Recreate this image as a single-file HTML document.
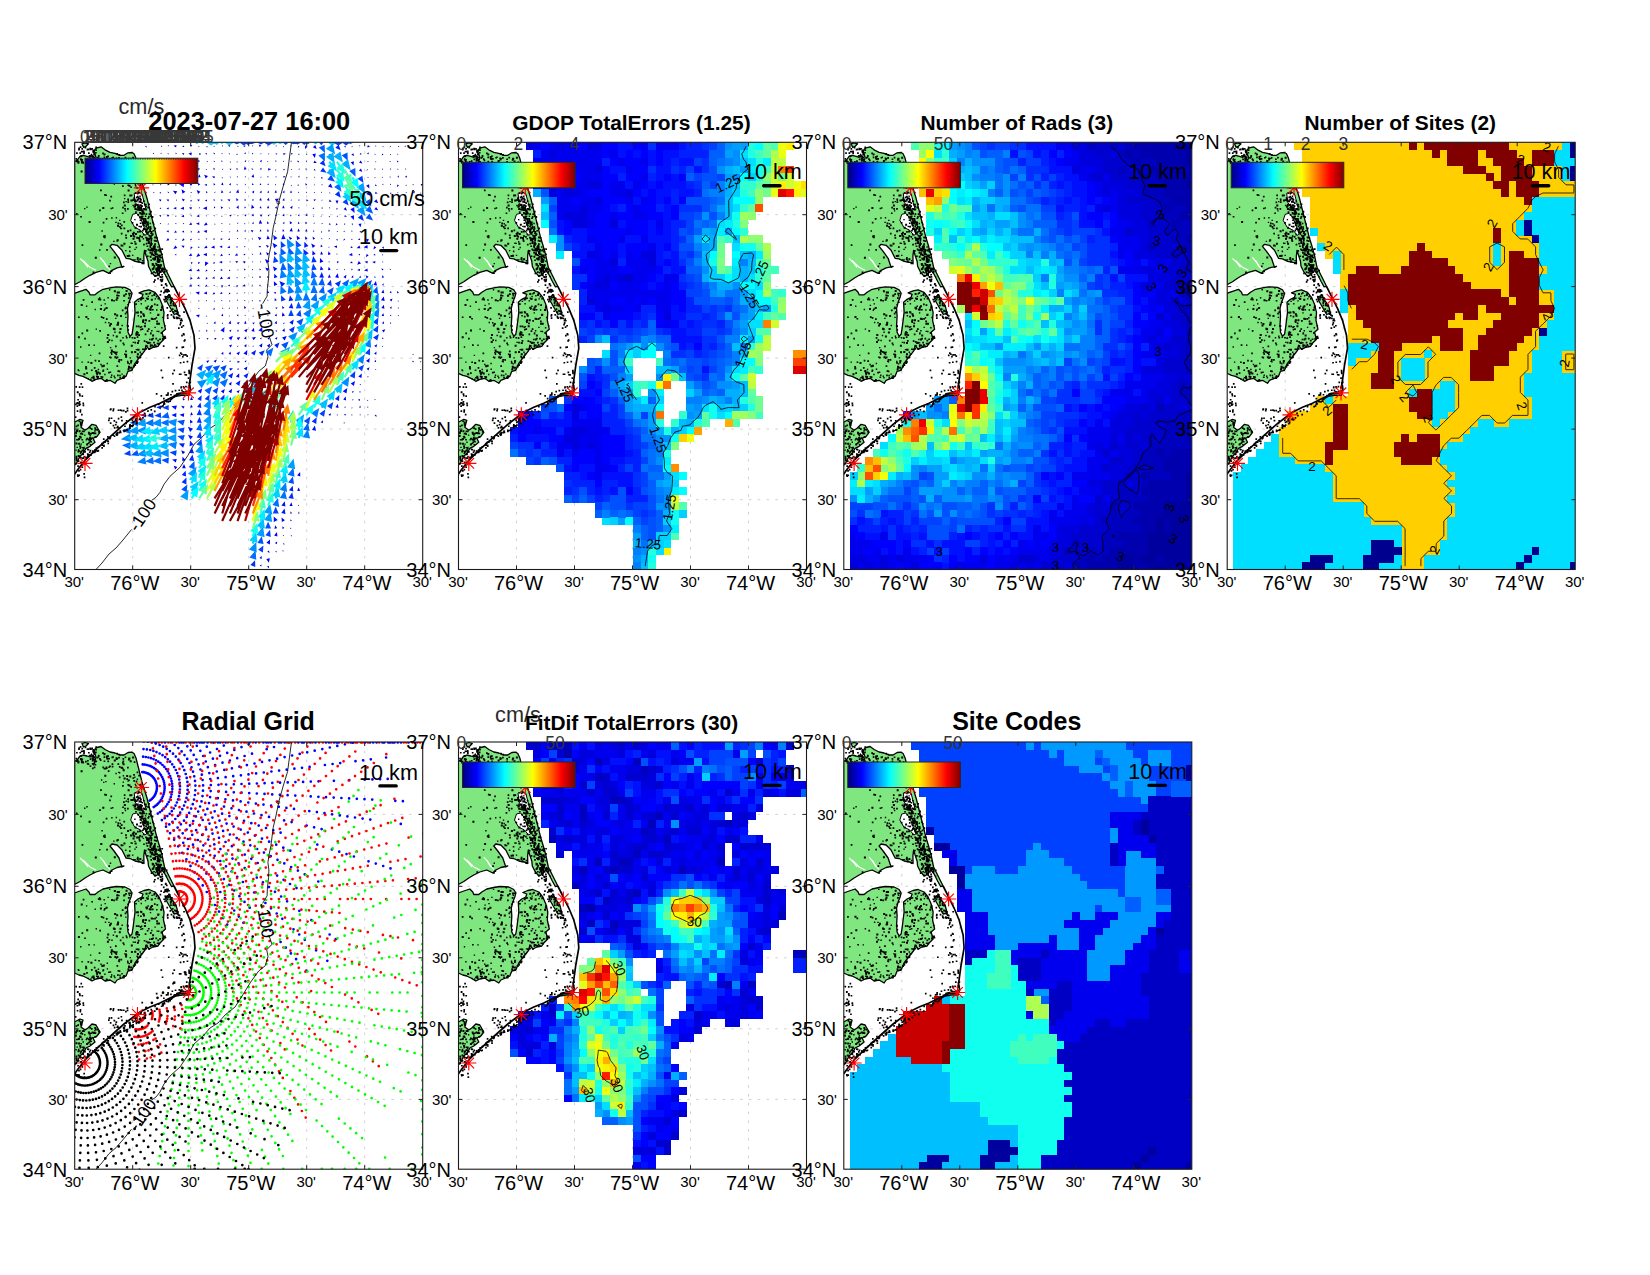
<!DOCTYPE html><html><head><meta charset="utf-8"><title>HFR Totals QC 2023-07-27 16:00</title>
<style>html,body{margin:0;padding:0;background:#fff}svg{display:block}</style></head><body>
<svg width="1650" height="1275" viewBox="0 0 1650 1275" font-family="'Liberation Sans',Arial,Helvetica,sans-serif">
<defs><linearGradient id="jet" x1="0" x2="1" y1="0" y2="0"><stop offset="0%" stop-color="#000080"/><stop offset="3.1%" stop-color="#00009f"/><stop offset="6.2%" stop-color="#0000bf"/><stop offset="9.4%" stop-color="#0000df"/><stop offset="12.5%" stop-color="#0000ff"/><stop offset="15.6%" stop-color="#0020ff"/><stop offset="18.8%" stop-color="#0040ff"/><stop offset="21.9%" stop-color="#0060ff"/><stop offset="25%" stop-color="#0080ff"/><stop offset="28.1%" stop-color="#009fff"/><stop offset="31.2%" stop-color="#00bfff"/><stop offset="34.4%" stop-color="#00dfff"/><stop offset="37.5%" stop-color="#00ffff"/><stop offset="40.6%" stop-color="#20ffdf"/><stop offset="43.8%" stop-color="#40ffbf"/><stop offset="46.9%" stop-color="#60ff9f"/><stop offset="50%" stop-color="#80ff80"/><stop offset="53.1%" stop-color="#9fff60"/><stop offset="56.2%" stop-color="#bfff40"/><stop offset="59.4%" stop-color="#dfff20"/><stop offset="62.5%" stop-color="#ffff00"/><stop offset="65.6%" stop-color="#ffdf00"/><stop offset="68.8%" stop-color="#ffbf00"/><stop offset="71.9%" stop-color="#ff9f00"/><stop offset="75%" stop-color="#ff8000"/><stop offset="78.1%" stop-color="#ff6000"/><stop offset="81.2%" stop-color="#ff4000"/><stop offset="84.4%" stop-color="#ff2000"/><stop offset="87.5%" stop-color="#ff0000"/><stop offset="90.6%" stop-color="#df0000"/><stop offset="93.8%" stop-color="#bf0000"/><stop offset="96.9%" stop-color="#9f0000"/><stop offset="100%" stop-color="#800000"/></linearGradient><clipPath id="ax"><rect x="0" y="0" width="348" height="427.2"/></clipPath><g id="land"><g fill="#80e680" stroke="#000" stroke-width="1.3" stroke-linejoin="round"><path d="M-0.2 19.5 2.8 17.5 5.3 14 8.3 13 12.3 14 15.3 15 16.8 12 18.8 15.5 20.3 19 21.3 15 19.3 10 20.3 7 22.3 5.5 26.3 4.5 30.3 7.5 35.3 10 40.3 11 45.3 13 49.3 13 53.3 10.5 57.3 10.2 59.3 11.5 61.3 16 63.3 24 65.3 32 67.3 40 69.8 48 72.3 56 74.3 64 76.3 72 78.3 80 80.3 88 82.3 96 84.8 104 87.3 113 89.8 125 91.3 128 95.3 136 99.3 144 96.8 144.5 93.8 139 90.3 132 87.3 128 85.3 124 83.3 124 82.8 133 80.3 134 76.3 129 73.8 124 73.3 119 71.3 113 69.8 108 69.1 114 69.3 121.5 68.3 120.5 60.3 119 55.3 116.5 51.3 116 47.3 108 42.3 103 37.3 102 35.3 104 39.3 109 44.3 116 47.3 125 49.3 124 42.3 125.5 37.3 128 34.3 131 28.3 128 21.3 130 15.3 133 10.3 136 5.3 139.5 -0.2 142.5Z"/><path d="M-0.2 151 5.3 149 11.3 147 14.3 150 15.3 152.5 20.3 152.5 23.3 150 28.3 147 35.3 145.5 41.3 144.5 50.3 145 55.3 147.5 57.3 151 56.3 155 54.3 160 52.8 166 53.3 174 52.8 183 53.3 190 55.3 194 57.3 192 58.3 186 59.3 178 60.3 170 59.8 160 63.3 157 67.3 155 68.3 152 64.3 150.5 69.3 148.5 74.3 147.5 80.3 150 84.3 155 87.3 162 89.3 170 88.8 178 90.8 187 87.3 190 89.3 197 85.3 201 83.3 204 78.3 205 74.3 207 71.3 203 70.3 208 67.3 212 63.3 217 60.3 221 57.3 228 53.3 229 51.3 234 47.3 236 42.3 238 40.3 241 35.3 238 30.3 239 26.3 236 21.3 237 17.3 239 12.3 236 8.3 234 4.3 233 -0.2 231Z"/><path d="M-0.2 280 5.3 277 8.3 278 6.3 285 10.3 288 13.3 286 17.3 282 21.3 283 25.3 290 22.3 294 18.3 296 20.3 300 15.3 304 11.3 306 9.3 310 5.3 314 2.3 320 -0.2 323Z"/><path d="M90.3 154 95.3 155 101.3 163 103.3 171 99.3 172 95.3 165 91.3 158Z"/><path d="M7.3 1.5 10.3 0.5 13.8 1.5 11.3 4 8.8 5Z"/><path d="M115.3 248 114.3 253 107.3 253 101.3 254 95.3 257.5 103.3 251 109.3 250Z"/></g><path d="M59.5 51 64 49.5 67.5 52 69.5 60 71 66 68 67 64 65 60.5 60ZM56 78 58 72 62 71 66 76 69 84 72 92 70 93 66 88 60 85Z" fill="#fff" stroke="#000" stroke-width="1"/><path d="M99.3 144 103.3 152 110.3 166 115.3 178 119.3 193 120.3 206 117.3 223 114.3 245 115.3 244 115.8 248 114.3 251 105.3 251.5 95.3 256 85.3 261 75.3 265 65.3 270 57.3 276 49.3 282 40.3 290 30.3 299 20.3 308 10.3 318 3.3 327 -0.2 332" fill="none" stroke="#000" stroke-width="1.7"/><path d="M8.3 118 15.3 125 21.3 128" fill="none" stroke="#fff" stroke-width="1.2"/><path d="M28.3 118 31.3 123 35.3 127.5" fill="none" stroke="#fff" stroke-width="1.2"/><path d="M5.3 116 10.3 121 13.3 125" fill="none" stroke="#fff" stroke-width="1.2"/><path d="M25.3 115 29.3 120 32.3 125" fill="none" stroke="#fff" stroke-width="1.2"/><path d="M5.5 73.6h1.7v1.7h-1.7zM59.9 84.5h2v2h-2zM55.3 92.6h2v2h-2zM67.7 81.8h1.7v1.7h-1.7zM64.6 62h2v2h-2zM25.6 101.1h2v2h-2zM66.6 93.8h1.7v1.7h-1.7zM83.9 118.8h1.7v1.7h-1.7zM64.9 55.2h1.4v1.4h-1.4zM46.1 85.4h1.4v1.4h-1.4zM70.3 66.2h2v2h-2zM13.9 78.8h2v2h-2zM28.3 93.2h1.7v1.7h-1.7zM74.9 110h1.4v1.4h-1.4zM77.7 107.3h2v2h-2zM75.1 68.5h2v2h-2zM62 115.9h2v2h-2zM62.3 88.7h1.7v1.7h-1.7zM62.4 50.8h1.4v1.4h-1.4zM62.9 118.2h2v2h-2zM82.9 112.6h1.4v1.4h-1.4zM52.9 47.3h2v2h-2zM9.3 65.6h1.4v1.4h-1.4zM48.7 100.4h2v2h-2zM76.7 73.6h2v2h-2zM11.6 64.1h1.4v1.4h-1.4zM40.7 30.8h1.4v1.4h-1.4zM68 95.7h1.4v1.4h-1.4zM41 74.8h1.4v1.4h-1.4zM36.5 75h1.4v1.4h-1.4zM80.7 98h1.7v1.7h-1.7zM47.5 25.8h1.4v1.4h-1.4zM48.9 35.6h2v2h-2zM79.1 102.5h1.7v1.7h-1.7zM63.2 55.2h1.7v1.7h-1.7zM56.9 100.4h1.4v1.4h-1.4zM29.4 51.7h1.7v1.7h-1.7zM55.7 57.1h2v2h-2zM71.3 95.3h2v2h-2zM59.6 106.4h1.4v1.4h-1.4zM35.8 65.5h1.4v1.4h-1.4zM59.5 98.7h1.4v1.4h-1.4zM61.7 66.7h1.4v1.4h-1.4zM58.6 93.2h1.4v1.4h-1.4zM59 19.3h1.7v1.7h-1.7zM64.2 42.2h1.7v1.7h-1.7zM64.8 58.8h1.7v1.7h-1.7zM56 52.3h1.7v1.7h-1.7zM52.3 24.8h1.7v1.7h-1.7zM52.9 57.2h1.4v1.4h-1.4zM52.3 65.7h1.7v1.7h-1.7zM40.6 79.4h1.4v1.4h-1.4zM32.5 13.2h1.7v1.7h-1.7zM54.6 52.2h2v2h-2zM80.6 126.6h1.4v1.4h-1.4zM50.1 67.9h1.4v1.4h-1.4zM80.4 129.8h1.4v1.4h-1.4zM59.5 76.6h1.4v1.4h-1.4zM34.4 57.5h1.7v1.7h-1.7zM70.2 73.2h1.4v1.4h-1.4zM83.9 106.2h1.4v1.4h-1.4zM63.1 54.9h1.7v1.7h-1.7zM42 15.8h1.4v1.4h-1.4zM34.6 130.1h1.7v1.7h-1.7zM5.9 28.3h2v2h-2zM58.6 38h1.7v1.7h-1.7zM68.5 86.4h1.4v1.4h-1.4zM78.2 112.1h1.7v1.7h-1.7zM74.5 86.4h1.7v1.7h-1.7zM47.4 102.9h1.4v1.4h-1.4zM72.2 113.1h1.7v1.7h-1.7zM79.9 132.6h1.7v1.7h-1.7zM57.3 112.4h1.4v1.4h-1.4zM61.9 29.5h1.7v1.7h-1.7zM47.1 70.1h1.7v1.7h-1.7zM50.7 94.7h1.7v1.7h-1.7zM38.9 41.1h1.4v1.4h-1.4zM47.9 21.2h2v2h-2zM57.7 92.3h2v2h-2zM49.2 55.6h1.4v1.4h-1.4zM63.9 96.8h1.7v1.7h-1.7zM57 79.8h1.7v1.7h-1.7zM61.7 44.7h1.7v1.7h-1.7zM62.6 64.8h1.4v1.4h-1.4zM77.8 121.3h1.7v1.7h-1.7zM50.4 92.3h1.7v1.7h-1.7zM59.8 57.2h1.7v1.7h-1.7zM35.7 53.5h1.7v1.7h-1.7zM72.6 64.1h2v2h-2zM85.1 106.3h1.4v1.4h-1.4zM61.3 81.5h2v2h-2zM55 87.3h1.7v1.7h-1.7zM80.2 108.1h2v2h-2zM85.9 122h1.4v1.4h-1.4zM59.9 100.5h2v2h-2zM68.8 82.7h1.4v1.4h-1.4zM71.8 103.1h1.4v1.4h-1.4zM60 41.7h1.4v1.4h-1.4zM75.2 93.7h1.7v1.7h-1.7zM74.9 101.1h2v2h-2zM84.7 108.1h2v2h-2zM36 128.2h1.7v1.7h-1.7zM42.8 80.3h1.7v1.7h-1.7zM55 18.3h2v2h-2zM31 75.7h1.7v1.7h-1.7zM28.3 39.7h1.4v1.4h-1.4zM24.4 107h1.4v1.4h-1.4zM54.5 108.6h1.4v1.4h-1.4zM63.5 94.6h2v2h-2zM64.6 93h1.7v1.7h-1.7zM43.4 29.7h1.4v1.4h-1.4zM66.3 51.1h1.4v1.4h-1.4zM61 104.5h1.4v1.4h-1.4zM28 79.5h1.7v1.7h-1.7zM33.7 123.3h1.7v1.7h-1.7zM64.5 69.8h1.7v1.7h-1.7zM46.1 90.4h1.7v1.7h-1.7zM60.5 43.1h1.4v1.4h-1.4zM50.4 107.6h1.4v1.4h-1.4zM52.7 38.4h1.4v1.4h-1.4zM45 80.8h1.4v1.4h-1.4zM47.3 43h1.7v1.7h-1.7zM47.9 39.4h1.4v1.4h-1.4zM62.2 114.8h1.7v1.7h-1.7zM52.7 58.9h1.7v1.7h-1.7zM57.8 95.4h2v2h-2zM58.1 89.4h2v2h-2zM60.2 90.7h2v2h-2zM62.3 53.5h1.7v1.7h-1.7zM53.4 37.4h1.7v1.7h-1.7zM73.5 61.1h1.7v1.7h-1.7zM20.2 22h1.4v1.4h-1.4zM71 100.8h1.4v1.4h-1.4zM58.7 56.4h2v2h-2zM41.7 98.1h1.4v1.4h-1.4zM53.8 42.4h2v2h-2zM66.8 120h2v2h-2zM30.5 38.9h1.4v1.4h-1.4zM52 112.7h2v2h-2zM44.2 30h1.4v1.4h-1.4zM45.3 85.5h1.4v1.4h-1.4zM26.7 88h1.4v1.4h-1.4zM46.2 82.2h1.7v1.7h-1.7zM56.8 57.6h1.4v1.4h-1.4zM37.3 65h1.4v1.4h-1.4zM74.7 102.9h1.7v1.7h-1.7zM88.7 125.7h1.4v1.4h-1.4zM31.5 106.7h1.7v1.7h-1.7zM67.2 117.7h1.4v1.4h-1.4zM79.9 132.9h1.7v1.7h-1.7zM77.6 125.5h2v2h-2zM44.1 34.6h1.7v1.7h-1.7zM82.6 104h1.4v1.4h-1.4zM51.5 33h2v2h-2zM54.4 108.3h1.4v1.4h-1.4zM86.7 118.2h1.4v1.4h-1.4zM63.6 32.7h1.7v1.7h-1.7zM60.9 38.5h1.7v1.7h-1.7zM59.7 116.9h1.4v1.4h-1.4zM29 93.9h2v2h-2zM91.1 133.6h1.4v1.4h-1.4zM44.3 77.4h1.4v1.4h-1.4zM52.4 87.9h2v2h-2zM70.2 107.8h1.7v1.7h-1.7zM66.8 59.9h1.7v1.7h-1.7zM72.7 84.9h2v2h-2zM65.8 41.8h1.7v1.7h-1.7zM47.5 64.4h1.7v1.7h-1.7zM57.8 35.2h1.7v1.7h-1.7zM58.9 63.4h2v2h-2zM65.1 56.5h2v2h-2zM64.2 65.7h1.4v1.4h-1.4zM49.9 14.4h1.7v1.7h-1.7zM55.8 100.3h1.4v1.4h-1.4zM48 27.3h2v2h-2zM53.7 15.5h2v2h-2zM39.1 114.2h2v2h-2zM37.8 14.3h1.4v1.4h-1.4zM39.1 17.6h2v2h-2zM58.2 117h1.4v1.4h-1.4zM65 83.9h1.4v1.4h-1.4zM33.6 24.6h1.4v1.4h-1.4zM64.3 97.9h1.7v1.7h-1.7zM53.3 16.7h1.7v1.7h-1.7zM52.6 56.2h1.7v1.7h-1.7zM63.1 49.5h2v2h-2zM74.8 80.5h1.4v1.4h-1.4zM48 33h1.4v1.4h-1.4zM50.8 58.6h1.4v1.4h-1.4zM48.7 78.7h1.7v1.7h-1.7zM17.9 129.2h1.7v1.7h-1.7zM76.5 110h2v2h-2zM29.6 32.8h2v2h-2zM57.8 62.5h1.4v1.4h-1.4zM29.5 92.6h1.4v1.4h-1.4zM54.2 103.9h1.7v1.7h-1.7zM63.7 83.4h1.4v1.4h-1.4zM79.3 112.6h1.4v1.4h-1.4zM58.5 32h1.7v1.7h-1.7zM59.7 65.7h2v2h-2zM73.9 71h2v2h-2zM78.4 81.1h1.4v1.4h-1.4zM51.7 36.2h1.7v1.7h-1.7zM45.9 102.3h2v2h-2zM77.5 79.5h1.4v1.4h-1.4zM1.2 70.6h1.7v1.7h-1.7zM42.3 82.5h2v2h-2zM53.5 15.8h1.7v1.7h-1.7zM30.6 52.1h1.7v1.7h-1.7zM62 36.5h1.4v1.4h-1.4zM58.6 55h1.7v1.7h-1.7zM35.1 120.6h1.4v1.4h-1.4zM57.2 90.8h1.4v1.4h-1.4zM33.1 28.3h1.7v1.7h-1.7zM49.1 62.1h2v2h-2zM64.3 88.3h2v2h-2zM79.5 94.2h2v2h-2zM48.8 85.3h1.7v1.7h-1.7zM64.6 116h2v2h-2zM53.5 112.4h2v2h-2zM87.2 126.3h2v2h-2zM79.9 116.6h1.4v1.4h-1.4zM57.4 14.4h2v2h-2zM52.7 42.1h1.7v1.7h-1.7zM79.4 85.3h2v2h-2zM58.9 93.5h1.7v1.7h-1.7zM49.1 52.3h1.7v1.7h-1.7zM44.4 83.7h1.7v1.7h-1.7zM57.8 91.5h1.4v1.4h-1.4zM82.9 112.3h2v2h-2zM83.9 113.5h1.4v1.4h-1.4zM63.8 58.7h1.7v1.7h-1.7zM55.6 44.1h1.7v1.7h-1.7zM26.2 37.3h1.4v1.4h-1.4zM59.5 34.4h1.4v1.4h-1.4zM38.5 98.4h1.4v1.4h-1.4zM82 115.5h2v2h-2zM24.4 67.2h1.7v1.7h-1.7zM31.3 13.6h1.4v1.4h-1.4zM54.6 33.4h2v2h-2zM61.5 94.5h2v2h-2zM2.7 19.5h2v2h-2zM82.7 124.1h2v2h-2zM60.4 49.9h1.7v1.7h-1.7zM20.1 114.5h2v2h-2zM61.3 58.3h1.4v1.4h-1.4zM80.9 106.6h1.7v1.7h-1.7zM40.9 15.2h1.7v1.7h-1.7zM6.9 102h1.7v1.7h-1.7zM48.3 59.2h1.7v1.7h-1.7zM25.4 47.2h1.7v1.7h-1.7zM68.2 57.9h1.7v1.7h-1.7zM83.8 116.5h2v2h-2zM80.1 113.7h1.4v1.4h-1.4zM42 96.9h2v2h-2zM68.5 75.7h1.4v1.4h-1.4zM81.3 94.6h1.7v1.7h-1.7zM49.5 65.7h1.7v1.7h-1.7zM27.6 64.7h2v2h-2zM64.6 53.2h1.4v1.4h-1.4zM59.2 195h1.7v1.7h-1.7zM26.1 174h1.7v1.7h-1.7zM67.7 171h2v2h-2zM22.7 229.2h2v2h-2zM67.6 179.1h1.7v1.7h-1.7zM42.3 181.3h2v2h-2zM43.9 228.2h1.7v1.7h-1.7zM27.9 174.7h1.7v1.7h-1.7zM11.2 163.2h1.4v1.4h-1.4zM64.7 214.7h1.4v1.4h-1.4zM52.3 218.5h1.4v1.4h-1.4zM82.8 155.3h2v2h-2zM51.2 194.6h1.7v1.7h-1.7zM24.2 230.2h2v2h-2zM29.2 166.1h1.7v1.7h-1.7zM81.4 167h1.4v1.4h-1.4zM62.4 214.5h1.7v1.7h-1.7zM19 236.5h1.4v1.4h-1.4zM20.9 186.1h1.4v1.4h-1.4zM76.2 202.2h2v2h-2zM42.3 232.2h1.7v1.7h-1.7zM81.5 153.1h1.4v1.4h-1.4zM77.4 192.2h2v2h-2zM53.3 224.1h2v2h-2zM76.2 196.1h2v2h-2zM39.4 209.2h1.7v1.7h-1.7zM65.2 156.3h2v2h-2zM68.3 172.5h2v2h-2zM79.9 155.9h1.4v1.4h-1.4zM36.1 207.3h2v2h-2zM65.9 160.8h1.4v1.4h-1.4zM40.8 211.3h1.7v1.7h-1.7zM50 170.5h1.7v1.7h-1.7zM55.5 219.4h1.7v1.7h-1.7zM25.8 233.8h1.4v1.4h-1.4zM55.1 150.6h1.4v1.4h-1.4zM23.5 217.9h1.7v1.7h-1.7zM43.2 218.4h1.4v1.4h-1.4zM3.2 193.9h2v2h-2zM66.2 183.6h1.4v1.4h-1.4zM35.6 209.6h1.4v1.4h-1.4zM28.8 167.4h1.4v1.4h-1.4zM50.9 193.2h1.4v1.4h-1.4zM50.8 165.2h1.4v1.4h-1.4zM75.1 199.9h1.4v1.4h-1.4zM54.1 152.7h1.4v1.4h-1.4zM77.4 175.9h1.7v1.7h-1.7zM30.2 237.8h1.4v1.4h-1.4zM32.7 154.7h1.4v1.4h-1.4zM65.2 214.4h1.4v1.4h-1.4zM75.2 190.4h1.7v1.7h-1.7zM60.5 160.9h1.7v1.7h-1.7zM74.7 149.7h1.7v1.7h-1.7zM55.4 224.4h2v2h-2zM47.1 167.2h1.7v1.7h-1.7zM82.7 171.4h2v2h-2zM62.2 206.4h1.7v1.7h-1.7zM83.4 200.4h2v2h-2zM59.5 221.3h1.7v1.7h-1.7zM79.4 175.7h1.7v1.7h-1.7zM10.5 225.3h2v2h-2zM17.8 233.4h2v2h-2zM76.7 152.7h1.4v1.4h-1.4zM35.7 234.1h1.7v1.7h-1.7zM21.3 233.4h1.7v1.7h-1.7zM75.1 203.7h1.4v1.4h-1.4zM12.8 219.1h1.7v1.7h-1.7zM62.8 206.4h2v2h-2zM62.2 191.8h1.4v1.4h-1.4zM53 187h1.4v1.4h-1.4zM3.3 174.1h1.7v1.7h-1.7zM60.9 169.5h1.7v1.7h-1.7zM52.1 182.8h2v2h-2zM60.7 191.8h1.7v1.7h-1.7zM65.6 169.1h2v2h-2zM47.1 145.1h1.4v1.4h-1.4zM19.1 224.8h1.7v1.7h-1.7zM70.1 157.9h1.4v1.4h-1.4zM73.8 177.8h1.7v1.7h-1.7zM42.8 227.9h1.7v1.7h-1.7zM39.1 148h2v2h-2zM87.2 195.6h2v2h-2zM11.5 187.2h2v2h-2zM78.5 199.5h1.7v1.7h-1.7zM25.2 165.6h2v2h-2zM38 192.5h1.4v1.4h-1.4zM67.7 155.1h1.7v1.7h-1.7zM12.7 175.6h1.7v1.7h-1.7zM81 153.9h1.4v1.4h-1.4zM47.6 234.3h2v2h-2zM83.2 180.4h2v2h-2zM25.9 162.4h1.4v1.4h-1.4zM56.1 202.5h2v2h-2zM78.6 151.6h2v2h-2zM50.4 164.2h1.4v1.4h-1.4zM54.9 214.9h1.4v1.4h-1.4zM48.6 201.8h1.4v1.4h-1.4zM6.8 190.2h1.7v1.7h-1.7zM15.7 219.8h2v2h-2zM28.1 222.5h2v2h-2zM6 161.6h2v2h-2zM68.6 206.2h1.7v1.7h-1.7zM59.6 199.4h1.7v1.7h-1.7zM76.4 187.8h1.4v1.4h-1.4zM81.5 178.2h1.7v1.7h-1.7zM75.5 190h1.4v1.4h-1.4zM80.7 195.5h1.7v1.7h-1.7zM19.9 166.5h1.4v1.4h-1.4zM69.6 180.3h1.7v1.7h-1.7zM84.5 196.1h1.7v1.7h-1.7zM32.2 198.8h2v2h-2zM72.4 199.9h1.7v1.7h-1.7zM44.6 232.5h1.4v1.4h-1.4zM25 156.1h1.4v1.4h-1.4zM36.3 232.3h1.4v1.4h-1.4zM52.8 226.2h2v2h-2zM58.2 223.1h2v2h-2zM43.5 152.8h1.4v1.4h-1.4zM49.4 211.2h1.4v1.4h-1.4zM72.4 155.5h1.7v1.7h-1.7zM56.9 194.6h1.7v1.7h-1.7zM12.8 235.7h1.4v1.4h-1.4zM42 214.2h1.7v1.7h-1.7zM36.3 157h2v2h-2zM62.3 189.7h1.7v1.7h-1.7zM87.5 174.5h1.4v1.4h-1.4zM50.5 151h1.7v1.7h-1.7zM40.4 175.4h1.4v1.4h-1.4zM50.4 208.2h1.7v1.7h-1.7zM88.5 194.5h2v2h-2zM71.5 166.1h1.4v1.4h-1.4zM8.7 231h2v2h-2zM56.2 208.9h2v2h-2zM50.9 147.7h2v2h-2zM65.3 168.7h1.4v1.4h-1.4zM85.5 166.8h2v2h-2zM65.5 186.7h1.4v1.4h-1.4zM81.8 188.4h1.4v1.4h-1.4zM2.9 227h1.4v1.4h-1.4zM18 235h2v2h-2zM62.9 172.8h1.4v1.4h-1.4zM36.4 208.5h1.4v1.4h-1.4zM33.8 196.9h1.7v1.7h-1.7zM74.9 166.4h2v2h-2zM22.9 233.8h1.4v1.4h-1.4zM41.6 152.2h2v2h-2zM46.8 182.5h1.4v1.4h-1.4zM86.4 184.7h1.4v1.4h-1.4zM49.9 165.2h1.7v1.7h-1.7zM43.8 216.8h1.7v1.7h-1.7zM26.7 222.9h2v2h-2zM62 194h1.7v1.7h-1.7zM61.8 213.5h1.7v1.7h-1.7zM41.7 154.8h2v2h-2zM29.8 160.9h1.4v1.4h-1.4zM79.2 161.2h1.7v1.7h-1.7zM54 220.9h1.4v1.4h-1.4zM45.1 197.5h1.7v1.7h-1.7zM38.8 233.3h1.4v1.4h-1.4zM89.5 182.8h1.4v1.4h-1.4zM6.7 219.1h1.4v1.4h-1.4zM48.7 152.2h2v2h-2zM50.4 211.4h2v2h-2zM54.2 159.1h1.7v1.7h-1.7zM61.1 183.3h1.7v1.7h-1.7zM70.4 205.5h2v2h-2zM31.2 236.6h1.7v1.7h-1.7zM64.4 214.5h1.4v1.4h-1.4zM35.2 214.4h1.7v1.7h-1.7zM72.9 153.4h1.4v1.4h-1.4zM48.4 232.9h2v2h-2zM66.9 185.9h1.7v1.7h-1.7zM65.8 211h1.7v1.7h-1.7zM61 206.6h1.4v1.4h-1.4zM35.1 229.3h1.4v1.4h-1.4zM78 203.1h2v2h-2zM16.6 234.6h1.4v1.4h-1.4zM31.9 194.8h1.7v1.7h-1.7zM31.6 237.4h1.7v1.7h-1.7zM32.5 191.6h2v2h-2zM79.7 184.4h1.4v1.4h-1.4zM75.2 164.3h2v2h-2zM44.8 185.7h2v2h-2zM20.5 228.2h1.7v1.7h-1.7zM47.6 194.8h1.4v1.4h-1.4zM24.8 156.5h1.7v1.7h-1.7zM5.3 204h1.4v1.4h-1.4zM30.9 164.8h2v2h-2zM83.3 188.5h1.4v1.4h-1.4zM45.3 172.6h2v2h-2zM24 210.2h1.7v1.7h-1.7zM39.7 214h2v2h-2zM73.2 185.9h1.7v1.7h-1.7zM50.4 213.5h2v2h-2zM67.3 178.1h1.7v1.7h-1.7zM85.9 189.6h2v2h-2zM46.6 231.1h1.4v1.4h-1.4zM64.8 209.3h1.4v1.4h-1.4zM82 200.4h1.7v1.7h-1.7zM33.5 179.7h1.4v1.4h-1.4zM73.1 199.5h2v2h-2zM77.2 166.6h1.7v1.7h-1.7zM41.5 172.2h2v2h-2zM32 226.2h1.4v1.4h-1.4zM82.7 197.5h1.7v1.7h-1.7zM34.3 146.7h1.4v1.4h-1.4zM35.2 204.6h1.4v1.4h-1.4zM44.7 234.5h1.7v1.7h-1.7zM70.2 177h2v2h-2zM55.8 227.1h1.7v1.7h-1.7zM62.2 199.7h2v2h-2zM41.1 215.3h1.4v1.4h-1.4zM70.8 150.7h2v2h-2zM76.2 163h2v2h-2zM53.3 223.5h2v2h-2zM52.4 219.8h1.7v1.7h-1.7zM48 234.6h2v2h-2zM53.2 155.1h1.4v1.4h-1.4zM40.3 203.2h1.7v1.7h-1.7zM74.4 196.5h1.4v1.4h-1.4zM20.5 227.8h2v2h-2zM42 149.1h2v2h-2zM31.9 220.5h1.4v1.4h-1.4zM21.6 231.3h1.7v1.7h-1.7zM28.8 157h1.4v1.4h-1.4zM13.5 201.9h1.7v1.7h-1.7zM18.8 202.2h1.4v1.4h-1.4zM61.3 188.9h2v2h-2zM38.2 185.4h2v2h-2zM62 218.4h2v2h-2zM75.1 202h1.7v1.7h-1.7zM76.1 156.4h2v2h-2zM60.7 190.1h1.7v1.7h-1.7zM57.9 199.4h1.4v1.4h-1.4zM35.2 180.7h2v2h-2zM51.2 169h1.7v1.7h-1.7zM15.2 212.4h1.4v1.4h-1.4zM19.9 217.4h1.7v1.7h-1.7zM81.6 180.5h2v2h-2zM71.6 202.7h1.4v1.4h-1.4zM8 156.8h1.7v1.7h-1.7zM67.3 206.2h1.4v1.4h-1.4zM11.5 230h1.7v1.7h-1.7zM16.6 158.9h1.7v1.7h-1.7zM59.5 208.8h2v2h-2zM41.8 223h1.7v1.7h-1.7zM60.2 209.3h1.4v1.4h-1.4zM53.3 155h1.7v1.7h-1.7zM34.4 214.1h1.7v1.7h-1.7zM69.2 182.9h2v2h-2zM30.1 179.5h1.4v1.4h-1.4zM65.4 173.4h1.7v1.7h-1.7zM76.1 175.4h2v2h-2zM71.9 155.7h2v2h-2zM39.4 170.9h2v2h-2zM73.8 150.8h1.4v1.4h-1.4zM3.4 227.6h1.4v1.4h-1.4zM62.2 169.2h2v2h-2zM72.1 187.9h1.7v1.7h-1.7zM64.9 213.2h1.4v1.4h-1.4zM71.2 155.2h1.4v1.4h-1.4zM33.4 229.4h1.7v1.7h-1.7zM44.1 189.2h2v2h-2zM27.6 228.2h1.4v1.4h-1.4zM61.3 219.6h2v2h-2zM21.2 230h1.7v1.7h-1.7zM86.7 163.2h2v2h-2zM39.6 189.3h1.4v1.4h-1.4zM70.7 164.4h2v2h-2zM38.5 157.6h1.7v1.7h-1.7zM53.5 150.4h2v2h-2zM31.2 176h1.7v1.7h-1.7zM36.6 197.5h1.4v1.4h-1.4zM63.2 158.4h1.4v1.4h-1.4zM52.6 161.6h1.4v1.4h-1.4zM71.6 164.9h1.7v1.7h-1.7zM64.4 214.9h1.4v1.4h-1.4zM26.6 234h2v2h-2zM39.5 234.8h1.4v1.4h-1.4zM79.1 150.7h1.7v1.7h-1.7zM55.6 217.7h2v2h-2zM69 197.9h1.7v1.7h-1.7zM24.2 154.9h1.4v1.4h-1.4zM10.5 223.7h1.7v1.7h-1.7zM47.8 200.3h1.7v1.7h-1.7zM44 218.8h1.4v1.4h-1.4zM23 226.5h1.4v1.4h-1.4zM79.3 201.8h1.7v1.7h-1.7zM72.7 163.3h1.4v1.4h-1.4zM23.2 156.2h1.7v1.7h-1.7zM75.1 169.9h1.4v1.4h-1.4zM48.5 157.6h1.7v1.7h-1.7zM24.6 187.7h1.7v1.7h-1.7zM40.9 156.4h2v2h-2zM36.3 211.4h1.4v1.4h-1.4zM63.6 192h1.7v1.7h-1.7zM41.5 209.3h1.4v1.4h-1.4zM10.7 173.8h2v2h-2zM16.2 227.1h1.7v1.7h-1.7zM22.3 235.3h1.7v1.7h-1.7zM36.2 210.5h1.4v1.4h-1.4zM71.1 198.7h1.7v1.7h-1.7zM39.8 209.7h2v2h-2zM42.4 179.4h2v2h-2zM87.9 193.6h1.7v1.7h-1.7zM27.8 227.2h1.7v1.7h-1.7zM45.8 216.8h1.7v1.7h-1.7zM43.2 149.1h2v2h-2zM62.2 211h2v2h-2zM38.9 185.9h2v2h-2zM82.5 172.1h1.7v1.7h-1.7zM70 191.2h1.7v1.7h-1.7zM67.7 177h2v2h-2zM81 174.8h1.4v1.4h-1.4zM41.8 181.7h1.7v1.7h-1.7zM10.8 173.7h1.4v1.4h-1.4zM86.4 164.5h2v2h-2zM54.3 194.2h1.4v1.4h-1.4zM48.5 152.8h1.7v1.7h-1.7zM37.9 208.7h1.7v1.7h-1.7zM25.6 221.5h1.4v1.4h-1.4zM59.4 221.7h2v2h-2zM29.5 231.5h1.4v1.4h-1.4zM41.1 193.3h2v2h-2zM9.5 195.4h1.7v1.7h-1.7zM81.8 162h1.7v1.7h-1.7zM80.6 203.2h1.7v1.7h-1.7zM50.5 174.4h1.4v1.4h-1.4zM34.3 182.2h2v2h-2zM15.6 236.3h1.4v1.4h-1.4zM0.9 283.2h1.7v1.7h-1.7zM14.9 298.3h1.4v1.4h-1.4zM5.2 281.2h2v2h-2zM8.2 288.1h1.4v1.4h-1.4zM6.7 296.6h1.7v1.7h-1.7zM10.9 296.9h1.4v1.4h-1.4zM3.2 306.7h1.4v1.4h-1.4zM0.7 307.1h1.4v1.4h-1.4zM0.8 290.2h1.4v1.4h-1.4zM2.6 282.3h1.7v1.7h-1.7zM1.8 287.2h1.7v1.7h-1.7zM20.9 293.8h1.4v1.4h-1.4zM2.8 296.4h1.7v1.7h-1.7zM13.8 290.9h1.7v1.7h-1.7zM0.8 315.2h2v2h-2zM19.6 284.9h2v2h-2zM8.3 308.1h1.7v1.7h-1.7zM8.5 305.6h1.4v1.4h-1.4zM5.1 310.3h1.4v1.4h-1.4zM12.4 300.6h1.4v1.4h-1.4zM9.5 308.7h1.7v1.7h-1.7zM5.5 304.6h1.4v1.4h-1.4zM4.8 305.2h1.4v1.4h-1.4zM13.2 300.2h1.4v1.4h-1.4zM23.4 288.4h2v2h-2zM5.2 290.8h1.4v1.4h-1.4zM4.6 303h2v2h-2zM5.9 282.3h1.7v1.7h-1.7zM14.7 285h1.7v1.7h-1.7zM6.8 291h1.7v1.7h-1.7zM13.2 296.2h2v2h-2zM5.3 294.4h1.7v1.7h-1.7zM7.8 299.3h1.4v1.4h-1.4zM3.9 288h2v2h-2zM4.3 293.6h1.4v1.4h-1.4zM13.2 289.5h2v2h-2zM1.3 287.7h2v2h-2zM2.8 308.5h1.7v1.7h-1.7zM0.8 313.4h1.7v1.7h-1.7zM13.9 299.2h1.7v1.7h-1.7zM11.5 296.1h1.4v1.4h-1.4zM11.4 301.1h2v2h-2zM1.3 296.9h1.4v1.4h-1.4zM4.6 293.4h2v2h-2zM15.6 295.5h1.7v1.7h-1.7zM16.8 295h1.4v1.4h-1.4zM3.1 318h1.7v1.7h-1.7zM0.6 292.5h1.4v1.4h-1.4zM0.8 300.2h2v2h-2zM5.8 301.1h1.4v1.4h-1.4zM3.4 295.7h2v2h-2zM21.6 286.7h1.7v1.7h-1.7zM8.7 304.5h1.4v1.4h-1.4zM8.4 305.1h1.7v1.7h-1.7zM15.5 290.4h1.7v1.7h-1.7zM3.4 300.5h2v2h-2zM8.7 288.5h1.4v1.4h-1.4zM7.8 307h1.4v1.4h-1.4zM19.5 288h1.4v1.4h-1.4zM5.5 308.5h2v2h-2zM11.7 295.5h1.7v1.7h-1.7zM19.8 294h1.7v1.7h-1.7zM9.4 292.1h1.4v1.4h-1.4zM5.1 279.3h2v2h-2zM15.9 298.7h1.4v1.4h-1.4zM14 296.4h2v2h-2zM3 312.6h2v2h-2zM1.8 304.4h1.4v1.4h-1.4zM16.2 286h1.7v1.7h-1.7zM19.9 290.2h1.7v1.7h-1.7zM17 289.6h2v2h-2zM7.4 311h2v2h-2zM3.8 278.1h1.7v1.7h-1.7zM1.7 296.8h1.4v1.4h-1.4zM14.4 294.7h1.4v1.4h-1.4zM7.1 288.3h1.7v1.7h-1.7zM1.1 317.3h1.7v1.7h-1.7zM6.1 290.1h1.4v1.4h-1.4zM0.8 320.5h1.7v1.7h-1.7zM14.8 292.4h1.4v1.4h-1.4zM0.4 293h1.7v1.7h-1.7zM15 301.6h1.4v1.4h-1.4zM14.8 294.3h1.4v1.4h-1.4zM14.9 295.9h2v2h-2zM20 286.6h1.4v1.4h-1.4zM7.4 304.6h1.7v1.7h-1.7zM3.1 307.7h2v2h-2zM18.5 289.9h2v2h-2zM4.4 314h1.7v1.7h-1.7zM0.4 289.2h2v2h-2zM1.3 18.2h1.7v1.7h-1.7zM0.7 15.7h1.7v1.7h-1.7zM17.6 8.3h1.7v1.7h-1.7zM8.4 8.1h1.7v1.7h-1.7zM15.5 13.5h1.7v1.7h-1.7zM13.3 9.9h1.7v1.7h-1.7zM12.9 21.2h1.7v1.7h-1.7zM17.1 21.1h1.7v1.7h-1.7zM5.4 13.3h1.7v1.7h-1.7zM8.5 10.2h1.7v1.7h-1.7zM17.7 7.1h1.7v1.7h-1.7zM12.3 17.9h1.7v1.7h-1.7zM20.6 4.3h1.7v1.7h-1.7zM6 12.9h1.7v1.7h-1.7zM20.6 6.9h1.7v1.7h-1.7zM18.5 11.1h1.7v1.7h-1.7zM12.1 20.7h1.7v1.7h-1.7zM1.4 9.9h1.7v1.7h-1.7zM3.4 6.4h1.7v1.7h-1.7zM6.7 16.6h1.7v1.7h-1.7zM12.8 6.2h1.7v1.7h-1.7zM17.6 13.1h1.7v1.7h-1.7zM3.1 18.8h1.7v1.7h-1.7zM18.1 7.9h1.7v1.7h-1.7zM20.7 18.6h1.7v1.7h-1.7zM5 4h1.7v1.7h-1.7zM19.1 18.9h1.7v1.7h-1.7zM2.1 17.8h1.7v1.7h-1.7zM17 15.4h1.7v1.7h-1.7zM18.3 21.7h1.7v1.7h-1.7zM7.2 19h1.7v1.7h-1.7zM20.3 9.6h1.7v1.7h-1.7zM15 16.3h1.7v1.7h-1.7zM18.7 14.2h1.7v1.7h-1.7zM6.1 8.5h1.7v1.7h-1.7zM11.9 6.4h1.7v1.7h-1.7zM18.9 20h1.7v1.7h-1.7zM5.3 16.6h1.7v1.7h-1.7zM14.8 6.2h1.7v1.7h-1.7zM17.1 17.8h1.7v1.7h-1.7zM6.7 5.8h1.7v1.7h-1.7zM6.2 17.9h1.7v1.7h-1.7zM10.3 18.7h1.7v1.7h-1.7zM3.5 5.9h1.7v1.7h-1.7zM7.7 19.8h1.7v1.7h-1.7zM3.6 5.3h1.7v1.7h-1.7zM16.6 5.6h1.7v1.7h-1.7zM14.7 5.5h1.7v1.7h-1.7zM5.4 15.9h1.7v1.7h-1.7zM19.2 11.4h1.7v1.7h-1.7zM9.9 4.6h1.7v1.7h-1.7zM7.5 8.4h1.7v1.7h-1.7zM17.4 16.9h1.7v1.7h-1.7zM17.3 13.6h1.7v1.7h-1.7zM15.4 6.3h1.7v1.7h-1.7zM8.5 9.3h1.7v1.7h-1.7zM6.2 17.3h1.7v1.7h-1.7zM4.7 9.9h1.7v1.7h-1.7zM6.2 19.6h1.7v1.7h-1.7zM14 12.7h1.7v1.7h-1.7zM27.7 24.6h1.7v1.7h-1.7zM47.8 16.1h1.7v1.7h-1.7zM34.4 23.5h1.7v1.7h-1.7zM23.2 12.7h1.7v1.7h-1.7zM17.7 17h1.7v1.7h-1.7zM41.7 10.8h1.7v1.7h-1.7zM29.6 25.8h1.7v1.7h-1.7zM31.3 14.9h1.7v1.7h-1.7zM44.2 24.1h1.7v1.7h-1.7zM27.5 10.2h1.7v1.7h-1.7zM36.9 21.3h1.7v1.7h-1.7zM47.2 19.9h1.7v1.7h-1.7zM25.1 17.3h1.7v1.7h-1.7zM24.4 16h1.7v1.7h-1.7zM30.9 24.4h1.7v1.7h-1.7zM46.6 24.7h1.7v1.7h-1.7zM31.2 25.4h1.7v1.7h-1.7zM19 24.6h1.7v1.7h-1.7zM37 23.7h1.7v1.7h-1.7zM28.9 25.8h1.7v1.7h-1.7zM14.9 23.3h1.7v1.7h-1.7zM43.5 14.7h1.7v1.7h-1.7zM43.8 11.8h1.7v1.7h-1.7zM41.1 16.4h1.7v1.7h-1.7zM28.8 11.5h1.7v1.7h-1.7zM42.8 21.2h1.7v1.7h-1.7zM17.2 25.6h1.7v1.7h-1.7zM22 14.8h1.7v1.7h-1.7zM28.9 18.4h1.7v1.7h-1.7zM46 25h1.7v1.7h-1.7zM36.8 14.6h1.7v1.7h-1.7zM17.9 9.2h1.7v1.7h-1.7zM32.7 18.5h1.7v1.7h-1.7zM30.1 25.7h1.7v1.7h-1.7zM28.9 14.3h1.7v1.7h-1.7zM29.1 11.1h1.7v1.7h-1.7zM47.8 18.6h1.7v1.7h-1.7zM33.5 15.7h1.7v1.7h-1.7zM23 13.7h1.7v1.7h-1.7zM31.8 16h1.7v1.7h-1.7zM82.8 127.6h1.7v1.7h-1.7zM64.9 66.6h1.7v1.7h-1.7zM82 114.2h1.7v1.7h-1.7zM70.8 88.2h1.7v1.7h-1.7zM75.5 95.3h1.7v1.7h-1.7zM78.3 106.4h1.7v1.7h-1.7zM84.5 123.1h1.7v1.7h-1.7zM72.4 96.8h1.7v1.7h-1.7zM70.8 70.9h1.7v1.7h-1.7zM80.1 110.5h1.7v1.7h-1.7zM66.3 75.3h1.7v1.7h-1.7zM67 69.2h1.7v1.7h-1.7zM71.9 89.6h1.7v1.7h-1.7zM73 100h1.7v1.7h-1.7zM69.2 85.4h1.7v1.7h-1.7zM76.8 105.5h1.7v1.7h-1.7zM79.2 102.4h1.7v1.7h-1.7zM83.3 117.3h1.7v1.7h-1.7zM76.1 88.8h1.7v1.7h-1.7zM64.9 77.1h1.7v1.7h-1.7zM76.8 107.5h1.7v1.7h-1.7zM84.6 112.2h1.7v1.7h-1.7zM84.1 117.1h1.7v1.7h-1.7zM62 56.5h1.7v1.7h-1.7zM59.6 57.8h1.7v1.7h-1.7zM68.4 78h1.7v1.7h-1.7zM75.1 113.8h1.7v1.7h-1.7zM61.2 58.3h1.7v1.7h-1.7zM67 70.9h1.7v1.7h-1.7zM77.5 105.5h1.7v1.7h-1.7zM71.9 103.1h1.7v1.7h-1.7zM68.6 70.5h1.7v1.7h-1.7zM75.6 99.5h1.7v1.7h-1.7zM67.9 79.9h1.7v1.7h-1.7zM69.6 80.5h1.7v1.7h-1.7zM74.8 109.1h1.7v1.7h-1.7zM80.3 110.8h1.7v1.7h-1.7zM75.1 93.2h1.7v1.7h-1.7zM85 121.8h1.7v1.7h-1.7zM77.2 107.3h1.7v1.7h-1.7zM75.5 73.1h1.7v1.7h-1.7zM67.2 79.4h1.7v1.7h-1.7zM60.4 68.9h1.7v1.7h-1.7zM84.3 117.3h1.7v1.7h-1.7zM64.4 55.4h1.7v1.7h-1.7zM63.2 63.5h1.7v1.7h-1.7zM65.8 64.1h1.7v1.7h-1.7zM74.6 88.1h1.7v1.7h-1.7zM75 94.1h1.7v1.7h-1.7zM78.3 124.4h1.7v1.7h-1.7zM72.2 96.4h1.7v1.7h-1.7zM83 121.6h1.7v1.7h-1.7zM70.3 61.5h1.7v1.7h-1.7zM75.3 107h1.7v1.7h-1.7zM76 95.2h1.7v1.7h-1.7zM74.9 104.3h1.7v1.7h-1.7zM68.4 101.4h1.7v1.7h-1.7zM82.7 107.4h1.7v1.7h-1.7zM69.7 75.6h1.7v1.7h-1.7zM67.3 68.7h1.7v1.7h-1.7zM59.7 61.5h1.7v1.7h-1.7zM62.6 71.8h1.7v1.7h-1.7zM75.6 90.1h1.7v1.7h-1.7zM83.1 126.5h1.7v1.7h-1.7zM86.1 127.6h1.7v1.7h-1.7zM82.5 124.8h1.7v1.7h-1.7zM82.5 118.9h1.7v1.7h-1.7zM59.1 63.4h1.7v1.7h-1.7zM65.5 62.3h1.7v1.7h-1.7zM72.9 106.2h1.7v1.7h-1.7zM86.6 111.1h1.7v1.7h-1.7zM82.7 115.2h1.7v1.7h-1.7zM79.6 115h1.7v1.7h-1.7zM77.2 90.9h1.7v1.7h-1.7zM80.5 120.4h1.7v1.7h-1.7zM81 126.9h1.7v1.7h-1.7zM62.4 61.4h1.7v1.7h-1.7zM57.4 57h1.7v1.7h-1.7zM67.3 87.4h1.7v1.7h-1.7zM59.4 58h1.7v1.7h-1.7zM70 76.3h1.7v1.7h-1.7zM79.6 109.9h1.7v1.7h-1.7zM69.2 66.2h1.7v1.7h-1.7zM62.2 64.7h1.7v1.7h-1.7zM87.3 125.1h1.7v1.7h-1.7zM85.3 129h1.7v1.7h-1.7zM87 125.6h1.7v1.7h-1.7zM73.8 107.1h1.7v1.7h-1.7zM75.8 92.4h1.7v1.7h-1.7zM68.1 65.6h1.7v1.7h-1.7zM71.5 86.4h1.7v1.7h-1.7zM79.4 103.7h1.7v1.7h-1.7zM78.9 122.7h1.7v1.7h-1.7zM66.7 70.2h1.7v1.7h-1.7zM69 79.5h1.7v1.7h-1.7zM64.3 58.4h1.7v1.7h-1.7zM76.8 91.8h1.7v1.7h-1.7zM76.2 111.5h1.7v1.7h-1.7zM80.1 109.9h1.7v1.7h-1.7zM83.9 112.5h1.7v1.7h-1.7zM72.6 81.8h1.7v1.7h-1.7zM59.6 63.3h1.7v1.7h-1.7zM63.6 63.3h1.7v1.7h-1.7zM74.9 113.5h1.7v1.7h-1.7zM79.1 97.5h1.7v1.7h-1.7zM73.5 99.1h1.7v1.7h-1.7zM78.1 111.6h1.7v1.7h-1.7zM71.1 86.5h1.7v1.7h-1.7zM73 96.9h1.7v1.7h-1.7zM73.1 83.8h1.7v1.7h-1.7zM69.2 61.6h1.7v1.7h-1.7zM73 88.9h1.7v1.7h-1.7zM70.6 83.3h1.7v1.7h-1.7zM84.4 125h1.7v1.7h-1.7zM72.3 90.7h1.7v1.7h-1.7zM82.4 117.2h1.7v1.7h-1.7zM66.1 74.1h1.7v1.7h-1.7zM65.6 83.5h1.7v1.7h-1.7zM84.7 114.1h1.7v1.7h-1.7zM71 100.5h1.7v1.7h-1.7zM76.9 107.8h1.7v1.7h-1.7zM79.5 109h1.7v1.7h-1.7zM79 116.5h1.7v1.7h-1.7zM80.6 125.2h1.7v1.7h-1.7zM61.5 62h1.7v1.7h-1.7zM81.8 125.1h1.7v1.7h-1.7zM65.2 64.3h1.7v1.7h-1.7zM72.5 79.2h1.7v1.7h-1.7zM83 115.7h1.7v1.7h-1.7zM88.6 126.7h1.7v1.7h-1.7zM68.4 79.4h1.7v1.7h-1.7zM75.5 102h1.7v1.7h-1.7zM71.6 80.8h1.7v1.7h-1.7zM66.3 67.4h1.7v1.7h-1.7zM79.5 100.9h1.7v1.7h-1.7zM73.4 98.5h1.7v1.7h-1.7zM81.6 113.5h1.7v1.7h-1.7zM85.2 122.4h1.7v1.7h-1.7zM68 69.1h1.7v1.7h-1.7zM72.8 85.2h1.7v1.7h-1.7zM68.2 85.8h1.7v1.7h-1.7zM83.5 122.6h1.7v1.7h-1.7zM83.4 124.1h1.7v1.7h-1.7zM86.7 105.9h1.7v1.7h-1.7zM72.7 75.1h1.7v1.7h-1.7zM83.2 107.3h1.7v1.7h-1.7zM74.8 94.2h1.7v1.7h-1.7zM79.8 106.2h1.7v1.7h-1.7zM61.2 54.3h1.7v1.7h-1.7zM64.7 73.9h1.7v1.7h-1.7zM78.4 116.2h1.7v1.7h-1.7zM67.9 76.4h1.7v1.7h-1.7zM71.5 81.4h1.7v1.7h-1.7zM77.1 121.7h1.7v1.7h-1.7zM66.5 63h1.7v1.7h-1.7zM74.8 95.3h1.7v1.7h-1.7zM73.5 99.9h1.7v1.7h-1.7zM80.5 111.2h1.7v1.7h-1.7zM65.5 59.1h1.7v1.7h-1.7zM64.4 64.1h1.7v1.7h-1.7zM72.3 80.9h1.7v1.7h-1.7zM64.9 70.5h1.7v1.7h-1.7zM81.7 128h1.7v1.7h-1.7zM64.5 74.6h1.7v1.7h-1.7zM89.1 128.6h1.7v1.7h-1.7zM67.5 68.9h1.7v1.7h-1.7zM83.7 125.1h1.7v1.7h-1.7zM79.2 104.3h1.7v1.7h-1.7zM67.3 67.8h1.7v1.7h-1.7zM66.5 73.2h1.7v1.7h-1.7zM68.2 91.5h1.7v1.7h-1.7zM71.2 89.2h1.7v1.7h-1.7zM84.1 116.6h1.7v1.7h-1.7zM76.3 100.7h1.7v1.7h-1.7zM63.3 65h1.7v1.7h-1.7zM70.5 63.5h1.7v1.7h-1.7zM78.9 114.9h1.7v1.7h-1.7zM70.4 78.2h1.7v1.7h-1.7zM64.5 67.1h1.7v1.7h-1.7zM75.8 96.5h1.7v1.7h-1.7zM71.8 84.9h1.7v1.7h-1.7zM82.4 125.7h1.7v1.7h-1.7zM83.8 124.6h1.7v1.7h-1.7zM71.4 97.2h1.7v1.7h-1.7zM73.3 73.8h1.7v1.7h-1.7zM75.2 85.6h1.7v1.7h-1.7zM62.8 63.2h1.7v1.7h-1.7zM77 120.7h1.7v1.7h-1.7zM65.7 65.7h1.7v1.7h-1.7zM65.1 80.1h1.7v1.7h-1.7zM75.7 117.1h1.7v1.7h-1.7zM70.9 79.1h1.7v1.7h-1.7zM81.5 111.3h1.7v1.7h-1.7zM69.4 86h1.7v1.7h-1.7zM76.8 111.6h1.7v1.7h-1.7zM81.5 122h1.7v1.7h-1.7zM70.9 78.8h1.7v1.7h-1.7zM64 58.6h1.7v1.7h-1.7zM70.5 94.5h1.7v1.7h-1.7zM73.6 96h1.7v1.7h-1.7zM84.8 124.3h1.7v1.7h-1.7zM78 103.7h1.7v1.7h-1.7zM79 106h1.7v1.7h-1.7zM67.1 73.3h1.7v1.7h-1.7zM60.2 65.8h1.7v1.7h-1.7zM73.2 95.4h1.7v1.7h-1.7zM76.5 110.6h1.7v1.7h-1.7zM86.5 127.6h1.7v1.7h-1.7zM76.1 106h1.7v1.7h-1.7zM85.5 114.6h1.7v1.7h-1.7zM81.1 121.2h1.7v1.7h-1.7zM77.5 115.4h1.7v1.7h-1.7zM91.1 127.4h1.7v1.7h-1.7zM73.7 92.4h1.7v1.7h-1.7zM62.8 66.8h1.7v1.7h-1.7zM75 84h1.7v1.7h-1.7zM78.7 102.8h1.7v1.7h-1.7zM75.7 97.4h1.7v1.7h-1.7zM66.8 75.4h1.7v1.7h-1.7zM81.9 118h1.7v1.7h-1.7zM70.8 88h1.7v1.7h-1.7zM88.7 129.1h1.7v1.7h-1.7zM79.5 108.8h1.7v1.7h-1.7zM68.9 80.2h1.7v1.7h-1.7zM77.9 87.6h1.7v1.7h-1.7zM66.6 71.1h1.7v1.7h-1.7zM62.4 56.8h1.7v1.7h-1.7zM70.1 77.9h1.7v1.7h-1.7zM72.8 97.5h1.7v1.7h-1.7zM76.5 107.1h1.7v1.7h-1.7zM90.7 148.6h1.7v1.7h-1.7zM84.1 127h1.7v1.7h-1.7zM91.9 148.3h1.7v1.7h-1.7zM100.3 168h1.7v1.7h-1.7zM98 169h1.7v1.7h-1.7zM88.4 149.4h1.7v1.7h-1.7zM86.8 133.8h1.7v1.7h-1.7zM98.2 174.2h1.7v1.7h-1.7zM82.6 130.6h1.7v1.7h-1.7zM91.2 142.5h1.7v1.7h-1.7zM90.7 154.9h1.7v1.7h-1.7zM86.1 141.9h1.7v1.7h-1.7zM101.4 170.4h1.7v1.7h-1.7zM84.7 133.8h1.7v1.7h-1.7zM98 173.3h1.7v1.7h-1.7zM81.3 128.2h1.7v1.7h-1.7zM94.2 152.1h1.7v1.7h-1.7zM92.2 171.8h1.7v1.7h-1.7zM76 130.2h1.7v1.7h-1.7zM84.8 151.7h1.7v1.7h-1.7zM104.1 172.8h1.7v1.7h-1.7zM103 172.3h1.7v1.7h-1.7zM86 138.2h1.7v1.7h-1.7zM94.7 153.9h1.7v1.7h-1.7zM95.9 171.7h1.7v1.7h-1.7zM86.7 137.8h1.7v1.7h-1.7zM97.1 166h1.7v1.7h-1.7zM103.3 172.2h1.7v1.7h-1.7zM85.8 137.7h1.7v1.7h-1.7zM85.1 136.8h1.7v1.7h-1.7zM97.8 160.4h1.7v1.7h-1.7zM101.9 171h1.7v1.7h-1.7zM84.3 128.6h1.7v1.7h-1.7zM83.5 132.2h1.7v1.7h-1.7zM78.5 128.9h1.7v1.7h-1.7zM93.5 147.9h1.7v1.7h-1.7zM91.7 164.7h1.7v1.7h-1.7zM93.5 151.6h1.7v1.7h-1.7zM78.6 138.7h1.7v1.7h-1.7zM98 161.5h1.7v1.7h-1.7zM95.8 158.5h1.7v1.7h-1.7zM92.3 152.9h1.7v1.7h-1.7zM99.3 167.4h1.7v1.7h-1.7zM77 126.2h1.7v1.7h-1.7zM93.3 151.9h1.7v1.7h-1.7zM102.3 171.1h1.7v1.7h-1.7zM91.6 147h1.7v1.7h-1.7zM92.6 154.6h1.7v1.7h-1.7zM91.2 146.5h1.7v1.7h-1.7zM98.9 160.7h1.7v1.7h-1.7zM86.5 131.6h1.7v1.7h-1.7zM94.8 168.1h1.7v1.7h-1.7zM102.3 169.1h1.7v1.7h-1.7zM99.5 162.7h1.7v1.7h-1.7zM96.1 154.9h1.7v1.7h-1.7zM92.5 146.6h1.7v1.7h-1.7zM79.4 136.9h1.7v1.7h-1.7zM82.5 135.5h1.7v1.7h-1.7zM84.9 128.8h1.7v1.7h-1.7zM86.9 136.1h1.7v1.7h-1.7zM89.7 147h1.7v1.7h-1.7zM90.3 140.8h1.7v1.7h-1.7zM91.9 148.8h1.7v1.7h-1.7zM95.2 160h1.7v1.7h-1.7zM90.1 141.2h1.7v1.7h-1.7zM83.7 130.1h1.7v1.7h-1.7zM88.6 156.4h1.7v1.7h-1.7zM83.6 130.3h1.7v1.7h-1.7zM97.8 162.3h1.7v1.7h-1.7zM83.3 131.4h1.7v1.7h-1.7zM96.6 155.6h1.7v1.7h-1.7zM89.4 148.6h1.7v1.7h-1.7zM95.2 159.3h1.7v1.7h-1.7zM85.2 134.3h1.7v1.7h-1.7zM85.6 148.2h1.7v1.7h-1.7zM102.3 174.7h1.7v1.7h-1.7zM94.3 152.8h1.7v1.7h-1.7zM94.7 156.5h1.7v1.7h-1.7zM99.4 161.9h1.7v1.7h-1.7zM98.9 175h1.7v1.7h-1.7zM88.2 144.6h1.7v1.7h-1.7zM96.1 157.6h1.7v1.7h-1.7zM101.1 168.3h1.7v1.7h-1.7zM101.1 174.2h1.7v1.7h-1.7zM83.8 128.3h1.7v1.7h-1.7zM95.4 162.2h1.7v1.7h-1.7zM91.9 156.5h1.7v1.7h-1.7zM81.5 125.1h1.7v1.7h-1.7zM81.4 128.6h1.7v1.7h-1.7zM83.6 126.4h1.7v1.7h-1.7zM110.3 211.8h1.7v1.7h-1.7zM113 234.9h1.7v1.7h-1.7zM107.8 204h1.7v1.7h-1.7zM111.9 218.4h1.7v1.7h-1.7zM111.6 212.9h1.7v1.7h-1.7zM101.5 175.3h1.7v1.7h-1.7zM106.5 192.5h1.7v1.7h-1.7zM105.2 210h1.7v1.7h-1.7zM106.4 177.6h1.7v1.7h-1.7zM109.7 231.6h1.7v1.7h-1.7zM107.8 182.6h1.7v1.7h-1.7zM108.5 211.7h1.7v1.7h-1.7zM101.1 204.5h1.7v1.7h-1.7zM111.2 239.3h1.7v1.7h-1.7zM114.7 239.3h1.7v1.7h-1.7zM103.3 184.9h1.7v1.7h-1.7zM105.2 177.5h1.7v1.7h-1.7zM108.2 219.1h1.7v1.7h-1.7zM109.3 196.9h1.7v1.7h-1.7zM104.1 212.2h1.7v1.7h-1.7zM105.9 176.4h1.7v1.7h-1.7zM105.3 179.7h1.7v1.7h-1.7zM110.4 243.5h1.7v1.7h-1.7zM103.9 175.3h1.7v1.7h-1.7zM106.7 204.2h1.7v1.7h-1.7zM110.7 231.7h1.7v1.7h-1.7zM113.7 230.3h1.7v1.7h-1.7zM105.9 175.9h1.7v1.7h-1.7zM104.7 181.5h1.7v1.7h-1.7zM106.3 211.1h1.7v1.7h-1.7zM108.4 191.4h1.7v1.7h-1.7zM108.8 197.7h1.7v1.7h-1.7zM103.9 175.1h1.7v1.7h-1.7zM113.6 229h1.7v1.7h-1.7zM105.2 231.1h1.7v1.7h-1.7zM109 229.2h1.7v1.7h-1.7zM113.9 239.9h1.7v1.7h-1.7zM113.5 227.5h1.7v1.7h-1.7zM108 190.8h1.7v1.7h-1.7zM112.9 244.2h1.7v1.7h-1.7zM63.1 197.8h1.7v1.7h-1.7zM66.7 259.7h1.7v1.7h-1.7zM85.8 227.2h1.7v1.7h-1.7zM87 234.4h1.7v1.7h-1.7zM77.5 195.5h1.7v1.7h-1.7zM98.7 227.3h1.7v1.7h-1.7zM106.2 184h1.7v1.7h-1.7zM104.1 231.1h1.7v1.7h-1.7zM89.8 194.9h1.7v1.7h-1.7zM89.5 158.5h1.7v1.7h-1.7zM65 184.2h1.7v1.7h-1.7zM66.4 155.4h1.7v1.7h-1.7zM97.3 230.5h1.7v1.7h-1.7zM92 172.7h1.7v1.7h-1.7zM97.5 240.8h1.7v1.7h-1.7zM92.2 175h1.7v1.7h-1.7zM89.4 193.4h1.7v1.7h-1.7zM74 166.3h1.7v1.7h-1.7zM105 219.6h1.7v1.7h-1.7zM108.5 168.9h1.7v1.7h-1.7zM73.7 206h1.7v1.7h-1.7zM63.1 183.2h1.7v1.7h-1.7zM88.1 203h1.7v1.7h-1.7zM107.3 213.5h1.7v1.7h-1.7zM93.2 214.4h1.7v1.7h-1.7zM87.5 262.8h1.7v1.7h-1.7zM108 248.6h1.7v1.7h-1.7zM88.2 260.9h1.7v1.7h-1.7zM28.3 302.1h1.7v1.7h-1.7zM74.1 271.5h1.7v1.7h-1.7zM56.9 283.3h1.7v1.7h-1.7zM5.6 319.1h1.7v1.7h-1.7zM26.5 300.5h1.7v1.7h-1.7zM5.3 319.4h1.7v1.7h-1.7zM39 293h1.7v1.7h-1.7zM48.5 287.2h1.7v1.7h-1.7zM7 315.3h1.7v1.7h-1.7zM92.9 258.8h1.7v1.7h-1.7zM5.3 314.4h1.7v1.7h-1.7zM29.5 298.9h1.7v1.7h-1.7zM26.6 302h1.7v1.7h-1.7zM91.1 258.6h1.7v1.7h-1.7zM57.6 282h1.7v1.7h-1.7zM63.9 276.2h1.7v1.7h-1.7zM69.9 272.4h1.7v1.7h-1.7zM75.7 266.7h1.7v1.7h-1.7zM44.7 287.9h1.7v1.7h-1.7zM12.2 306.3h1.7v1.7h-1.7zM95.8 256.3h1.7v1.7h-1.7zM100 247.4h1.7v1.7h-1.7zM23 303.8h1.7v1.7h-1.7zM41.4 292h1.7v1.7h-1.7zM91 252h1.7v1.7h-1.7zM92.4 251.7h1.7v1.7h-1.7zM32.3 293.8h1.7v1.7h-1.7zM65.3 276.7h1.7v1.7h-1.7zM45.1 289.2h1.7v1.7h-1.7zM15.5 311.7h1.7v1.7h-1.7zM19.3 307.2h1.7v1.7h-1.7zM34.2 295.6h1.7v1.7h-1.7zM60.1 276.8h1.7v1.7h-1.7zM94.6 257.9h1.7v1.7h-1.7zM61.1 278h1.7v1.7h-1.7zM22.8 307.4h1.7v1.7h-1.7zM13.1 311.7h1.7v1.7h-1.7zM41.8 289.5h1.7v1.7h-1.7zM14.2 309.1h1.7v1.7h-1.7zM28 299.3h1.7v1.7h-1.7zM7.8 314.9h1.7v1.7h-1.7zM14.9 307.4h1.7v1.7h-1.7zM13.4 311.5h1.7v1.7h-1.7zM86.1 263.4h1.7v1.7h-1.7zM60.6 275.4h1.7v1.7h-1.7zM40.7 290.9h1.7v1.7h-1.7zM49.4 287.6h1.7v1.7h-1.7zM61.7 273.5h1.7v1.7h-1.7zM85.8 252.8h1.7v1.7h-1.7zM61.6 279.4h1.7v1.7h-1.7zM105.7 244h1.7v1.7h-1.7zM106.9 249.3h1.7v1.7h-1.7zM64.7 275.5h1.7v1.7h-1.7zM51.1 287h1.7v1.7h-1.7zM28.2 296h1.7v1.7h-1.7zM79.5 263.6h1.7v1.7h-1.7zM79.2 268.3h1.7v1.7h-1.7zM81.1 250.7h1.7v1.7h-1.7zM89 260.8h1.7v1.7h-1.7zM32.7 298.1h1.7v1.7h-1.7zM103.7 247.1h1.7v1.7h-1.7zM51.9 286.8h1.7v1.7h-1.7zM54.4 284.9h1.7v1.7h-1.7zM60.9 280.5h1.7v1.7h-1.7zM55.8 282.8h1.7v1.7h-1.7zM12.4 312.4h1.7v1.7h-1.7zM41.6 290.3h1.7v1.7h-1.7zM57.5 279.2h1.7v1.7h-1.7zM19 309.3h1.7v1.7h-1.7zM6.9 307.4h1.7v1.7h-1.7zM34.5 295.1h1.7v1.7h-1.7zM41.9 291.2h1.7v1.7h-1.7zM56.8 277.3h1.7v1.7h-1.7zM88.6 259.7h1.7v1.7h-1.7zM26.6 304.8h1.7v1.7h-1.7zM43.7 289.5h1.7v1.7h-1.7zM106.4 247.2h1.7v1.7h-1.7zM51.1 277.7h1.7v1.7h-1.7zM72.4 268h1.7v1.7h-1.7zM67.4 274.8h1.7v1.7h-1.7zM8.8 313.6h1.7v1.7h-1.7zM105.6 244.6h1.7v1.7h-1.7zM12 313.7h1.7v1.7h-1.7zM83.2 261.3h1.7v1.7h-1.7zM34.8 294.6h1.7v1.7h-1.7zM101.4 250.8h1.7v1.7h-1.7zM98.9 252.4h1.7v1.7h-1.7zM28.4 303h1.7v1.7h-1.7zM108 243.6h1.7v1.7h-1.7zM17.1 309.5h1.7v1.7h-1.7zM12.9 306.6h1.7v1.7h-1.7zM48.5 288.3h1.7v1.7h-1.7zM88.3 255.4h1.7v1.7h-1.7zM17.3 308h1.7v1.7h-1.7zM90.5 258.1h1.7v1.7h-1.7zM54.5 281.6h1.7v1.7h-1.7zM32.1 297.9h1.7v1.7h-1.7zM20.8 307.4h1.7v1.7h-1.7zM22.2 307.9h1.7v1.7h-1.7zM96.8 248.4h1.7v1.7h-1.7zM20.8 304.9h1.7v1.7h-1.7zM55.4 282.9h1.7v1.7h-1.7zM32.7 300.3h1.7v1.7h-1.7zM101.8 252.1h1.7v1.7h-1.7zM69 270.3h1.7v1.7h-1.7zM95.4 251.6h1.7v1.7h-1.7zM10.3 314.4h1.7v1.7h-1.7zM96.5 254.9h1.7v1.7h-1.7zM19.4 307h1.7v1.7h-1.7zM58.8 278.4h1.7v1.7h-1.7zM54.4 283.3h1.7v1.7h-1.7zM19.8 308.5h1.7v1.7h-1.7zM37.4 291.9h1.7v1.7h-1.7zM92.5 250h1.7v1.7h-1.7zM108.4 244.6h1.7v1.7h-1.7zM12.2 311h1.7v1.7h-1.7zM31.9 298h1.7v1.7h-1.7zM49.4 283.1h1.7v1.7h-1.7zM36 275.1h1.7v1.7h-1.7zM54.3 282.8h1.7v1.7h-1.7zM42.9 267.1h1.7v1.7h-1.7zM43 275.4h1.7v1.7h-1.7zM50.3 268.7h1.7v1.7h-1.7zM39.1 284.7h1.7v1.7h-1.7zM33.3 277.2h1.7v1.7h-1.7zM35.1 280h1.7v1.7h-1.7zM42.3 283.5h1.7v1.7h-1.7zM37.9 282.5h1.7v1.7h-1.7zM38 266h1.7v1.7h-1.7zM34.9 266.5h1.7v1.7h-1.7zM41.6 284.4h1.7v1.7h-1.7zM40.8 279.3h1.7v1.7h-1.7zM33.8 275.3h1.7v1.7h-1.7zM44.9 267h1.7v1.7h-1.7zM45.8 273.9h1.7v1.7h-1.7zM40.2 281.6h1.7v1.7h-1.7zM48.2 267.4h1.7v1.7h-1.7zM35.3 266h1.7v1.7h-1.7zM38.8 277.7h1.7v1.7h-1.7zM54.3 284.4h1.7v1.7h-1.7zM52 267.5h1.7v1.7h-1.7zM50.4 280.2h1.7v1.7h-1.7zM43.4 284.9h1.7v1.7h-1.7zM46.2 267.4h1.7v1.7h-1.7zM37.7 267.6h1.7v1.7h-1.7zM46.4 277.5h1.7v1.7h-1.7zM51.9 265.2h1.7v1.7h-1.7zM0.1 274h1.7v1.7h-1.7zM2.1 249.2h1.7v1.7h-1.7zM6.9 243.9h1.7v1.7h-1.7zM6.3 271.4h1.7v1.7h-1.7zM4.5 261.3h1.7v1.7h-1.7zM0 261.2h1.7v1.7h-1.7zM4.9 267h1.7v1.7h-1.7zM4.1 244h1.7v1.7h-1.7zM1.8 262.9h1.7v1.7h-1.7zM0.6 243.7h1.7v1.7h-1.7zM2 267.9h1.7v1.7h-1.7zM4.4 252.5h1.7v1.7h-1.7zM7.7 260.3h1.7v1.7h-1.7zM1.9 259.8h1.7v1.7h-1.7zM6.8 252.9h1.7v1.7h-1.7zM3.5 260.2h1.7v1.7h-1.7zM7.9 262.3h1.7v1.7h-1.7zM1.4 260.4h1.7v1.7h-1.7zM2.6 256.6h1.7v1.7h-1.7zM5.7 240.7h1.7v1.7h-1.7zM4.1 251h1.7v1.7h-1.7zM4.8 268.7h1.7v1.7h-1.7zM3.7 262h1.7v1.7h-1.7zM2.3 249h1.7v1.7h-1.7zM4.1 258.6h1.7v1.7h-1.7zM2.2 331.9h1.7v1.7h-1.7zM5 326.6h1.7v1.7h-1.7zM2.5 332.9h1.7v1.7h-1.7zM9 334.2h1.7v1.7h-1.7zM2.5 322.9h1.7v1.7h-1.7zM6.3 322.3h1.7v1.7h-1.7zM8.6 330.8h1.7v1.7h-1.7zM3.4 327.7h1.7v1.7h-1.7zM6.8 324.1h1.7v1.7h-1.7zM3.6 332.2h1.7v1.7h-1.7z" fill="#000"/></g><g id="sites"><path d="M59.2 45.5h15.2M66.8 37.9v15.2M61.4 40.1l10.7 10.7M61.4 50.9l10.7 -10.7M97.2 157h15.2M104.8 149.4v15.2M99.4 151.6l10.7 10.7M99.4 162.4l10.7 -10.7M106.2 250.5h15.2M113.8 242.9v15.2M108.4 245.1l10.7 10.7M108.4 255.9l10.7 -10.7M55.2 272.5h15.2M62.8 264.9v15.2M57.4 267.1l10.7 10.7M57.4 277.9l10.7 -10.7M2.7 321h15.2M10.3 313.4v15.2M4.9 315.6l10.7 10.7M4.9 326.4l10.7 -10.7" stroke="#f00" stroke-width="1.15" fill="none"/></g><g id="grid"><path d="M58 0V427.2M116 0V427.2M174 0V427.2M232 0V427.2M290 0V427.2M0 357.4H348M0 286.8H348M0 215.8H348M0 144.3H348M0 72.4H348" stroke="#d0d0d0" stroke-width="1" stroke-dasharray="2.6 6.2" fill="none"/></g><g id="ticks"><path d="M58 427.2v-4M58 0v4M116 427.2v-4M116 0v4M174 427.2v-4M174 0v4M232 427.2v-4M232 0v4M290 427.2v-4M290 0v4M0 357.4h4M348 357.4h-4M0 286.8h4M348 286.8h-4M0 215.8h4M348 215.8h-4M0 144.3h4M348 144.3h-4M0 72.4h4M348 72.4h-4" stroke="#222" stroke-width="1" fill="none"/></g></defs>
<rect width="1650" height="1275" fill="#fff"/>
<g transform="translate(74.7 142.3)">
<text x="-7.5" y="434.7" font-size="20" text-anchor="end">34°N</text><text x="-7.5" y="293.9" font-size="20" text-anchor="end">35°N</text><text x="-7.5" y="151.4" font-size="20" text-anchor="end">36°N</text><text x="-7.5" y="7.1" font-size="20" text-anchor="end">37°N</text><text x="-7" y="363" font-size="15" text-anchor="end">30'</text><text x="-7" y="221.4" font-size="15" text-anchor="end">30'</text><text x="-7" y="78" font-size="15" text-anchor="end">30'</text><text x="-0.5" y="444.5" font-size="15" text-anchor="middle">30'</text><text x="60" y="448.2" font-size="20" text-anchor="middle">76°W</text><text x="115.5" y="444.5" font-size="15" text-anchor="middle">30'</text><text x="176" y="448.2" font-size="20" text-anchor="middle">75°W</text><text x="231.5" y="444.5" font-size="15" text-anchor="middle">30'</text><text x="292" y="448.2" font-size="20" text-anchor="middle">74°W</text><text x="347.5" y="444.5" font-size="15" text-anchor="middle">30'</text>
<g clip-path="url(#ax)">
<use href="#grid"/>
<path d="M216.7 0.7 212.9 29.5 208.5 44 204.5 58.3 203.3 64 201 75 198.5 85.6 196.2 103.8 194.5 112 193.2 120.5 194.2 128 193.9 135.6 192.7 146 192.4 153.8 187.9 161.4" fill="none" stroke="#000" stroke-width="0.85" stroke-linejoin="round"/><path d="M194.6 194.4 197.3 202.4 192 207.7 193.3 214.4 190.6 223.7 184 229 176 240 168 253 160.3 265 150.3 273 143.3 281 135.3 286 128.3 294 119.3 302 113.3 313 105.3 325 95.3 334 89.3 342 85.3 350 81.3 355 77 358" fill="none" stroke="#000" stroke-width="0.85" stroke-linejoin="round"/><path d="M56.8 387.2 48.3 397.7 41.3 405.7 34.3 411.7 27.3 420.7 21.3 427.2" fill="none" stroke="#000" stroke-width="0.85" stroke-linejoin="round"/><circle cx="203.6" cy="60.4" r="1.4" fill="none" stroke="#000" stroke-width="0.7"/><text transform="translate(190.8 178.5) rotate(80)" font-size="17.5" text-anchor="middle" dy="0.35em">-100</text><text transform="translate(67.6 372.5) rotate(-56)" font-size="17.5" text-anchor="middle" dy="0.35em">-100</text><path fill="#00cfff" d="M119 0l3.2 1.7l3.2 -1.7zM125 0l3 1.6l3 -1.6zM131 0l5.3 3.1l5.3 -3.1zM138.8 0l3.2 2.6l3.2 -2.6zM144.2 0l3 1.7l3 -1.7zM149.3 0l5.3 3.2l5.3 -3.2zM195 0l4.3 2.4l4.3 -2.4zM200.5 0l4.9 1.6l4.9 -1.6zM237.7 0l3.2 2.2l3.2 -2.2zM252.8 0l4.7 3.4l4.7 -3.4z"/><path fill="#0040ff" d="M157.3 0l4.9 1.9l4.9 -1.9zM164.4 0l4.7 3.2l4.7 -3.2zM168.9 0l4.3 2.8l4.3 -2.8zM173.8 0l3.9 1.7l3.9 -1.7zM182.1 0l4.1 2.1l4.1 -2.1zM188.9 0l5.1 3.2l5.1 -3.2zM207.7 0l3.3 2.6l3.3 -2.6zM213.4 0l5.5 1.9l5.5 -1.9zM218.4 0l4.4 2.1l4.4 -2.1zM226.1 0l3.5 2.6l3.5 -2.6zM230.6 0l2.7 2l2.7 -2zM244 0l2.6 2.9l2.6 -2.9zM258.2 0l5.4 3.1l5.4 -3.1zM267 0l4.4 3.1l4.4 -3.1zM271.9 0l3.8 1.8l3.8 -1.8z"/><path fill="#00008f" d="M162.2 166.1 162.7 164.7 163.4 166ZM307.6 120 308 118.6 308.8 119.9ZM278 265.7 276.6 266.3 277.2 264.9ZM163 20 161.5 20 162.6 18.9ZM216.4 26.6 217.8 27.2 216.4 27.8ZM147.3 165.5 148.8 165.6 147.7 166.6ZM155.8 81.4 155.2 82.8 154.6 81.4ZM284.7 4.2 284.6 2.7 285.7 3.6ZM78.2 35.3 77.9 33.8 79.2 34.6ZM155.7 158.7 154.4 159.5 154.7 158ZM79.1 27.6 77.7 28.2 78.2 26.8ZM86.4 3.3 87.7 4.1 86.2 4.5ZM147 3.7 148 2.6 148.1 4.1ZM239.3 42.1 240.7 42.5 239.4 43.3ZM246.4 50.7 246.5 49.1 247.5 50.3ZM316.3 4.3 315 5 315.4 3.5ZM246.5 57.9 247.8 57.1 247.5 58.5ZM262.6 73.2 263.4 74.5 261.9 74.1ZM139.5 19.9 138.8 18.5 140.3 19ZM148.1 35 147.5 36.4 146.9 35ZM78.1 11.7 78.6 10.3 79.3 11.6ZM140.4 81.1 140.6 82.6 139.4 81.7ZM246.4 96.7 247.3 95.5 247.6 97ZM277.9 97.4 276.3 97.5 277.3 96.3Z"/><path fill="#00009f" d="M254.8 49.9 255.9 51 254.4 51ZM323.7 12.2 322.2 12.2 323.3 11.1ZM101.1 58 102.1 56.9 102.2 58.4ZM132.2 27.8 130.8 27.2 132.2 26.6ZM201.7 27.2 201 28.6 200.5 27.2ZM140.4 158.7 139.1 159.6 139.4 158.1ZM200.8 3.4 202.3 3.3 201.3 4.4ZM315.6 20 314.6 18.8 316.1 18.9ZM170.4 159 169.1 158.2 170.6 157.8ZM177.6 4.1 177.6 2.6 178.7 3.7ZM324.1 158.4 323.5 159.8 322.9 158.4ZM307.8 204.8 307.1 203.4 308.6 203.9ZM255 105 253.6 105.5 254.2 104.1ZM200.5 81.6 200.6 80.1 201.6 81.2ZM132.4 159 130.9 158.7 132.1 157.8ZM216.9 42.4 217.1 43.9 215.9 43ZM322.9 173.5 323.9 172.4 324 173.9ZM292.5 19 294 18.6 293.3 19.9ZM124.8 4.4 123.3 4.5 124.3 3.4ZM208.5 409.4 207.4 408.3 208.9 408.2ZM270 281.1 268.5 280.6 269.9 279.9ZM192.9 4.2 192.8 2.7 193.9 3.6ZM308.3 35.5 306.8 35.3 308 34.4ZM162.2 158.3 163 157 163.4 158.5ZM301.1 11.9 300 12.9 300 11.4ZM277.2 89.6 276.4 88.3 277.9 88.6ZM78.4 49.9 79.9 49.8 79 51ZM185.6 11.1 187.1 11.2 186 12.2ZM162.7 127.1 164.2 127.5 162.9 128.2ZM178.5 165.6 179.1 167 177.7 166.5ZM79.3 19.5 78.5 20.8 78.1 19.4ZM292.5 272.4 293.9 271.9 293.3 273.3ZM231.1 19.4 231.7 18 232.3 19.4ZM185.7 34.4 187.2 34.8 185.9 35.5ZM200.6 34.6 201.8 33.8 201.6 35.3ZM254.1 120.2 254.1 118.7 255.2 119.7ZM315.3 128 315 126.5 316.3 127.3ZM177.6 120.1 177.8 118.6 178.7 119.8ZM293.1 34.4 294.2 35.5 292.7 35.5ZM239.2 34.4 240.7 34.7 239.4 35.5ZM208.2 19.1 209.4 18.2 209.2 19.7ZM147.5 159 146.1 158.3 147.5 157.8ZM239.5 74.2 238 74.1 239.1 73.1ZM155.7 89.3 154.7 90.4 154.6 88.9ZM231.8 34.4 233.1 35.2 231.6 35.5ZM330.9 49.9 332.4 49.9 331.4 51ZM185.2 120 185.7 118.6 186.4 119.9ZM301 35.3 299.8 36.2 300 34.7ZM246.5 42.4 247.8 41.6 247.5 43.1ZM131.8 180.9 133.3 180.4 132.6 181.8ZM307.6 42.6 308.3 41.3 308.8 42.8ZM132.1 74.3 130.8 73.5 132.3 73.1ZM284.7 272.6 285.8 271.6 285.8 273.1ZM162.2 96.8 162.8 95.4 163.4 96.8ZM338.3 43.1 337.8 41.7 339.2 42.3ZM124.8 158.9 123.3 159 124.3 157.8ZM215.8 19.4 216.4 18 217 19.4ZM170.6 82 169.1 81.6 170.4 80.8ZM346.9 50.8 345.7 51.7 345.9 50.2ZM147 11.9 147 10.4 148.1 11.4ZM148 74 146.7 74.8 147.1 73.3ZM346.3 220.2 345 219.3 346.5 219ZM162.5 73.2 163.9 72.8 163.2 74.1ZM124.8 166.6 123.3 166.6 124.3 165.5ZM331.5 42.3 332.1 43.7 330.7 43.1ZM86.1 82 85 80.9 86.5 80.8ZM269.9 89.7 268.5 89 270 88.5ZM308.7 3.7 308.5 5.2 307.6 4ZM155.5 18.9 156.4 20.1 154.9 20ZM124 66 124.5 64.5 125.2 65.9ZM162.3 81 163.7 80.3 163.3 81.8ZM185.7 165.5 187.2 165.8 185.9 166.6ZM178 151.3 176.8 150.4 178.3 150.1ZM170.2 105.1 169.2 103.9 170.8 104ZM85.9 43.1 85.4 41.6 86.8 42.3ZM255.2 73.6 254.7 75.1 254 73.7ZM147.5 89.7 146.1 89 147.6 88.5ZM193.3 11.1 194.8 11.5 193.5 12.3ZM170.3 151.3 169.1 150.3 170.6 150.1ZM300.7 18.9 301.9 19.8 300.4 20ZM109.1 82 108 80.9 109.5 80.8ZM155.1 174.3 153.8 173.6 155.2 173.1ZM93.5 4.3 93.1 2.8 94.4 3.5ZM109.5 35.5 108 35.4 109.1 34.4ZM239 50 240.4 49.6 239.7 50.9ZM140.2 143.5 138.6 143.7 139.6 142.5ZM163 3.3 164.1 4.4 162.6 4.4ZM208.1 393.8 208.7 392.4 209.3 393.8ZM316.4 11.8 315.6 13 315.2 11.6ZM307.7 27.6 307.2 26.2 308.6 26.8ZM269.4 127.9 269.4 126.4 270.5 127.4ZM293.4 257.4 293.4 259 292.3 257.9ZM169.9 173.8 170.3 172.3 171.1 173.6ZM94.3 81.9 92.8 82.2 93.6 80.9ZM209.3 3.8 209 5.3 208.1 4ZM85.7 11.6 86.5 10.3 86.9 11.8ZM322.9 165.9 323.8 164.7 324.1 166.2ZM300.5 226.6 301.9 227.2 300.5 227.8ZM101.6 82 100.2 81.3 101.6 80.8ZM108.7 19.6 108.9 18.1 109.8 19.3ZM177.7 128.1 177.2 126.6 178.6 127.2ZM186 151.3 184.5 151.2 185.6 150.2ZM254 96.9 254.4 95.5 255.2 96.8ZM169.9 96.8 170.6 95.4 171.1 96.9ZM339.1 212.5 337.6 212.7 338.4 211.5Z"/><path fill="#0000af" d="M177.6 135.7 177.3 134.2 178.6 135ZM124.9 97.3 123.4 97.6 124.3 96.3ZM193.2 20 192.1 19 193.6 18.9ZM85.7 35 86.3 33.6 86.9 35ZM323.2 27.7 322.3 26.5 323.8 26.7ZM178.3 173.2 179.4 174.2 177.9 174.3ZM330.6 27.4 330.7 25.9 331.7 27ZM262.6 88.6 263.5 89.8 262 89.6ZM300 257.9 299.9 256.4 301.1 257.4ZM117.5 89.4 116.3 90.4 116.4 88.8ZM223.5 363.8 223.6 362.3 224.6 363.5ZM346.5 227.8 345 227.4 346.4 226.6ZM323.8 3.4 324.7 4.6 323.2 4.4ZM132.4 174.3 130.9 174.2 132 173.2ZM93.4 34.9 94 33.6 94.6 35ZM155 166.6 153.8 165.7 155.3 165.5ZM246.8 80.8 248.3 81 247.2 82ZM231.1 50.4 231.9 49.1 232.3 50.6ZM277.2 273.4 276.5 272 277.9 272.4ZM278.1 4 277.2 5.2 277 3.7ZM223.4 65.8 224.4 64.6 224.6 66.1ZM140.1 4.4 138.6 4.5 139.6 3.4ZM193 158.7 192.6 157.3 193.9 158ZM200.6 43.1 200.2 41.6 201.5 42.3ZM78.6 43.3 77.3 42.4 78.8 42.1ZM178.3 158.9 176.8 158.8 177.9 157.8ZM261.7 127.6 262.4 126.3 262.9 127.7ZM169.9 34.7 171.1 33.7 171 35.2ZM323.6 51 322.1 50.7 323.4 49.9ZM192.9 173.9 192.9 172.4 194 173.5ZM261.7 112.2 262.3 110.9 262.9 112.3ZM186.3 173.5 186.3 175 185.2 173.9ZM215.8 35 216.3 33.6 217 34.9ZM169.9 50.2 171.1 49.2 171 50.7ZM163 135.9 161.5 135.7 162.7 134.8ZM177.9 97.4 176.9 96.2 178.4 96.3ZM154.6 119.7 155.7 118.7 155.7 120.2ZM147.2 26.7 148.7 26.5 147.8 27.7ZM162.3 204 163.6 203.1 163.3 204.6ZM300.5 3.3 301.9 3.8 300.6 4.5ZM124 189.1 124.3 187.7 125.2 188.9ZM200.6 89.5 200.1 88.1 201.5 88.7ZM315.2 42.8 315.7 41.3 316.4 42.7ZM177.7 203.9 179 203.2 178.6 204.7ZM178 143.6 176.7 142.8 178.2 142.4ZM139.5 74.2 138.7 72.9 140.2 73.2ZM147.4 82 146.2 81.1 147.7 80.8ZM215.8 4.1 215.9 2.6 216.9 3.7ZM215.9 393.4 217.2 392.7 216.9 394.1ZM315.6 35.5 314.5 34.4 316.1 34.4ZM261.9 272.4 263.4 272.1 262.6 273.4ZM124 196.8 124.4 195.3 125.2 196.6ZM308.6 112.7 307.2 113.2 307.8 111.8ZM215.8 57.9 217 56.9 216.9 58.5ZM163.1 151.2 161.6 151.4 162.5 150.2ZM247.1 74.3 245.6 74 246.8 73.1ZM131.9 18.9 133.4 18.7 132.5 20ZM170.6 135.9 169.1 135.6 170.4 134.7ZM155 34.4 156.5 34.5 155.4 35.5ZM177.8 112.8 176.9 111.5 178.4 111.7ZM162.3 35.2 162.2 33.7 163.4 34.7ZM284.9 242 286.4 241.6 285.6 243ZM232.1 11.2 232.7 12.7 231.2 12.1ZM292.4 234.4 293.9 233.8 293.3 235.3ZM169.9 42.5 171.1 41.4 171 43ZM223.7 26.7 225.2 26.3 224.4 27.7ZM177.8 18.9 179.4 18.8 178.4 20ZM154.9 66.5 153.8 65.4 155.4 65.4ZM238.7 81.3 239.6 79.9 239.9 81.5ZM147 181 148.4 180.2 148 181.7ZM293.3 27.7 291.7 28.2 292.5 26.7ZM331.3 4.5 329.7 4.3 330.9 3.3ZM116.7 74.3 115.5 73.1 117.2 73.1ZM86.5 27.8 84.8 27.5 86.2 26.6ZM254.1 65.7 255.3 64.6 255.2 66.2ZM162.4 43.2 161.7 41.7 163.2 42.2ZM216.1 386.8 215 385.5 216.7 385.7ZM139.3 50.1 140.8 49.2 140.4 50.8ZM299.9 27.5 299.9 25.8 301.1 26.9ZM155 12.3 153.7 11.4 155.3 11ZM223.4 50.8 223.3 49.1 224.6 50.2ZM101.9 97.4 100.2 97.5 101.4 96.2ZM277.3 257.1 279 257.1 277.8 258.3ZM86.5 66.6 84.8 66.2 86.2 65.3ZM139.3 188.8 140.3 187.6 140.5 189.2ZM292.3 265 293.4 263.9 293.5 265.5ZM301.1 97.1 299.9 98.3 299.9 96.6ZM315.2 27.1 316.1 25.7 316.5 27.3ZM116.6 51 115.6 49.6 117.3 49.9ZM192.9 143.4 192.5 141.8 194 142.6ZM93.7 12.3 92.5 11 94.2 11.1ZM131.9 97.4 130.9 96.1 132.6 96.3ZM101.8 74.3 100.1 74.1 101.4 73ZM85.9 20 85.1 18.4 86.7 18.9ZM140.1 112.9 138.4 112.9 139.6 111.6ZM315.2 173.5 316.4 172.2 316.5 173.9ZM192.8 181.2 193.9 179.9 194.1 181.6ZM246.8 65.3 248.5 65.5 247.2 66.6ZM177.6 12.1 177.2 10.4 178.7 11.3ZM101.1 12 100.8 10.3 102.2 11.3ZM192.8 35.2 192.8 33.5 194.1 34.7ZM224.7 11.5 224.4 13.2 223.4 11.8ZM224.1 43.4 222.4 43 223.9 42ZM209.2 400.8 209.9 402.4 208.2 401.8ZM315.1 181.2 316.1 179.8 316.5 181.5ZM200.4 19.3 201.3 17.8 201.8 19.5ZM132.9 3.8 132.4 5.5 131.5 4ZM284.5 250 285.4 248.4 285.9 250.1ZM238.8 89.6 238.3 87.9 239.9 88.7ZM269.5 264.7 271.2 264.3 270.4 265.8ZM247.6 89.4 246.4 90.7 246.3 88.9ZM270.6 81.3 270.2 83 269.2 81.5ZM278.3 81.3 277.7 83.1 276.9 81.5ZM185.9 143.7 184.1 143.3 185.6 142.3ZM155.8 128.1 154.2 129 154.6 127.2ZM146.9 19.8 146.6 18 148.1 19ZM201.7 408.4 202 410.2 200.5 409.2ZM163.2 12.3 161.4 12.6 162.4 11.1ZM215.8 74.1 215.4 72.2 217 73.3ZM155.1 113 153.5 112.1 155.2 111.5ZM239.5 66.7 237.6 66.3 239.2 65.2Z"/><path fill="#0000bf" d="M299.9 135.7 299.8 133.8 301.2 135ZM208.3 180.8 210.2 180.4 209.1 182ZM223.3 58 224.6 56.6 224.7 58.4ZM307.4 196.8 307.8 195 308.9 196.5ZM192.7 42.7 193.4 41 194.2 42.7ZM147.5 195.9 149.3 196.5 147.6 197.4ZM285.4 113 283.5 112.6 285.1 111.5ZM285.6 88.5 286.7 90.1 284.8 89.7ZM140.6 127.9 139.2 129.3 139.2 127.4ZM101.6 43.5 99.9 42.6 101.7 42ZM93.4 50.9 92.8 49.1 94.6 50ZM185.2 128.1 184.6 126.3 186.4 127.2ZM71.6 3.5 72.1 5.4 70.4 4.3ZM223.3 34.7 224.7 33.3 224.7 35.2ZM231 27.5 230.9 25.6 232.4 26.9ZM101.8 113 99.9 112.8 101.4 111.5ZM263 96.7 262.6 98.6 261.5 97ZM201 10.9 202.9 11.5 201.2 12.4ZM338.3 220.2 337.4 218.4 339.3 219ZM169.7 11.7 170.4 9.8 171.2 11.6ZM154.4 219.3 155.8 217.9 155.9 219.8ZM270.5 97.4 268.6 98.1 269.4 96.3ZM308.8 12.1 307.1 13.2 307.5 11.2ZM276.9 128.1 276.6 126.1 278.2 127.2ZM146.9 219.2 148.6 218.1 148.2 220ZM139.3 12.2 138.7 10.3 140.5 11.1ZM316.6 50.2 316.4 52.2 315.1 50.7ZM154.9 26.5 156.9 26.5 155.5 27.9ZM323.1 20.1 321.9 18.5 323.9 18.7ZM270.5 3.3 271.3 5.1 269.4 4.5ZM200.7 188.3 202.7 188.1 201.5 189.7ZM139.2 58.7 138.8 56.7 140.5 57.7ZM117.1 97.6 115.1 97.4 116.7 96.1ZM163 105.3 161 104.9 162.7 103.8ZM192.9 73.1 194.8 72.3 194 74.2ZM86.5 51.3 84.5 50.8 86.2 49.7ZM200.3 73.5 201.4 71.8 201.9 73.8ZM131.5 189.4 131.4 187.3 133 188.7ZM125 105.2 123 105.6 124.1 103.9ZM263.1 66 262.2 67.8 261.5 65.9ZM147.2 58.9 145.8 57.3 147.9 57.5ZM162.4 226.5 164.4 226.2 163.3 227.9ZM139.8 97.6 138 96.6 140 96ZM139.1 66 139.6 64 140.7 65.8ZM301 42 302.2 43.7 300.1 43.4ZM185 42.7 185.8 40.8 186.6 42.7ZM215.6 378.9 215.9 376.9 217.2 378.5ZM208.9 26.4 210.6 27.5 208.6 28ZM101.6 28 99.7 27.1 101.7 26.4ZM224.8 4.2 223.2 5.6 223.3 3.5ZM223.2 371.1 224.3 369.3 224.8 371.3ZM117.3 59 115.1 59 116.6 57.4ZM300.7 113.1 298.6 112.8 300.3 111.5ZM169.6 89.1 170.5 87.2 171.3 89.1ZM162 89.1 162.9 87.2 163.7 89.2ZM169.8 19 171.5 17.7 171.2 19.9ZM285.3 10.8 287.2 11.8 285.2 12.5ZM284.4 265.2 285.5 263.3 286.1 265.4ZM185.2 196.1 187.1 195.2 186.4 197.2ZM131.8 196 133.9 195.6 132.7 197.4ZM124.6 143.9 122.6 143.2 124.5 142.2ZM322.7 34.8 323.9 33 324.3 35.1ZM186 159.2 183.9 158.8 185.6 157.6ZM207.9 42.6 209 40.8 209.6 42.8ZM154.4 50.2 155.9 48.6 156 50.8ZM109.6 4.7 107.4 4.6 109 3.1ZM223.2 73.5 224.5 71.8 224.8 73.9ZM170.3 113.1 168.5 112 170.6 111.4ZM131.9 12.5 130.4 10.9 132.5 10.9ZM169.6 58.3 170.3 56.2 171.3 58.1ZM192.7 135.8 192.3 133.7 194.1 134.9ZM177.6 27.8 176.6 25.9 178.7 26.6ZM269.3 272.3 271.3 271.4 270.5 273.5ZM169.6 66 170.2 64 171.3 65.8ZM131.5 50.9 131.2 48.7 133 50ZM216.2 10.8 218.3 11.2 216.6 12.5ZM239.7 26.4 241.1 28.1 239 28ZM223.6 20.2 222.2 18.5 224.4 18.7ZM253.8 89.5 253.8 87.3 255.4 88.8ZM255.3 80.8 255.9 82.9 254 82ZM132.3 59.1 130.2 58.3 132.2 57.3ZM140.5 166.6 138.6 167.6 139.2 165.5ZM162.2 27.8 161.5 25.6 163.5 26.6ZM200.8 165.2 203 165.3 201.4 166.9ZM185 26.7 186.9 25.5 186.5 27.7ZM155.3 97.7 153.1 97.1 155.1 96ZM247.8 34.7 247.5 36.9 246.1 35.2ZM162.1 188.6 163.9 187.3 163.6 189.5ZM277.1 249.3 279.3 249 278 250.8ZM162 173.4 163.5 171.7 163.7 174ZM86.2 74.6 84.3 73.3 86.5 72.8ZM285.1 258.6 283.1 257.5 285.3 256.8ZM155.9 151.3 153.9 152.3 154.5 150.1ZM162 258.1 161.9 255.8 163.6 257.3ZM124.5 10.8 126.7 11.6 124.6 12.6ZM177.2 58.1 178.4 56.1 179 58.3ZM185 423.3 187 422.1 186.5 424.3ZM307.3 142.7 308.8 141 309 143.3ZM108.6 27.8 107.9 25.6 110 26.6ZM177.2 42.8 177.9 40.6 179 42.6ZM177.3 81.1 178.8 79.4 179 81.7ZM155.4 143.9 153.1 143.6 154.9 142.2ZM169.7 73.2 171.6 71.8 171.3 74.1ZM169.8 219 171.9 218 171.1 220.2ZM292.3 11 294.5 10.2 293.5 12.3ZM139.2 27.8 138.5 25.5 140.6 26.6ZM185.4 105.4 183.8 103.6 186.2 103.7ZM170.4 4.8 168.3 3.7 170.6 3ZM223.1 81.6 223.7 79.3 224.9 81.3ZM169.8 128.3 169 126.1 171.1 127ZM117.9 119.9 117 122.1 116 120ZM200.9 151.6 198.9 150.2 201.3 149.8ZM139 43.1 138.9 40.8 140.7 42.3ZM285.5 97.7 283.1 97.4 285 95.9ZM192.5 50.3 193.9 48.3 194.3 50.7ZM140.6 120.6 138.5 121.6 139.2 119.4ZM263.1 81.9 261 83.2 261.5 80.9ZM116.2 4.5 115.6 2.1 117.7 3.3ZM207.9 81 209.7 79.4 209.6 81.8ZM278 105.4 275.6 105.6 277.1 103.7ZM307.5 128.3 306.7 126 308.9 127ZM109.5 90.1 107.1 89.6 109.1 88.2ZM147.6 128.6 145.3 127.8 147.4 126.7ZM154.7 4.7 153.3 2.7 155.7 3.1ZM262.1 119 264.5 119.5 262.5 120.9ZM215.4 371.3 216.1 369 217.3 371.1ZM299.6 219.4 300.9 217.4 301.5 219.7ZM139.5 195.8 142 195.8 140.3 197.6ZM230.8 43.1 230.8 40.6 232.6 42.4ZM185 135.9 184.6 133.4 186.6 134.8ZM301.1 272.1 302.3 274.3 299.9 273.6ZM193.1 188.1 195.5 188.2 193.8 189.9ZM184.8 89 186.1 86.9 186.7 89.3ZM154.3 42.3 156.2 40.7 156 43.1ZM109.1 12.6 107 11.2 109.5 10.7ZM230.9 82 230.4 79.5 232.5 80.8ZM147.4 97.8 145.2 96.6 147.6 95.9ZM330.3 34.4 332.4 33.1 331.9 35.5Z"/><path fill="#0000cf" d="M314.9 150.5 316.3 148.4 316.8 150.9ZM100.9 20.1 100.1 17.7 102.4 18.8ZM123.8 20 123.2 17.6 125.4 18.8ZM133 128.2 130.8 129.5 131.4 127.1ZM94.2 66.9 91.7 66.6 93.7 65ZM322.6 151.2 322.3 148.7 324.3 150.2ZM200.2 65.4 202.3 64 201.9 66.5ZM117.1 20.4 114.6 19.9 116.7 18.5ZM231.5 57.2 233.9 57.7 231.9 59.2ZM284.3 135.1 285.8 133.1 286.2 135.6ZM185.1 18.8 187.4 17.7 186.5 20.1ZM309.1 104.2 309.1 106.7 307.3 104.9ZM194.3 408.2 194.8 410.8 192.6 409.4ZM154.4 188.4 156.7 187.2 156 189.7ZM184.8 65.8 186.2 63.6 186.8 66.1ZM338.1 49.8 340.4 48.8 339.5 51.2ZM324.3 43.3 322.2 44.7 322.6 42.2ZM194.4 423.6 193.9 426.1 192.4 424ZM93.4 28 92.1 25.7 94.6 26.4ZM163.7 143.5 161.8 145.2 161.9 142.6ZM208.2 34.1 210.7 33.6 209.3 35.8ZM314.9 165.6 316.8 163.9 316.8 166.5ZM238.7 57.4 241.1 56.6 240 59ZM270.2 72.7 272.3 74.3 269.7 74.7ZM124.1 59.1 122.4 57.1 125 57.3ZM125.4 120.5 123.3 122 123.7 119.4ZM192.7 196 195.1 194.9 194.2 197.4ZM346 41.8 348.6 41.6 346.9 43.6ZM154.6 72.8 157.2 72.4 155.7 74.5ZM133.1 135.9 131 137.5 131.3 134.8ZM177.7 180.4 180.3 180.3 178.6 182.3ZM192.4 89.4 192.9 86.7 194.4 88.9ZM146.5 173.5 147.9 171.3 148.6 173.9ZM140.5 151.6 137.8 152.1 139.3 149.8ZM215.3 50.5 216.3 48 217.4 50.4ZM132.8 143.9 130.2 144.4 131.6 142.2ZM93.8 90.2 91.5 88.6 94.2 88.1ZM277.9 121 275.2 120.6 277.3 118.9ZM93.8 20.5 91.5 19 94.1 18.4ZM207.8 50 209.8 48.2 209.7 50.9ZM184.8 50 187 48.3 186.7 51ZM207.8 386.7 207.7 384 209.7 385.8ZM124 28.1 122.5 25.8 125.2 26.3ZM230.7 73.3 232.5 71.3 232.7 74ZM184.7 112.2 186 109.8 186.8 112.3ZM140.1 136.4 137.4 136 139.6 134.3ZM185.2 72.8 187.8 72.2 186.4 74.6ZM125.3 90 122.6 90.7 123.9 88.3ZM208.6 10.6 211.3 11.4 208.8 12.7ZM207.7 89.3 208.2 86.6 209.8 88.9ZM146.6 66.6 146 63.9 148.4 65.3ZM93.6 59.2 91.6 57.3 94.4 57.2ZM162.2 120.9 160.6 118.6 163.4 119ZM307.1 135.4 308 132.8 309.3 135.3ZM162.7 218.5 165.4 219.4 162.9 220.7ZM184.7 181.6 185.2 178.9 186.8 181.1ZM185 4.7 184 2.1 186.6 3.1ZM245.9 104.9 246.2 102.1 248 104.2ZM307.2 180.9 309.2 179 309.2 181.8ZM138.8 181 140.7 178.9 140.9 181.7ZM118 104.9 116 107 115.9 104.2ZM192.4 81.8 192.4 79 194.4 81ZM177 73.5 178.6 71.1 179.2 73.9ZM276.5 134.9 278.5 132.9 278.6 135.7ZM86 59.2 83.9 57.3 86.7 57.2ZM132.1 43.8 129.6 42.4 132.3 41.6ZM177.2 49.8 179.6 48.3 179 51.1ZM108.3 258.3 107.9 255.4 110.2 257.1ZM253.8 272.1 256.5 271 255.4 273.7ZM207.6 73.4 209.4 71.1 209.8 74ZM147.7 151.8 144.9 151.2 147.3 149.6ZM293.2 2.8 295.4 4.7 292.5 5ZM117 28.3 114.3 27.3 116.9 26.1ZM300.9 49.4 303 51.3 300.2 51.5ZM200.2 400.6 202.6 399.1 202 401.9ZM200 173.4 201.7 171.1 202.2 174ZM207.7 57.9 209.5 55.7 209.8 58.6ZM255.2 57.3 256.9 59.6 254 59.2ZM207.8 166.6 207.3 163.8 209.7 165.5ZM148.3 113.1 145.5 114 146.8 111.4ZM102.2 90.1 99.3 90.5 101 88.2ZM200.2 196 202.7 194.6 202 197.4ZM148.7 143.2 147.2 145.7 146.4 142.9ZM199.9 50.4 201.2 47.8 202.2 50.5ZM139.6 36.1 137.3 34.2 140.2 33.9ZM170.3 121.1 167.8 119.4 170.7 118.8ZM116.7 67.1 114.2 65.5 117.1 64.8ZM177.5 90.1 175.9 87.6 178.8 88.2ZM93.3 74.6 91.8 72.1 94.7 72.7ZM230.5 89.2 231.5 86.4 232.8 89.1ZM125.1 136.4 122.1 136.5 124.1 134.3ZM169.4 166.4 169.7 163.4 171.6 165.7ZM146.4 42.5 148 40 148.7 42.9ZM192.3 65.9 193.4 63.2 194.6 65.9ZM146.4 211.5 148.6 209.4 148.6 212.4ZM92.9 43.2 92.8 40.2 95 42.2ZM110 97.8 107.1 98.6 108.5 95.9ZM116.3 43.7 114.6 41.2 117.6 41.7ZM161.8 58.8 161.5 55.8 163.9 57.6ZM162.1 180.4 165.1 179.7 163.5 182.3ZM285.2 128.8 282.4 127.6 285.3 126.5ZM184.6 58 186.2 55.4 187 58.4ZM192.3 151 192.8 148 194.6 150.4ZM278.5 10.9 279.5 13.8 276.7 12.5ZM155.5 105.7 152.5 105.4 154.8 103.4ZM147.5 105.8 144.7 104.5 147.5 103.3ZM118 135.9 115.6 137.8 115.9 134.8ZM109.5 74.9 106.5 74.1 109.1 72.5ZM101.4 5.1 98.8 3.5 101.8 2.7ZM170.8 144.2 167.7 143.8 170.2 141.9ZM199.9 158.8 200.1 155.7 202.2 158ZM117.3 144.2 114.2 144 116.5 141.9ZM154.7 59.3 152.6 57 155.7 57.1ZM215.3 65.3 217.9 63.5 217.4 66.6ZM169.3 196.2 171.5 194 171.6 197.1Z"/><path fill="#0000df" d="M146.3 50.6 147.1 47.6 148.7 50.3ZM124.7 74.9 121.7 74 124.4 72.5ZM299.4 211.4 301.8 209.3 301.6 212.5ZM184.7 415.8 187.1 413.7 186.9 416.8ZM123.6 43.5 122.8 40.4 125.6 42ZM238.3 97.5 237.9 94.3 240.4 96.2ZM117.4 82.5 114.3 82.6 116.4 80.3ZM192.2 57.8 194.3 55.4 194.6 58.6ZM245.9 279.9 248.3 277.9 248.1 281ZM94.7 97.9 91.5 98.4 93.3 95.8ZM153.9 211.7 155.7 209.1 156.4 212.2ZM291.9 226.4 294.8 225 293.8 228.1ZM131.5 218.6 134.7 217.9 132.9 220.6ZM306.9 173.6 308.5 170.8 309.4 173.8ZM314.9 157.5 317.8 156.2 316.8 159.2ZM207.5 66 208.6 63 210 65.9ZM163.2 113.5 160 113.2 162.4 111ZM148.2 136.4 145.1 137 146.8 134.3ZM108.7 105.7 106.6 103.2 109.8 103.4ZM193.2 26 196.4 26.6 193.7 28.4ZM239.8 18.3 242.1 20.6 238.8 20.6ZM169.3 203.7 171.8 201.6 171.6 204.9ZM222.8 89.4 223.5 86.2 225.3 88.9ZM169.2 181.1 171.1 178.4 171.7 181.6ZM300.4 121.2 297.5 119.6 300.7 118.7ZM192.6 105.5 191.2 102.5 194.3 103.6ZM262.2 105.8 259.2 104.3 262.4 103.3ZM291.9 136.1 291 132.9 293.9 134.5ZM108.4 59.1 107.1 56.1 110.2 57.3ZM199.8 181 201.9 178.4 202.3 181.7ZM161.6 65.5 163.8 63 164.1 66.4ZM123.3 34.9 124.7 31.9 125.9 35ZM154.3 203.3 157.5 202.3 156 205.3ZM294 112.9 291.3 114.9 291.8 111.6ZM230.5 97.4 230.4 94 232.9 96.3ZM153.9 257.3 156 254.7 156.4 258ZM301.6 105.3 298.7 107.1 299.5 103.8ZM155.5 136.6 152.2 136.1 154.8 134.1ZM125 128.9 121.6 128.6 124.2 126.4ZM292.7 121.3 289.8 119.5 293.1 118.6ZM101.6 67.3 98.5 65.9 101.6 64.6ZM215.2 82 215.1 78.6 217.6 80.8ZM94 259 90.8 257.6 94 256.3ZM192.4 113.1 191.5 109.8 194.5 111.4ZM115.6 265.5 116.3 262.2 118.2 265ZM161.8 249.2 165 247.8 163.8 251ZM299.5 203.5 302.5 201.9 301.6 205.2ZM253.3 127.9 254 124.5 256 127.4ZM286 18.3 287.8 21.3 284.4 20.5ZM153.8 181.1 155.8 178.2 156.5 181.7ZM232.9 4.5 230.3 6.8 230.4 3.3ZM138.9 218.6 142.1 217.3 140.9 220.5ZM117.5 113.5 114 113.7 116.3 111ZM147.4 121.3 144.3 119.7 147.6 118.6ZM115.6 273 116.6 269.7 118.3 272.7ZM307.3 188 310.6 186.9 309.1 190.1ZM132.8 105.8 129.2 105.9 131.7 103.3ZM117.3 129 113.7 128.5 116.6 126.3ZM115.5 257.8 116.8 254.4 118.3 257.6ZM124.6 82.8 121.3 81.5 124.5 80ZM207.4 188.5 209.9 185.9 210.1 189.5ZM162 195.5 165.6 194.8 163.6 197.9ZM108.5 266.5 106.5 263.5 110 264.1ZM199.7 386.5 200.6 382.9 202.5 386ZM169.1 27.4 170.1 23.9 171.9 27ZM132.4 152.1 128.9 151 132.1 149.3ZM154.6 225.9 158.3 226 155.7 228.5ZM116.7 13.1 113.6 11.2 117.1 10.2ZM245.6 112.5 246.5 108.9 248.4 112ZM176.7 34.7 178.7 31.6 179.5 35.2ZM306.7 150.5 308.6 147.3 309.6 150.9ZM286.3 26.2 287.6 29.7 284.2 28.2ZM253.2 135.4 254.6 131.9 256.1 135.3ZM271 65 272.2 68.5 268.8 66.9ZM132 90.6 128.8 88.7 132.4 87.7ZM153.9 241.7 156.9 239.4 156.5 243.2Z"/><path fill="#0000ef" d="M268.7 134.6 271.7 132.4 271.2 136.1ZM215.3 97.8 214.1 94.2 217.5 95.9ZM253.2 112.6 253.8 108.9 256.1 111.9ZM277.8 113.7 274.1 112.8 277.4 110.8ZM263.8 58.2 262.4 61.7 260.8 58.2ZM161.3 50.2 163.5 47 164.3 50.7ZM222.5 348.7 223.9 345.1 225.5 348.5ZM124.3 175.2 121.1 173 124.9 172.2ZM268.5 257.2 271 254.3 271.4 258.1ZM293.1 129.2 289.3 128.1 292.7 126.1ZM169.4 188 173 186.5 171.6 190.1ZM109.3 67.5 105.7 66.1 109.2 64.4ZM140.2 106.1 136.3 105.3 139.6 103.1ZM132.9 82.8 129 83.1 131.5 80ZM285.8 106 281.9 105.9 284.7 103.1ZM286.7 81.1 285.8 85 283.7 81.7ZM161.7 210.9 165.3 209.3 164 213ZM294.4 97.2 292 100.4 291.4 96.5ZM214.8 363.6 216.6 360 217.9 363.7ZM184.7 98 183.1 94.4 186.8 95.7ZM100.5 327.1 99 323.4 102.7 324.8ZM115.5 281.2 115.2 277.2 118.3 279.7ZM192.1 203.4 195.6 201.3 194.7 205.2ZM301.4 64.6 303.6 68 299.6 67.3ZM123.4 51.6 122 47.8 125.7 49.4ZM199.7 113 199.3 108.9 202.5 111.5ZM102.6 105.8 98.6 106.8 100.7 103.3ZM177.3 195.3 181.3 194.6 179 198ZM306.6 165.6 309.2 162.4 309.7 166.5ZM214.8 88.9 216.9 85.4 218 89.3ZM207.2 174.1 207.8 170 210.3 173.3ZM176.6 188.6 179.2 185.4 179.7 189.5ZM132.2 113.9 128.4 112.1 132.3 110.6ZM286.3 121.2 282.4 122.5 284.1 118.8ZM131.1 36.1 129.4 32.4 133.3 33.8ZM260.7 264.9 263.1 261.6 263.9 265.6ZM192.4 128.9 190.5 125.2 194.5 126.4ZM200.2 56.8 204.4 56.2 201.9 59.6ZM125.6 113.5 121.6 114.7 123.5 111ZM169.1 226.3 172.7 224.1 171.8 228.2ZM184.3 203.5 187.7 201 187.2 205.1ZM191.8 97 193 93 195.1 96.7ZM124.4 152.4 120.7 150.2 124.8 149.1ZM176.5 66.4 177.1 62.2 179.7 65.5ZM279.2 18.9 278.8 23.2 276 20ZM100.8 51.9 98.2 48.4 102.5 49ZM294.4 42 294.7 46.3 291.4 43.5ZM240.6 2.7 242 6.8 238.1 5ZM207.2 379.6 206.8 375.3 210.2 377.9ZM222.4 332.9 225.4 329.7 225.6 334.1ZM184.1 81.5 185.5 77.4 187.5 81.3ZM108 312 106.5 307.9 110.5 309.6ZM132.3 67.7 128.2 66 132.2 64.2Z"/><path fill="#0000ff" d="M245.3 128 246.1 123.7 248.7 127.3ZM293 106.3 288.8 104.9 292.7 102.8ZM199.4 393.3 202.3 389.8 202.7 394.3ZM283.6 234.1 287.1 231.1 286.8 235.6ZM301.7 56.9 303.6 61 299.3 59.5ZM241.1 11.3 240.2 15.7 237.6 12ZM153.7 249.1 157.4 246.5 156.7 251ZM199.4 136 199.6 131.4 202.8 134.7ZM107.8 51.5 106.8 47 110.7 49.4ZM298.7 142.7 301.2 138.8 302.3 143.3ZM161.2 234.1 164.5 230.9 164.5 235.5ZM237.6 112.9 237.8 108.3 241 111.6ZM195.2 416 194.1 420.5 191.6 416.6ZM107.6 319 107.7 314.4 111 317.7ZM238 105.7 236.5 101.3 240.7 103.4ZM146.1 249 150.1 246.7 149 251.2ZM107.4 325.9 109.3 321.6 111.1 325.9ZM100.8 36.6 97.7 33.1 102.4 33.3ZM222.4 97.7 221.9 93.1 225.6 95.9ZM101.1 320.1 97.4 317.1 102.1 316.6ZM291.3 218.7 295.1 215.8 294.5 220.5ZM306.3 158 309 154.1 310 158.7ZM279.3 73 279.2 77.8 275.8 74.3ZM153.8 195.4 158.2 193.5 156.5 198ZM260.4 135 263 131 264.1 135.7ZM133.9 120.8 130.2 123.9 130.5 119.1ZM109.1 274.8 104.8 272.4 109.5 271ZM207.4 195.3 212 193.7 210 198.1ZM199.3 143.8 199.2 138.9 202.8 142.2ZM256 41.3 257.9 45.8 253.3 44.1ZM192.1 121.3 190.2 116.8 194.8 118.6ZM116.2 36.8 112.7 33.3 117.6 33.2ZM245.2 120.7 245.3 115.7 248.8 119.2ZM294.3 49.1 296.1 53.7 291.5 51.8ZM191.7 400.5 195.3 397.1 195.2 402.1Z"/><path fill="#0010ff" d="M276 241.3 280.3 238.6 279.2 243.6ZM168.7 211.1 172.6 207.8 172.3 212.9ZM199.5 128.9 198.2 123.9 202.7 126.4ZM86.2 267.3 81.6 265 86.4 263.3ZM115.6 297.2 113.3 292.5 118.3 294.1ZM199.3 97.9 198.5 92.8 202.8 95.8ZM168.7 256.6 173.1 253.6 172.2 258.8ZM206.7 363.1 210.1 359 210.7 364.3ZM183.8 188.3 187.6 184.5 187.7 189.8ZM214.6 180.2 219 177.3 218.1 182.5ZM122.9 248.8 127.5 246.1 126.3 251.3ZM237.3 287.7 240.1 283.2 241.4 288.4ZM145.7 188 149.9 184.7 149.4 190.1ZM101.5 275 96.7 272.6 101.7 270.8ZM63.3 275 58.3 272.8 63.4 270.7ZM206.6 370.8 209.8 366.2 210.8 371.6ZM199.1 379.6 199 374.1 203 377.8ZM101.1 267.4 96.7 264 102.2 263.2ZM108.9 44.9 104.2 41.8 109.6 40.6ZM206.5 96.9 208.6 91.7 210.9 96.8ZM71 275.1 65.9 272.9 71 270.7ZM115.4 289.7 113.2 284.5 118.4 286.5ZM279.5 65 279.9 70.6 275.6 66.9ZM268 248.9 272.6 245.6 271.8 251.2ZM199.4 105.9 197.8 100.5 202.8 103.2Z"/><path fill="#0020ff" d="M122.4 264.7 125.8 260.2 126.7 265.8ZM168.7 233.5 173.7 230.7 172.2 236.2ZM122.6 256.7 127 253 126.6 258.7ZM160.9 241.3 165.7 237.9 164.7 243.7ZM176.3 210.6 181.4 207.7 179.9 213.3ZM114.8 303.9 115.3 298.1 119.1 302.5ZM107.1 332.8 110.9 328.4 111.4 334.2ZM264 2.4 265.9 7.9 260.6 5.4ZM229.5 105.4 229.7 99.5 233.8 103.7ZM214.2 347.9 218 343.4 218.6 349.3ZM199.4 202.7 204.8 200.3 202.8 205.9ZM260.2 256.7 264.6 252.7 264.4 258.7ZM244.6 135.3 247.1 129.8 249.3 135.4ZM114.6 310.7 117.2 305.3 119.3 310.9ZM214 165.8 217 160.6 218.7 166.3ZM153.3 233.4 158.5 230.4 157.1 236.3ZM108.4 305.4 104 301.3 110.1 301ZM214 158.9 215.2 152.9 218.7 157.9ZM168.5 241.1 173.7 237.8 172.5 243.8ZM206.9 144.7 204.7 138.8 210.5 141.3Z"/><path fill="#0030ff" d="M248.3 25.1 251.8 30.4 245.6 29.3ZM252.2 142.3 256.2 137.4 257 143.7ZM145.2 256.7 149.8 252.3 149.8 258.6ZM184.1 210.1 190.1 207.9 187.5 213.8ZM206.4 159.3 206.4 152.9 211.1 157.4ZM129.9 256.6 134.9 252.3 134.5 258.8ZM122 280.3 124.9 274.5 127.1 280.6ZM248.9 17.8 250.9 24 245 21.1ZM237 279.3 242 275 241.6 281.6ZM168.5 248.3 174.6 245.5 172.4 251.8ZM122 272.7 124.9 266.7 127.2 273ZM114.3 318 117.8 312.3 119.5 318.7ZM298.4 195.1 304.2 191.7 302.6 198.2ZM264.4 48.8 266.1 55.4 260.2 52.1ZM106.9 340 111.8 335.3 111.7 342.1ZM229.3 113.6 228.6 106.8 234 111ZM214.2 187.4 220.1 184 218.5 190.6ZM236.7 120.3 238.5 113.7 242 119.6ZM260.2 141.3 266.3 138.2 264.3 144.8ZM175.6 422.8 180.4 417.9 180.6 424.8ZM287.3 72 289.2 78.6 283.1 75.4ZM213.7 355.6 217.5 349.9 219 356.6Z"/><path fill="#0040ff" d="M137.7 248.5 143.7 245 142.1 251.7ZM283.2 225.5 289.4 222.4 287.3 229ZM94.1 268 87.6 265.5 93.9 262.6ZM145.6 225.3 152 222.6 149.5 229.1ZM183.4 407.5 188.7 403.1 188.2 410.1ZM236.6 128.1 238.4 121.3 242 127.3ZM272 56.5 274 63.1 267.8 59.9ZM121.9 295.2 125.6 289.3 127.3 296.1ZM137.5 256.3 143 252.1 142.3 259ZM122.3 225.6 128.3 222 126.8 228.8ZM290.3 210.9 295.3 206 295.4 213ZM213.6 173.7 216.4 167.3 219.1 173.7ZM221.4 173 225.7 167.4 226.7 174.4ZM79 275.6 72.2 273.7 78.3 270.1ZM206.2 105.7 206 98.6 211.2 103.4ZM198.4 120.6 199.5 113.6 203.8 119.3ZM86.5 275.7 79.7 273.4 86.1 270.1ZM190.7 393 195.3 387.4 196.1 394.6ZM244.6 271.4 250.6 267.3 249.4 274.4ZM108.7 290.9 102.7 286.7 109.9 285.3ZM56.1 313.6 49.1 311.6 55.4 308ZM275 233.6 280.6 228.8 280.1 236.1ZM287.7 33.4 288.8 40.7 282.8 36.5ZM298 187.7 303.7 183 303.1 190.4ZM252.2 263.6 258.6 259.7 257 267ZM101.3 313.7 94.8 309.9 102 307.9ZM198.1 371.3 201 364.3 204 371.2ZM297.9 180 303.7 175.2 303.1 182.7ZM290.6 141.2 297.2 137.6 295.2 144.9Z"/><path fill="#0050ff" d="M221.1 166.2 223.7 159.1 227 165.9ZM190.4 386.3 193.4 379.2 196.4 386.2ZM108.4 298.5 102.5 293.6 110.1 292.8ZM295.4 56.6 296.7 64.2 290.3 59.8ZM297.6 149.8 302.6 143.9 303.4 151.6ZM138 224.8 145.5 222.9 141.7 229.6ZM121.7 302.2 126.9 296.5 127.4 304.2ZM294.8 71.3 298.4 78.2 291 76ZM213.4 340.3 218.2 334.1 219.3 341.8ZM221.2 105.8 221 98 226.8 103.3ZM108.5 283.5 102.3 278.6 110.1 277.5ZM106.5 347.1 112.7 342.2 112 350ZM221.7 179.3 228.8 175.9 226.4 183.4ZM229.1 278.8 235.6 274.3 234.3 282.1ZM256.5 32.5 260.3 39.5 252.7 37.4ZM252.2 148.8 259.1 145 257.1 152.6ZM182.7 400.8 187 394 188.9 401.8ZM93.7 321.5 86.5 317.8 94.2 315.2ZM206.5 202.1 214 199.1 211 206.6ZM64.3 313.8 56.2 313 62.5 307.8ZM272.8 10.3 273.1 18.5 267 13Z"/><path fill="#0060ff" d="M249.9 2.5 250.3 10.7 244.1 5.3ZM130.3 224.6 138.3 222.7 134.2 229.8ZM236.2 136.2 237.3 128 242.4 134.5ZM243.9 149.9 248.9 143.4 250.1 151.5ZM267.3 141.1 274.5 136.9 272.5 145ZM205.7 113.5 205.8 105.2 211.7 111ZM121.4 287.5 125.8 280.5 127.8 288.6ZM113.9 324.7 119.8 318.8 120 327.1ZM205.5 127.9 208.2 120 212 127.4ZM295.2 63.5 298.5 71.4 290.6 68.3ZM243.6 142.8 247.6 135.2 250.3 143.3ZM228.4 287.4 233.3 280.3 235 288.7ZM129.7 247.9 137.4 244 134.8 252.3ZM280.6 25.8 280.9 34.4 274.5 28.6ZM94.9 276.1 86.4 275.1 93 269.6ZM213.1 113.4 213.8 104.6 219.6 111.1Z"/><path fill="#0070ff" d="M205.5 151.9 205.9 143.1 211.9 149.5ZM265.2 40.8 266.8 49.5 259.4 44.6ZM236 157.4 241.6 150.5 242.7 159.4ZM94 284 85.7 280.5 93.9 277ZM197.7 362.8 203.2 355.6 204.5 364.6ZM205.2 355.6 210 347.9 212.2 356.7ZM144.8 232.5 152.9 228.5 150.2 237.1ZM250.2 10.2 250.3 19.3 243.7 13.1ZM79 321.9 70.3 319.1 78.4 314.8ZM213.1 129.2 212.8 120 219.6 126.1ZM63.4 284.1 54.9 280.4 63.4 276.9ZM86.5 321.9 77.9 318.9 86.1 314.8ZM212.9 151.7 214 142.6 219.8 149.7ZM212.9 332.5 218.8 325.3 219.8 334.5ZM190.6 209.7 198.8 205.3 196.2 214.2ZM235.7 150.7 239.2 142.2 243 150.7ZM297.2 156.9 304.1 150.6 303.8 159.9ZM55.6 306.9 47.2 302.9 55.9 299.6ZM144.9 239.9 153.4 236.2 150.2 245ZM78.9 284.1 70.1 280.9 78.5 276.8ZM228 158.5 231.3 149.8 235.3 158.2ZM174.7 415.1 180.9 408.1 181.6 417.5ZM55.9 291.7 47.1 288.4 55.6 284.4Z"/><path fill="#0080ff" d="M289.3 203.1 295.7 196 296.4 205.5ZM101 306.9 93 301.6 102.3 299.5ZM235.6 143 239.4 134.2 243.1 143.1ZM205.1 136.2 206.6 126.8 212.4 134.5ZM297.2 164.3 304.7 158.3 303.8 167.8ZM71.7 322.1 62.3 320 70.3 314.6ZM227.9 295 233.1 286.8 235.4 296.3ZM282 217.6 290 212 288.4 221.6ZM297.1 172 304.6 165.7 303.9 175.4ZM236.2 270.6 244.6 265.6 242.4 275.1ZM128.5 271.8 134.8 264.2 135.9 274ZM205 347.5 211.3 339.9 212.4 349.7ZM175.2 255.2 184.1 250.7 181.1 260.2ZM228.4 171.5 236.8 166 234.9 175.9Z"/><path fill="#008fff" d="M101.9 292 92.4 288.8 101.3 284.1ZM182.8 262.7 191.9 258.2 188.8 267.9ZM205.1 121.6 204.7 111.5 212.3 118.3ZM71.7 314.7 61.8 312.4 70.3 306.9ZM243.7 156.2 252.2 150.6 250.3 160.6ZM128.6 263.7 136 256.7 135.9 266.9ZM266.4 240.5 274.6 234.3 273.4 244.4ZM136.7 240 145.8 235.1 143 245ZM212.8 106.4 212.1 96.1 220 102.7ZM220.1 113.4 221.4 103.1 227.9 111.1ZM213.4 193.9 222.9 189.7 219.3 199.5ZM220.4 144.8 219.9 134.4 227.7 141.3ZM220.3 121.6 220.1 111.2 227.8 118.3ZM220 159 222.6 148.8 228.1 157.8ZM101 284.5 92 279.1 102.2 276.4ZM122.2 239.1 132.6 237 126.9 245.9ZM71.2 292.2 61.3 288.4 70.9 283.9ZM86.6 284.6 76.6 281.1 86.1 276.3ZM219.9 151.3 222.6 141.1 228.1 150.1ZM220.1 128.9 221 118.4 228 126.4ZM56.3 299.8 46 296.9 55.2 291.5ZM94 315 84.2 310.8 94 306.6ZM174.2 407.3 181.6 399.6 182 410.3Z"/><path fill="#009fff" d="M288.7 63.6 290.8 74 281.8 68.3ZM282.1 140.2 291.8 135.6 288.4 145.8ZM235.8 163.8 244.5 157.6 242.9 168.3ZM128.5 278.6 136.6 271.6 136 282.4ZM189.3 377.8 195.7 369.1 197.5 379.7ZM105.5 354.2 113.9 347.3 113 358.1ZM189.3 370.3 195.5 361.5 197.6 372.1ZM274.5 140.1 284.4 135.7 280.7 145.9ZM120.5 309.5 127.5 301.2 128.6 312ZM227.7 164.6 235.2 156.6 235.7 167.5ZM258.1 1.4 260.5 12 251.2 6.4ZM101.7 299.9 91.5 295.7 101.6 291.4ZM205.5 209.1 215.5 204.4 211.9 214.8ZM212.3 324.9 218.9 316.1 220.5 327ZM288.8 40.5 290.5 51.4 281.6 44.9ZM212.2 136.3 214.2 125.4 220.5 134.4ZM63.9 292.3 53.3 289.3 62.9 283.8ZM181.7 392.7 188.4 384 189.9 394.9ZM136.7 232 146.6 227.2 143.1 237.6ZM71.5 284.7 60.9 281.7 70.5 276.3ZM87 315 76.1 312.4 85.6 306.6ZM113.2 331.5 121.8 324.3 120.7 335.5Z"/><path fill="#00afff" d="M129 232.1 139 227 135.4 237.6ZM265.8 9.3 268.2 20.3 258.8 14.1ZM220.4 278.2 229.6 271.7 227.6 282.8ZM273.4 17 276 28 266.5 21.9ZM121.5 232 131.7 227.1 127.7 237.7ZM63.4 304.3 62.9 304.4 63 307.5 52.8 303.8 62.6 299 62.7 302.2 63.3 302.1ZM230.6 120.3 230.4 119.7 227.5 120.7 228.4 109.9 235.5 118.1 232.5 119.1 232.7 119.6ZM94.1 296.7 93.4 296.8 93.7 299.9 83.4 296.6 93 291.5 93.2 294.6 93.9 294.5ZM131.2 287.7 131.4 287.1 128.3 286.2 135.3 277.9 136.5 288.7 133.5 287.8 133.3 288.4ZM255.6 11.1 256 11.8 258.7 10.2 260 21 251.3 14.5 254.1 12.9 253.7 12.2ZM255.5 26.6 256 27.2 258.6 25.4 261 36 251.7 30.4 254.2 28.5 253.7 27.8ZM177.3 241.7 177.9 241.1 175.5 239 185.3 234.2 181.9 244.6 179.5 242.5 179 243.2ZM278.4 57.5 279 58.2 281.5 56.3 284.4 66.7 274.8 61.5 277.3 59.6 276.7 58.9Z"/><path fill="#00bfff" d="M246.1 264.6 246.7 263.8 244.1 262 253.4 256.3 251 266.9 248.5 265.1 247.9 265.9ZM291.9 150.1 292.5 149.2 289.7 147.6 298.5 141.2 297.1 152 294.4 150.4 293.8 151.3ZM261.3 249.5 261.9 248.6 259.2 246.9 268 240.5 266.5 251.3 263.8 249.7 263.2 250.6ZM230.6 128 230.3 126.9 227.3 127.9 228.1 117.1 235.3 125.2 232.3 126.2 232.7 127.3ZM177.3 249.4 178 248.5 175.6 246.5 185.3 241.5 182.1 251.9 179.7 249.9 179 250.8ZM215.3 120.3 215 119.2 212 120.1 213 109.3 220.1 117.6 217.1 118.5 217.4 119.6ZM223.2 188.3 224 187.4 221.6 185.3 231.4 180.7 228 191 225.6 188.9 224.8 189.8ZM230.6 135.6 230.4 134.4 227.3 135 229.5 124.4 235.6 133.3 232.5 134 232.8 135.1ZM184.7 386 185.1 384.8 182 383.9 188.8 375.4 190.2 386.2 187.2 385.3 186.8 386.6ZM94 304.3 92.8 304.4 92.9 307.5 82.7 303.9 92.5 299.1 92.6 302.2 93.9 302.1ZM291.9 196.2 292.5 195 289.7 193.6 298 186.6 297.2 197.5 294.4 196 293.9 197.2ZM223 135.7 222.5 134.5 219.6 135.6 220.2 124.7 227.6 132.7 224.6 133.7 225.1 135ZM63.4 296.7 62 296.7 62 299.9 52.1 295.4 62.1 291.4 62.1 294.5 63.4 294.5ZM78.7 311.9 77.2 311.9 77.3 315.1 67.2 311.2 77 306.6 77.1 309.7 78.6 309.7ZM286.1 49.8 287 51.1 289.6 49.2 292 59.8 282.7 54.2 285.2 52.3 284.3 51.1ZM215.3 143.4 214.8 141.9 211.9 143 212.5 132.1 219.9 140.2 216.9 141.2 217.4 142.7Z"/><path fill="#00cfff" d="M253.8 157.6 254.9 156.5 252.6 154.4 262.4 149.8 258.8 160.1 256.5 158 255.4 159.1ZM207.6 340.8 208 339.2 204.9 338.6 210.9 329.6 213.2 340.3 210.1 339.7 209.8 341.2ZM94 289.2 92.3 289.2 92.3 292.3 82.3 288.3 92.2 283.8 92.2 287 94 287ZM253.7 257.1 254.6 255.6 251.8 254 260.5 247.5 259.2 258.3 256.5 256.7 255.6 258.2ZM270.8 49.8 271.9 51.3 274.4 49.5 276.7 60.1 267.5 54.4 270.1 52.6 269 51.1ZM200 355.9 200.4 354.1 197.3 353.4 203.8 344.6 205.6 355.3 202.6 354.6 202.1 356.4ZM71.3 304.3 69.5 304.7 70.2 307.8 59.5 306.1 68.2 299.5 69 302.6 70.8 302.2ZM230.6 143.3 230.1 141.4 227.1 142.2 228.6 131.5 235.3 140 232.2 140.8 232.7 142.7ZM86.6 289.1 84.6 289.6 85.3 292.7 74.6 291 83.3 284.4 84.1 287.5 86.1 287ZM116 347.9 117.3 346.2 114.8 344.4 124.1 338.9 121.6 349.4 119.1 347.6 117.8 349.2ZM177.1 401 177.7 399 174.7 398.1 181.6 389.7 182.8 400.5 179.8 399.6 179.2 401.6ZM177.1 265 177.6 262.9 174.6 262.1 181.4 253.6 182.8 264.4 179.8 263.5 179.2 265.6Z"/><path fill="#00dfff" d="M261.5 149.9 263 148.4 260.8 146.2 270.9 142.2 266.8 152.2 264.6 150 263 151.5ZM123.6 317.8 124.7 315.9 121.9 314.4 130.5 307.7 129.3 318.5 126.6 317 125.5 318.9ZM223 295.3 223.7 293.2 220.7 292.2 227.9 284.1 228.7 294.9 225.8 293.9 225.1 296ZM286.1 57.5 287.5 59.3 290 57.4 292.7 68 283.2 62.6 285.7 60.7 284.4 58.9ZM138.9 264.9 139.8 262.7 136.9 261.4 144.7 253.9 144.7 264.7 141.8 263.5 140.9 265.7ZM71.3 296.7 68.9 297.2 69.6 300.3 58.9 298.2 67.8 292 68.5 295.1 70.8 294.6ZM255.5 18.8 257 20.7 259.5 18.7 262.3 29.2 252.8 24 255.2 22 253.8 20.1ZM78.9 304.3 76.5 304.9 77.2 307.9 66.5 306.1 75.2 299.7 76 302.7 78.4 302.2ZM276.7 226.6 278.1 224.4 275.4 222.7 284.5 216.7 282.5 227.4 279.9 225.7 278.5 227.8ZM115.9 340.6 117 338.2 114.2 336.9 122.3 329.7 121.9 340.5 119 339.2 117.9 341.5ZM131.2 295.4 131.7 292.8 128.7 292.1 135 283.3 137 294 133.9 293.3 133.3 295.9Z"/><path fill="#00efff" d="M230.6 150.8 230.4 148.1 227.2 148.3 230.7 138 235.7 147.6 232.6 147.9 232.8 150.6ZM184.7 378.4 185.7 375.6 182.7 374.6 189.9 366.5 190.7 377.3 187.8 376.3 186.8 379.1ZM78.8 289.2 75.9 289.5 76.3 292.6 65.8 289.6 75.3 284.2 75.6 287.3 78.5 287ZM86.6 304.3 83.7 305 84.4 308 73.7 306.2 82.5 299.8 83.2 302.8 86.1 302.2ZM230.8 180.7 232.8 178.4 230.4 176.3 240.2 171.5 236.9 181.9 234.5 179.8 232.5 182.1ZM192.5 264.6 194.4 262.2 191.9 260.3 201.2 254.8 198.7 265.3 196.1 263.5 194.3 265.9ZM123.7 332.9 125.3 330.3 122.7 328.6 131.7 322.5 129.8 333.2 127.2 331.5 125.5 334.1ZM263.2 34.4 264.8 37 267.5 35.4 269.1 46.1 260.3 39.8 263 38.2 261.3 35.5ZM131.3 302.6 132.9 300 130.3 298.3 139.1 292 137.5 302.8 134.8 301.1 133.2 303.8ZM215.3 280.3 215.8 277.2 212.7 276.7 218.5 267.5 221.1 278 218 277.5 217.5 280.6ZM200 348.2 201.1 345.3 198.1 344.2 205.4 336.2 206.1 347 203.2 346 202.1 349ZM207.7 333.3 208.3 330.1 205.2 329.5 211.5 320.6 213.6 331.3 210.5 330.6 209.8 333.7ZM78.9 296.7 75.8 297.4 76.4 300.4 65.7 298.3 74.7 292.1 75.3 295.2 78.5 294.6ZM131.3 241.8 133.2 239.2 130.7 237.3 139.9 231.7 137.6 242.3 135 240.4 133.1 243.1Z"/><path fill="#00ffff" d="M278.5 34.4 280.3 37.3 283 35.6 284.5 46.4 275.7 40.1 278.4 38.4 276.6 35.5ZM284.2 211.5 285.8 208.4 283 207 291.4 200 290.6 210.8 287.8 209.4 286.2 212.5ZM200.3 264.5 202.6 261.9 200.3 259.8 210.1 255.2 206.6 265.5 204.3 263.4 201.9 266ZM222.9 287.9 223.3 284.4 220.2 284.1 225.5 274.6 228.6 285 225.5 284.7 225.1 288.2ZM269.1 150 271.4 147.3 269 145.2 278.8 140.4 275.5 150.8 273.1 148.7 270.8 151.4ZM291.9 157.9 293.5 154.7 290.7 153.2 299 146.2 298.3 157.1 295.5 155.7 293.9 158.9ZM116 355.6 117.9 352.4 115.2 350.8 124.1 344.5 122.5 355.2 119.8 353.6 117.9 356.7ZM276.8 149.9 279.5 147.2 277.2 145 287.3 140.8 283.3 151 281 148.7 278.4 151.5Z"/><path fill="#10ffef" d="M154.2 264.8 155.8 261.3 152.9 260 161 252.7 160.7 263.6 157.8 262.2 156.2 265.7ZM230.8 272.2 233 269.1 230.5 267.2 239.7 261.5 237.4 272.2 234.8 270.3 232.6 273.5ZM284.4 149.9 287.2 147.1 284.9 144.9 294.8 140.6 291 150.8 288.7 148.6 286 151.5ZM177.1 393.4 178.4 389.7 175.4 388.7 182.7 380.6 183.4 391.4 180.4 390.4 179.2 394.1ZM123.6 325.4 125.6 321.9 122.8 320.4 131.4 313.7 130.2 324.5 127.5 323 125.5 326.5ZM184.9 257.1 187.1 253.7 184.4 252 193.5 245.9 191.5 256.6 188.9 254.9 186.7 258.3ZM291.9 188.5 293.9 184.9 291.1 183.4 299.7 176.7 298.6 187.5 295.8 186 293.8 189.6ZM238.5 173 241.2 169.9 238.8 167.8 248.5 163 245.2 173.4 242.9 171.3 240.2 174.4ZM123.7 348 125.9 344.5 123.3 342.8 132.3 336.7 130.4 347.4 127.8 345.7 125.5 349.2ZM146.5 264.8 148.4 261 145.5 259.6 153.7 252.4 153.2 263.3 150.3 261.9 148.5 265.8ZM291.9 180.8 294.2 177 291.5 175.4 300.3 169 298.8 179.8 296.1 178.2 293.8 181.9Z"/><path fill="#20ffdf" d="M138.9 280.1 140.5 275.9 137.6 274.7 145.2 267 145.5 277.9 142.5 276.7 140.9 280.9ZM86.4 296.7 81.9 297.1 82.1 300.2 71.8 296.7 81.5 291.7 81.7 294.9 86.2 294.5ZM192.4 363.3 193.9 359 191 357.9 198.4 349.9 199 360.8 196 359.7 194.5 364ZM263.2 18.8 265.8 22.7 268.4 20.9 270.5 31.6 261.4 25.7 264 23.9 261.4 20.1ZM238.3 264.8 240.4 260.6 237.6 259.2 245.8 252.1 245.2 263 242.4 261.6 240.3 265.8ZM215.6 203.5 218.9 200.2 216.7 198 226.7 193.9 222.7 204 220.5 201.7 217.2 205.1ZM263.2 26.6 265.7 30.7 268.4 29 269.9 39.8 261.1 33.4 263.8 31.8 261.3 27.8ZM123.6 340.6 125.7 336.1 122.8 334.8 131 327.6 130.5 338.4 127.7 337.1 125.6 341.5ZM246.1 165.4 249.3 161.5 246.8 159.5 256.5 154.5 253.4 164.9 251 162.9 247.8 166.7Z"/><path fill="#30ffcf" d="M131.2 310.4 133.2 305.6 130.3 304.4 138.1 296.8 138.1 307.7 135.2 306.4 133.2 311.2ZM270.9 42.1 273.6 46.6 276.3 44.9 277.8 55.7 269 49.4 271.7 47.7 269 43.3ZM278.5 49.8 281.4 54.2 284 52.4 286 63.1 276.9 57.2 279.6 55.4 276.7 51.1ZM169.4 264.9 171.2 259.8 168.3 258.8 175.6 250.8 176.3 261.6 173.3 260.6 171.5 265.7ZM131.3 317.8 133.8 313 131 311.5 139.5 304.7 138.5 315.5 135.8 314 133.2 318.9ZM138.9 302.8 141.2 297.7 138.3 296.4 146.4 289.1 146.1 300 143.2 298.7 140.9 303.7ZM138.9 287.6 141.3 282.6 138.5 281.2 146.7 274.1 146.1 284.9 143.3 283.6 140.9 288.5Z"/><path fill="#40ffbf" d="M138.9 272.4 141.3 267.3 138.5 265.9 146.6 258.7 146.1 269.6 143.3 268.2 140.9 273.3ZM261.3 242 263.9 236.8 261.1 235.4 269.5 228.4 268.7 239.3 265.9 237.8 263.3 243ZM138.9 295.2 141.3 289.9 138.4 288.6 146.4 281.2 146.2 292.1 143.3 290.8 140.9 296.1ZM291.9 173.1 295.1 168.1 292.4 166.5 301.3 160.2 299.6 170.9 296.9 169.3 293.8 174.3ZM278.5 42.1 281.6 47.2 284.3 45.6 285.8 56.3 277 50 279.7 48.3 276.6 43.3ZM207.7 325.5 209.8 320 206.9 318.9 214.4 311 214.8 321.9 211.9 320.8 209.8 326.3ZM200 340.8 201.3 335 198.2 334.3 204.4 325.4 206.5 336.1 203.4 335.4 202.2 341.3ZM184.7 371 186 365.1 182.9 364.4 189.2 355.6 191.2 366.2 188.1 365.6 186.9 371.4ZM200 272.7 201.2 266.7 198.1 266.1 204.2 257.1 206.4 267.7 203.4 267.1 202.2 273.1Z"/><path fill="#50ffaf" d="M269 234.3 271.9 228.8 269.1 227.3 277.5 220.5 276.6 231.3 273.8 229.8 270.9 235.4ZM291.9 165.5 295.2 160.1 292.5 158.5 301.3 152.1 299.8 162.8 297.1 161.2 293.8 166.6ZM261.5 157.6 266.2 153.2 264 150.9 274.2 147.1 269.8 157.1 267.7 154.8 263 159.2ZM270.9 26.7 273.8 32.5 276.6 31.1 277.3 41.9 269 34.9 271.9 33.5 268.9 27.7Z"/><path fill="#60ff9f" d="M123.6 355.6 127.3 349.6 124.6 348 133.4 341.7 131.8 352.4 129.2 350.8 125.5 356.7ZM223.1 272.3 226.9 266.4 224.3 264.7 233.3 258.6 231.4 269.3 228.8 267.6 224.9 273.5ZM270.9 34.4 274.5 40.4 277.2 38.7 278.8 49.5 269.9 43.2 272.6 41.5 269 35.5ZM192.6 256.9 197.4 251.7 195.1 249.6 205 245.1 201.4 255.3 199 253.2 194.2 258.4ZM161.8 264.9 164.2 258.2 161.2 257.1 168.6 249.1 169.2 259.9 166.3 258.9 163.9 265.7ZM192.4 355.8 194.6 348.9 191.6 348 198.8 339.8 199.7 350.6 196.7 349.6 194.5 356.5ZM200.2 257 204.9 251.4 202.5 249.4 212.1 244.4 209 254.8 206.6 252.8 201.9 258.4Z"/><path fill="#70ff8f" d="M284.3 203.7 288.2 197.3 285.5 195.7 294.3 189.3 292.8 200.1 290.1 198.5 286.2 204.9ZM207.8 218.9 212.4 212.9 209.9 211 219.3 205.6 216.7 216.1 214.1 214.2 209.6 220.3ZM215.3 303 217.1 295.6 214 294.8 220.4 286.1 222.3 296.8 219.2 296.1 217.4 303.5ZM131.3 325.4 135.3 318.7 132.7 317.1 141.5 310.8 139.9 321.5 137.2 319.9 133.2 326.5Z"/><path fill="#80ff80" d="M131.2 333 134.4 325.8 131.6 324.5 139.5 317.1 139.3 327.9 136.5 326.7 133.2 333.9ZM200.3 218.8 205.9 213.2 203.7 210.9 213.7 206.8 209.7 216.9 207.5 214.7 201.9 220.4ZM184.7 363.3 187.1 355.6 184.1 354.7 191.2 346.4 192.2 357.2 189.2 356.3 186.8 364ZM223.2 195.9 229 190.1 226.8 187.9 236.9 183.8 232.8 193.9 230.6 191.6 224.8 197.5ZM215.5 211.2 220.9 205 218.5 203 228.2 198.1 224.9 208.5 222.6 206.4 217.2 212.7ZM177.1 385.9 179.5 377.9 176.5 377 183.4 368.6 184.6 379.4 181.6 378.5 179.2 386.6ZM246 257.2 249.4 249.5 246.5 248.2 254.5 240.8 254.3 251.7 251.4 250.4 248 258.1Z"/><path fill="#8fff70" d="M146.5 272.4 150 264.5 147.1 263.2 155 255.8 154.9 266.6 152 265.4 148.5 273.3ZM207.6 318.2 209.2 309.3 206.1 308.8 212 299.7 214.5 310.3 211.4 309.7 209.8 318.6ZM276.6 219.1 280.6 211 277.8 209.6 286.1 202.6 285.4 213.4 282.6 212 278.6 220.1Z"/><path fill="#9fff60" d="M215.3 295.4 216.9 286.4 213.8 285.9 219.8 276.8 222.2 287.4 219.1 286.8 217.5 295.8ZM184.9 241.8 190.8 234.7 188.4 232.7 198 227.7 194.9 238.1 192.5 236.1 186.6 243.2ZM284.3 157.8 289.3 150 286.7 148.3 295.7 142.2 293.8 152.9 291.2 151.2 286.1 159ZM200 333.1 203.1 324.1 200.1 323.1 207.3 315 208.1 325.8 205.1 324.8 202.1 333.8ZM146.5 280.1 150.2 271.2 147.2 270 155 262.4 155.1 273.3 152.2 272.1 148.5 280.9ZM276.7 157.7 283 150.4 280.6 148.4 290.4 143.6 287 153.9 284.7 151.9 278.4 159.1Z"/><path fill="#afff50" d="M139 310.2 144.3 302 141.7 300.3 150.7 294.2 148.8 304.9 146.1 303.2 140.8 311.4ZM192.4 348.3 195.3 338.8 192.3 337.9 199.3 329.6 200.4 340.4 197.4 339.5 194.5 348.9ZM253.6 249.6 258.2 240.7 255.4 239.3 263.8 232.4 263 243.2 260.2 241.8 255.6 250.6ZM215.3 287.9 216.7 278 213.6 277.6 219.3 268.3 222 278.8 218.9 278.3 217.5 288.2ZM131.3 355.6 136.1 346.6 133.4 345.1 141.9 338.4 140.8 349.2 138.1 347.7 133.2 356.7Z"/><path fill="#bfff40" d="M138.9 325.5 143.1 315.6 140.2 314.3 148 306.8 148 317.7 145.1 316.4 140.9 326.4Z"/><path fill="#cfff30" d="M131.3 340.5 137.1 331.3 134.4 329.6 143.3 323.4 141.6 334.1 138.9 332.4 133.2 341.6ZM146.5 287.7 150.6 277.2 147.6 276.1 155.2 268.3 155.6 279.1 152.6 278 148.5 288.5ZM207.6 310.6 209.9 299.5 206.8 298.8 213 289.9 215.2 300.6 212.1 299.9 209.8 311ZM253.8 165.3 261 156.6 258.6 154.6 268.2 149.6 265.1 160 262.7 158 255.5 166.8Z"/><path fill="#dfff20" d="M284.3 188.5 290 178.6 287.3 177 296 170.6 294.7 181.3 291.9 179.7 286.2 189.6ZM207.9 226.5 215.7 218 213.4 215.9 223.3 211.4 219.7 221.6 217.4 219.5 209.5 228ZM269.1 157.6 277.3 149.4 275 147.2 285.1 143 281.1 153.1 278.8 150.9 270.7 159.2ZM246.2 173 254.1 164.5 251.8 162.4 261.7 157.9 258 168.2 255.7 166 247.8 174.5ZM230.7 264.8 235.5 254.3 232.7 253 240.7 245.7 240.4 256.5 237.5 255.2 232.7 265.7ZM230.9 188.3 238.8 179.7 236.5 177.5 246.3 173 242.7 183.3 240.4 181.1 232.5 189.8Z"/><path fill="#efff10" d="M177.1 378.4 180.3 366.8 177.3 365.9 184.1 357.4 185.5 368.2 182.5 367.3 179.2 379ZM146.5 295.2 151.2 284 148.3 282.8 156.1 275.2 156.2 286.1 153.3 284.9 148.5 296.1ZM131.3 348 137.5 337.6 134.8 336 143.6 329.6 142.1 340.3 139.4 338.7 133.2 349.2ZM268.9 226.7 274.6 215.7 271.8 214.3 280.1 207.3 279.3 218.2 276.5 216.7 270.9 227.7ZM200 325.6 203.1 313.7 200.1 312.9 206.8 304.3 208.3 315 205.3 314.2 202.1 326.2ZM192.4 340.7 196 328.8 192.9 327.9 199.9 319.5 201.1 330.3 198.1 329.4 194.5 341.4ZM192.5 241.8 199.5 231.5 196.9 229.7 206 223.8 204 234.5 201.3 232.7 194.3 243.1ZM146.5 302.8 151.3 291.2 148.4 290 156.1 282.4 156.2 293.2 153.3 292 148.5 303.6Z"/><path fill="#ffff00" d="M284.3 165.5 290.7 154.6 287.9 153 296.7 146.6 295.3 157.4 292.6 155.8 286.2 166.6ZM192.6 249.4 200.9 239.7 198.5 237.7 208.2 232.9 204.9 243.2 202.5 241.2 194.3 250.8ZM284.3 196.1 290.7 185 288 183.4 296.7 176.9 295.4 187.7 292.6 186.1 286.2 197.2ZM238.5 180.7 246.9 170.8 244.5 168.7 254.2 163.9 251 174.3 248.6 172.2 240.2 182.1ZM200.3 226.4 209.4 217.2 207.2 215 217.2 210.8 213.2 220.9 211 218.7 201.9 228ZM146.5 310.3 152.3 298.6 149.5 297.2 157.8 290.1 157.1 301 154.3 299.6 148.5 311.3Z"/><path fill="#ffef00" d="M184.7 355.9 188 343 184.9 342.2 191.5 333.5 193.1 344.3 190.1 343.5 186.8 356.4ZM139 317.7 146.6 306.7 144 304.9 153.2 299.1 151 309.8 148.4 308 140.8 319Z"/><path fill="#ffdf00" d="M207.6 303 210.2 289.6 207.1 289 213.2 279.9 215.5 290.6 212.4 290 209.8 303.4ZM200.2 249.4 209.2 238.8 206.8 236.8 216.5 231.9 213.3 242.3 210.9 240.3 201.9 250.8ZM223.2 203.6 232.4 193.1 230 191 239.8 186.3 236.4 196.6 234.1 194.5 224.9 205ZM154.2 272.4 159.8 259.6 156.9 258.4 164.8 250.9 164.7 261.8 161.8 260.5 156.2 273.3Z"/><path fill="#ffcf00" d="M138.9 333 144.8 320 141.9 318.7 149.9 311.4 149.6 322.2 146.8 320.9 140.9 333.9ZM284.3 180.8 291.4 168.3 288.7 166.8 297.4 160.2 296.1 171 293.3 169.4 286.2 181.9ZM138.9 340.5 145.9 327.8 143.2 326.3 151.7 319.6 150.6 330.4 147.8 328.9 140.8 341.6ZM207.6 295.5 209.5 280.9 206.4 280.5 211.9 271.1 214.8 281.5 211.7 281.1 209.8 295.8ZM284.2 173.2 290.9 160 288 158.6 296.3 151.5 295.6 162.3 292.8 160.9 286.2 174.2Z"/><path fill="#ffbf00" d="M200 318.2 202.7 303.2 199.6 302.6 205.5 293.6 207.9 304.1 204.8 303.6 202.2 318.6ZM192.4 272.6 196.3 257.8 193.3 257 199.9 248.4 201.5 259.2 198.4 258.4 194.5 273.2Z"/><path fill="#ffaf00" d="M276.6 211.4 284.3 197.9 281.5 196.3 290.2 189.7 288.9 200.5 286.2 199 278.5 212.5ZM200.2 234.2 209.9 221.8 207.4 219.9 216.9 214.6 214.1 225.1 211.6 223.2 201.9 235.5Z"/><path fill="#ff9f00" d="M138.9 348.1 146 333.7 143.2 332.3 151.4 325.3 150.8 336.1 148 334.7 140.9 349.1ZM215.6 218.8 226.7 206.8 224.4 204.7 234.3 200.2 230.6 210.5 228.3 208.3 217.2 220.3Z"/><path fill="#ff8f00" d="M238.4 257.1 247.3 243.1 244.6 241.4 253.5 235.2 251.8 245.9 249.1 244.2 240.3 258.3ZM177.1 370.8 183.3 355.2 180.3 354 188 346.3 188.3 357.1 185.3 356 179.1 371.6ZM261.4 234.2 270.7 220 268.1 218.3 277.2 212.3 275.2 223 272.6 221.2 263.2 235.4ZM154.2 287.6 160.9 272 158 270.7 165.9 263.2 165.8 274.1 162.9 272.8 156.2 288.5ZM192.3 333.3 195.7 316.5 192.7 315.9 198.8 307 201 317.6 197.9 317 194.5 333.7ZM154.2 280 160.9 264.3 158 263 165.8 255.5 165.8 266.4 162.9 265.1 156.2 280.9Z"/><path fill="#ff8000" d="M253.7 241.9 262.3 227 259.5 225.4 268.2 218.9 266.9 229.6 264.2 228.1 255.6 243ZM207.6 287.9 210.5 270.9 207.4 270.4 213.2 261.2 215.7 271.8 212.6 271.2 209.8 288.2ZM261.5 165.3 273.7 152.8 271.5 150.6 281.5 146.4 277.5 156.5 275.3 154.3 263.1 166.8ZM230.9 195.9 243.1 183.4 240.9 181.2 250.9 177.1 247 187.2 244.7 185 232.5 197.4ZM200 310.6 202.9 293.2 199.8 292.7 205.6 283.5 208.1 294.1 205 293.6 202.2 311Z"/><path fill="#ff7000" d="M184.7 348.3 189.4 330.9 186.3 330.1 193 321.5 194.5 332.2 191.5 331.4 186.8 348.9ZM146.6 317.8 155.3 302 152.5 300.5 161.1 293.8 160 304.6 157.2 303.1 148.5 318.9ZM276.7 165.4 287.7 151 285.2 149.1 294.7 143.7 292 154.2 289.5 152.3 278.4 166.7ZM246 249.5 254.8 233.6 252 232.1 260.5 225.4 259.5 236.2 256.7 234.7 247.9 250.6ZM207.9 234.1 220.2 220.7 217.9 218.5 227.8 214.1 224.2 224.3 221.9 222.2 209.5 235.6ZM200.3 241.7 212.6 228.2 210.3 226.1 220.2 221.6 216.6 231.9 214.3 229.7 201.9 243.2Z"/><path fill="#ff4000" d="M269.1 165.3 282.1 150.5 279.8 148.4 289.5 143.7 286.1 154 283.8 151.9 270.8 166.8Z"/><path fill="#ff3000" d="M177.1 363.3 183 344 180 343 187 334.7 188.1 345.5 185.1 344.6 179.2 364ZM207.9 241.8 220.5 225.9 218 223.9 227.6 218.7 224.7 229.2 222.2 227.2 209.6 243.1ZM215.5 226.5 228 210.5 225.5 208.6 235 203.3 232.2 213.8 229.8 211.9 217.2 227.9ZM215.6 234.1 229.6 219 227.3 216.9 237.2 212.4 233.5 222.6 231.2 220.5 217.2 235.6Z"/><path fill="#ff2000" d="M146.5 325.4 155.6 306.8 152.7 305.5 160.9 298.3 160.4 309.2 157.6 307.8 148.5 326.4Z"/><path fill="#ff0000" d="M184.7 272.5 191.9 251.5 188.9 250.5 196.2 242.4 197 253.2 194 252.2 186.8 273.2ZM154.1 295.3 160.7 274 157.6 273 164.6 264.7 165.8 275.5 162.8 274.6 156.2 296Z"/><path fill="#ef0000" d="M230.7 257.2 241.5 237.3 238.8 235.7 247.3 229 246.2 239.8 243.5 238.3 232.6 258.2Z"/><path fill="#df0000" d="M268.9 219.1 278.7 198.2 275.9 196.9 284 189.7 283.6 200.5 280.7 199.2 270.9 220.1ZM276.6 203.8 287.4 183.2 284.7 181.7 293.1 174.9 292.2 185.7 289.4 184.2 278.5 204.8ZM238.5 188.2 255.1 171.8 252.9 169.5 263 165.5 258.9 175.6 256.7 173.3 240.1 189.8Z"/><path fill="#cf0000" d="M184.7 340.8 190.3 317.9 187.3 317.1 193.8 308.4 195.5 319.2 192.4 318.4 186.8 341.3ZM253.8 173 269.6 155.3 267.2 153.2 277.1 148.5 273.6 158.8 271.2 156.7 255.4 174.4Z"/><path fill="#bf0000" d="M276.6 173.1 289.6 152.7 286.9 151 295.9 144.9 294.1 155.6 291.4 153.9 278.5 174.3ZM146.5 333.1 155.3 310.6 152.4 309.4 160 301.7 160.3 312.5 157.4 311.4 148.5 333.9ZM223.2 211.2 240.4 194.1 238.2 191.9 248.3 187.9 244.2 197.9 242 195.7 224.8 212.7ZM169.4 378.4 176.2 354.8 173.2 353.9 180.1 345.5 181.4 356.3 178.4 355.4 171.5 379ZM276.6 188.6 286.5 166 283.6 164.7 291.6 157.3 291.4 168.2 288.5 166.9 278.6 189.5Z"/><path fill="#af0000" d="M269.1 173 286 154.9 283.7 152.7 293.6 148.3 289.9 158.5 287.6 156.4 270.7 174.5ZM192.4 325.6 199.1 301.4 196.1 300.6 202.9 292.1 204.3 302.9 201.2 302 194.5 326.2Z"/><path fill="#9f0000" d="M154.1 302.9 162.1 278.5 159.1 277.5 166.2 269.3 167.2 280.1 164.2 279.1 156.2 303.6ZM200 303 205.4 277.9 202.3 277.2 208.6 268.3 210.6 279 207.6 278.3 202.2 303.5Z"/><path fill="#8f0000" d="M138.9 355.5 152.7 333.4 150 331.8 158.9 325.5 157.3 336.3 154.6 334.6 140.8 356.7ZM261.3 226.7 274.5 204.2 271.8 202.6 280.5 196.1 279.1 206.9 276.4 205.3 263.2 227.8ZM246.2 180.6 264.1 161.4 261.8 159.2 271.8 154.8 268.1 165 265.8 162.9 247.8 182.1Z"/><path fill="#800000" d="M177.1 355.8 185.1 330.6 182.1 329.6 189.2 321.4 190.2 332.2 187.2 331.3 179.2 356.5ZM230.7 249.6 242.9 225.7 240.1 224.3 248.4 217.3 247.6 228.1 244.8 226.7 232.7 250.6ZM276.6 196.1 290.7 173.2 288 171.5 296.9 165.2 295.3 176 292.6 174.3 278.5 197.3ZM230.9 203.6 249.7 184.2 247.5 182 257.5 177.8 253.5 188 251.3 185.8 232.5 205.1ZM169.5 370.7 181.4 346.2 178.5 344.8 186.7 337.6 186.2 348.5 183.3 347.1 171.5 371.7ZM161.8 272.6 169 246.2 166 245.4 172.8 236.9 174.2 247.6 171.2 246.8 163.9 273.2ZM169.4 363.3 179.2 337.6 176.3 336.5 183.8 328.7 184.2 339.5 181.3 338.4 171.5 364.1ZM223.2 218.8 242.3 198.9 240 196.7 250 192.4 246.1 202.6 243.8 200.4 224.8 220.3ZM238.4 249.5 251.9 225.1 249.2 223.5 257.8 216.9 256.6 227.7 253.9 226.1 240.3 250.6ZM261.5 172.9 281.5 153.3 279.3 151 289.4 147 285.3 157.1 283 154.8 263 174.5ZM246 241.9 261.3 217.8 258.7 216.1 267.6 210 265.9 220.7 263.2 219 247.9 243ZM276.6 180.8 291.1 156.2 288.4 154.6 297.1 148.2 295.7 159 293 157.4 278.5 181.9ZM177.1 272.6 183.9 244.4 180.8 243.7 187.3 235 189.1 245.7 186 245 179.2 273.1ZM154.2 310.4 165.1 282.9 162.1 281.8 169.8 274.1 170 284.9 167.1 283.8 156.2 311.2ZM161.8 378.4 171.6 350.5 168.7 349.4 176 341.4 176.7 352.2 173.7 351.2 163.9 379.1ZM146.5 340.6 157.3 312.8 154.3 311.7 161.9 303.9 162.3 314.8 159.3 313.6 148.6 341.4ZM200 280.1 209.4 251.6 206.4 250.6 213.6 242.5 214.5 253.3 211.5 252.3 202.1 280.8ZM253.6 234.4 265.3 206.8 262.4 205.6 270.2 198 270.2 208.9 267.3 207.6 255.6 235.3ZM192.4 318.1 198.9 288.5 195.8 287.8 202.1 278.9 204.1 289.6 201.1 288.9 194.5 318.6ZM200 295.5 204.6 265.1 201.5 264.6 207.2 255.4 209.9 265.9 206.8 265.4 202.2 295.8ZM146.5 348.1 160.9 320.6 158.1 319.1 166.5 312.2 165.6 323.1 162.8 321.6 148.5 349.1ZM161.8 280.1 172.9 251 169.9 249.9 177.5 242.1 177.9 253 174.9 251.8 163.9 280.9ZM138.9 363.2 151.5 334.7 148.6 333.4 156.6 326 156.4 336.9 153.5 335.6 140.9 364.1ZM184.7 333.2 193.1 302.8 190.1 301.9 196.8 293.4 198.3 304.2 195.2 303.4 186.8 333.8ZM154.1 318 164.7 287.3 161.7 286.3 169 278.2 169.8 289.1 166.8 288.1 156.2 318.7ZM253.8 180.7 274.7 155.7 272.3 153.7 282 148.8 278.8 159.2 276.4 157.1 255.5 182.1ZM177 348.4 182.9 316.3 179.8 315.7 185.8 306.6 188.2 317.2 185.1 316.7 179.2 348.8ZM223.2 226.5 244.8 201.2 242.5 199.1 252.2 194.3 248.9 204.6 246.5 202.6 224.9 227.9ZM169.4 272.6 177 239.6 173.9 238.9 180.3 230.1 182.2 240.7 179.1 240 171.5 273.1ZM238.5 195.9 262.5 171.6 260.3 169.4 270.4 165.3 266.3 175.4 264.1 173.2 240.1 197.4ZM161.8 287.7 172.6 255 169.6 254 176.7 245.8 177.6 256.6 174.6 255.6 163.9 288.4ZM238.4 241.9 255.7 211.9 252.9 210.4 261.6 203.8 260.3 214.6 257.6 213 240.3 243ZM192.4 310.5 202.4 277.3 199.4 276.4 206.3 268.1 207.5 278.9 204.5 278 194.5 311.1ZM269 211.4 287 181.8 284.4 180.1 293.2 173.8 291.6 184.5 288.9 182.9 270.9 212.5ZM268.9 203.9 282.8 171.6 279.9 170.4 287.8 162.9 287.7 173.8 284.8 172.5 270.9 204.8ZM169.5 325.5 184.5 293.5 181.7 292.1 189.8 284.9 189.4 295.7 186.5 294.4 171.5 326.4ZM161.8 310.3 176.2 278 173.3 276.8 181.3 269.3 181.1 280.2 178.2 278.9 163.8 311.2ZM246.1 188.3 268.5 160.8 266 158.8 275.6 153.7 272.6 164.1 270.2 162.2 247.8 189.7ZM253.7 226.7 270.7 195.3 268 193.8 276.5 187.1 275.4 197.9 272.7 196.4 255.6 227.7ZM161.8 370.8 174.1 337.1 171.2 336 178.6 328.1 179.1 338.9 176.2 337.8 163.9 371.6ZM230.7 241.9 248.1 210.4 245.3 208.9 253.9 202.2 252.8 213 250 211.5 232.6 243ZM253.8 188.3 278.6 162.1 276.3 160 286.2 155.6 282.4 165.8 280.1 163.7 255.4 189.8ZM184.7 325.6 195.5 291.1 192.5 290.2 199.5 281.9 200.6 292.7 197.6 291.8 186.8 326.3ZM200 287.9 206.9 252.3 203.8 251.7 209.9 242.7 212.2 253.3 209.1 252.7 202.2 288.3ZM146.5 355.6 162.7 323.1 159.9 321.7 168.1 314.7 167.5 325.5 164.7 324.1 148.5 356.6ZM261.4 188.3 284.1 160 281.6 158 291.2 152.8 288.3 163.3 285.8 161.3 263.1 189.7ZM138.9 370.7 154.9 337.8 152.1 336.4 160.3 329.3 159.7 340.1 156.9 338.8 140.9 371.7ZM177.1 325.6 189.3 290.8 186.3 289.8 193.7 281.7 194.3 292.6 191.4 291.5 179.2 326.3ZM177.1 295.4 185.3 259.3 182.2 258.6 188.5 249.7 190.5 260.4 187.4 259.7 179.2 295.9ZM154.1 325.6 166 290.1 163.1 289.1 170.3 280.9 171.1 291.8 168.1 290.8 156.2 326.3ZM238.4 226.6 257.9 194.5 255.2 192.9 264 186.5 262.5 197.3 259.8 195.7 240.3 227.8ZM161.8 325.6 174.1 290 171.1 289 178.4 280.9 179.1 291.8 176.1 290.7 163.9 326.3ZM169.5 348.1 185.6 314 182.8 312.6 190.9 305.4 190.4 316.3 187.6 314.9 171.5 349.1ZM161.8 303 170.3 266 167.3 265.3 173.7 256.6 175.5 267.3 172.5 266.5 163.9 303.5ZM161.8 295.4 171.1 258.6 168 257.8 174.6 249.1 176.3 259.9 173.2 259.1 163.9 295.9ZM261.5 180.6 287.9 153.3 285.6 151.1 295.6 146.8 291.7 157 289.4 154.8 263.1 182.1ZM161.8 348.2 175.6 312.7 172.6 311.6 180.2 303.8 180.6 314.7 177.6 313.5 163.9 349ZM269 180.8 287.3 147.4 284.5 145.9 293 139.1 292 150 289.2 148.4 270.9 181.9ZM154.1 340.7 165.6 304.2 162.6 303.3 169.6 295 170.7 305.8 167.7 304.9 156.2 341.4ZM184.7 318.1 194.2 281 191.2 280.2 197.8 271.6 199.4 282.3 196.4 281.5 186.8 318.6ZM261.3 219 281.4 186.3 278.7 184.6 287.5 178.3 285.9 189 283.3 187.4 263.2 220.2ZM223.2 234.1 248.2 204.3 245.8 202.3 255.5 197.3 252.3 207.7 249.9 205.7 224.9 235.5ZM268.9 188.6 283.4 152.4 280.4 151.2 288.1 143.5 288.3 154.4 285.4 153.2 270.9 189.4ZM154.2 378.2 173.3 343.9 170.6 342.3 179.2 335.7 178 346.5 175.3 344.9 156.1 379.3ZM269 196.1 288.3 161.6 285.5 160.1 294.1 153.5 292.9 164.3 290.2 162.7 270.9 197.2ZM230.9 226.5 258.1 197.5 255.8 195.3 265.7 191 262 201.2 259.7 199 232.5 228ZM154.2 363.2 171.5 327.4 168.6 326 176.8 318.9 176.3 329.7 173.4 328.3 156.2 364.1ZM177 310.6 185.2 271.4 182.1 270.8 188.3 261.9 190.4 272.5 187.4 271.9 179.2 311ZM154.2 348.2 168.7 310.9 165.8 309.7 173.4 302 173.7 312.8 170.8 311.7 156.2 349ZM238.5 211.2 264.4 180.5 262 178.4 271.7 173.5 268.5 183.9 266.1 181.9 240.2 212.7ZM184.7 310.5 195.7 271.8 192.7 270.9 199.5 262.5 200.9 273.2 197.8 272.4 186.8 311.1ZM177.1 340.7 189.4 302.4 186.4 301.4 193.5 293.2 194.5 304 191.5 303 179.2 341.4ZM246.1 211.2 272.1 180.3 269.7 178.3 279.4 173.4 276.2 183.7 273.8 181.7 247.8 212.7ZM230.9 211.2 258.1 181.4 255.8 179.3 265.7 174.7 262.1 185 259.7 182.9 232.5 212.7ZM230.9 234.1 259.3 205.2 257 203 267.1 198.8 263.1 208.9 260.8 206.7 232.5 235.6ZM238.3 234.3 256.9 198.2 254.1 196.8 262.4 189.8 261.7 200.7 258.9 199.2 240.3 235.3ZM177.1 333.1 190.1 294.6 187.1 293.6 194.3 285.4 195.1 296.3 192.2 295.3 179.2 333.8ZM169.4 280.1 182.2 241.4 179.2 240.4 186.4 232.3 187.3 243.1 184.3 242.1 171.5 280.8ZM154.2 333.1 169.2 295.1 166.3 294 173.9 286.2 174.2 297.1 171.2 295.9 156.2 333.9ZM253.8 195.9 282.2 166.5 279.9 164.4 289.9 160.1 286.1 170.3 283.8 168.1 255.4 197.4ZM192.3 303 199 262.4 195.9 261.9 201.8 252.7 204.3 263.3 201.2 262.8 194.5 303.4ZM146.5 363.2 164.5 326 161.7 324.6 169.9 317.4 169.3 328.3 166.5 326.9 148.5 364.1ZM246.1 203.6 271.8 170.8 269.3 168.9 278.8 163.6 276 174.1 273.5 172.2 247.8 205ZM261.3 196.1 282.9 160.4 280.2 158.8 289 152.4 287.5 163.2 284.8 161.5 263.2 197.2ZM161.8 363.2 179.5 325.4 176.6 324 184.7 316.8 184.3 327.6 181.5 326.3 163.8 364.1ZM184.7 295.3 197.7 255.6 194.7 254.6 201.9 246.4 202.8 257.2 199.8 256.2 186.8 296ZM161.8 355.7 178.2 317 175.3 315.8 183.1 308.3 183.1 319.1 180.2 317.9 163.8 356.6ZM192.3 280.3 199.5 238.8 196.4 238.3 202.3 229.2 204.8 239.8 201.6 239.2 194.5 280.7ZM238.5 218.9 267 187.5 264.6 185.4 274.5 180.8 270.9 191.1 268.6 189 240.1 220.3ZM161.8 317.9 178.1 278.5 175.1 277.3 182.9 269.6 183 280.5 180.1 279.3 163.8 318.8ZM161.8 340.7 173.5 299.7 170.5 298.8 177.3 290.4 178.6 301.1 175.6 300.3 163.9 341.3ZM253.7 211.4 274.5 174 271.7 172.4 280.3 165.8 279.1 176.6 276.4 175 255.6 212.5ZM184.7 303 194.6 261.3 191.6 260.5 198 251.8 199.8 262.5 196.8 261.8 186.8 303.5ZM261.3 203.9 277.7 164.2 274.7 163 282.5 155.4 282.6 166.2 279.7 165 263.3 204.7ZM238.5 203.6 267.7 172 265.4 169.8 275.3 165.4 271.6 175.6 269.3 173.4 240.1 205.1ZM154.2 355.7 171.4 316.2 168.5 314.9 176.4 307.5 176.3 318.3 173.4 317.1 156.2 356.6ZM246 234.3 267 196.6 264.2 195 272.8 188.4 271.7 199.2 268.9 197.6 247.9 235.4ZM177.1 303 187.2 260.8 184.1 260.1 190.6 251.3 192.4 262 189.3 261.3 179.2 303.5ZM246.2 195.9 276.4 164.5 274.1 162.3 284.1 158.1 280.2 168.2 278 166.1 247.8 197.4ZM169.4 355.8 181 313.7 177.9 312.9 184.7 304.3 186.1 315.1 183.1 314.3 171.5 356.4ZM169.4 295.4 180.6 253.1 177.6 252.3 184.3 243.7 185.8 254.5 182.8 253.7 171.5 295.9ZM246 226.7 267.8 188.5 265.1 186.9 273.7 180.3 272.4 191.1 269.7 189.6 247.9 227.8ZM169.4 287.8 181.4 245.5 178.3 244.6 185.2 236.1 186.5 246.9 183.5 246.1 171.5 288.4ZM177.1 287.8 186.6 244.9 183.5 244.2 189.8 235.4 191.8 246 188.7 245.4 179.2 288.3ZM146.5 370.9 158.8 328.6 155.7 327.7 162.6 319.3 163.9 330.1 160.9 329.2 148.6 371.5ZM253.6 219.1 272.9 179.4 270 178 278.2 170.9 277.7 181.7 274.8 180.4 255.6 220.1ZM161.8 333.1 178.7 292.2 175.7 291 183.5 283.4 183.6 294.2 180.7 293 163.8 333.9ZM184.7 280.2 196.1 237.1 193.1 236.3 199.7 227.7 201.3 238.4 198.2 237.6 186.8 280.8ZM169.4 333.1 183.2 290.2 180.2 289.3 187.3 281 188.3 291.8 185.3 290.9 171.5 333.8ZM177.1 317.9 194.8 275.7 191.9 274.5 199.7 266.9 199.8 277.8 196.8 276.6 179.1 318.8ZM146.5 378.3 165.2 336.1 162.3 334.8 170.2 327.4 170.1 338.3 167.2 337 148.5 379.2ZM230.8 218.9 257.9 181.2 255.3 179.4 264.6 173.8 262.2 184.4 259.7 182.5 232.6 220.2ZM177.1 280.2 188.8 234.8 185.8 234 192.4 225.4 194 236.2 190.9 235.4 179.2 280.7ZM169.4 310.5 182.9 265.4 179.9 264.5 186.8 256.2 188 267 185 266.1 171.5 311.1ZM169.4 318 185.1 273.6 182.2 272.6 189.5 264.5 190.2 275.4 187.2 274.3 171.5 318.7ZM169.4 340.7 184.6 295.7 181.6 294.7 188.8 286.6 189.6 297.4 186.6 296.4 171.5 341.4ZM184.7 287.9 192.9 241.1 189.8 240.6 195.7 231.5 198.2 242.1 195.1 241.5 186.9 288.3ZM192.4 287.8 204 241.8 201 241 207.5 232.3 209.2 243.1 206.1 242.3 194.5 288.3ZM192.4 295.3 207.1 250.1 204.1 249.1 211.2 240.9 212.2 251.7 209.2 250.8 194.5 296ZM253.7 203.8 276.6 161.3 273.8 159.8 282.3 153 281.3 163.8 278.5 162.4 255.6 204.8ZM261.3 211.5 283.8 167.8 281 166.4 289.3 159.4 288.5 170.2 285.7 168.8 263.3 212.5ZM169.4 302.9 183 255.4 180 254.5 186.8 246 188.1 256.8 185.1 256 171.5 303.5ZM154.2 370.8 173.8 324.1 170.9 322.8 178.6 315.3 178.7 326.1 175.8 324.9 156.2 371.6ZM246 219.1 268.2 172.5 265.4 171.1 273.5 163.9 273.1 174.8 270.2 173.4 248 220.1Z"/>
<use href="#land"/>
<use href="#sites"/>
</g>
<rect x="0" y="0" width="348" height="427.2" fill="none" stroke="#1a1a1a" stroke-width="1.1"/>
<use href="#ticks"/>
<rect x="10.3" y="15.9" width="112.8" height="25.3" fill="url(#jet)" stroke="#262626" stroke-width="1"/><text x="10.3" y="0.4" font-size="17.5" text-anchor="middle" fill="#383838">0</text><text x="12.1" y="0.4" font-size="17.5" text-anchor="middle" fill="#383838">1</text><text x="14" y="0.4" font-size="17.5" text-anchor="middle" fill="#383838">2</text><text x="15.8" y="0.4" font-size="17.5" text-anchor="middle" fill="#383838">3</text><text x="17.6" y="0.4" font-size="17.5" text-anchor="middle" fill="#383838">4</text><text x="19.5" y="0.4" font-size="17.5" text-anchor="middle" fill="#383838">5</text><text x="21.3" y="0.4" font-size="17.5" text-anchor="middle" fill="#383838">6</text><text x="23.1" y="0.4" font-size="17.5" text-anchor="middle" fill="#383838">7</text><text x="24.9" y="0.4" font-size="17.5" text-anchor="middle" fill="#383838">8</text><text x="26.8" y="0.4" font-size="17.5" text-anchor="middle" fill="#383838">9</text><text x="28.6" y="0.4" font-size="17.5" text-anchor="middle" fill="#383838">10</text><text x="30.4" y="0.4" font-size="17.5" text-anchor="middle" fill="#383838">11</text><text x="32.3" y="0.4" font-size="17.5" text-anchor="middle" fill="#383838">12</text><text x="34.1" y="0.4" font-size="17.5" text-anchor="middle" fill="#383838">13</text><text x="35.9" y="0.4" font-size="17.5" text-anchor="middle" fill="#383838">14</text><text x="37.8" y="0.4" font-size="17.5" text-anchor="middle" fill="#383838">15</text><text x="39.6" y="0.4" font-size="17.5" text-anchor="middle" fill="#383838">16</text><text x="41.4" y="0.4" font-size="17.5" text-anchor="middle" fill="#383838">17</text><text x="43.2" y="0.4" font-size="17.5" text-anchor="middle" fill="#383838">18</text><text x="45.1" y="0.4" font-size="17.5" text-anchor="middle" fill="#383838">19</text><text x="46.9" y="0.4" font-size="17.5" text-anchor="middle" fill="#383838">20</text><text x="48.7" y="0.4" font-size="17.5" text-anchor="middle" fill="#383838">21</text><text x="50.6" y="0.4" font-size="17.5" text-anchor="middle" fill="#383838">22</text><text x="52.4" y="0.4" font-size="17.5" text-anchor="middle" fill="#383838">23</text><text x="54.2" y="0.4" font-size="17.5" text-anchor="middle" fill="#383838">24</text><text x="56" y="0.4" font-size="17.5" text-anchor="middle" fill="#383838">25</text><text x="57.9" y="0.4" font-size="17.5" text-anchor="middle" fill="#383838">26</text><text x="59.7" y="0.4" font-size="17.5" text-anchor="middle" fill="#383838">27</text><text x="61.5" y="0.4" font-size="17.5" text-anchor="middle" fill="#383838">28</text><text x="63.4" y="0.4" font-size="17.5" text-anchor="middle" fill="#383838">29</text><text x="65.2" y="0.4" font-size="17.5" text-anchor="middle" fill="#383838">30</text><text x="67" y="0.4" font-size="17.5" text-anchor="middle" fill="#383838">31</text><text x="68.9" y="0.4" font-size="17.5" text-anchor="middle" fill="#383838">32</text><text x="70.7" y="0.4" font-size="17.5" text-anchor="middle" fill="#383838">33</text><text x="72.5" y="0.4" font-size="17.5" text-anchor="middle" fill="#383838">34</text><text x="74.3" y="0.4" font-size="17.5" text-anchor="middle" fill="#383838">35</text><text x="76.2" y="0.4" font-size="17.5" text-anchor="middle" fill="#383838">36</text><text x="78" y="0.4" font-size="17.5" text-anchor="middle" fill="#383838">37</text><text x="79.8" y="0.4" font-size="17.5" text-anchor="middle" fill="#383838">38</text><text x="81.7" y="0.4" font-size="17.5" text-anchor="middle" fill="#383838">39</text><text x="83.5" y="0.4" font-size="17.5" text-anchor="middle" fill="#383838">40</text><text x="85.3" y="0.4" font-size="17.5" text-anchor="middle" fill="#383838">41</text><text x="87.2" y="0.4" font-size="17.5" text-anchor="middle" fill="#383838">42</text><text x="89" y="0.4" font-size="17.5" text-anchor="middle" fill="#383838">43</text><text x="90.8" y="0.4" font-size="17.5" text-anchor="middle" fill="#383838">44</text><text x="92.7" y="0.4" font-size="17.5" text-anchor="middle" fill="#383838">45</text><text x="94.5" y="0.4" font-size="17.5" text-anchor="middle" fill="#383838">46</text><text x="96.3" y="0.4" font-size="17.5" text-anchor="middle" fill="#383838">47</text><text x="98.1" y="0.4" font-size="17.5" text-anchor="middle" fill="#383838">48</text><text x="100" y="0.4" font-size="17.5" text-anchor="middle" fill="#383838">49</text><text x="101.8" y="0.4" font-size="17.5" text-anchor="middle" fill="#383838">50</text><text x="103.6" y="0.4" font-size="17.5" text-anchor="middle" fill="#383838">51</text><text x="105.5" y="0.4" font-size="17.5" text-anchor="middle" fill="#383838">52</text><text x="107.3" y="0.4" font-size="17.5" text-anchor="middle" fill="#383838">53</text><text x="109.1" y="0.4" font-size="17.5" text-anchor="middle" fill="#383838">54</text><text x="111" y="0.4" font-size="17.5" text-anchor="middle" fill="#383838">55</text><text x="112.8" y="0.4" font-size="17.5" text-anchor="middle" fill="#383838">56</text><text x="114.6" y="0.4" font-size="17.5" text-anchor="middle" fill="#383838">57</text><text x="116.4" y="0.4" font-size="17.5" text-anchor="middle" fill="#383838">58</text><text x="118.3" y="0.4" font-size="17.5" text-anchor="middle" fill="#383838">59</text><text x="120.1" y="0.4" font-size="17.5" text-anchor="middle" fill="#383838">60</text><text x="121.9" y="0.4" font-size="17.5" text-anchor="middle" fill="#383838">61</text><text x="123.8" y="0.4" font-size="17.5" text-anchor="middle" fill="#383838">62</text><text x="125.6" y="0.4" font-size="17.5" text-anchor="middle" fill="#383838">63</text><text x="127.4" y="0.4" font-size="17.5" text-anchor="middle" fill="#383838">64</text><text x="129.2" y="0.4" font-size="17.5" text-anchor="middle" fill="#383838">65</text><path d="M12 15.9v1.6M13.8 15.9v1.6M15.5 15.9v1.6M17.2 15.9v1.6M19 15.9v1.6M20.7 15.9v1.6M22.4 15.9v1.6M24.2 15.9v1.6M25.9 15.9v1.6M27.7 15.9v1.6M29.4 15.9v1.6M31.1 15.9v1.6M32.9 15.9v1.6M34.6 15.9v1.6M36.3 15.9v1.6M38.1 15.9v1.6M39.8 15.9v1.6M41.5 15.9v1.6M43.3 15.9v1.6M45 15.9v1.6M46.7 15.9v1.6M48.5 15.9v1.6M50.2 15.9v1.6M51.9 15.9v1.6M53.7 15.9v1.6M55.4 15.9v1.6M57.1 15.9v1.6M58.9 15.9v1.6M60.6 15.9v1.6M62.4 15.9v1.6M64.1 15.9v1.6M65.8 15.9v1.6M67.6 15.9v1.6M69.3 15.9v1.6M71 15.9v1.6M72.8 15.9v1.6M74.5 15.9v1.6M76.2 15.9v1.6M78 15.9v1.6M79.7 15.9v1.6M81.4 15.9v1.6M83.2 15.9v1.6M84.9 15.9v1.6M86.6 15.9v1.6M88.4 15.9v1.6M90.1 15.9v1.6M91.8 15.9v1.6M93.6 15.9v1.6M95.3 15.9v1.6M97 15.9v1.6M98.8 15.9v1.6M100.5 15.9v1.6M102.3 15.9v1.6M104 15.9v1.6M105.7 15.9v1.6M107.5 15.9v1.6M109.2 15.9v1.6M110.9 15.9v1.6M112.7 15.9v1.6M114.4 15.9v1.6M116.1 15.9v1.6M117.9 15.9v1.6M119.6 15.9v1.6M121.3 15.9v1.6" stroke="#262626" stroke-width="0.7"/><text x="66.7" y="-28" font-size="21.7" text-anchor="middle" fill="#2a2a2a">cm/s</text><text x="284.4" y="102" font-size="21.6">10 km</text><path d="M306.1 108.3H322" stroke="#000" stroke-width="3.4" stroke-linecap="round"/><text x="274.6" y="63.7" font-size="21.6">50 cm/s</text>
<text x="174.6" y="-12.5" font-size="25.4" font-weight="bold" text-anchor="middle">2023-07-27 16:00</text>
</g>
<g transform="translate(458.5 142.3)">
<text x="-7.5" y="434.7" font-size="20" text-anchor="end">34°N</text><text x="-7.5" y="293.9" font-size="20" text-anchor="end">35°N</text><text x="-7.5" y="151.4" font-size="20" text-anchor="end">36°N</text><text x="-7.5" y="7.1" font-size="20" text-anchor="end">37°N</text><text x="-7" y="363" font-size="15" text-anchor="end">30'</text><text x="-7" y="221.4" font-size="15" text-anchor="end">30'</text><text x="-7" y="78" font-size="15" text-anchor="end">30'</text><text x="-0.5" y="444.5" font-size="15" text-anchor="middle">30'</text><text x="60" y="448.2" font-size="20" text-anchor="middle">76°W</text><text x="115.5" y="444.5" font-size="15" text-anchor="middle">30'</text><text x="176" y="448.2" font-size="20" text-anchor="middle">75°W</text><text x="231.5" y="444.5" font-size="15" text-anchor="middle">30'</text><text x="292" y="448.2" font-size="20" text-anchor="middle">74°W</text><text x="347.5" y="444.5" font-size="15" text-anchor="middle">30'</text>
<g clip-path="url(#ax)">
<use href="#grid"/>
<g shape-rendering="crispEdges"><path fill="#0000df" d="M67.2 0H75.2V8.1H67.2ZM97.8 0H105.8V8.1H97.8ZM128.4 0H144V8.1H128.4ZM90.2 7.8H98.1V15.9H90.2ZM105.5 23.3H113.4V31.4H105.5ZM136.1 23.3H144V31.4H136.1ZM97.8 31.1H105.8V39.1H97.8ZM82.5 38.8H90.5V46.9H82.5ZM97.8 38.8H105.8V46.9H97.8ZM128.4 38.8H144V46.9H128.4ZM90.2 46.6H98.1V54.6H90.2ZM105.5 46.6H121V54.6H105.5ZM166.7 46.6H174.6V54.6H166.7ZM136.1 54.3H144V62.4H136.1ZM120.8 62.1H128.7V70.1H120.8ZM105.5 69.8H128.7V77.8H105.5ZM113.1 77.5H128.7V85.6H113.1ZM151.3 77.5H159.3V85.6H151.3ZM128.4 108.4H136.4V116.4H128.4ZM182 108.4H197.6V116.4H182ZM151.3 116.1H159.3V124.1H151.3ZM189.6 116.1H197.6V124.1H189.6ZM143.7 131.5H151.7V139.5H143.7ZM159 131.5H167V139.5H159ZM136.1 139.2H151.7V147.2H136.1ZM128.4 154.5H136.4V162.5H128.4ZM143.7 162.2H151.7V170.2H143.7ZM204.9 169.9H212.9V177.8H204.9ZM113.1 261.5H121V269.4H113.1ZM113.1 269.1H121V277H113.1ZM113.1 284.3H128.7V292.2H113.1ZM105.5 291.9H121V299.7H105.5ZM113.1 299.4H121V307.3H113.1ZM128.4 299.4H136.4V307.3H128.4Z"/><path fill="#0000ef" d="M74.9 0H82.8V8.1H74.9ZM90.2 0H98.1V8.1H90.2ZM105.5 0H121V8.1H105.5ZM182 0H189.9V8.1H182ZM197.2 0H220.5V8.1H197.2ZM82.5 7.8H90.5V15.9H82.5ZM97.8 7.8H144V15.9H97.8ZM151.3 7.8H159.3V15.9H151.3ZM74.9 15.6H144V23.6H74.9ZM159 15.6H167V23.6H159ZM182 15.6H189.9V23.6H182ZM74.9 23.3H98.1V31.4H74.9ZM113.1 23.3H136.4V31.4H113.1ZM166.7 23.3H174.6V31.4H166.7ZM74.9 31.1H98.1V39.1H74.9ZM120.8 31.1H144V39.1H120.8ZM182 31.1H189.9V39.1H182ZM90.2 38.8H98.1V46.9H90.2ZM105.5 38.8H128.7V46.9H105.5ZM151.3 38.8H167V46.9H151.3ZM174.3 38.8H182.3V46.9H174.3ZM97.8 46.6H105.8V54.6H97.8ZM120.8 46.6H128.7V54.6H120.8ZM151.3 46.6H167V54.6H151.3ZM97.8 54.3H113.4V62.4H97.8ZM120.8 54.3H136.4V62.4H120.8ZM166.7 54.3H174.6V62.4H166.7ZM182 54.3H189.9V62.4H182ZM97.8 62.1H121V70.1H97.8ZM128.4 62.1H144V70.1H128.4ZM174.3 62.1H182.3V70.1H174.3ZM97.8 69.8H105.8V77.8H97.8ZM128.4 69.8H136.4V77.8H128.4ZM151.3 69.8H159.3V77.8H151.3ZM174.3 69.8H189.9V77.8H174.3ZM128.4 77.5H136.4V85.6H128.4ZM197.2 77.5H205.2V85.6H197.2ZM166.7 85.3H174.6V93.3H166.7ZM128.4 93H136.4V101H128.4ZM159 93H167V101H159ZM182 93H189.9V101H182ZM136.1 100.7H144V108.7H136.1ZM189.6 100.7H197.6V108.7H189.6ZM136.1 108.4H144V116.4H136.1ZM151.3 108.4H159.3V116.4H151.3ZM166.7 108.4H174.6V116.4H166.7ZM136.1 116.1H151.7V124.1H136.1ZM166.7 116.1H189.9V124.1H166.7ZM120.8 123.8H128.7V131.8H120.8ZM136.1 123.8H159.3V131.8H136.1ZM174.3 123.8H197.6V131.8H174.3ZM136.1 131.5H144V139.5H136.1ZM151.3 131.5H159.3V139.5H151.3ZM174.3 131.5H189.9V139.5H174.3ZM204.9 131.5H220.5V139.5H204.9ZM128.4 139.2H136.4V147.2H128.4ZM159 139.2H182.3V147.2H159ZM204.9 139.2H212.9V147.2H204.9ZM128.4 146.9H212.9V154.8H128.4ZM136.1 154.5H151.7V162.5H136.1ZM166.7 154.5H174.6V162.5H166.7ZM182 154.5H189.9V162.5H182ZM197.2 154.5H212.9V162.5H197.2ZM136.1 162.2H144V170.2H136.1ZM151.3 162.2H167V170.2H151.3ZM174.3 162.2H182.3V170.2H174.3ZM197.2 162.2H212.9V170.2H197.2ZM143.7 169.9H151.7V177.8H143.7ZM204.9 177.5H212.9V185.5H204.9ZM120.8 261.5H128.7V269.4H120.8ZM59.6 276.7H67.5V284.6H59.6ZM113.1 276.7H144V284.6H113.1ZM74.9 284.3H82.8V292.2H74.9ZM105.5 284.3H113.4V292.2H105.5ZM128.4 284.3H151.7V292.2H128.4ZM120.8 291.9H144V299.7H120.8ZM97.8 299.4H113.4V307.3H97.8ZM120.8 299.4H128.7V307.3H120.8ZM136.1 299.4H144V307.3H136.1ZM97.8 307H105.8V314.9H97.8ZM113.1 307H121V314.9H113.1ZM136.1 307H144V314.9H136.1ZM136.1 314.6H144V322.4H136.1ZM136.1 322.1H151.7V330H136.1ZM136.1 329.7H144V337.6H136.1Z"/><path fill="#0000ff" d="M82.5 0H90.5V8.1H82.5ZM120.8 0H128.7V8.1H120.8ZM143.7 0H159.3V8.1H143.7ZM174.3 0H182.3V8.1H174.3ZM143.7 7.8H151.7V15.9H143.7ZM166.7 7.8H174.6V15.9H166.7ZM182 7.8H189.9V15.9H182ZM197.2 7.8H205.2V15.9H197.2ZM151.3 15.6H159.3V23.6H151.3ZM166.7 15.6H182.3V23.6H166.7ZM197.2 15.6H205.2V23.6H197.2ZM97.8 23.3H105.8V31.4H97.8ZM143.7 23.3H151.7V31.4H143.7ZM174.3 23.3H189.9V31.4H174.3ZM105.5 31.1H121V39.1H105.5ZM143.7 31.1H159.3V39.1H143.7ZM166.7 31.1H182.3V39.1H166.7ZM204.9 31.1H212.9V39.1H204.9ZM220.2 31.1H228.2V39.1H220.2ZM74.9 38.8H82.8V46.9H74.9ZM143.7 38.8H151.7V46.9H143.7ZM182 38.8H189.9V46.9H182ZM197.2 38.8H205.2V46.9H197.2ZM128.4 46.6H151.7V54.6H128.4ZM174.3 46.6H182.3V54.6H174.3ZM189.6 46.6H197.6V54.6H189.6ZM113.1 54.3H121V62.4H113.1ZM143.7 54.3H167V62.4H143.7ZM189.6 54.3H197.6V62.4H189.6ZM204.9 54.3H212.9V62.4H204.9ZM220.2 54.3H228.2V62.4H220.2ZM143.7 62.1H151.7V70.1H143.7ZM166.7 62.1H174.6V70.1H166.7ZM182 62.1H197.6V70.1H182ZM212.6 62.1H220.5V70.1H212.6ZM136.1 69.8H151.7V77.8H136.1ZM159 69.8H174.6V77.8H159ZM189.6 69.8H205.2V77.8H189.6ZM212.6 69.8H220.5V77.8H212.6ZM105.5 77.5H113.4V85.6H105.5ZM136.1 77.5H151.7V85.6H136.1ZM166.7 77.5H189.9V85.6H166.7ZM105.5 85.3H113.4V93.3H105.5ZM128.4 85.3H167V93.3H128.4ZM174.3 85.3H189.9V93.3H174.3ZM197.2 85.3H205.2V93.3H197.2ZM136.1 93H159.3V101H136.1ZM143.7 100.7H159.3V108.7H143.7ZM166.7 100.7H189.9V108.7H166.7ZM204.9 100.7H212.9V108.7H204.9ZM143.7 108.4H151.7V116.4H143.7ZM174.3 108.4H182.3V116.4H174.3ZM120.8 116.1H136.4V124.1H120.8ZM204.9 116.1H212.9V124.1H204.9ZM128.4 123.8H136.4V131.8H128.4ZM159 123.8H174.6V131.8H159ZM197.2 123.8H205.2V131.8H197.2ZM128.4 131.5H136.4V139.5H128.4ZM189.6 131.5H197.6V139.5H189.6ZM120.8 139.2H128.7V147.2H120.8ZM151.3 139.2H159.3V147.2H151.3ZM182 139.2H189.9V147.2H182ZM197.2 139.2H205.2V147.2H197.2ZM212.6 139.2H220.5V147.2H212.6ZM212.6 146.9H228.2V154.8H212.6ZM151.3 154.5H167V162.5H151.3ZM174.3 154.5H182.3V162.5H174.3ZM189.6 154.5H197.6V162.5H189.6ZM212.6 154.5H228.2V162.5H212.6ZM166.7 162.2H174.6V170.2H166.7ZM220.2 162.2H228.2V170.2H220.2ZM120.8 169.9H136.4V177.8H120.8ZM151.3 169.9H174.6V177.8H151.3ZM197.2 169.9H205.2V177.8H197.2ZM151.3 177.5H159.3V185.5H151.3ZM197.2 177.5H205.2V185.5H197.2ZM212.6 177.5H220.5V185.5H212.6ZM235.5 200.5H243.5V208.4H235.5ZM128.4 238.7H136.4V246.6H128.4ZM136.1 246.3H144V254.2H136.1ZM113.1 253.9H136.4V261.8H113.1ZM105.5 261.5H113.4V269.4H105.5ZM128.4 261.5H144V269.4H128.4ZM59.6 269.1H75.2V277H59.6ZM128.4 269.1H144V277H128.4ZM67.2 276.7H82.8V284.6H67.2ZM59.6 284.3H75.2V292.2H59.6ZM82.5 284.3H98.1V292.2H82.5ZM59.6 291.9H67.5V299.7H59.6ZM90.2 291.9H105.8V299.7H90.2ZM143.7 291.9H167V299.7H143.7ZM74.9 299.4H82.8V307.3H74.9ZM143.7 299.4H167V307.3H143.7ZM120.8 307H136.4V314.9H120.8ZM143.7 307H167V314.9H143.7ZM113.1 314.6H136.4V322.4H113.1ZM143.7 314.6H151.7V322.4H143.7ZM113.1 322.1H121V330H113.1ZM151.3 322.1H159.3V330H151.3ZM128.4 329.7H136.4V337.6H128.4ZM136.1 337.3H144V345.1H136.1ZM166.7 344.8H174.6V352.7H166.7Z"/><path fill="#0010ff" d="M159 0H174.6V8.1H159ZM220.2 0H228.2V8.1H220.2ZM159 7.8H167V15.9H159ZM174.3 7.8H182.3V15.9H174.3ZM189.6 7.8H197.6V15.9H189.6ZM204.9 7.8H220.5V15.9H204.9ZM189.6 15.6H197.6V23.6H189.6ZM204.9 15.6H212.9V23.6H204.9ZM220.2 15.6H235.8V23.6H220.2ZM151.3 23.3H167V31.4H151.3ZM197.2 23.3H212.9V31.4H197.2ZM235.5 23.3H243.5V31.4H235.5ZM197.2 31.1H205.2V39.1H197.2ZM212.6 31.1H220.5V39.1H212.6ZM166.7 38.8H174.6V46.9H166.7ZM189.6 38.8H197.6V46.9H189.6ZM204.9 38.8H228.2V46.9H204.9ZM182 46.6H189.9V54.6H182ZM197.2 46.6H212.9V54.6H197.2ZM220.2 46.6H235.8V54.6H220.2ZM174.3 54.3H182.3V62.4H174.3ZM197.2 54.3H205.2V62.4H197.2ZM151.3 62.1H159.3V70.1H151.3ZM204.9 62.1H212.9V70.1H204.9ZM204.9 69.8H212.9V77.8H204.9ZM97.8 77.5H105.8V85.6H97.8ZM159 77.5H167V85.6H159ZM189.6 77.5H197.6V85.6H189.6ZM204.9 77.5H212.9V85.6H204.9ZM97.8 85.3H105.8V93.3H97.8ZM113.1 85.3H128.7V93.3H113.1ZM189.6 85.3H197.6V93.3H189.6ZM204.9 85.3H212.9V93.3H204.9ZM113.1 93H128.7V101H113.1ZM166.7 93H182.3V101H166.7ZM189.6 93H212.9V101H189.6ZM120.8 100.7H136.4V108.7H120.8ZM159 100.7H167V108.7H159ZM197.2 100.7H205.2V108.7H197.2ZM113.1 108.4H128.7V116.4H113.1ZM159 108.4H167V116.4H159ZM197.2 108.4H205.2V116.4H197.2ZM212.6 108.4H220.5V116.4H212.6ZM197.2 116.1H205.2V124.1H197.2ZM212.6 116.1H220.5V124.1H212.6ZM113.1 123.8H121V131.8H113.1ZM212.6 123.8H228.2V131.8H212.6ZM197.2 131.5H205.2V139.5H197.2ZM189.6 139.2H197.6V147.2H189.6ZM120.8 162.2H136.4V170.2H120.8ZM212.6 162.2H220.5V170.2H212.6ZM174.3 169.9H182.3V177.8H174.3ZM212.6 169.9H228.2V177.8H212.6ZM136.1 177.5H144V185.5H136.1ZM166.7 177.5H174.6V185.5H166.7ZM227.9 177.5H235.8V185.5H227.9ZM212.6 185.2H228.2V193.2H212.6ZM212.6 192.9H243.5V200.8H212.6ZM220.2 200.5H228.2V208.4H220.2ZM243.2 223.4H251.1V231.3H243.2ZM128.4 231H136.4V239H128.4ZM136.1 238.7H144V246.6H136.1ZM120.8 246.3H136.4V254.2H120.8ZM136.1 253.9H144V261.8H136.1ZM105.5 269.1H113.4V277H105.5ZM120.8 269.1H128.7V277H120.8ZM82.5 276.7H113.4V284.6H82.5ZM51.9 284.3H59.9V292.2H51.9ZM67.2 291.9H90.5V299.7H67.2ZM90.2 299.4H98.1V307.3H90.2ZM105.5 307H113.4V314.9H105.5ZM166.7 307H174.6V314.9H166.7ZM151.3 314.6H167V322.4H151.3ZM105.5 322.1H113.4V330H105.5ZM120.8 322.1H136.4V330H120.8ZM120.8 329.7H128.7V337.6H120.8ZM143.7 329.7H174.6V337.6H143.7ZM159 337.3H174.6V345.1H159ZM136.1 344.8H144V352.7H136.1ZM151.3 344.8H159.3V352.7H151.3Z"/><path fill="#0030ff" d="M189.6 0H197.6V8.1H189.6ZM243.2 0H251.1V8.1H243.2ZM243.2 15.6H251.1V23.6H243.2ZM189.6 23.3H197.6V31.4H189.6ZM212.6 23.3H220.5V31.4H212.6ZM243.2 23.3H251.1V31.4H243.2ZM235.5 38.8H243.5V46.9H235.5ZM220.2 62.1H243.5V70.1H220.2ZM220.2 93H228.2V101H220.2ZM227.9 108.4H235.8V116.4H227.9ZM220.2 116.1H228.2V124.1H220.2ZM113.1 131.5H128.7V139.5H113.1ZM220.2 131.5H228.2V139.5H220.2ZM113.1 139.2H121V147.2H113.1ZM227.9 139.2H235.8V147.2H227.9ZM250.8 162.2H258.8V170.2H250.8ZM266.1 162.2H274.1V170.2H266.1ZM189.6 169.9H197.6V177.8H189.6ZM227.9 169.9H243.5V177.8H227.9ZM250.8 169.9H258.8V177.8H250.8ZM128.4 177.5H136.4V185.5H128.4ZM159 177.5H167V185.5H159ZM174.3 177.5H182.3V185.5H174.3ZM243.2 177.5H258.8V185.5H243.2ZM128.4 185.2H136.4V193.2H128.4ZM143.7 185.2H151.7V193.2H143.7ZM159 185.2H174.6V193.2H159ZM197.2 185.2H205.2V193.2H197.2ZM258.5 185.2H266.4V193.2H258.5ZM151.3 192.9H159.3V200.8H151.3ZM243.2 192.9H258.8V200.8H243.2ZM243.2 200.5H251.1V208.4H243.2ZM212.6 208.1H228.2V216.1H212.6ZM243.2 208.1H251.1V216.1H243.2ZM143.7 231H151.7V239H143.7ZM243.2 231H251.1V239H243.2ZM143.7 238.7H151.7V246.6H143.7ZM105.5 253.9H113.4V261.8H105.5ZM151.3 253.9H159.3V261.8H151.3ZM97.8 269.1H105.8V277H97.8ZM166.7 284.3H174.6V292.2H166.7ZM174.3 291.9H182.3V299.7H174.3ZM59.6 299.4H75.2V307.3H59.6ZM82.5 299.4H90.5V307.3H82.5ZM174.3 299.4H182.3V307.3H174.3ZM67.2 307H75.2V314.9H67.2ZM74.9 314.6H82.8V322.4H74.9ZM174.3 329.7H182.3V337.6H174.3ZM105.5 337.3H113.4V345.1H105.5ZM174.3 337.3H182.3V345.1H174.3ZM113.1 344.8H121V352.7H113.1ZM143.7 352.4H151.7V360.2H143.7ZM166.7 359.9H174.6V367.7H166.7ZM182 367.4H189.9V375.3H182Z"/><path fill="#0020ff" d="M227.9 0H243.5V8.1H227.9ZM74.9 7.8H82.8V15.9H74.9ZM220.2 7.8H251.1V15.9H220.2ZM143.7 15.6H151.7V23.6H143.7ZM212.6 15.6H220.5V23.6H212.6ZM220.2 23.3H228.2V31.4H220.2ZM159 31.1H167V39.1H159ZM189.6 31.1H197.6V39.1H189.6ZM227.9 38.8H235.8V46.9H227.9ZM212.6 46.6H220.5V54.6H212.6ZM235.5 46.6H243.5V54.6H235.5ZM212.6 54.3H220.5V62.4H212.6ZM159 62.1H167V70.1H159ZM197.2 62.1H205.2V70.1H197.2ZM212.6 77.5H228.2V85.6H212.6ZM212.6 85.3H220.5V93.3H212.6ZM105.5 93H113.4V101H105.5ZM212.6 93H220.5V101H212.6ZM113.1 100.7H121V108.7H113.1ZM212.6 100.7H220.5V108.7H212.6ZM204.9 108.4H212.9V116.4H204.9ZM159 116.1H167V124.1H159ZM204.9 123.8H212.9V131.8H204.9ZM220.2 139.2H228.2V147.2H220.2ZM120.8 146.9H128.7V154.8H120.8ZM120.8 154.5H128.7V162.5H120.8ZM227.9 154.5H235.8V162.5H227.9ZM182 162.2H197.6V170.2H182ZM227.9 162.2H243.5V170.2H227.9ZM136.1 169.9H144V177.8H136.1ZM182 169.9H189.9V177.8H182ZM243.2 169.9H251.1V177.8H243.2ZM120.8 177.5H128.7V185.5H120.8ZM143.7 177.5H151.7V185.5H143.7ZM182 177.5H189.9V185.5H182ZM220.2 177.5H228.2V185.5H220.2ZM235.5 177.5H243.5V185.5H235.5ZM258.5 177.5H266.4V185.5H258.5ZM204.9 185.2H212.9V193.2H204.9ZM227.9 185.2H243.5V193.2H227.9ZM120.8 192.9H128.7V200.8H120.8ZM227.9 200.5H235.8V208.4H227.9ZM250.8 200.5H258.8V208.4H250.8ZM235.5 208.1H243.5V216.1H235.5ZM136.1 223.4H144V231.3H136.1ZM136.1 231H144V239H136.1ZM143.7 253.9H151.7V261.8H143.7ZM151.3 261.5H159.3V269.4H151.3ZM74.9 269.1H82.8V277H74.9ZM90.2 269.1H98.1V277H90.2ZM143.7 269.1H159.3V277H143.7ZM143.7 276.7H167V284.6H143.7ZM97.8 284.3H105.8V292.2H97.8ZM151.3 284.3H167V292.2H151.3ZM51.9 291.9H59.9V299.7H51.9ZM166.7 291.9H174.6V299.7H166.7ZM166.7 299.4H174.6V307.3H166.7ZM82.5 307H98.1V314.9H82.5ZM174.3 307H182.3V314.9H174.3ZM97.8 314.6H113.4V322.4H97.8ZM166.7 314.6H182.3V322.4H166.7ZM159 322.1H167V330H159ZM174.3 322.1H182.3V330H174.3ZM105.5 329.7H121V337.6H105.5ZM113.1 337.3H136.4V345.1H113.1ZM143.7 337.3H159.3V345.1H143.7ZM105.5 344.8H113.4V352.7H105.5ZM128.4 344.8H136.4V352.7H128.4ZM143.7 344.8H151.7V352.7H143.7ZM174.3 344.8H182.3V352.7H174.3ZM136.1 352.4H144V360.2H136.1ZM166.7 352.4H189.9V360.2H166.7Z"/><path fill="#0040ff" d="M250.8 0H258.8V8.1H250.8ZM235.5 15.6H243.5V23.6H235.5ZM227.9 23.3H235.8V31.4H227.9ZM235.5 31.1H243.5V39.1H235.5ZM258.5 31.1H266.4V39.1H258.5ZM250.8 38.8H258.8V46.9H250.8ZM90.2 62.1H98.1V70.1H90.2ZM220.2 69.8H235.8V77.8H220.2ZM227.9 77.5H235.8V85.6H227.9ZM227.9 85.3H235.8V93.3H227.9ZM105.5 100.7H113.4V108.7H105.5ZM220.2 108.4H228.2V116.4H220.2ZM227.9 131.5H235.8V139.5H227.9ZM235.5 139.2H243.5V147.2H235.5ZM227.9 146.9H243.5V154.8H227.9ZM243.2 162.2H251.1V170.2H243.2ZM258.5 162.2H266.4V170.2H258.5ZM120.8 185.2H128.7V193.2H120.8ZM136.1 185.2H144V193.2H136.1ZM151.3 185.2H159.3V193.2H151.3ZM174.3 185.2H182.3V193.2H174.3ZM243.2 185.2H258.8V193.2H243.2ZM266.1 185.2H274.1V193.2H266.1ZM128.4 192.9H136.4V200.8H128.4ZM166.7 192.9H174.6V200.8H166.7ZM258.5 200.5H266.4V208.4H258.5ZM227.9 208.1H235.8V216.1H227.9ZM250.8 208.1H258.8V216.1H250.8ZM243.2 215.8H251.1V223.7H243.2ZM227.9 223.4H235.8V231.3H227.9ZM250.8 223.4H258.8V231.3H250.8ZM235.5 231H243.5V239H235.5ZM120.8 238.7H128.7V246.6H120.8ZM143.7 246.3H151.7V254.2H143.7ZM82.5 261.5H90.5V269.4H82.5ZM143.7 261.5H151.7V269.4H143.7ZM159 261.5H167V269.4H159ZM159 269.1H167V277H159ZM182 269.1H189.9V277H182ZM166.7 276.7H174.6V284.6H166.7ZM174.3 284.3H182.3V292.2H174.3ZM51.9 299.4H59.9V307.3H51.9ZM182 299.4H189.9V307.3H182ZM59.6 307H67.5V314.9H59.6ZM74.9 307H82.8V314.9H74.9ZM67.2 314.6H75.2V322.4H67.2ZM182 314.6H189.9V322.4H182ZM166.7 322.1H174.6V330H166.7ZM182 329.7H189.9V337.6H182ZM182 337.3H189.9V345.1H182ZM113.1 352.4H121V360.2H113.1ZM128.4 352.4H136.4V360.2H128.4ZM136.1 359.9H144V367.7H136.1ZM174.3 359.9H189.9V367.7H174.3ZM174.3 367.4H182.3V375.3H174.3ZM189.6 367.4H197.6V375.3H189.6ZM182 375H189.9V382.8H182Z"/><path fill="#0060ff" d="M258.5 0H266.4V8.1H258.5ZM250.8 7.8H266.4V15.9H250.8ZM250.8 15.6H258.8V23.6H250.8ZM227.9 31.1H235.8V39.1H227.9ZM243.2 38.8H251.1V46.9H243.2ZM90.2 54.3H98.1V62.4H90.2ZM250.8 54.3H258.8V62.4H250.8ZM90.2 69.8H98.1V77.8H90.2ZM243.2 77.5H251.1V85.6H243.2ZM235.5 85.3H243.5V93.3H235.5ZM227.9 93H235.8V101H227.9ZM235.5 108.4H243.5V116.4H235.5ZM227.9 123.8H243.5V131.8H227.9ZM243.2 139.2H251.1V147.2H243.2ZM250.8 154.5H266.4V162.5H250.8ZM273.8 162.2H281.7V170.2H273.8ZM189.6 177.5H197.6V185.5H189.6ZM189.6 185.2H197.6V193.2H189.6ZM197.2 192.9H212.9V200.8H197.2ZM204.9 200.5H212.9V208.4H204.9ZM266.1 200.5H274.1V208.4H266.1ZM266.1 208.1H274.1V216.1H266.1ZM136.1 215.8H144V223.7H136.1ZM212.6 215.8H220.5V223.7H212.6ZM258.5 215.8H266.4V223.7H258.5ZM143.7 223.4H167V231.3H143.7ZM220.2 223.4H228.2V231.3H220.2ZM258.5 223.4H266.4V231.3H258.5ZM258.5 231H266.4V239H258.5ZM250.8 238.7H258.8V246.6H250.8ZM151.3 246.3H159.3V254.2H151.3ZM243.2 246.3H251.1V254.2H243.2ZM258.5 246.3H266.4V254.2H258.5ZM159 253.9H167V261.8H159ZM189.6 253.9H197.6V261.8H189.6ZM166.7 269.1H174.6V277H166.7ZM182 284.3H189.9V292.2H182ZM189.6 299.4H197.6V307.3H189.6ZM182 307H189.9V314.9H182ZM82.5 314.6H90.5V322.4H82.5ZM189.6 322.1H205.2V330H189.6ZM189.6 337.3H197.6V345.1H189.6ZM189.6 344.8H197.6V352.7H189.6ZM105.5 352.4H113.4V360.2H105.5ZM120.8 352.4H128.7V360.2H120.8ZM143.7 359.9H151.7V367.7H143.7ZM136.1 367.4H144V375.3H136.1ZM151.3 367.4H159.3V375.3H151.3ZM166.7 367.4H174.6V375.3H166.7ZM197.2 367.4H205.2V375.3H197.2ZM174.3 375H182.3V382.8H174.3ZM197.2 375H205.2V382.8H197.2ZM182 382.5H189.9V390.3H182ZM197.2 382.5H205.2V390.3H197.2ZM182 390H189.9V397.8H182Z"/><path fill="#008fff" d="M266.1 0H274.1V8.1H266.1ZM273.8 7.8H281.7V15.9H273.8ZM273.8 15.6H281.7V23.6H273.8ZM258.5 23.3H266.4V31.4H258.5ZM273.8 31.1H281.7V39.1H273.8ZM243.2 69.8H251.1V77.8H243.2ZM97.8 93H105.8V101H97.8ZM97.8 100.7H105.8V108.7H97.8ZM243.2 123.8H251.1V131.8H243.2ZM273.8 139.2H281.7V147.2H273.8ZM250.8 146.9H258.8V154.8H250.8ZM289.1 154.5H297V162.5H289.1ZM266.1 169.9H274.1V177.8H266.1ZM281.4 169.9H289.4V177.8H281.4ZM281.4 185.2H289.4V193.2H281.4ZM136.1 192.9H144V200.8H136.1ZM182 192.9H189.9V200.8H182ZM182 200.5H189.9V208.4H182ZM197.2 200.5H205.2V208.4H197.2ZM143.7 215.8H151.7V223.7H143.7ZM120.8 223.4H128.7V231.3H120.8ZM266.1 223.4H274.1V231.3H266.1ZM197.2 231H205.2V239H197.2ZM258.5 238.7H274.1V246.6H258.5ZM159 246.3H167V254.2H159ZM189.6 246.3H197.6V254.2H189.6ZM243.2 253.9H251.1V261.8H243.2ZM235.5 261.5H243.5V269.4H235.5ZM227.9 269.1H235.8V277H227.9ZM189.6 284.3H197.6V292.2H189.6ZM197.2 291.9H212.9V299.7H197.2ZM197.2 314.6H205.2V322.4H197.2ZM204.9 344.8H212.9V352.7H204.9ZM204.9 352.4H212.9V360.2H204.9ZM197.2 359.9H212.9V367.7H197.2ZM204.9 382.5H212.9V390.3H204.9ZM182 405H189.9V412.9H182ZM174.3 412.6H182.3V420.4H174.3Z"/><path fill="#009fff" d="M273.8 0H289.4V8.1H273.8ZM266.1 7.8H274.1V15.9H266.1ZM281.4 23.3H289.4V31.4H281.4ZM266.1 31.1H274.1V39.1H266.1ZM82.5 54.3H90.5V62.4H82.5ZM258.5 62.1H266.4V70.1H258.5ZM250.8 85.3H258.8V93.3H250.8ZM266.1 85.3H274.1V93.3H266.1ZM235.5 93H243.5V101H235.5ZM243.2 100.7H251.1V108.7H243.2ZM258.5 146.9H266.4V154.8H258.5ZM281.4 146.9H289.4V154.8H281.4ZM289.1 162.2H297V170.2H289.1ZM304.4 162.2H312.3V170.2H304.4ZM289.1 169.9H297V177.8H289.1ZM281.4 177.5H289.4V185.5H281.4ZM289.1 192.9H297V200.8H289.1ZM166.7 200.5H174.6V208.4H166.7ZM159 215.8H167V223.7H159ZM212.6 223.4H220.5V231.3H212.6ZM166.7 231H174.6V239H166.7ZM227.9 238.7H235.8V246.6H227.9ZM273.8 238.7H281.7V246.6H273.8ZM166.7 246.3H174.6V254.2H166.7ZM235.5 246.3H243.5V254.2H235.5ZM166.7 253.9H174.6V261.8H166.7ZM258.5 253.9H266.4V261.8H258.5ZM166.7 261.5H174.6V269.4H166.7ZM227.9 261.5H235.8V269.4H227.9ZM174.3 269.1H182.3V277H174.3ZM189.6 269.1H197.6V277H189.6ZM235.5 269.1H243.5V277H235.5ZM189.6 276.7H197.6V284.6H189.6ZM204.9 329.7H212.9V337.6H204.9ZM197.2 337.3H205.2V345.1H197.2ZM159 375H167V382.8H159ZM174.3 390H182.3V397.8H174.3Z"/><path fill="#20ffdf" d="M289.1 0H297V8.1H289.1ZM289.1 7.8H297V15.9H289.1ZM296.7 15.6H304.7V23.6H296.7ZM281.4 46.6H289.4V54.6H281.4ZM273.8 77.5H281.7V85.6H273.8ZM312 162.2H320V170.2H312ZM281.4 253.9H289.4V261.8H281.4ZM289.1 261.5H297V269.4H289.1ZM197.2 276.7H205.2V284.6H197.2ZM235.5 276.7H243.5V284.6H235.5ZM204.9 284.3H212.9V292.2H204.9ZM204.9 307H212.9V314.9H204.9ZM189.6 405H197.6V412.9H189.6ZM189.6 420.1H197.6V427.9H189.6Z"/><path fill="#00ffff" d="M296.7 0H304.7V8.1H296.7ZM281.4 31.1H289.4V39.1H281.4ZM273.8 54.3H297V62.4H273.8ZM82.5 77.5H90.5V85.6H82.5ZM273.8 85.3H281.7V93.3H273.8ZM250.8 108.4H258.8V116.4H250.8ZM273.8 108.4H281.7V116.4H273.8ZM266.1 131.5H274.1V139.5H266.1ZM281.4 139.2H297V147.2H281.4ZM296.7 146.9H304.7V154.8H296.7ZM296.7 154.5H312.3V162.5H296.7ZM189.6 200.5H197.6V208.4H189.6ZM182 208.1H197.6V216.1H182ZM281.4 215.8H297V223.7H281.4ZM197.2 261.5H205.2V269.4H197.2ZM266.1 269.1H274.1V277H266.1ZM227.9 284.3H235.8V292.2H227.9ZM204.9 322.1H212.9V330H204.9ZM220.2 329.7H228.2V337.6H220.2ZM220.2 344.8H228.2V352.7H220.2ZM166.7 375H174.6V382.8H166.7Z"/><path fill="#60ff9f" d="M304.4 0H312.3V8.1H304.4ZM304.4 7.8H312.3V15.9H304.4ZM296.7 38.8H312.3V46.9H296.7ZM289.1 62.1H297V70.1H289.1ZM296.7 100.7H304.7V108.7H296.7ZM304.4 131.5H312.3V139.5H304.4ZM312 169.9H320V177.8H312ZM281.4 231H289.4V239H281.4ZM289.1 246.3H297V254.2H289.1ZM243.2 269.1H251.1V277H243.2Z"/><path fill="#50ffaf" d="M312 0H320V8.1H312ZM258.5 93H266.4V101H258.5ZM266.1 123.8H274.1V131.8H266.1ZM304.4 123.8H312.3V131.8H304.4ZM319.7 169.9H327.6V177.8H319.7ZM296.7 185.2H312.3V193.2H296.7ZM289.1 253.9H297V261.8H289.1ZM243.2 276.7H251.1V284.6H243.2ZM273.8 276.7H281.7V284.6H273.8ZM220.2 359.9H228.2V367.7H220.2ZM212.6 390H220.5V397.8H212.6Z"/><path fill="#efff10" d="M319.7 0H327.6V8.1H319.7ZM319.7 7.8H327.6V15.9H319.7ZM334.9 38.8H342.9V46.9H334.9ZM312 46.6H320V54.6H312ZM227.9 291.9H235.8V299.7H227.9ZM212.6 352.4H220.5V360.2H212.6Z"/><path fill="#ffef00" d="M327.3 0H335.2V8.1H327.3ZM319.7 38.8H327.6V46.9H319.7ZM334.9 46.6H342.9V54.6H334.9ZM204.9 231H212.9V239H204.9ZM204.9 405H212.9V412.9H204.9Z"/><path fill="#00dfff" d="M281.4 7.8H289.4V15.9H281.4ZM289.1 15.6H297V23.6H289.1ZM82.5 62.1H90.5V70.1H82.5ZM273.8 62.1H281.7V70.1H273.8ZM258.5 77.5H266.4V85.6H258.5ZM273.8 100.7H281.7V108.7H273.8ZM273.8 123.8H281.7V131.8H273.8ZM273.8 131.5H281.7V139.5H273.8ZM289.1 131.5H297V139.5H289.1ZM296.7 139.2H304.7V147.2H296.7ZM289.1 146.9H297V154.8H289.1ZM289.1 177.5H304.7V185.5H289.1ZM143.7 208.1H151.7V216.1H143.7ZM166.7 223.4H174.6V231.3H166.7ZM273.8 223.4H281.7V231.3H273.8ZM243.2 261.5H251.1V269.4H243.2ZM258.5 269.1H266.4V277H258.5ZM212.6 329.7H220.5V337.6H212.6ZM143.7 375H151.7V382.8H143.7ZM204.9 397.5H212.9V405.3H204.9ZM197.2 405H205.2V412.9H197.2Z"/><path fill="#40ffbf" d="M296.7 7.8H304.7V15.9H296.7ZM304.4 23.3H312.3V31.4H304.4ZM289.1 46.6H297V54.6H289.1ZM296.7 116.1H304.7V124.1H296.7ZM312 123.8H320V131.8H312ZM312 146.9H320V154.8H312ZM312 154.5H320V162.5H312ZM304.4 169.9H312.3V177.8H304.4ZM166.7 215.8H174.6V223.7H166.7ZM197.2 215.8H205.2V223.7H197.2ZM289.1 223.4H297V231.3H289.1ZM182 238.7H189.9V246.6H182ZM296.7 269.1H304.7V277H296.7Z"/><path fill="#afff50" d="M312 7.8H320V15.9H312ZM281.4 93H289.4V101H281.4ZM304.4 100.7H312.3V108.7H304.4ZM304.4 146.9H312.3V154.8H304.4Z"/><path fill="#0070ff" d="M258.5 15.6H266.4V23.6H258.5ZM243.2 46.6H251.1V54.6H243.2ZM258.5 54.3H266.4V62.4H258.5ZM250.8 62.1H258.8V70.1H250.8ZM235.5 77.5H243.5V85.6H235.5ZM250.8 77.5H258.8V85.6H250.8ZM90.2 85.3H98.1V93.3H90.2ZM266.1 146.9H281.7V154.8H266.1ZM273.8 154.5H281.7V162.5H273.8ZM281.4 162.2H289.4V170.2H281.4ZM273.8 185.2H281.7V193.2H273.8ZM151.3 200.5H159.3V208.4H151.3ZM204.9 215.8H212.9V223.7H204.9ZM220.2 215.8H228.2V223.7H220.2ZM266.1 215.8H274.1V223.7H266.1ZM250.8 231H258.8V239H250.8ZM235.5 238.7H243.5V246.6H235.5ZM250.8 246.3H258.8V254.2H250.8ZM97.8 261.5H105.8V269.4H97.8ZM174.3 276.7H182.3V284.6H174.3ZM182 291.9H197.6V299.7H182ZM51.9 307H59.9V314.9H51.9ZM189.6 307H197.6V314.9H189.6ZM189.6 314.6H197.6V322.4H189.6ZM182 322.1H189.9V330H182ZM189.6 329.7H205.2V337.6H189.6ZM197.2 352.4H205.2V360.2H197.2ZM159 367.4H167V375.3H159ZM182 397.5H189.9V405.3H182Z"/><path fill="#0080ff" d="M266.1 15.6H274.1V23.6H266.1ZM258.5 38.8H266.4V46.9H258.5ZM250.8 46.6H266.4V54.6H250.8ZM258.5 69.8H266.4V77.8H258.5ZM235.5 100.7H243.5V108.7H235.5ZM235.5 116.1H243.5V124.1H235.5ZM281.4 116.1H289.4V124.1H281.4ZM250.8 139.2H258.8V147.2H250.8ZM273.8 177.5H281.7V185.5H273.8ZM189.6 192.9H197.6V200.8H189.6ZM266.1 192.9H281.7V200.8H266.1ZM159 200.5H167V208.4H159ZM281.4 200.5H289.4V208.4H281.4ZM159 208.1H167V216.1H159ZM204.9 208.1H212.9V216.1H204.9ZM273.8 208.1H281.7V216.1H273.8ZM273.8 215.8H281.7V223.7H273.8ZM159 231H167V239H159ZM151.3 238.7H159.3V246.6H151.3ZM227.9 253.9H243.5V261.8H227.9ZM266.1 253.9H274.1V261.8H266.1ZM182 276.7H189.9V284.6H182ZM197.2 299.4H205.2V307.3H197.2ZM197.2 307H205.2V314.9H197.2ZM197.2 344.8H205.2V352.7H197.2ZM143.7 367.4H151.7V375.3H143.7ZM174.3 382.5H182.3V390.3H174.3ZM174.3 405H182.3V412.9H174.3ZM174.3 420.1H182.3V427.9H174.3Z"/><path fill="#00bfff" d="M281.4 15.6H289.4V23.6H281.4ZM273.8 23.3H281.7V31.4H273.8ZM273.8 38.8H281.7V46.9H273.8ZM266.1 54.3H274.1V62.4H266.1ZM266.1 62.1H274.1V70.1H266.1ZM82.5 69.8H90.5V77.8H82.5ZM266.1 69.8H274.1V77.8H266.1ZM273.8 93H281.7V101H273.8ZM243.2 108.4H251.1V116.4H243.2ZM281.4 108.4H289.4V116.4H281.4ZM289.1 116.1H297V124.1H289.1ZM289.1 123.8H297V131.8H289.1ZM296.7 162.2H304.7V170.2H296.7ZM143.7 192.9H151.7V200.8H143.7ZM273.8 200.5H281.7V208.4H273.8ZM281.4 208.1H289.4V216.1H281.4ZM197.2 223.4H212.9V231.3H197.2ZM220.2 231H228.2V239H220.2ZM281.4 238.7H289.4V246.6H281.4ZM281.4 246.3H289.4V254.2H281.4ZM174.3 253.9H182.3V261.8H174.3ZM258.5 261.5H266.4V269.4H258.5ZM273.8 261.5H281.7V269.4H273.8ZM220.2 276.7H228.2V284.6H220.2ZM204.9 299.4H212.9V307.3H204.9ZM182 420.1H189.9V427.9H182Z"/><path fill="#00efff" d="M304.4 15.6H312.3V23.6H304.4ZM289.1 23.3H297V31.4H289.1ZM266.1 77.5H274.1V85.6H266.1ZM258.5 85.3H266.4V93.3H258.5ZM90.2 93H98.1V101H90.2ZM243.2 93H251.1V101H243.2ZM97.8 108.4H105.8V116.4H97.8ZM296.7 108.4H304.7V116.4H296.7ZM273.8 116.1H281.7V124.1H273.8ZM296.7 169.9H304.7V177.8H296.7ZM281.4 192.9H289.4V200.8H281.4ZM166.7 208.1H174.6V216.1H166.7ZM281.4 223.4H289.4V231.3H281.4ZM197.2 246.3H205.2V254.2H197.2ZM182 253.9H189.9V261.8H182ZM204.9 314.6H212.9V322.4H204.9ZM212.6 344.8H220.5V352.7H212.6ZM212.6 382.5H220.5V390.3H212.6Z"/><path fill="#bfff40" d="M312 15.6H327.6V23.6H312ZM312 23.3H320V31.4H312ZM304.4 192.9H312.3V200.8H304.4ZM304.4 200.5H312.3V208.4H304.4ZM289.1 238.7H297V246.6H289.1ZM212.6 359.9H220.5V367.7H212.6Z"/><path fill="#0050ff" d="M250.8 23.3H258.8V31.4H250.8ZM243.2 31.1H258.8V39.1H243.2ZM82.5 46.6H90.5V54.6H82.5ZM227.9 54.3H251.1V62.4H227.9ZM243.2 62.1H251.1V70.1H243.2ZM235.5 69.8H243.5V77.8H235.5ZM250.8 69.8H258.8V77.8H250.8ZM90.2 77.5H98.1V85.6H90.2ZM220.2 85.3H228.2V93.3H220.2ZM220.2 100.7H235.8V108.7H220.2ZM113.1 116.1H121V124.1H113.1ZM227.9 116.1H235.8V124.1H227.9ZM235.5 131.5H243.5V139.5H235.5ZM243.2 146.9H251.1V154.8H243.2ZM235.5 154.5H251.1V162.5H235.5ZM266.1 154.5H274.1V162.5H266.1ZM258.5 169.9H266.4V177.8H258.5ZM273.8 169.9H281.7V177.8H273.8ZM266.1 177.5H274.1V185.5H266.1ZM182 185.2H189.9V193.2H182ZM159 192.9H167V200.8H159ZM174.3 192.9H182.3V200.8H174.3ZM258.5 192.9H266.4V200.8H258.5ZM212.6 200.5H220.5V208.4H212.6ZM151.3 208.1H159.3V216.1H151.3ZM258.5 208.1H266.4V216.1H258.5ZM128.4 215.8H136.4V223.7H128.4ZM151.3 215.8H159.3V223.7H151.3ZM227.9 215.8H243.5V223.7H227.9ZM250.8 215.8H258.8V223.7H250.8ZM128.4 223.4H136.4V231.3H128.4ZM235.5 223.4H243.5V231.3H235.5ZM120.8 231H128.7V239H120.8ZM151.3 231H159.3V239H151.3ZM227.9 231H235.8V239H227.9ZM243.2 238.7H251.1V246.6H243.2ZM90.2 253.9H98.1V261.8H90.2ZM90.2 261.5H98.1V269.4H90.2ZM82.5 269.1H90.5V277H82.5ZM90.2 314.6H98.1V322.4H90.2ZM97.8 322.1H105.8V330H97.8ZM120.8 344.8H128.7V352.7H120.8ZM159 344.8H167V352.7H159ZM182 344.8H189.9V352.7H182ZM151.3 352.4H167V360.2H151.3ZM189.6 352.4H197.6V360.2H189.6ZM151.3 359.9H167V367.7H151.3ZM189.6 359.9H197.6V367.7H189.6ZM189.6 375H197.6V382.8H189.6ZM189.6 382.5H197.6V390.3H189.6ZM189.6 390H197.6V397.8H189.6Z"/><path fill="#00afff" d="M266.1 23.3H274.1V31.4H266.1ZM266.1 38.8H274.1V46.9H266.1ZM74.9 46.6H82.8V54.6H74.9ZM266.1 46.6H274.1V54.6H266.1ZM243.2 85.3H251.1V93.3H243.2ZM250.8 93H258.8V101H250.8ZM250.8 100.7H258.8V108.7H250.8ZM289.1 108.4H297V116.4H289.1ZM243.2 116.1H251.1V124.1H243.2ZM281.4 123.8H289.4V131.8H281.4ZM243.2 131.5H251.1V139.5H243.2ZM281.4 131.5H289.4V139.5H281.4ZM258.5 139.2H274.1V147.2H258.5ZM281.4 154.5H289.4V162.5H281.4ZM266.1 231H274.1V239H266.1ZM159 238.7H167V246.6H159ZM266.1 246.3H281.7V254.2H266.1ZM250.8 253.9H258.8V261.8H250.8ZM273.8 253.9H281.7V261.8H273.8ZM174.3 261.5H197.6V269.4H174.3ZM227.9 276.7H235.8V284.6H227.9ZM197.2 284.3H205.2V292.2H197.2ZM212.6 284.3H220.5V292.2H212.6ZM204.9 337.3H212.9V345.1H204.9ZM204.9 367.4H212.9V375.3H204.9ZM174.3 397.5H182.3V405.3H174.3ZM189.6 397.5H197.6V405.3H189.6ZM182 412.6H189.9V420.4H182Z"/><path fill="#10ffef" d="M296.7 23.3H304.7V31.4H296.7ZM296.7 31.1H304.7V39.1H296.7ZM273.8 69.8H281.7V77.8H273.8ZM281.4 100.7H297V108.7H281.4ZM250.8 116.1H258.8V124.1H250.8ZM296.7 123.8H304.7V131.8H296.7ZM296.7 192.9H304.7V200.8H296.7ZM273.8 231H281.7V239H273.8ZM189.6 238.7H197.6V246.6H189.6ZM250.8 261.5H258.8V269.4H250.8ZM250.8 269.1H258.8V277H250.8ZM212.6 291.9H220.5V299.7H212.6ZM212.6 367.4H220.5V375.3H212.6ZM212.6 375H220.5V382.8H212.6ZM189.6 412.6H197.6V420.4H189.6Z"/><path fill="#ff8000" d="M319.7 23.3H327.6V31.4H319.7ZM304.4 177.5H312.3V185.5H304.4Z"/><path fill="#ff3000" d="M327.3 23.3H335.2V31.4H327.3Z"/><path fill="#00cfff" d="M289.1 31.1H297V39.1H289.1ZM273.8 46.6H281.7V54.6H273.8ZM250.8 123.8H258.8V131.8H250.8ZM250.8 131.5H266.4V139.5H250.8ZM289.1 185.2H297V193.2H289.1ZM174.3 200.5H182.3V208.4H174.3ZM174.3 208.1H182.3V216.1H174.3ZM166.7 238.7H174.6V246.6H166.7ZM227.9 246.3H235.8V254.2H227.9ZM197.2 253.9H205.2V261.8H197.2ZM266.1 261.5H274.1V269.4H266.1ZM281.4 261.5H289.4V269.4H281.4ZM220.2 284.3H228.2V292.2H220.2ZM212.6 337.3H220.5V345.1H212.6ZM220.2 367.4H228.2V375.3H220.2ZM151.3 375H159.3V382.8H151.3ZM204.9 375H212.9V382.8H204.9ZM197.2 390H212.9V397.8H197.2ZM197.2 397.5H205.2V405.3H197.2Z"/><path fill="#8fff70" d="M304.4 31.1H312.3V39.1H304.4ZM296.7 46.6H304.7V54.6H296.7ZM296.7 54.3H304.7V62.4H296.7ZM289.1 69.8H297V77.8H289.1ZM289.1 93H304.7V101H289.1ZM304.4 139.2H312.3V147.2H304.4ZM319.7 154.5H327.6V162.5H319.7ZM296.7 208.1H304.7V216.1H296.7Z"/><path fill="#cfff30" d="M312 31.1H320V39.1H312ZM327.3 31.1H335.2V39.1H327.3ZM312 38.8H320V46.9H312ZM327.3 38.8H335.2V46.9H327.3ZM312 177.5H320V185.5H312ZM289.1 231H297V239H289.1Z"/><path fill="#70ff8f" d="M319.7 31.1H327.6V39.1H319.7ZM304.4 46.6H312.3V54.6H304.4ZM258.5 100.7H266.4V108.7H258.5ZM258.5 108.4H266.4V116.4H258.5ZM304.4 116.1H312.3V124.1H304.4ZM258.5 123.8H266.4V131.8H258.5ZM212.6 231H220.5V239H212.6ZM296.7 253.9H304.7V261.8H296.7ZM296.7 261.5H304.7V269.4H296.7Z"/><path fill="#30ffcf" d="M281.4 38.8H297V46.9H281.4ZM281.4 62.1H289.4V70.1H281.4ZM281.4 85.3H289.4V93.3H281.4ZM266.1 93H274.1V101H266.1ZM296.7 131.5H304.7V139.5H296.7ZM319.7 146.9H327.6V154.8H319.7ZM289.1 200.5H297V208.4H289.1ZM296.7 223.4H304.7V231.3H296.7ZM174.3 238.7H182.3V246.6H174.3ZM174.3 246.3H182.3V254.2H174.3ZM220.2 269.1H228.2V277H220.2ZM212.6 276.7H220.5V284.6H212.6Z"/><path fill="#ffdf00" d="M342.6 38.8H349.3V46.9H342.6Z"/><path fill="#df0000" d="M319.7 46.6H327.6V54.6H319.7ZM334.9 223.4H349.3V231.3H334.9Z"/><path fill="#ff1000" d="M327.3 46.6H335.2V54.6H327.3Z"/><path fill="#dfff20" d="M342.6 46.6H349.3V54.6H342.6Z"/><path fill="#ff5000" d="M296.7 62.1H304.7V70.1H296.7Z"/><path fill="#9fff60" d="M281.4 69.8H289.4V77.8H281.4ZM304.4 108.4H312.3V116.4H304.4ZM319.7 162.2H327.6V170.2H319.7ZM296.7 200.5H304.7V208.4H296.7ZM289.1 208.1H297V216.1H289.1ZM273.8 269.1H289.4V277H273.8Z"/><path fill="#80ff80" d="M281.4 77.5H289.4V85.6H281.4ZM258.5 116.1H266.4V124.1H258.5ZM296.7 215.8H304.7V223.7H296.7ZM289.1 269.1H297V277H289.1ZM212.6 299.4H220.5V307.3H212.6Z"/><path fill="#0000cf" d="M166.7 131.5H174.6V139.5H166.7Z"/><path fill="#ff8f00" d="M334.9 208.1H349.3V216.1H334.9ZM212.6 322.1H220.5V330H212.6Z"/><path fill="#ff4000" d="M334.9 215.8H349.3V223.7H334.9Z"/><path fill="#ffff00" d="M197.2 238.7H205.2V246.6H197.2Z"/><path fill="#ff7000" d="M204.9 238.7H212.9V246.6H204.9ZM197.2 269.1H205.2V277H197.2Z"/><path fill="#ffaf00" d="M266.1 276.7H274.1V284.6H266.1Z"/><path fill="#ff9f00" d="M235.5 284.3H243.5V292.2H235.5Z"/><path fill="#ffcf00" d="M220.2 291.9H228.2V299.7H220.2Z"/></g><path d="M287.6 3.9 285.2 9.1 283.2 11.7 285.2 17.3 287.4 19.4 289.1 27.2 285.2 30 281 35 278.1 42.7 277.6 46.3 275.2 50.5 270.2 58.2 270.3 65.9 270.5 73.7 269.9 74.6 262.3 79.7 260.6 81.4 258.4 89.1 255.7 96.8 255.3 104.6 254.6 106.2 247.5 112.3 248.9 120 253.5 127.7 251.6 135.3 254.6 136.8 262.3 137.1 269.9 140.5 277.6 137 280.3 135.3 281.9 127.7 280.3 120 284.1 112.3 285.2 111.3 292.9 110.7 295.1 112.3 293.5 120 293.1 127.7 292.9 128.3 289.3 135.3 285.2 138.3 281.9 143 285.2 147.3 289.6 150.7 292.9 153.6 296.2 158.4 300.5 165.2 308.2 162.7 310.6 166.1 308.2 167.9 300.5 167.4 296.8 173.7 292.9 178.2 289.5 181.4 292.4 189 292.9 189.9 295.2 196.7 292.9 198.5 288.2 204.3 285.4 212 285.2 212.7 282 219.6 277.6 225.6 275.6 227.2 271.5 234.8 277.6 239.6 285.2 242.2 285.4 242.5 285.5 250.1 285.2 250.6 278.9 257.7 280.6 265.3 277.6 265.4 270.9 265.3 269.9 265.2 269.5 265.3 262.3 267.1 261.4 265.3 254.6 259.3 247 263.1 244.7 265.3 240.9 272.9 239.3 275.2 233.2 280.5 231.7 282.6 224 283.9 222.5 288.1 216.4 289.8 212.1 295.6 209.2 303.2M277.6 98 277.8 96.8 277.6 96.2 272.9 89.1 269.9 85.6 266.6 89.1 269.9 91.2 277.2 96.8M247 92.7 243.5 96.8 247 100.1 251.5 96.8 247 92.7M285.2 193.8 282.5 196.7 285.2 199.4 289.3 196.7 285.2 193.8M197.6 204.3 193.4 200.7 189.3 204.3 185.8 207.9 178.6 204.3 178.1 204.1 177.4 204.3 170.5 207.7 167.9 212 165 219.6 168.7 227.2 170.5 230.6M223.8 234.8 216.4 228.6 208.7 227.5 202.2 234.8 201.1 236M170.5 240.9 168.1 242.5 170.5 243.8 172.7 250.1 178.1 257.6M193.4 246.6 197.7 250.1 200.9 257.7 195.9 265.3 194 272.9 195.7 280.5 201.1 286.3M208.7 304.1 204.6 310.8 205.8 318.4 205.9 325.9 208.7 330.1 213.9 333.5 213.8 341 213.1 348.6 209.8 356.1 210.3 363.7 211.1 371.2 208.7 376.9 208.1 378.7 208.7 379.8 213.3 386.3 208.7 393.2 201.1 393.2 200.6 393.8 200 401.3 193.4 403.1 189 408.8 187.9 416.3 186.7 423.8" fill="none" stroke="#000" stroke-width="0.8" stroke-linejoin="round"/><text transform="translate(269.5 41) rotate(-25)" font-size="13.5" text-anchor="middle" dy="0.35em">1.25</text><text transform="translate(300.8 131) rotate(-65)" font-size="13.5" text-anchor="middle" dy="0.35em">1.25</text><text transform="translate(290.8 153.5) rotate(60)" font-size="13.5" text-anchor="middle" dy="0.35em">1.25</text><text transform="translate(284.5 212.2) rotate(-70)" font-size="13.5" text-anchor="middle" dy="0.35em">1.25</text><text transform="translate(165.8 247.2) rotate(65)" font-size="13.5" text-anchor="middle" dy="0.35em">1.25</text><text transform="translate(199.5 297.2) rotate(70)" font-size="13.5" text-anchor="middle" dy="0.35em">1.25</text><text transform="translate(210.8 365.2) rotate(-80)" font-size="13.5" text-anchor="middle" dy="0.35em">1.25</text><text transform="translate(189.5 401.5) rotate(5)" font-size="13.5" text-anchor="middle" dy="0.35em">1.25</text>
<use href="#land"/>
<use href="#sites"/>
</g>
<rect x="0" y="0" width="348" height="427.2" fill="none" stroke="#1a1a1a" stroke-width="1.1"/>
<use href="#ticks"/>
<rect x="4" y="20" width="112.6" height="25.5" fill="url(#jet)" stroke="#262626" stroke-width="1"/><text x="2.9" y="7.3" font-size="17.5" text-anchor="middle" fill="#333">0</text><text x="59.8" y="7.3" font-size="17.5" text-anchor="middle" fill="#333">2</text><text x="115.8" y="7.3" font-size="17.5" text-anchor="middle" fill="#333">4</text><text x="284.4" y="37.2" font-size="21.6">10 km</text><path d="M305.2 43.4H321.5" stroke="#000" stroke-width="3.4" stroke-linecap="round"/>
<text x="173" y="-12" font-size="20.9" font-weight="bold" text-anchor="middle">GDOP TotalErrors (1.25)</text>
</g>
<g transform="translate(843.8 142.3)">
<text x="-7.5" y="434.7" font-size="20" text-anchor="end">34°N</text><text x="-7.5" y="293.9" font-size="20" text-anchor="end">35°N</text><text x="-7.5" y="151.4" font-size="20" text-anchor="end">36°N</text><text x="-7.5" y="7.1" font-size="20" text-anchor="end">37°N</text><text x="-7" y="363" font-size="15" text-anchor="end">30'</text><text x="-7" y="221.4" font-size="15" text-anchor="end">30'</text><text x="-7" y="78" font-size="15" text-anchor="end">30'</text><text x="-0.5" y="444.5" font-size="15" text-anchor="middle">30'</text><text x="60" y="448.2" font-size="20" text-anchor="middle">76°W</text><text x="115.5" y="444.5" font-size="15" text-anchor="middle">30'</text><text x="176" y="448.2" font-size="20" text-anchor="middle">75°W</text><text x="231.5" y="444.5" font-size="15" text-anchor="middle">30'</text><text x="292" y="448.2" font-size="20" text-anchor="middle">74°W</text><text x="347.5" y="444.5" font-size="15" text-anchor="middle">30'</text>
<g clip-path="url(#ax)">
<use href="#grid"/>
<g shape-rendering="crispEdges"><path fill="#50ffaf" d="M67.2 0H75.2V8.1H67.2ZM113.1 62.1H128.7V70.1H113.1ZM105.5 69.8H113.4V77.8H105.5ZM97.8 85.3H105.8V93.3H97.8ZM97.8 93H105.8V101H97.8ZM105.5 108.4H113.4V116.4H105.5ZM136.1 108.4H144V116.4H136.1ZM174.3 131.5H189.9V139.5H174.3ZM189.6 177.5H197.6V185.5H189.6ZM174.3 185.2H182.3V193.2H174.3ZM189.6 185.2H197.6V193.2H189.6ZM166.7 192.9H174.6V200.8H166.7ZM128.4 208.1H136.4V216.1H128.4ZM143.7 238.7H151.7V246.6H143.7ZM143.7 253.9H151.7V261.8H143.7ZM90.2 284.3H98.1V292.2H90.2ZM128.4 284.3H136.4V292.2H128.4ZM90.2 291.9H98.1V299.7H90.2ZM59.6 299.4H67.5V307.3H59.6ZM44.2 307H52.2V314.9H44.2ZM67.2 307H75.2V314.9H67.2ZM51.9 314.6H59.9V322.4H51.9Z"/><path fill="#8fff70" d="M74.9 0H90.5V8.1H74.9ZM97.8 38.8H105.8V46.9H97.8ZM97.8 54.3H105.8V62.4H97.8ZM136.1 131.5H144V139.5H136.1ZM151.3 131.5H159.3V139.5H151.3ZM159 162.2H167V170.2H159ZM166.7 169.9H174.6V177.8H166.7ZM182 169.9H189.9V177.8H182ZM143.7 177.5H151.7V185.5H143.7ZM143.7 269.1H151.7V277H143.7ZM120.8 284.3H128.7V292.2H120.8ZM44.2 314.6H52.2V322.4H44.2ZM13.7 329.7H21.6V337.6H13.7Z"/><path fill="#20ffdf" d="M90.2 0H98.1V8.1H90.2ZM97.8 23.3H105.8V31.4H97.8ZM105.5 38.8H113.4V46.9H105.5ZM97.8 62.1H105.8V70.1H97.8ZM82.5 69.8H90.5V77.8H82.5ZM113.1 69.8H121V77.8H113.1ZM82.5 85.3H90.5V93.3H82.5ZM105.5 100.7H113.4V108.7H105.5ZM136.1 100.7H144V108.7H136.1ZM197.2 116.1H205.2V124.1H197.2ZM159 123.8H167V131.8H159ZM204.9 131.5H212.9V139.5H204.9ZM204.9 139.2H212.9V147.2H204.9ZM174.3 146.9H189.9V154.8H174.3ZM159 177.5H167V185.5H159ZM204.9 177.5H212.9V185.5H204.9ZM166.7 185.2H174.6V193.2H166.7ZM197.2 185.2H205.2V193.2H197.2ZM120.8 208.1H128.7V216.1H120.8ZM143.7 223.4H151.7V231.3H143.7ZM166.7 231H174.6V239H166.7ZM151.3 246.3H159.3V254.2H151.3ZM90.2 276.7H98.1V284.6H90.2ZM74.9 307H82.8V314.9H74.9ZM59.6 314.6H67.5V322.4H59.6ZM143.7 314.6H151.7V322.4H143.7Z"/><path fill="#00ffff" d="M97.8 0H105.8V8.1H97.8ZM113.1 38.8H121V46.9H113.1ZM105.5 46.6H113.4V54.6H105.5ZM120.8 46.6H128.7V54.6H120.8ZM105.5 54.3H113.4V62.4H105.5ZM90.2 77.5H98.1V85.6H90.2ZM105.5 85.3H113.4V93.3H105.5ZM128.4 93H136.4V101H128.4ZM113.1 100.7H121V108.7H113.1ZM143.7 100.7H159.3V108.7H143.7ZM159 108.4H167V116.4H159ZM197.2 146.9H205.2V154.8H197.2ZM128.4 177.5H136.4V185.5H128.4ZM182 192.9H189.9V200.8H182ZM120.8 200.5H128.7V208.4H120.8ZM136.1 215.8H144V223.7H136.1ZM151.3 231H159.3V239H151.3ZM44.2 291.9H52.2V299.7H44.2ZM90.2 307H105.8V314.9H90.2ZM59.6 322.1H67.5V330H59.6Z"/><path fill="#009fff" d="M105.5 0H113.4V8.1H105.5ZM113.1 7.8H121V15.9H113.1ZM136.1 38.8H144V46.9H136.1ZM128.4 62.1H136.4V70.1H128.4ZM159 62.1H167V70.1H159ZM151.3 77.5H167V85.6H151.3ZM136.1 85.3H144V93.3H136.1ZM174.3 100.7H182.3V108.7H174.3ZM189.6 100.7H197.6V108.7H189.6ZM212.6 123.8H220.5V131.8H212.6ZM212.6 139.2H220.5V147.2H212.6ZM227.9 139.2H235.8V147.2H227.9ZM250.8 146.9H258.8V154.8H250.8ZM220.2 154.5H228.2V162.5H220.2ZM227.9 169.9H235.8V177.8H227.9ZM235.5 177.5H243.5V185.5H235.5ZM136.1 185.2H144V193.2H136.1ZM227.9 185.2H243.5V193.2H227.9ZM182 208.1H189.9V216.1H182ZM204.9 208.1H212.9V216.1H204.9ZM227.9 208.1H235.8V216.1H227.9ZM182 215.8H189.9V223.7H182ZM204.9 215.8H212.9V223.7H204.9ZM159 223.4H182.3V231.3H159ZM90.2 253.9H105.8V261.8H90.2ZM82.5 261.5H90.5V269.4H82.5ZM97.8 261.5H105.8V269.4H97.8ZM159 261.5H167V269.4H159ZM67.2 269.1H75.2V277H67.2ZM174.3 269.1H182.3V277H174.3ZM166.7 291.9H174.6V299.7H166.7ZM136.1 307H144V314.9H136.1ZM159 307H167V314.9H159ZM113.1 314.6H121V322.4H113.1ZM151.3 314.6H159.3V322.4H151.3ZM82.5 322.1H98.1V330H82.5ZM90.2 329.7H105.8V337.6H90.2ZM44.2 337.3H52.2V345.1H44.2ZM90.2 337.3H98.1V345.1H90.2ZM113.1 337.3H121V345.1H113.1ZM21.3 344.8H29.3V352.7H21.3ZM74.9 344.8H98.1V352.7H74.9ZM143.7 344.8H151.7V352.7H143.7ZM120.8 352.4H128.7V360.2H120.8ZM90.2 367.4H98.1V375.3H90.2Z"/><path fill="#008fff" d="M113.1 0H121V8.1H113.1ZM128.4 7.8H136.4V15.9H128.4ZM128.4 15.6H151.7V23.6H128.4ZM128.4 31.1H136.4V39.1H128.4ZM159 31.1H167V39.1H159ZM159 38.8H167V46.9H159ZM159 46.6H167V54.6H159ZM174.3 69.8H182.3V77.8H174.3ZM174.3 77.5H182.3V85.6H174.3ZM166.7 85.3H174.6V93.3H166.7ZM182 100.7H189.9V108.7H182ZM197.2 100.7H205.2V108.7H197.2ZM220.2 131.5H235.8V139.5H220.2ZM243.2 146.9H251.1V154.8H243.2ZM235.5 154.5H243.5V162.5H235.5ZM227.9 162.2H235.8V170.2H227.9ZM227.9 177.5H235.8V185.5H227.9ZM220.2 185.2H228.2V193.2H220.2ZM151.3 200.5H159.3V208.4H151.3ZM189.6 200.5H197.6V208.4H189.6ZM197.2 208.1H205.2V216.1H197.2ZM220.2 208.1H228.2V216.1H220.2ZM159 215.8H182.3V223.7H159ZM235.5 215.8H243.5V223.7H235.5ZM189.6 223.4H197.6V231.3H189.6ZM182 231H189.9V239H182ZM189.6 253.9H197.6V261.8H189.6ZM182 261.5H189.9V269.4H182ZM82.5 269.1H98.1V277H82.5ZM174.3 299.4H189.9V307.3H174.3ZM182 314.6H189.9V322.4H182ZM67.2 322.1H75.2V330H67.2ZM67.2 329.7H75.2V337.6H67.2ZM128.4 329.7H144V337.6H128.4ZM159 329.7H167V337.6H159ZM159 337.3H167V345.1H159ZM36.6 344.8H44.5V352.7H36.6ZM97.8 344.8H113.4V352.7H97.8ZM6 352.4H14V360.2H6ZM29 352.4H36.9V360.2H29ZM97.8 352.4H121V360.2H97.8ZM143.7 352.4H151.7V360.2H143.7ZM74.9 359.9H82.8V367.7H74.9ZM151.3 359.9H159.3V367.7H151.3ZM105.5 367.4H113.4V375.3H105.5Z"/><path fill="#0080ff" d="M120.8 0H128.7V8.1H120.8ZM120.8 7.8H128.7V15.9H120.8ZM159 7.8H167V15.9H159ZM113.1 15.6H121V23.6H113.1ZM143.7 23.3H151.7V31.4H143.7ZM136.1 31.1H151.7V39.1H136.1ZM174.3 31.1H182.3V39.1H174.3ZM143.7 46.6H151.7V54.6H143.7ZM189.6 69.8H197.6V77.8H189.6ZM182 77.5H189.9V85.6H182ZM189.6 93H197.6V101H189.6ZM204.9 100.7H212.9V108.7H204.9ZM182 108.4H189.9V116.4H182ZM197.2 108.4H205.2V116.4H197.2ZM227.9 116.1H235.8V124.1H227.9ZM220.2 123.8H235.8V131.8H220.2ZM197.2 131.5H205.2V139.5H197.2ZM243.2 131.5H251.1V139.5H243.2ZM235.5 139.2H243.5V147.2H235.5ZM212.6 146.9H220.5V154.8H212.6ZM227.9 154.5H235.8V162.5H227.9ZM243.2 154.5H251.1V162.5H243.2ZM220.2 169.9H228.2V177.8H220.2ZM243.2 169.9H251.1V177.8H243.2ZM243.2 185.2H251.1V193.2H243.2ZM235.5 192.9H251.1V200.8H235.5ZM235.5 200.5H251.1V208.4H235.5ZM235.5 208.1H243.5V216.1H235.5ZM182 223.4H189.9V231.3H182ZM204.9 223.4H212.9V231.3H204.9ZM159 231H167V239H159ZM204.9 231H212.9V239H204.9ZM174.3 238.7H182.3V246.6H174.3ZM174.3 253.9H182.3V261.8H174.3ZM97.8 269.1H105.8V277H97.8ZM182 269.1H189.9V277H182ZM174.3 284.3H182.3V292.2H174.3ZM174.3 291.9H189.9V299.7H174.3ZM166.7 299.4H174.6V307.3H166.7ZM166.7 307H174.6V314.9H166.7ZM189.6 307H197.6V314.9H189.6ZM105.5 314.6H113.4V322.4H105.5ZM166.7 314.6H182.3V322.4H166.7ZM74.9 322.1H82.8V330H74.9ZM151.3 329.7H159.3V337.6H151.3ZM166.7 329.7H182.3V337.6H166.7ZM51.9 337.3H59.9V345.1H51.9ZM105.5 337.3H113.4V345.1H105.5ZM120.8 337.3H136.4V345.1H120.8ZM143.7 337.3H151.7V345.1H143.7ZM120.8 344.8H128.7V352.7H120.8ZM151.3 352.4H159.3V360.2H151.3ZM90.2 359.9H98.1V367.7H90.2Z"/><path fill="#0050ff" d="M128.4 0H136.4V8.1H128.4ZM136.1 7.8H144V15.9H136.1ZM174.3 7.8H182.3V15.9H174.3ZM159 15.6H174.6V23.6H159ZM159 23.3H167V31.4H159ZM189.6 31.1H197.6V39.1H189.6ZM174.3 38.8H182.3V46.9H174.3ZM197.2 38.8H205.2V46.9H197.2ZM166.7 46.6H174.6V54.6H166.7ZM197.2 46.6H205.2V54.6H197.2ZM182 54.3H189.9V62.4H182ZM174.3 62.1H182.3V70.1H174.3ZM197.2 69.8H212.9V77.8H197.2ZM227.9 69.8H235.8V77.8H227.9ZM204.9 85.3H212.9V93.3H204.9ZM204.9 93H212.9V101H204.9ZM220.2 93H228.2V101H220.2ZM235.5 100.7H243.5V108.7H235.5ZM235.5 108.4H243.5V116.4H235.5ZM220.2 116.1H228.2V124.1H220.2ZM266.1 123.8H274.1V131.8H266.1ZM266.1 154.5H281.7V162.5H266.1ZM250.8 169.9H258.8V177.8H250.8ZM266.1 169.9H274.1V177.8H266.1ZM273.8 200.5H281.7V208.4H273.8ZM250.8 215.8H258.8V223.7H250.8ZM212.6 223.4H220.5V231.3H212.6ZM227.9 223.4H235.8V231.3H227.9ZM250.8 223.4H258.8V231.3H250.8ZM212.6 231H220.5V239H212.6ZM227.9 231H235.8V239H227.9ZM204.9 238.7H212.9V246.6H204.9ZM235.5 238.7H243.5V246.6H235.5ZM182 246.3H189.9V254.2H182ZM197.2 246.3H205.2V254.2H197.2ZM189.6 261.5H212.9V269.4H189.6ZM189.6 276.7H197.6V284.6H189.6ZM204.9 276.7H212.9V284.6H204.9ZM212.6 284.3H220.5V292.2H212.6ZM189.6 314.6H205.2V322.4H189.6ZM159 322.1H167V330H159ZM189.6 322.1H197.6V330H189.6ZM82.5 329.7H90.5V337.6H82.5ZM67.2 337.3H75.2V345.1H67.2ZM151.3 344.8H159.3V352.7H151.3ZM44.2 352.4H67.5V360.2H44.2ZM74.9 352.4H82.8V360.2H74.9ZM159 352.4H167V360.2H159ZM29 359.9H44.5V367.7H29ZM51.9 359.9H59.9V367.7H51.9ZM67.2 359.9H75.2V367.7H67.2ZM97.8 359.9H113.4V367.7H97.8ZM136.1 359.9H144V367.7H136.1ZM159 359.9H167V367.7H159ZM6 367.4H14V375.3H6ZM82.5 367.4H90.5V375.3H82.5ZM97.8 367.4H105.8V375.3H97.8ZM136.1 367.4H144V375.3H136.1ZM113.1 375H151.7V382.8H113.1ZM82.5 382.5H105.8V390.3H82.5ZM82.5 390H105.8V397.8H82.5Z"/><path fill="#0040ff" d="M136.1 0H144V8.1H136.1ZM151.3 0H167V8.1H151.3ZM182 7.8H189.9V15.9H182ZM182 15.6H197.6V23.6H182ZM166.7 31.1H174.6V39.1H166.7ZM204.9 31.1H212.9V39.1H204.9ZM182 46.6H189.9V54.6H182ZM204.9 46.6H212.9V54.6H204.9ZM189.6 54.3H197.6V62.4H189.6ZM197.2 62.1H212.9V70.1H197.2ZM227.9 77.5H235.8V85.6H227.9ZM212.6 85.3H220.5V93.3H212.6ZM227.9 85.3H251.1V93.3H227.9ZM235.5 93H243.5V101H235.5ZM227.9 100.7H235.8V108.7H227.9ZM235.5 116.1H243.5V124.1H235.5ZM258.5 131.5H266.4V139.5H258.5ZM273.8 131.5H281.7V139.5H273.8ZM243.2 139.2H251.1V147.2H243.2ZM258.5 139.2H266.4V147.2H258.5ZM258.5 154.5H266.4V162.5H258.5ZM266.1 162.2H274.1V170.2H266.1ZM266.1 177.5H281.7V185.5H266.1ZM258.5 208.1H266.4V216.1H258.5ZM220.2 215.8H228.2V223.7H220.2ZM243.2 215.8H251.1V223.7H243.2ZM258.5 215.8H266.4V223.7H258.5ZM243.2 231H251.1V239H243.2ZM266.1 231H274.1V239H266.1ZM235.5 246.3H251.1V254.2H235.5ZM197.2 253.9H212.9V261.8H197.2ZM235.5 253.9H251.1V261.8H235.5ZM197.2 269.1H212.9V277H197.2ZM197.2 276.7H205.2V284.6H197.2ZM197.2 284.3H205.2V292.2H197.2ZM212.6 291.9H220.5V299.7H212.6ZM182 322.1H189.9V330H182ZM197.2 322.1H212.9V330H197.2ZM74.9 329.7H82.8V337.6H74.9ZM174.3 337.3H182.3V345.1H174.3ZM59.6 344.8H67.5V352.7H59.6ZM182 344.8H197.6V352.7H182ZM182 352.4H189.9V360.2H182ZM197.2 352.4H205.2V360.2H197.2ZM6 359.9H29.3V367.7H6ZM182 359.9H189.9V367.7H182ZM59.6 367.4H67.5V375.3H59.6ZM151.3 367.4H159.3V375.3H151.3ZM29 375H36.9V382.8H29ZM59.6 375H67.5V382.8H59.6ZM74.9 375H98.1V382.8H74.9ZM105.5 375H113.4V382.8H105.5ZM166.7 375H182.3V382.8H166.7ZM105.5 382.5H113.4V390.3H105.5ZM120.8 397.5H136.4V405.3H120.8ZM82.5 405H90.5V412.9H82.5ZM97.8 405H105.8V412.9H97.8Z"/><path fill="#0030ff" d="M143.7 0H151.7V8.1H143.7ZM166.7 0H182.3V8.1H166.7ZM182 23.3H205.2V31.4H182ZM182 31.1H189.9V39.1H182ZM189.6 38.8H197.6V46.9H189.6ZM212.6 46.6H220.5V54.6H212.6ZM204.9 54.3H212.9V62.4H204.9ZM220.2 69.8H228.2V77.8H220.2ZM212.6 77.5H228.2V85.6H212.6ZM220.2 85.3H228.2V93.3H220.2ZM250.8 85.3H258.8V93.3H250.8ZM250.8 93H266.4V101H250.8ZM243.2 100.7H266.4V108.7H243.2ZM243.2 108.4H266.4V116.4H243.2ZM243.2 116.1H266.4V124.1H243.2ZM250.8 131.5H258.8V139.5H250.8ZM250.8 139.2H258.8V147.2H250.8ZM258.5 146.9H274.1V154.8H258.5ZM273.8 162.2H289.4V170.2H273.8ZM273.8 169.9H289.4V177.8H273.8ZM250.8 177.5H258.8V185.5H250.8ZM250.8 185.2H258.8V193.2H250.8ZM266.1 185.2H274.1V193.2H266.1ZM281.4 185.2H289.4V193.2H281.4ZM266.1 192.9H274.1V200.8H266.1ZM258.5 200.5H274.1V208.4H258.5ZM281.4 200.5H289.4V208.4H281.4ZM273.8 208.1H281.7V216.1H273.8ZM266.1 223.4H281.7V231.3H266.1ZM220.2 238.7H228.2V246.6H220.2ZM243.2 238.7H266.4V246.6H243.2ZM212.6 246.3H228.2V254.2H212.6ZM212.6 253.9H235.8V261.8H212.6ZM250.8 253.9H258.8V261.8H250.8ZM212.6 269.1H235.8V277H212.6ZM212.6 276.7H220.5V284.6H212.6ZM204.9 284.3H212.9V292.2H204.9ZM227.9 291.9H235.8V299.7H227.9ZM197.2 307H205.2V314.9H197.2ZM212.6 307H220.5V314.9H212.6ZM204.9 314.6H212.9V322.4H204.9ZM220.2 314.6H228.2V322.4H220.2ZM189.6 329.7H197.6V337.6H189.6ZM189.6 337.3H197.6V345.1H189.6ZM197.2 344.8H205.2V352.7H197.2ZM174.3 352.4H182.3V360.2H174.3ZM59.6 359.9H67.5V367.7H59.6ZM143.7 359.9H151.7V367.7H143.7ZM13.7 367.4H21.6V375.3H13.7ZM67.2 367.4H75.2V375.3H67.2ZM143.7 367.4H151.7V375.3H143.7ZM159 367.4H174.6V375.3H159ZM182 367.4H189.9V375.3H182ZM6 375H14V382.8H6ZM44.2 382.5H52.2V390.3H44.2ZM67.2 382.5H75.2V390.3H67.2ZM128.4 382.5H136.4V390.3H128.4ZM143.7 382.5H159.3V390.3H143.7ZM166.7 382.5H182.3V390.3H166.7ZM44.2 390H52.2V397.8H44.2ZM67.2 397.5H82.8V405.3H67.2ZM90.2 397.5H98.1V405.3H90.2ZM90.2 412.6H98.1V420.4H90.2Z"/><path fill="#0010ff" d="M182 0H212.9V8.1H182ZM166.7 7.8H174.6V15.9H166.7ZM189.6 7.8H197.6V15.9H189.6ZM204.9 15.6H212.9V23.6H204.9ZM204.9 23.3H228.2V31.4H204.9ZM220.2 31.1H235.8V39.1H220.2ZM212.6 38.8H220.5V46.9H212.6ZM227.9 38.8H243.5V46.9H227.9ZM227.9 46.6H243.5V54.6H227.9ZM220.2 54.3H228.2V62.4H220.2ZM235.5 54.3H243.5V62.4H235.5ZM250.8 54.3H258.8V62.4H250.8ZM212.6 62.1H220.5V70.1H212.6ZM235.5 62.1H243.5V70.1H235.5ZM235.5 69.8H243.5V77.8H235.5ZM258.5 69.8H266.4V77.8H258.5ZM235.5 77.5H251.1V85.6H235.5ZM258.5 85.3H266.4V93.3H258.5ZM266.1 108.4H274.1V116.4H266.1ZM273.8 116.1H281.7V124.1H273.8ZM296.7 116.1H304.7V124.1H296.7ZM266.1 131.5H274.1V139.5H266.1ZM281.4 131.5H304.7V139.5H281.4ZM281.4 139.2H289.4V147.2H281.4ZM296.7 154.5H304.7V162.5H296.7ZM289.1 162.2H297V170.2H289.1ZM289.1 185.2H297V193.2H289.1ZM281.4 192.9H289.4V200.8H281.4ZM266.1 215.8H281.7V223.7H266.1ZM296.7 215.8H312.3V223.7H296.7ZM258.5 231H266.4V239H258.5ZM289.1 231H297V239H289.1ZM273.8 238.7H281.7V246.6H273.8ZM258.5 246.3H266.4V254.2H258.5ZM289.1 246.3H297V254.2H289.1ZM220.2 261.5H228.2V269.4H220.2ZM243.2 261.5H251.1V269.4H243.2ZM258.5 261.5H266.4V269.4H258.5ZM59.6 269.1H67.5V277H59.6ZM243.2 269.1H258.8V277H243.2ZM243.2 276.7H251.1V284.6H243.2ZM258.5 276.7H266.4V284.6H258.5ZM220.2 284.3H243.5V292.2H220.2ZM220.2 299.4H228.2V307.3H220.2ZM204.9 307H212.9V314.9H204.9ZM220.2 307H228.2V314.9H220.2ZM235.5 307H251.1V314.9H235.5ZM227.9 314.6H243.5V322.4H227.9ZM220.2 322.1H243.5V330H220.2ZM204.9 329.7H212.9V337.6H204.9ZM204.9 337.3H212.9V345.1H204.9ZM212.6 344.8H220.5V352.7H212.6ZM227.9 344.8H235.8V352.7H227.9ZM204.9 352.4H212.9V360.2H204.9ZM220.2 352.4H228.2V360.2H220.2ZM220.2 359.9H228.2V367.7H220.2ZM36.6 367.4H44.5V375.3H36.6ZM197.2 367.4H205.2V375.3H197.2ZM212.6 367.4H220.5V375.3H212.6ZM13.7 375H21.6V382.8H13.7ZM44.2 375H52.2V382.8H44.2ZM182 375H205.2V382.8H182ZM36.6 382.5H44.5V390.3H36.6ZM51.9 382.5H59.9V390.3H51.9ZM159 382.5H167V390.3H159ZM182 382.5H189.9V390.3H182ZM197.2 382.5H205.2V390.3H197.2ZM21.3 390H36.9V397.8H21.3ZM51.9 390H67.5V397.8H51.9ZM74.9 390H82.8V397.8H74.9ZM113.1 390H121V397.8H113.1ZM128.4 390H136.4V397.8H128.4ZM143.7 390H151.7V397.8H143.7ZM174.3 390H189.9V397.8H174.3ZM51.9 397.5H59.9V405.3H51.9ZM82.5 397.5H90.5V405.3H82.5ZM97.8 397.5H121V405.3H97.8ZM143.7 397.5H151.7V405.3H143.7ZM36.6 405H44.5V412.9H36.6ZM51.9 405H59.9V412.9H51.9ZM67.2 405H75.2V412.9H67.2ZM90.2 405H98.1V412.9H90.2ZM105.5 405H121V412.9H105.5ZM143.7 405H151.7V412.9H143.7ZM159 405H167V412.9H159ZM113.1 412.6H121V420.4H113.1ZM97.8 420.1H105.8V427.9H97.8Z"/><path fill="#0000ef" d="M212.6 0H228.2V8.1H212.6ZM227.9 7.8H235.8V15.9H227.9ZM220.2 15.6H235.8V23.6H220.2ZM235.5 23.3H251.1V31.4H235.5ZM235.5 31.1H243.5V39.1H235.5ZM258.5 31.1H266.4V39.1H258.5ZM250.8 38.8H258.8V46.9H250.8ZM250.8 46.6H258.8V54.6H250.8ZM266.1 46.6H274.1V54.6H266.1ZM266.1 54.3H274.1V62.4H266.1ZM250.8 62.1H258.8V70.1H250.8ZM266.1 62.1H274.1V70.1H266.1ZM273.8 77.5H289.4V85.6H273.8ZM266.1 85.3H281.7V93.3H266.1ZM273.8 93H297V101H273.8ZM273.8 100.7H297V108.7H273.8ZM273.8 108.4H281.7V116.4H273.8ZM289.1 116.1H297V124.1H289.1ZM304.4 116.1H312.3V124.1H304.4ZM319.7 116.1H327.6V124.1H319.7ZM273.8 123.8H297V131.8H273.8ZM312 123.8H320V131.8H312ZM312 139.2H320V147.2H312ZM296.7 146.9H304.7V154.8H296.7ZM327.3 146.9H335.2V154.8H327.3ZM304.4 154.5H312.3V162.5H304.4ZM304.4 162.2H312.3V170.2H304.4ZM319.7 169.9H327.6V177.8H319.7ZM304.4 177.5H320V185.5H304.4ZM296.7 185.2H312.3V193.2H296.7ZM296.7 192.9H304.7V200.8H296.7ZM312 192.9H327.6V200.8H312ZM304.4 200.5H312.3V208.4H304.4ZM296.7 208.1H320V216.1H296.7ZM296.7 231H320V239H296.7ZM281.4 238.7H312.3V246.6H281.4ZM266.1 246.3H289.4V254.2H266.1ZM296.7 246.3H304.7V254.2H296.7ZM281.4 253.9H304.7V261.8H281.4ZM319.7 253.9H327.6V261.8H319.7ZM273.8 261.5H281.7V269.4H273.8ZM266.1 269.1H274.1V277H266.1ZM250.8 276.7H258.8V284.6H250.8ZM243.2 284.3H266.4V292.2H243.2ZM243.2 291.9H266.4V299.7H243.2ZM273.8 291.9H281.7V299.7H273.8ZM243.2 299.4H251.1V307.3H243.2ZM258.5 299.4H266.4V307.3H258.5ZM250.8 307H258.8V314.9H250.8ZM266.1 307H274.1V314.9H266.1ZM243.2 314.6H266.4V322.4H243.2ZM243.2 322.1H258.8V330H243.2ZM227.9 329.7H266.4V337.6H227.9ZM235.5 344.8H258.8V352.7H235.5ZM227.9 352.4H235.8V360.2H227.9ZM258.5 352.4H266.4V360.2H258.5ZM212.6 359.9H220.5V367.7H212.6ZM227.9 359.9H243.5V367.7H227.9ZM204.9 367.4H212.9V375.3H204.9ZM220.2 367.4H243.5V375.3H220.2ZM204.9 375H235.8V382.8H204.9ZM243.2 375H251.1V382.8H243.2ZM189.6 382.5H197.6V390.3H189.6ZM6 390H14V397.8H6ZM36.6 390H44.5V397.8H36.6ZM189.6 390H205.2V397.8H189.6ZM6 397.5H29.3V405.3H6ZM174.3 397.5H182.3V405.3H174.3ZM189.6 397.5H197.6V405.3H189.6ZM204.9 397.5H212.9V405.3H204.9ZM6 405H21.6V412.9H6ZM29 405H36.9V412.9H29ZM59.6 405H67.5V412.9H59.6ZM174.3 405H205.2V412.9H174.3ZM21.3 412.6H36.9V420.4H21.3ZM44.2 412.6H52.2V420.4H44.2ZM59.6 412.6H82.8V420.4H59.6ZM151.3 412.6H174.6V420.4H151.3ZM197.2 412.6H205.2V420.4H197.2ZM13.7 420.1H21.6V427.9H13.7ZM29 420.1H36.9V427.9H29ZM44.2 420.1H52.2V427.9H44.2ZM59.6 420.1H67.5V427.9H59.6ZM105.5 420.1H144V427.9H105.5ZM151.3 420.1H167V427.9H151.3ZM174.3 420.1H182.3V427.9H174.3ZM189.6 420.1H197.6V427.9H189.6Z"/><path fill="#0000cf" d="M227.9 0H235.8V8.1H227.9ZM250.8 0H266.4V8.1H250.8ZM273.8 0H281.7V8.1H273.8ZM250.8 7.8H266.4V15.9H250.8ZM258.5 15.6H281.7V23.6H258.5ZM258.5 23.3H274.1V31.4H258.5ZM281.4 23.3H289.4V31.4H281.4ZM250.8 31.1H258.8V39.1H250.8ZM266.1 31.1H297V39.1H266.1ZM281.4 38.8H297V46.9H281.4ZM281.4 54.3H312.3V62.4H281.4ZM296.7 62.1H320V70.1H296.7ZM296.7 69.8H312.3V77.8H296.7ZM312 77.5H327.6V85.6H312ZM281.4 85.3H289.4V93.3H281.4ZM304.4 85.3H320V93.3H304.4ZM327.3 85.3H335.2V93.3H327.3ZM304.4 93H327.6V101H304.4ZM312 100.7H335.2V108.7H312ZM312 108.4H327.6V116.4H312ZM334.9 108.4H342.9V116.4H334.9ZM327.3 116.1H342.9V124.1H327.3ZM350.2 116.1H349.3V124.1H350.2ZM319.7 123.8H327.6V131.8H319.7ZM327.3 131.5H349.3V139.5H327.3ZM319.7 139.2H335.2V147.2H319.7ZM342.6 139.2H349.3V147.2H342.6ZM312 169.9H320V177.8H312ZM327.3 169.9H342.9V177.8H327.3ZM334.9 177.5H342.9V185.5H334.9ZM350.2 177.5H349.3V185.5H350.2ZM327.3 192.9H342.9V200.8H327.3ZM319.7 200.5H327.6V208.4H319.7ZM334.9 200.5H342.9V208.4H334.9ZM334.9 208.1H342.9V216.1H334.9ZM319.7 215.8H342.9V223.7H319.7ZM319.7 223.4H342.9V231.3H319.7ZM334.9 231H342.9V239H334.9ZM327.3 238.7H335.2V246.6H327.3ZM342.6 238.7H349.3V246.6H342.6ZM327.3 246.3H335.2V254.2H327.3ZM312 253.9H320V261.8H312ZM327.3 253.9H342.9V261.8H327.3ZM296.7 261.5H304.7V269.4H296.7ZM319.7 261.5H335.2V269.4H319.7ZM342.6 261.5H349.3V269.4H342.6ZM289.1 269.1H297V277H289.1ZM304.4 269.1H335.2V277H304.4ZM289.1 276.7H312.3V284.6H289.1ZM281.4 284.3H320V292.2H281.4ZM281.4 291.9H289.4V299.7H281.4ZM296.7 291.9H304.7V299.7H296.7ZM312 291.9H320V299.7H312ZM266.1 299.4H274.1V307.3H266.1ZM281.4 299.4H297V307.3H281.4ZM258.5 307H266.4V314.9H258.5ZM289.1 307H297V314.9H289.1ZM266.1 314.6H281.7V322.4H266.1ZM289.1 314.6H297V322.4H289.1ZM258.5 322.1H266.4V330H258.5ZM281.4 322.1H289.4V330H281.4ZM296.7 322.1H304.7V330H296.7ZM289.1 329.7H297V337.6H289.1ZM258.5 337.3H274.1V345.1H258.5ZM289.1 337.3H297V345.1H289.1ZM258.5 344.8H274.1V352.7H258.5ZM289.1 344.8H297V352.7H289.1ZM250.8 352.4H258.8V360.2H250.8ZM266.1 352.4H274.1V360.2H266.1ZM250.8 359.9H258.8V367.7H250.8ZM273.8 359.9H289.4V367.7H273.8ZM250.8 367.4H266.4V375.3H250.8ZM273.8 367.4H281.7V375.3H273.8ZM250.8 375H258.8V382.8H250.8ZM235.5 382.5H266.4V390.3H235.5ZM227.9 390H258.8V397.8H227.9ZM235.5 397.5H258.8V405.3H235.5ZM235.5 405H243.5V412.9H235.5ZM250.8 405H258.8V412.9H250.8ZM174.3 412.6H189.9V420.4H174.3ZM212.6 412.6H235.8V420.4H212.6ZM197.2 420.1H220.5V427.9H197.2Z"/><path fill="#0000df" d="M235.5 0H243.5V8.1H235.5ZM235.5 7.8H251.1V15.9H235.5ZM266.1 7.8H274.1V15.9H266.1ZM235.5 15.6H258.8V23.6H235.5ZM227.9 23.3H235.8V31.4H227.9ZM250.8 23.3H258.8V31.4H250.8ZM243.2 31.1H251.1V39.1H243.2ZM258.5 38.8H281.7V46.9H258.5ZM258.5 46.6H266.4V54.6H258.5ZM273.8 46.6H297V54.6H273.8ZM273.8 54.3H281.7V62.4H273.8ZM258.5 62.1H266.4V70.1H258.5ZM273.8 62.1H297V70.1H273.8ZM273.8 69.8H297V77.8H273.8ZM289.1 77.5H304.7V85.6H289.1ZM289.1 85.3H304.7V93.3H289.1ZM296.7 93H304.7V101H296.7ZM296.7 100.7H304.7V108.7H296.7ZM289.1 108.4H312.3V116.4H289.1ZM312 116.1H320V124.1H312ZM296.7 123.8H312.3V131.8H296.7ZM327.3 123.8H335.2V131.8H327.3ZM304.4 131.5H327.6V139.5H304.4ZM296.7 139.2H312.3V147.2H296.7ZM312 146.9H327.6V154.8H312ZM312 154.5H327.6V162.5H312ZM334.9 154.5H342.9V162.5H334.9ZM319.7 162.2H335.2V170.2H319.7ZM319.7 177.5H335.2V185.5H319.7ZM312 185.2H320V193.2H312ZM327.3 185.2H342.9V193.2H327.3ZM304.4 192.9H312.3V200.8H304.4ZM312 200.5H320V208.4H312ZM327.3 200.5H335.2V208.4H327.3ZM319.7 208.1H335.2V216.1H319.7ZM312 215.8H320V223.7H312ZM296.7 223.4H320V231.3H296.7ZM319.7 231H335.2V239H319.7ZM342.6 231H349.3V239H342.6ZM312 238.7H327.6V246.6H312ZM304.4 246.3H327.6V254.2H304.4ZM304.4 253.9H312.3V261.8H304.4ZM281.4 261.5H297V269.4H281.4ZM304.4 261.5H312.3V269.4H304.4ZM334.9 261.5H342.9V269.4H334.9ZM273.8 269.1H289.4V277H273.8ZM296.7 269.1H304.7V277H296.7ZM266.1 276.7H289.4V284.6H266.1ZM266.1 284.3H281.7V292.2H266.1ZM266.1 291.9H274.1V299.7H266.1ZM289.1 291.9H297V299.7H289.1ZM250.8 299.4H258.8V307.3H250.8ZM273.8 299.4H281.7V307.3H273.8ZM296.7 299.4H304.7V307.3H296.7ZM273.8 307H289.4V314.9H273.8ZM281.4 314.6H289.4V322.4H281.4ZM266.1 322.1H281.7V330H266.1ZM266.1 329.7H281.7V337.6H266.1ZM243.2 337.3H258.8V345.1H243.2ZM281.4 337.3H289.4V345.1H281.4ZM243.2 359.9H251.1V367.7H243.2ZM258.5 359.9H266.4V367.7H258.5ZM243.2 367.4H251.1V375.3H243.2ZM235.5 375H243.5V382.8H235.5ZM212.6 382.5H235.8V390.3H212.6ZM212.6 390H228.2V397.8H212.6ZM212.6 397.5H228.2V405.3H212.6ZM204.9 405H220.5V412.9H204.9ZM6 412.6H21.6V420.4H6ZM36.6 412.6H44.5V420.4H36.6ZM51.9 412.6H59.9V420.4H51.9ZM136.1 412.6H144V420.4H136.1ZM189.6 412.6H197.6V420.4H189.6ZM204.9 412.6H212.9V420.4H204.9ZM6 420.1H14V427.9H6ZM21.3 420.1H29.3V427.9H21.3ZM36.6 420.1H44.5V427.9H36.6ZM67.2 420.1H75.2V427.9H67.2ZM166.7 420.1H174.6V427.9H166.7ZM182 420.1H189.9V427.9H182ZM220.2 420.1H228.2V427.9H220.2Z"/><path fill="#0000bf" d="M243.2 0H251.1V8.1H243.2ZM266.1 0H274.1V8.1H266.1ZM281.4 0H289.4V8.1H281.4ZM273.8 7.8H281.7V15.9H273.8ZM289.1 7.8H297V15.9H289.1ZM281.4 15.6H289.4V23.6H281.4ZM296.7 15.6H312.3V23.6H296.7ZM273.8 23.3H281.7V31.4H273.8ZM289.1 23.3H304.7V31.4H289.1ZM304.4 31.1H312.3V39.1H304.4ZM296.7 38.8H320V46.9H296.7ZM296.7 46.6H320V54.6H296.7ZM312 54.3H327.6V62.4H312ZM327.3 62.1H342.9V70.1H327.3ZM312 69.8H335.2V77.8H312ZM304.4 77.5H312.3V85.6H304.4ZM334.9 77.5H349.3V85.6H334.9ZM319.7 85.3H327.6V93.3H319.7ZM334.9 85.3H349.3V93.3H334.9ZM327.3 93H342.9V101H327.3ZM304.4 100.7H312.3V108.7H304.4ZM334.9 100.7H349.3V108.7H334.9ZM327.3 108.4H335.2V116.4H327.3ZM342.6 108.4H349.3V116.4H342.6ZM342.6 116.1H349.3V124.1H342.6ZM334.9 123.8H349.3V131.8H334.9ZM350.2 131.5H349.3V139.5H350.2ZM334.9 139.2H342.9V147.2H334.9ZM350.2 139.2H349.3V147.2H350.2ZM334.9 146.9H349.3V154.8H334.9ZM327.3 154.5H335.2V162.5H327.3ZM342.6 154.5H349.3V162.5H342.6ZM334.9 162.2H349.3V170.2H334.9ZM342.6 169.9H349.3V177.8H342.6ZM342.6 177.5H349.3V185.5H342.6ZM342.6 185.2H349.3V193.2H342.6ZM342.6 192.9H349.3V200.8H342.6ZM342.6 200.5H349.3V208.4H342.6ZM342.6 208.1H349.3V216.1H342.6ZM342.6 215.8H349.3V223.7H342.6ZM342.6 223.4H349.3V231.3H342.6ZM350.2 231H349.3V239H350.2ZM334.9 238.7H342.9V246.6H334.9ZM350.2 238.7H349.3V246.6H350.2ZM334.9 246.3H349.3V254.2H334.9ZM342.6 253.9H349.3V261.8H342.6ZM312 261.5H320V269.4H312ZM350.2 261.5H349.3V269.4H350.2ZM334.9 269.1H349.3V277H334.9ZM312 276.7H349.3V284.6H312ZM319.7 284.3H335.2V292.2H319.7ZM342.6 284.3H349.3V292.2H342.6ZM304.4 291.9H312.3V299.7H304.4ZM319.7 291.9H342.9V299.7H319.7ZM304.4 299.4H349.3V307.3H304.4ZM296.7 307H312.3V314.9H296.7ZM319.7 307H327.6V314.9H319.7ZM296.7 314.6H320V322.4H296.7ZM289.1 322.1H297V330H289.1ZM304.4 322.1H320V330H304.4ZM281.4 329.7H289.4V337.6H281.4ZM304.4 329.7H327.6V337.6H304.4ZM273.8 337.3H281.7V345.1H273.8ZM296.7 337.3H304.7V345.1H296.7ZM273.8 344.8H289.4V352.7H273.8ZM273.8 352.4H304.7V360.2H273.8ZM266.1 367.4H274.1V375.3H266.1ZM281.4 367.4H297V375.3H281.4ZM258.5 375H289.4V382.8H258.5ZM266.1 382.5H297V390.3H266.1ZM258.5 390H274.1V397.8H258.5ZM227.9 397.5H235.8V405.3H227.9ZM258.5 397.5H281.7V405.3H258.5ZM220.2 405H235.8V412.9H220.2ZM243.2 405H251.1V412.9H243.2ZM258.5 405H266.4V412.9H258.5ZM235.5 412.6H243.5V420.4H235.5ZM250.8 412.6H258.8V420.4H250.8ZM235.5 420.1H243.5V427.9H235.5Z"/><path fill="#0000af" d="M289.1 0H335.2V8.1H289.1ZM281.4 7.8H289.4V15.9H281.4ZM296.7 7.8H342.9V15.9H296.7ZM289.1 15.6H297V23.6H289.1ZM312 15.6H342.9V23.6H312ZM350.2 15.6H349.3V23.6H350.2ZM304.4 23.3H349.3V31.4H304.4ZM296.7 31.1H304.7V39.1H296.7ZM312 31.1H349.3V39.1H312ZM319.7 38.8H342.9V46.9H319.7ZM350.2 38.8H349.3V46.9H350.2ZM319.7 46.6H349.3V54.6H319.7ZM327.3 54.3H349.3V62.4H327.3ZM319.7 62.1H327.6V70.1H319.7ZM342.6 62.1H349.3V70.1H342.6ZM334.9 69.8H349.3V77.8H334.9ZM327.3 77.5H335.2V85.6H327.3ZM350.2 77.5H349.3V85.6H350.2ZM350.2 85.3H349.3V93.3H350.2ZM342.6 93H349.3V101H342.6ZM350.2 123.8H349.3V131.8H350.2ZM350.2 208.1H349.3V216.1H350.2ZM350.2 276.7H349.3V284.6H350.2ZM334.9 284.3H342.9V292.2H334.9ZM342.6 291.9H349.3V299.7H342.6ZM350.2 299.4H349.3V307.3H350.2ZM312 307H320V314.9H312ZM327.3 307H349.3V314.9H327.3ZM319.7 314.6H349.3V322.4H319.7ZM319.7 322.1H349.3V330H319.7ZM296.7 329.7H304.7V337.6H296.7ZM327.3 329.7H342.9V337.6H327.3ZM304.4 337.3H342.9V345.1H304.4ZM296.7 344.8H342.9V352.7H296.7ZM304.4 352.4H342.9V360.2H304.4ZM266.1 359.9H274.1V367.7H266.1ZM289.1 359.9H320V367.7H289.1ZM296.7 367.4H320V375.3H296.7ZM289.1 375H312.3V382.8H289.1ZM319.7 375H327.6V382.8H319.7ZM296.7 382.5H312.3V390.3H296.7ZM319.7 382.5H327.6V390.3H319.7ZM273.8 390H304.7V397.8H273.8ZM281.4 397.5H304.7V405.3H281.4ZM266.1 405H304.7V412.9H266.1ZM243.2 412.6H251.1V420.4H243.2ZM258.5 412.6H274.1V420.4H258.5ZM289.1 412.6H297V420.4H289.1ZM312 412.6H320V420.4H312ZM227.9 420.1H235.8V427.9H227.9ZM243.2 420.1H274.1V427.9H243.2ZM289.1 420.1H304.7V427.9H289.1Z"/><path fill="#00009f" d="M334.9 0H349.3V8.1H334.9ZM342.6 7.8H349.3V15.9H342.6ZM342.6 15.6H349.3V23.6H342.6ZM350.2 23.3H349.3V31.4H350.2ZM342.6 38.8H349.3V46.9H342.6ZM350.2 46.6H349.3V54.6H350.2ZM350.2 54.3H349.3V62.4H350.2ZM342.6 329.7H349.3V337.6H342.6ZM342.6 337.3H349.3V345.1H342.6ZM342.6 344.8H349.3V352.7H342.6ZM342.6 352.4H349.3V360.2H342.6ZM319.7 359.9H349.3V367.7H319.7ZM319.7 367.4H349.3V375.3H319.7ZM312 375H320V382.8H312ZM327.3 375H349.3V382.8H327.3ZM312 382.5H320V390.3H312ZM327.3 382.5H349.3V390.3H327.3ZM304.4 390H349.3V397.8H304.4ZM304.4 397.5H349.3V405.3H304.4ZM304.4 405H349.3V412.9H304.4ZM273.8 412.6H289.4V420.4H273.8ZM296.7 412.6H312.3V420.4H296.7ZM319.7 412.6H349.3V420.4H319.7ZM273.8 420.1H289.4V427.9H273.8ZM304.4 420.1H349.3V427.9H304.4Z"/><path fill="#9fff60" d="M74.9 7.8H82.8V15.9H74.9ZM120.8 123.8H128.7V131.8H120.8ZM143.7 123.8H151.7V131.8H143.7ZM166.7 154.5H174.6V162.5H166.7ZM113.1 162.2H121V170.2H113.1ZM197.2 169.9H205.2V177.8H197.2ZM128.4 223.4H136.4V231.3H128.4ZM51.9 284.3H59.9V292.2H51.9ZM136.1 284.3H144V292.2H136.1ZM67.2 299.4H75.2V307.3H67.2Z"/><path fill="#ffff00" d="M82.5 7.8H90.5V15.9H82.5ZM74.9 15.6H82.8V23.6H74.9ZM136.1 238.7H144V246.6H136.1ZM105.5 276.7H113.4V284.6H105.5Z"/><path fill="#00dfff" d="M90.2 7.8H98.1V15.9H90.2ZM105.5 23.3H113.4V31.4H105.5ZM136.1 46.6H144V54.6H136.1ZM113.1 54.3H121V62.4H113.1ZM120.8 69.8H128.7V77.8H120.8ZM151.3 69.8H167V77.8H151.3ZM128.4 77.5H136.4V85.6H128.4ZM151.3 93H167V101H151.3ZM174.3 116.1H182.3V124.1H174.3ZM166.7 123.8H182.3V131.8H166.7ZM189.6 123.8H197.6V131.8H189.6ZM204.9 123.8H212.9V131.8H204.9ZM189.6 139.2H197.6V147.2H189.6ZM220.2 146.9H228.2V154.8H220.2ZM120.8 169.9H128.7V177.8H120.8ZM120.8 185.2H128.7V193.2H120.8ZM212.6 185.2H220.5V193.2H212.6ZM128.4 192.9H144V200.8H128.4ZM189.6 192.9H197.6V200.8H189.6ZM212.6 192.9H220.5V200.8H212.6ZM151.3 269.1H159.3V277H151.3ZM97.8 276.7H105.8V284.6H97.8ZM159 291.9H167V299.7H159ZM36.6 299.4H44.5V307.3H36.6ZM113.1 307H121V314.9H113.1ZM97.8 314.6H105.8V322.4H97.8ZM136.1 314.6H144V322.4H136.1ZM105.5 322.1H113.4V330H105.5ZM113.1 329.7H121V337.6H113.1ZM29 337.3H36.9V345.1H29ZM6 344.8H21.6V352.7H6Z"/><path fill="#30ffcf" d="M97.8 7.8H105.8V15.9H97.8ZM105.5 31.1H113.4V39.1H105.5ZM105.5 77.5H113.4V85.6H105.5ZM113.1 93H121V101H113.1ZM90.2 100.7H105.8V108.7H90.2ZM113.1 108.4H121V116.4H113.1ZM143.7 116.1H174.6V124.1H143.7ZM182 139.2H189.9V147.2H182ZM204.9 154.5H212.9V162.5H204.9ZM182 177.5H189.9V185.5H182ZM120.8 215.8H128.7V223.7H120.8ZM151.3 238.7H159.3V246.6H151.3ZM151.3 261.5H159.3V269.4H151.3ZM159 269.1H167V277H159ZM128.4 299.4H136.4V307.3H128.4ZM143.7 299.4H151.7V307.3H143.7ZM51.9 307H59.9V314.9H51.9ZM13.7 322.1H21.6V330H13.7Z"/><path fill="#00afff" d="M105.5 7.8H113.4V15.9H105.5ZM120.8 15.6H128.7V23.6H120.8ZM113.1 23.3H121V31.4H113.1ZM128.4 23.3H136.4V31.4H128.4ZM128.4 54.3H136.4V62.4H128.4ZM151.3 54.3H167V62.4H151.3ZM151.3 62.1H159.3V70.1H151.3ZM143.7 69.8H151.7V77.8H143.7ZM136.1 77.5H144V85.6H136.1ZM128.4 85.3H136.4V93.3H128.4ZM151.3 85.3H159.3V93.3H151.3ZM189.6 85.3H197.6V93.3H189.6ZM204.9 108.4H212.9V116.4H204.9ZM204.9 116.1H212.9V124.1H204.9ZM212.6 131.5H220.5V139.5H212.6ZM220.2 139.2H228.2V147.2H220.2ZM204.9 162.2H220.5V170.2H204.9ZM220.2 177.5H228.2V185.5H220.2ZM220.2 192.9H228.2V200.8H220.2ZM204.9 200.5H212.9V208.4H204.9ZM159 208.1H167V216.1H159ZM212.6 208.1H220.5V216.1H212.6ZM189.6 215.8H197.6V223.7H189.6ZM174.3 231H182.3V239H174.3ZM166.7 238.7H174.6V246.6H166.7ZM182 238.7H189.9V246.6H182ZM159 253.9H167V261.8H159ZM182 253.9H189.9V261.8H182ZM166.7 261.5H174.6V269.4H166.7ZM166.7 284.3H174.6V292.2H166.7ZM151.3 291.9H159.3V299.7H151.3ZM159 299.4H167V307.3H159ZM143.7 307H159.3V314.9H143.7ZM120.8 314.6H136.4V322.4H120.8ZM159 314.6H167V322.4H159ZM120.8 322.1H128.7V330H120.8ZM51.9 329.7H59.9V337.6H51.9ZM143.7 329.7H151.7V337.6H143.7ZM36.6 337.3H44.5V345.1H36.6ZM166.7 337.3H174.6V345.1H166.7ZM21.3 352.4H29.3V360.2H21.3ZM82.5 352.4H90.5V360.2H82.5Z"/><path fill="#0060ff" d="M143.7 7.8H159.3V15.9H143.7ZM151.3 15.6H159.3V23.6H151.3ZM151.3 23.3H159.3V31.4H151.3ZM174.3 23.3H182.3V31.4H174.3ZM182 38.8H189.9V46.9H182ZM151.3 46.6H159.3V54.6H151.3ZM174.3 46.6H182.3V54.6H174.3ZM189.6 46.6H197.6V54.6H189.6ZM166.7 62.1H174.6V70.1H166.7ZM189.6 77.5H212.9V85.6H189.6ZM197.2 93H205.2V101H197.2ZM227.9 93H235.8V101H227.9ZM212.6 100.7H220.5V108.7H212.6ZM220.2 108.4H228.2V116.4H220.2ZM243.2 123.8H251.1V131.8H243.2ZM235.5 131.5H243.5V139.5H235.5ZM250.8 154.5H258.8V162.5H250.8ZM258.5 162.2H266.4V170.2H258.5ZM258.5 169.9H266.4V177.8H258.5ZM258.5 177.5H266.4V185.5H258.5ZM258.5 185.2H266.4V193.2H258.5ZM250.8 192.9H266.4V200.8H250.8ZM250.8 200.5H258.8V208.4H250.8ZM243.2 208.1H251.1V216.1H243.2ZM197.2 223.4H205.2V231.3H197.2ZM220.2 223.4H228.2V231.3H220.2ZM235.5 223.4H243.5V231.3H235.5ZM189.6 231H197.6V239H189.6ZM250.8 231H258.8V239H250.8ZM189.6 238.7H197.6V246.6H189.6ZM212.6 238.7H220.5V246.6H212.6ZM105.5 253.9H113.4V261.8H105.5ZM174.3 261.5H182.3V269.4H174.3ZM212.6 261.5H220.5V269.4H212.6ZM182 276.7H189.9V284.6H182ZM189.6 284.3H197.6V292.2H189.6ZM204.9 291.9H212.9V299.7H204.9ZM189.6 299.4H197.6V307.3H189.6ZM174.3 307H189.9V314.9H174.3ZM166.7 322.1H182.3V330H166.7ZM182 329.7H189.9V337.6H182ZM59.6 337.3H67.5V345.1H59.6ZM82.5 337.3H90.5V345.1H82.5ZM136.1 337.3H144V345.1H136.1ZM182 337.3H189.9V345.1H182ZM67.2 344.8H75.2V352.7H67.2ZM113.1 344.8H121V352.7H113.1ZM128.4 344.8H144V352.7H128.4ZM159 344.8H182.3V352.7H159ZM36.6 352.4H44.5V360.2H36.6ZM67.2 352.4H75.2V360.2H67.2ZM90.2 352.4H98.1V360.2H90.2ZM166.7 352.4H174.6V360.2H166.7ZM113.1 359.9H128.7V367.7H113.1ZM174.3 359.9H182.3V367.7H174.3ZM29 367.4H36.9V375.3H29ZM113.1 367.4H121V375.3H113.1ZM128.4 367.4H136.4V375.3H128.4ZM97.8 375H105.8V382.8H97.8Z"/><path fill="#0020ff" d="M197.2 7.8H205.2V15.9H197.2ZM212.6 7.8H220.5V15.9H212.6ZM174.3 15.6H182.3V23.6H174.3ZM197.2 15.6H205.2V23.6H197.2ZM197.2 31.1H205.2V39.1H197.2ZM212.6 31.1H220.5V39.1H212.6ZM204.9 38.8H212.9V46.9H204.9ZM220.2 38.8H228.2V46.9H220.2ZM220.2 46.6H228.2V54.6H220.2ZM197.2 54.3H205.2V62.4H197.2ZM212.6 54.3H220.5V62.4H212.6ZM227.9 54.3H235.8V62.4H227.9ZM220.2 62.1H235.8V70.1H220.2ZM243.2 62.1H251.1V70.1H243.2ZM212.6 69.8H220.5V77.8H212.6ZM258.5 77.5H266.4V85.6H258.5ZM243.2 93H251.1V101H243.2ZM266.1 100.7H274.1V108.7H266.1ZM266.1 116.1H274.1V124.1H266.1ZM258.5 123.8H266.4V131.8H258.5ZM266.1 139.2H281.7V147.2H266.1ZM273.8 146.9H289.4V154.8H273.8ZM281.4 154.5H289.4V162.5H281.4ZM296.7 169.9H304.7V177.8H296.7ZM281.4 177.5H289.4V185.5H281.4ZM273.8 185.2H281.7V193.2H273.8ZM273.8 192.9H281.7V200.8H273.8ZM296.7 200.5H304.7V208.4H296.7ZM266.1 208.1H274.1V216.1H266.1ZM281.4 208.1H289.4V216.1H281.4ZM281.4 215.8H289.4V223.7H281.4ZM258.5 223.4H266.4V231.3H258.5ZM281.4 223.4H289.4V231.3H281.4ZM273.8 231H281.7V239H273.8ZM227.9 238.7H235.8V246.6H227.9ZM266.1 238.7H274.1V246.6H266.1ZM250.8 246.3H258.8V254.2H250.8ZM227.9 261.5H235.8V269.4H227.9ZM235.5 269.1H243.5V277H235.5ZM220.2 276.7H235.8V284.6H220.2ZM204.9 299.4H220.5V307.3H204.9ZM227.9 299.4H243.5V307.3H227.9ZM227.9 307H235.8V314.9H227.9ZM212.6 314.6H220.5V322.4H212.6ZM212.6 322.1H220.5V330H212.6ZM220.2 329.7H228.2V337.6H220.2ZM197.2 337.3H205.2V345.1H197.2ZM212.6 337.3H228.2V345.1H212.6ZM204.9 344.8H212.9V352.7H204.9ZM212.6 352.4H220.5V360.2H212.6ZM166.7 359.9H174.6V367.7H166.7ZM189.6 359.9H212.9V367.7H189.6ZM44.2 367.4H59.9V375.3H44.2ZM174.3 367.4H182.3V375.3H174.3ZM189.6 367.4H197.6V375.3H189.6ZM21.3 375H29.3V382.8H21.3ZM36.6 375H44.5V382.8H36.6ZM51.9 375H59.9V382.8H51.9ZM67.2 375H75.2V382.8H67.2ZM151.3 375H159.3V382.8H151.3ZM13.7 382.5H36.9V390.3H13.7ZM59.6 382.5H67.5V390.3H59.6ZM74.9 382.5H82.8V390.3H74.9ZM120.8 382.5H128.7V390.3H120.8ZM136.1 382.5H144V390.3H136.1ZM67.2 390H75.2V397.8H67.2ZM105.5 390H113.4V397.8H105.5ZM136.1 390H144V397.8H136.1ZM159 390H167V397.8H159ZM136.1 397.5H144V405.3H136.1ZM151.3 397.5H159.3V405.3H151.3ZM166.7 397.5H174.6V405.3H166.7ZM74.9 405H82.8V412.9H74.9ZM128.4 405H136.4V412.9H128.4ZM97.8 412.6H105.8V420.4H97.8Z"/><path fill="#0000ff" d="M204.9 7.8H212.9V15.9H204.9ZM220.2 7.8H228.2V15.9H220.2ZM212.6 15.6H220.5V23.6H212.6ZM243.2 38.8H251.1V46.9H243.2ZM243.2 46.6H251.1V54.6H243.2ZM243.2 54.3H251.1V62.4H243.2ZM258.5 54.3H266.4V62.4H258.5ZM243.2 69.8H258.8V77.8H243.2ZM266.1 69.8H274.1V77.8H266.1ZM250.8 77.5H258.8V85.6H250.8ZM266.1 77.5H274.1V85.6H266.1ZM266.1 93H274.1V101H266.1ZM281.4 108.4H289.4V116.4H281.4ZM281.4 116.1H289.4V124.1H281.4ZM289.1 139.2H297V147.2H289.1ZM289.1 146.9H297V154.8H289.1ZM304.4 146.9H312.3V154.8H304.4ZM289.1 154.5H297V162.5H289.1ZM296.7 162.2H304.7V170.2H296.7ZM312 162.2H320V170.2H312ZM289.1 169.9H297V177.8H289.1ZM304.4 169.9H312.3V177.8H304.4ZM289.1 177.5H304.7V185.5H289.1ZM319.7 185.2H327.6V193.2H319.7ZM289.1 192.9H297V200.8H289.1ZM289.1 200.5H297V208.4H289.1ZM289.1 208.1H297V216.1H289.1ZM289.1 215.8H297V223.7H289.1ZM289.1 223.4H297V231.3H289.1ZM281.4 231H289.4V239H281.4ZM227.9 246.3H235.8V254.2H227.9ZM258.5 253.9H281.7V261.8H258.5ZM235.5 261.5H243.5V269.4H235.5ZM250.8 261.5H258.8V269.4H250.8ZM266.1 261.5H274.1V269.4H266.1ZM258.5 269.1H266.4V277H258.5ZM235.5 276.7H243.5V284.6H235.5ZM220.2 291.9H228.2V299.7H220.2ZM235.5 291.9H243.5V299.7H235.5ZM197.2 329.7H205.2V337.6H197.2ZM212.6 329.7H220.5V337.6H212.6ZM227.9 337.3H243.5V345.1H227.9ZM220.2 344.8H228.2V352.7H220.2ZM189.6 352.4H197.6V360.2H189.6ZM235.5 352.4H251.1V360.2H235.5ZM159 375H167V382.8H159ZM6 382.5H14V390.3H6ZM204.9 382.5H212.9V390.3H204.9ZM13.7 390H21.6V397.8H13.7ZM120.8 390H128.7V397.8H120.8ZM151.3 390H159.3V397.8H151.3ZM166.7 390H174.6V397.8H166.7ZM204.9 390H212.9V397.8H204.9ZM29 397.5H52.2V405.3H29ZM59.6 397.5H67.5V405.3H59.6ZM159 397.5H167V405.3H159ZM182 397.5H189.9V405.3H182ZM197.2 397.5H205.2V405.3H197.2ZM21.3 405H29.3V412.9H21.3ZM44.2 405H52.2V412.9H44.2ZM120.8 405H128.7V412.9H120.8ZM136.1 405H144V412.9H136.1ZM151.3 405H159.3V412.9H151.3ZM166.7 405H174.6V412.9H166.7ZM82.5 412.6H90.5V420.4H82.5ZM105.5 412.6H113.4V420.4H105.5ZM120.8 412.6H136.4V420.4H120.8ZM143.7 412.6H151.7V420.4H143.7ZM51.9 420.1H59.9V427.9H51.9ZM74.9 420.1H98.1V427.9H74.9ZM143.7 420.1H151.7V427.9H143.7Z"/><path fill="#80ff80" d="M82.5 15.6H90.5V23.6H82.5ZM105.5 116.1H113.4V124.1H105.5ZM166.7 139.2H182.3V147.2H166.7ZM166.7 146.9H174.6V154.8H166.7ZM174.3 154.5H182.3V162.5H174.3ZM113.1 276.7H121V284.6H113.1ZM36.6 322.1H44.5V330H36.6Z"/><path fill="#40ffbf" d="M90.2 15.6H105.8V23.6H90.2ZM97.8 31.1H105.8V39.1H97.8ZM97.8 69.8H105.8V77.8H97.8ZM113.1 77.5H121V85.6H113.1ZM120.8 100.7H128.7V108.7H120.8ZM151.3 108.4H159.3V116.4H151.3ZM159 131.5H174.6V139.5H159ZM174.3 162.2H182.3V170.2H174.3ZM189.6 162.2H197.6V170.2H189.6ZM174.3 169.9H182.3V177.8H174.3ZM128.4 215.8H136.4V223.7H128.4ZM143.7 276.7H151.7V284.6H143.7ZM113.1 284.3H121V292.2H113.1ZM143.7 284.3H151.7V292.2H143.7ZM97.8 291.9H105.8V299.7H97.8ZM44.2 299.4H52.2V307.3H44.2ZM113.1 299.4H121V307.3H113.1ZM136.1 299.4H144V307.3H136.1ZM29 307H36.9V314.9H29Z"/><path fill="#00cfff" d="M105.5 15.6H113.4V23.6H105.5ZM113.1 31.1H121V39.1H113.1ZM120.8 38.8H128.7V46.9H120.8ZM143.7 38.8H151.7V46.9H143.7ZM136.1 54.3H151.7V62.4H136.1ZM90.2 85.3H98.1V93.3H90.2ZM113.1 85.3H121V93.3H113.1ZM143.7 85.3H151.7V93.3H143.7ZM159 85.3H167V93.3H159ZM136.1 93H144V101H136.1ZM166.7 100.7H174.6V108.7H166.7ZM166.7 108.4H182.3V116.4H166.7ZM182 116.1H197.6V124.1H182ZM189.6 131.5H197.6V139.5H189.6ZM204.9 146.9H212.9V154.8H204.9ZM220.2 162.2H228.2V170.2H220.2ZM235.5 162.2H243.5V170.2H235.5ZM204.9 169.9H212.9V177.8H204.9ZM120.8 192.9H128.7V200.8H120.8ZM227.9 192.9H235.8V200.8H227.9ZM197.2 200.5H205.2V208.4H197.2ZM212.6 200.5H220.5V208.4H212.6ZM189.6 208.1H197.6V216.1H189.6ZM159 238.7H167V246.6H159ZM166.7 246.3H174.6V254.2H166.7ZM166.7 253.9H174.6V261.8H166.7ZM166.7 269.1H174.6V277H166.7ZM159 276.7H167V284.6H159ZM82.5 307H90.5V314.9H82.5ZM120.8 307H128.7V314.9H120.8ZM67.2 314.6H75.2V322.4H67.2ZM82.5 314.6H98.1V322.4H82.5ZM97.8 322.1H105.8V330H97.8ZM143.7 322.1H151.7V330H143.7ZM6 329.7H14V337.6H6ZM120.8 329.7H128.7V337.6H120.8ZM97.8 337.3H105.8V345.1H97.8ZM29 344.8H36.9V352.7H29Z"/><path fill="#ff5000" d="M74.9 23.3H82.8V31.4H74.9ZM143.7 146.9H151.7V154.8H143.7ZM67.2 291.9H75.2V299.7H67.2ZM29 322.1H36.9V330H29ZM21.3 329.7H29.3V337.6H21.3Z"/><path fill="#ffcf00" d="M82.5 23.3H90.5V31.4H82.5ZM90.2 46.6H98.1V54.6H90.2ZM151.3 154.5H159.3V162.5H151.3ZM143.7 169.9H151.7V177.8H143.7ZM128.4 231H136.4V239H128.4ZM29 329.7H36.9V337.6H29Z"/><path fill="#bfff40" d="M90.2 23.3H98.1V31.4H90.2ZM90.2 62.1H98.1V70.1H90.2ZM143.7 131.5H151.7V139.5H143.7ZM159 154.5H167V162.5H159ZM151.3 162.2H159.3V170.2H151.3ZM166.7 162.2H174.6V170.2H166.7ZM151.3 177.5H159.3V185.5H151.3ZM136.1 223.4H144V231.3H136.1ZM136.1 269.1H144V277H136.1ZM51.9 291.9H59.9V299.7H51.9ZM105.5 291.9H113.4V299.7H105.5ZM36.6 314.6H44.5V322.4H36.6Z"/><path fill="#00bfff" d="M120.8 23.3H128.7V31.4H120.8ZM120.8 31.1H128.7V39.1H120.8ZM128.4 38.8H136.4V46.9H128.4ZM136.1 62.1H144V70.1H136.1ZM128.4 69.8H144V77.8H128.4ZM166.7 69.8H174.6V77.8H166.7ZM143.7 77.5H151.7V85.6H143.7ZM166.7 77.5H174.6V85.6H166.7ZM105.5 93H113.4V101H105.5ZM166.7 93H189.9V101H166.7ZM159 100.7H167V108.7H159ZM189.6 108.4H197.6V116.4H189.6ZM212.6 116.1H220.5V124.1H212.6ZM182 123.8H189.9V131.8H182ZM197.2 139.2H205.2V147.2H197.2ZM227.9 146.9H235.8V154.8H227.9ZM235.5 169.9H243.5V177.8H235.5ZM120.8 177.5H128.7V185.5H120.8ZM197.2 177.5H205.2V185.5H197.2ZM212.6 177.5H220.5V185.5H212.6ZM159 192.9H167V200.8H159ZM136.1 200.5H151.7V208.4H136.1ZM182 200.5H189.9V208.4H182ZM166.7 208.1H174.6V216.1H166.7ZM151.3 215.8H159.3V223.7H151.3ZM197.2 215.8H205.2V223.7H197.2ZM212.6 215.8H220.5V223.7H212.6ZM74.9 269.1H82.8V277H74.9ZM151.3 276.7H159.3V284.6H151.3ZM166.7 276.7H182.3V284.6H166.7ZM151.3 284.3H159.3V292.2H151.3ZM136.1 291.9H144V299.7H136.1ZM82.5 299.4H90.5V307.3H82.5ZM120.8 299.4H128.7V307.3H120.8ZM105.5 307H113.4V314.9H105.5ZM113.1 322.1H121V330H113.1ZM128.4 322.1H136.4V330H128.4ZM59.6 329.7H67.5V337.6H59.6Z"/><path fill="#0070ff" d="M136.1 23.3H144V31.4H136.1ZM166.7 23.3H174.6V31.4H166.7ZM151.3 31.1H159.3V39.1H151.3ZM151.3 38.8H159.3V46.9H151.3ZM166.7 38.8H174.6V46.9H166.7ZM166.7 54.3H182.3V62.4H166.7ZM143.7 62.1H151.7V70.1H143.7ZM182 62.1H197.6V70.1H182ZM182 69.8H189.9V77.8H182ZM174.3 85.3H189.9V93.3H174.3ZM197.2 85.3H205.2V93.3H197.2ZM212.6 93H220.5V101H212.6ZM220.2 100.7H228.2V108.7H220.2ZM212.6 108.4H220.5V116.4H212.6ZM227.9 108.4H235.8V116.4H227.9ZM235.5 123.8H243.5V131.8H235.5ZM250.8 123.8H258.8V131.8H250.8ZM235.5 146.9H243.5V154.8H235.5ZM243.2 162.2H258.8V170.2H243.2ZM243.2 177.5H251.1V185.5H243.2ZM220.2 200.5H235.8V208.4H220.2ZM174.3 208.1H182.3V216.1H174.3ZM250.8 208.1H258.8V216.1H250.8ZM227.9 215.8H235.8V223.7H227.9ZM243.2 223.4H251.1V231.3H243.2ZM197.2 231H205.2V239H197.2ZM220.2 231H228.2V239H220.2ZM235.5 231H243.5V239H235.5ZM197.2 238.7H205.2V246.6H197.2ZM174.3 246.3H182.3V254.2H174.3ZM189.6 246.3H197.6V254.2H189.6ZM204.9 246.3H212.9V254.2H204.9ZM90.2 261.5H98.1V269.4H90.2ZM189.6 269.1H197.6V277H189.6ZM182 284.3H189.9V292.2H182ZM189.6 291.9H205.2V299.7H189.6ZM151.3 299.4H159.3V307.3H151.3ZM197.2 299.4H205.2V307.3H197.2ZM136.1 322.1H144V330H136.1ZM151.3 322.1H159.3V330H151.3ZM74.9 337.3H82.8V345.1H74.9ZM151.3 337.3H159.3V345.1H151.3ZM44.2 344.8H59.9V352.7H44.2ZM128.4 352.4H144V360.2H128.4ZM44.2 359.9H52.2V367.7H44.2ZM82.5 359.9H90.5V367.7H82.5ZM128.4 359.9H136.4V367.7H128.4ZM21.3 367.4H29.3V375.3H21.3ZM74.9 367.4H82.8V375.3H74.9ZM120.8 367.4H128.7V375.3H120.8ZM113.1 382.5H121V390.3H113.1Z"/><path fill="#dfff20" d="M74.9 31.1H82.8V39.1H74.9ZM82.5 62.1H90.5V70.1H82.5ZM113.1 123.8H121V131.8H113.1Z"/><path fill="#ffef00" d="M82.5 31.1H90.5V39.1H82.5ZM128.4 131.5H136.4V139.5H128.4ZM136.1 261.5H144V269.4H136.1ZM120.8 269.1H128.7V277H120.8ZM82.5 284.3H90.5V292.2H82.5Z"/><path fill="#70ff8f" d="M90.2 31.1H98.1V39.1H90.2ZM105.5 62.1H113.4V70.1H105.5ZM113.1 116.1H121V124.1H113.1ZM136.1 116.1H144V124.1H136.1ZM128.4 123.8H136.4V131.8H128.4ZM151.3 146.9H159.3V154.8H151.3ZM189.6 154.5H197.6V162.5H189.6ZM182 162.2H189.9V170.2H182ZM136.1 177.5H144V185.5H136.1ZM143.7 231H151.7V239H143.7ZM128.4 291.9H136.4V299.7H128.4ZM90.2 299.4H98.1V307.3H90.2Z"/><path fill="#ffbf00" d="M74.9 38.8H98.1V46.9H74.9ZM74.9 46.6H82.8V54.6H74.9ZM82.5 54.3H90.5V62.4H82.5ZM151.3 139.2H159.3V147.2H151.3ZM143.7 154.5H151.7V162.5H143.7ZM59.6 291.9H67.5V299.7H59.6ZM29 314.6H36.9V322.4H29ZM21.3 322.1H29.3V330H21.3Z"/><path fill="#ef0000" d="M82.5 46.6H90.5V54.6H82.5ZM120.8 131.5H128.7V139.5H120.8ZM128.4 139.2H136.4V147.2H128.4ZM128.4 162.2H136.4V170.2H128.4ZM136.1 246.3H144V254.2H136.1ZM136.1 253.9H144V261.8H136.1ZM74.9 276.7H82.8V284.6H74.9Z"/><path fill="#ffdf00" d="M97.8 46.6H105.8V54.6H97.8ZM151.3 169.9H159.3V177.8H151.3Z"/><path fill="#00efff" d="M113.1 46.6H121V54.6H113.1ZM128.4 46.6H136.4V54.6H128.4ZM120.8 54.3H128.7V62.4H120.8ZM120.8 85.3H128.7V93.3H120.8ZM90.2 93H98.1V101H90.2ZM120.8 93H128.7V101H120.8ZM143.7 93H151.7V101H143.7ZM143.7 108.4H151.7V116.4H143.7ZM197.2 123.8H205.2V131.8H197.2ZM189.6 146.9H197.6V154.8H189.6ZM197.2 162.2H205.2V170.2H197.2ZM212.6 169.9H220.5V177.8H212.6ZM143.7 185.2H151.7V193.2H143.7ZM159 185.2H167V193.2H159ZM143.7 192.9H159.3V200.8H143.7ZM204.9 192.9H212.9V200.8H204.9ZM128.4 200.5H136.4V208.4H128.4ZM159 200.5H182.3V208.4H159ZM143.7 208.1H159.3V216.1H143.7ZM151.3 223.4H159.3V231.3H151.3ZM159 246.3H167V254.2H159ZM159 284.3H167V292.2H159ZM143.7 291.9H151.7V299.7H143.7ZM128.4 307H136.4V314.9H128.4ZM74.9 314.6H82.8V322.4H74.9ZM44.2 329.7H52.2V337.6H44.2ZM105.5 329.7H113.4V337.6H105.5ZM6 337.3H14V345.1H6ZM21.3 337.3H29.3V345.1H21.3ZM13.7 352.4H21.6V360.2H13.7Z"/><path fill="#ff9f00" d="M90.2 54.3H98.1V62.4H90.2ZM136.1 139.2H144V147.2H136.1Z"/><path fill="#60ff9f" d="M90.2 69.8H98.1V77.8H90.2ZM97.8 108.4H105.8V116.4H97.8ZM128.4 108.4H136.4V116.4H128.4ZM120.8 116.1H128.7V124.1H120.8ZM151.3 123.8H159.3V131.8H151.3ZM159 139.2H167V147.2H159ZM197.2 154.5H205.2V162.5H197.2ZM212.6 154.5H220.5V162.5H212.6ZM159 169.9H167V177.8H159ZM166.7 177.5H174.6V185.5H166.7ZM151.3 185.2H159.3V193.2H151.3ZM182 185.2H189.9V193.2H182ZM204.9 185.2H212.9V193.2H204.9ZM143.7 246.3H151.7V254.2H143.7ZM143.7 261.5H151.7V269.4H143.7ZM82.5 291.9H90.5V299.7H82.5ZM120.8 291.9H128.7V299.7H120.8ZM51.9 299.4H59.9V307.3H51.9ZM51.9 322.1H59.9V330H51.9Z"/><path fill="#10ffef" d="M82.5 77.5H90.5V85.6H82.5ZM97.8 77.5H105.8V85.6H97.8ZM120.8 77.5H128.7V85.6H120.8ZM189.6 169.9H197.6V177.8H189.6ZM174.3 177.5H182.3V185.5H174.3ZM128.4 185.2H136.4V193.2H128.4ZM174.3 192.9H182.3V200.8H174.3ZM197.2 192.9H205.2V200.8H197.2ZM136.1 208.1H144V216.1H136.1ZM143.7 215.8H151.7V223.7H143.7ZM151.3 253.9H159.3V261.8H151.3ZM59.6 276.7H67.5V284.6H59.6ZM105.5 299.4H113.4V307.3H105.5ZM36.6 307H44.5V314.9H36.6ZM59.6 307H67.5V314.9H59.6Z"/><path fill="#afff50" d="M128.4 100.7H136.4V108.7H128.4ZM120.8 108.4H128.7V116.4H120.8ZM128.4 116.1H136.4V124.1H128.4ZM136.1 123.8H144V131.8H136.1ZM159 146.9H167V154.8H159ZM128.4 276.7H144V284.6H128.4ZM97.8 284.3H105.8V292.2H97.8ZM74.9 291.9H82.8V299.7H74.9ZM74.9 299.4H82.8V307.3H74.9ZM97.8 299.4H105.8V307.3H97.8ZM44.2 322.1H52.2V330H44.2ZM13.7 337.3H21.6V345.1H13.7Z"/><path fill="#cfff30" d="M105.5 123.8H113.4V131.8H105.5ZM128.4 169.9H136.4V177.8H128.4ZM136.1 231H144V239H136.1ZM82.5 276.7H90.5V284.6H82.5ZM120.8 276.7H128.7V284.6H120.8ZM113.1 291.9H121V299.7H113.1Z"/><path fill="#ff8000" d="M113.1 131.5H121V139.5H113.1ZM113.1 253.9H121V261.8H113.1ZM67.2 276.7H75.2V284.6H67.2Z"/><path fill="#800000" d="M113.1 139.2H128.7V147.2H113.1ZM113.1 146.9H128.7V154.8H113.1ZM113.1 154.5H136.4V162.5H113.1ZM120.8 162.2H128.7V170.2H120.8ZM136.1 162.2H144V170.2H136.1ZM128.4 238.7H136.4V246.6H128.4ZM120.8 246.3H136.4V254.2H120.8ZM120.8 253.9H136.4V261.8H120.8ZM120.8 261.5H128.7V269.4H120.8Z"/><path fill="#efff10" d="M143.7 139.2H151.7V147.2H143.7ZM182 154.5H189.9V162.5H182ZM120.8 223.4H128.7V231.3H120.8ZM105.5 261.5H113.4V269.4H105.5ZM105.5 269.1H113.4V277H105.5ZM36.6 329.7H44.5V337.6H36.6Z"/><path fill="#ff2000" d="M128.4 146.9H136.4V154.8H128.4ZM120.8 238.7H128.7V246.6H120.8Z"/><path fill="#cf0000" d="M136.1 146.9H144V154.8H136.1ZM136.1 154.5H144V162.5H136.1Z"/><path fill="#ff7000" d="M143.7 162.2H151.7V170.2H143.7ZM113.1 269.1H121V277H113.1ZM105.5 284.3H113.4V292.2H105.5Z"/><path fill="#8f0000" d="M136.1 169.9H144V177.8H136.1Z"/><path fill="#ff8f00" d="M120.8 231H128.7V239H120.8ZM59.6 284.3H67.5V292.2H59.6ZM21.3 314.6H29.3V322.4H21.3Z"/><path fill="#df0000" d="M113.1 261.5H121V269.4H113.1Z"/><path fill="#ff3000" d="M128.4 261.5H136.4V269.4H128.4ZM128.4 269.1H136.4V277H128.4ZM74.9 284.3H82.8V292.2H74.9Z"/><path fill="#ff6000" d="M67.2 284.3H75.2V292.2H67.2Z"/></g><path d="M266.8 3.9 269.9 6.4 275.2 11.7 277.6 17 280.5 19.4 285.2 23.5 292.9 26.5 294.5 27.2 297.1 35 300.5 42.2 301.2 42.7 300.5 44.7 299.5 50.5 300.5 52.4 308.2 55.6 314.1 58.2 315.8 59.5 318.6 65.9 315.8 73.4 315.5 73.7 308.2 80.2 307.6 81.4 308.2 82.3 309.5 81.4 315.8 74 323.5 79.2 325.5 81.4 323.5 84.7 320.7 89.1 323.5 93.1 327.8 89.1 331.1 87 334.9 89.1 332.5 96.8 337.4 104.6 331.1 108.5 328.1 112.3 331.1 114.4 336.6 112.3 338.8 107.4 340.9 112.3 345.1 120 342.5 127.7 346.4 128.8 354.1 135.3 348.4 143 346.4 148.6 343.6 143 338.8 138.1 333.9 143 338.8 148.9 343.2 150.7 346.4 155.1 352.6 158.4 346.4 162.9 338.8 163.8 331.5 158.4 331.1 158.1 330.8 158.4 331.1 158.8 336.5 166.1 338.8 169.3 343.3 173.7 346.4 180 354.1 179M354.1 183.8 346.4 185.6 345.8 189 344.6 196.7 346.4 202.7 347.5 204.3 346.4 210.6 346.1 212 340.4 219.6 343.9 227.2 346.4 228.2 353.8 234.8 348.7 242.5 346.4 245.9 338.8 244.8 336.3 250.1 338.8 251.8 344.1 257.7 346.4 262.2 353.4 265.3 346.4 267.9 338.8 271.4 334.7 272.9 331.1 278.7 323.5 279.8 315.8 278.7 311.9 280.5 315.8 284.8 322.9 288.1 319.5 295.6 315.8 300.8 311.2 295.6 308.2 292 306.4 295.6 307.4 303.2 300.5 310.3 299.1 310.8 296.5 318.4 292.9 324.7 292.1 325.9 285.2 333 285 333.5 277.6 339.3 274.8 341 274.5 348.6 275.8 356.1 269.9 359.4 267.1 363.7 266.1 371.2 262.4 378.7 265.4 386.3 262.3 390 258.4 393.8 259.1 401.3 259.2 408.8 254.6 412.6 247 408.9 239.3 413.8 231.8 408.8 233.6 401.3 231.7 399.5 230.7 401.3 224 408.5 223.8 408.8 224 409.8 231.7 409 236.3 416.3 231.7 418.7 228.2 423.8M300.5 322.8 294.4 325.9 300.5 327.8 308.2 326.4 310.2 325.9 308.2 325.2 300.5 322.8M292.9 327.2 286.1 333.5 285.2 333.8 279.6 341 285.2 347.3 289.2 348.6 292.9 352.1 294.5 348.6 295.1 341 295.2 333.5 292.9 327.2M277.6 358.1 274.6 363.7 275.7 371.2 277.6 375.2 279.8 371.2 285.2 366.3 286.7 363.7 285.2 359.9 277.6 358.1M269.9 392.5 268.1 393.8 269.9 395.6 270.5 393.8 269.9 392.5" fill="none" stroke="#000" stroke-width="0.8" stroke-linejoin="round"/><text transform="translate(316.7 72.2) rotate(-30)" font-size="13.5" text-anchor="middle" dy="0.35em">3</text><text transform="translate(313 98.5) rotate(10)" font-size="13.5" text-anchor="middle" dy="0.35em">3</text><text transform="translate(338 107) rotate(-60)" font-size="13.5" text-anchor="middle" dy="0.35em">3</text><text transform="translate(319 126) rotate(-60)" font-size="13.5" text-anchor="middle" dy="0.35em">3</text><text transform="translate(308 144.7) rotate(60)" font-size="13.5" text-anchor="middle" dy="0.35em">3</text><text transform="translate(338 131) rotate(-60)" font-size="13.5" text-anchor="middle" dy="0.35em">3</text><text transform="translate(314.2 208.5) rotate(0)" font-size="13.5" text-anchor="middle" dy="0.35em">3</text><text transform="translate(95.5 409) rotate(0)" font-size="13.5" text-anchor="middle" dy="0.35em">3</text><text transform="translate(211.7 405.2) rotate(0)" font-size="13.5" text-anchor="middle" dy="0.35em">3</text><text transform="translate(241.7 405.2) rotate(0)" font-size="13.5" text-anchor="middle" dy="0.35em">3</text><text transform="translate(276.7 414) rotate(20)" font-size="13.5" text-anchor="middle" dy="0.35em">3</text><text transform="translate(329.2 396.5) rotate(30)" font-size="13.5" text-anchor="middle" dy="0.35em">3</text><text transform="translate(325.5 365.2) rotate(-70)" font-size="13.5" text-anchor="middle" dy="0.35em">3</text><text transform="translate(340.5 376.5) rotate(70)" font-size="13.5" text-anchor="middle" dy="0.35em">3</text><text transform="translate(211.7 422.7) rotate(0)" font-size="13.5" text-anchor="middle" dy="0.35em">3</text>
<use href="#land"/>
<use href="#sites"/>
</g>
<rect x="0" y="0" width="348" height="427.2" fill="none" stroke="#1a1a1a" stroke-width="1.1"/>
<use href="#ticks"/>
<rect x="4" y="20" width="112.6" height="25.5" fill="url(#jet)" stroke="#262626" stroke-width="1"/><text x="2.9" y="7.3" font-size="17.5" text-anchor="middle" fill="#333">0</text><text x="99.8" y="7.3" font-size="17.5" text-anchor="middle" fill="#333">50</text><text x="284.4" y="37.2" font-size="21.6">10 km</text><path d="M305.2 43.4H321.5" stroke="#000" stroke-width="3.4" stroke-linecap="round"/>
<text x="173" y="-12" font-size="20.9" font-weight="bold" text-anchor="middle">Number of Rads (3)</text>
</g>
<g transform="translate(1227.2 142.3)">
<text x="-7.5" y="434.7" font-size="20" text-anchor="end">34°N</text><text x="-7.5" y="293.9" font-size="20" text-anchor="end">35°N</text><text x="-7.5" y="151.4" font-size="20" text-anchor="end">36°N</text><text x="-7.5" y="7.1" font-size="20" text-anchor="end">37°N</text><text x="-7" y="363" font-size="15" text-anchor="end">30'</text><text x="-7" y="221.4" font-size="15" text-anchor="end">30'</text><text x="-7" y="78" font-size="15" text-anchor="end">30'</text><text x="-0.5" y="444.5" font-size="15" text-anchor="middle">30'</text><text x="60" y="448.2" font-size="20" text-anchor="middle">76°W</text><text x="115.5" y="444.5" font-size="15" text-anchor="middle">30'</text><text x="176" y="448.2" font-size="20" text-anchor="middle">75°W</text><text x="231.5" y="444.5" font-size="15" text-anchor="middle">30'</text><text x="292" y="448.2" font-size="20" text-anchor="middle">74°W</text><text x="347.5" y="444.5" font-size="15" text-anchor="middle">30'</text>
<g clip-path="url(#ax)">
<use href="#grid"/>
<g shape-rendering="crispEdges"><path fill="#ffcf00" d="M67.2 0H182.3V8.1H67.2ZM189.6 0H197.6V8.1H189.6ZM281.4 0H335.2V8.1H281.4ZM74.9 7.8H205.2V15.9H74.9ZM212.6 7.8H220.5V15.9H212.6ZM250.8 7.8H258.8V15.9H250.8ZM289.1 7.8H304.7V15.9H289.1ZM74.9 15.6H220.5V23.6H74.9ZM250.8 15.6H266.4V23.6H250.8ZM296.7 15.6H304.7V23.6H296.7ZM74.9 23.3H235.8V31.4H74.9ZM258.5 23.3H274.1V31.4H258.5ZM304.4 23.3H335.2V31.4H304.4ZM74.9 31.1H258.8V39.1H74.9ZM266.1 31.1H274.1V39.1H266.1ZM304.4 31.1H335.2V39.1H304.4ZM74.9 38.8H266.4V46.9H74.9ZM281.4 38.8H289.4V46.9H281.4ZM312 38.8H349.3V46.9H312ZM74.9 46.6H274.1V54.6H74.9ZM281.4 46.6H289.4V54.6H281.4ZM312 46.6H349.3V54.6H312ZM82.5 54.3H297V62.4H82.5ZM82.5 62.1H304.7V70.1H82.5ZM82.5 69.8H297V77.8H82.5ZM82.5 77.5H289.4V85.6H82.5ZM90.2 85.3H266.4V93.3H90.2ZM273.8 85.3H289.4V93.3H273.8ZM90.2 93H266.4V101H90.2ZM273.8 93H304.7V101H273.8ZM97.8 100.7H189.9V108.7H97.8ZM197.2 100.7H266.4V108.7H197.2ZM273.8 100.7H312.3V108.7H273.8ZM97.8 108.4H105.8V116.4H97.8ZM113.1 108.4H182.3V116.4H113.1ZM204.9 108.4H266.4V116.4H204.9ZM273.8 108.4H281.7V116.4H273.8ZM296.7 108.4H312.3V116.4H296.7ZM113.1 116.1H182.3V124.1H113.1ZM220.2 116.1H266.4V124.1H220.2ZM273.8 116.1H281.7V124.1H273.8ZM113.1 123.8H128.7V131.8H113.1ZM151.3 123.8H174.6V131.8H151.3ZM227.9 123.8H281.7V131.8H227.9ZM312 123.8H320V131.8H312ZM113.1 131.5H121V139.5H113.1ZM235.5 131.5H281.7V139.5H235.5ZM113.1 139.2H121V147.2H113.1ZM243.2 139.2H281.7V147.2H243.2ZM273.8 146.9H281.7V154.8H273.8ZM312 146.9H327.6V154.8H312ZM281.4 154.5H289.4V162.5H281.4ZM312 154.5H327.6V162.5H312ZM120.8 162.2H128.7V170.2H120.8ZM250.8 162.2H258.8V170.2H250.8ZM120.8 169.9H128.7V177.8H120.8ZM227.9 169.9H235.8V177.8H227.9ZM250.8 169.9H274.1V177.8H250.8ZM312 169.9H327.6V177.8H312ZM120.8 177.5H136.4V185.5H120.8ZM220.2 177.5H266.4V185.5H220.2ZM312 177.5H320V185.5H312ZM120.8 185.2H144V193.2H120.8ZM235.5 185.2H258.8V193.2H235.5ZM304.4 185.2H312.3V193.2H304.4ZM120.8 192.9H144V200.8H120.8ZM204.9 192.9H212.9V200.8H204.9ZM235.5 192.9H251.1V200.8H235.5ZM296.7 192.9H312.3V200.8H296.7ZM174.3 200.5H212.9V208.4H174.3ZM235.5 200.5H251.1V208.4H235.5ZM289.1 200.5H312.3V208.4H289.1ZM143.7 208.1H151.7V216.1H143.7ZM166.7 208.1H197.6V216.1H166.7ZM204.9 208.1H243.5V216.1H204.9ZM281.4 208.1H304.7V216.1H281.4ZM334.9 208.1H349.3V216.1H334.9ZM128.4 215.8H151.7V223.7H128.4ZM166.7 215.8H174.6V223.7H166.7ZM197.2 215.8H243.5V223.7H197.2ZM281.4 215.8H304.7V223.7H281.4ZM334.9 215.8H349.3V223.7H334.9ZM120.8 223.4H151.7V231.3H120.8ZM166.7 223.4H174.6V231.3H166.7ZM197.2 223.4H243.5V231.3H197.2ZM266.1 223.4H304.7V231.3H266.1ZM334.9 223.4H349.3V231.3H334.9ZM120.8 231H144V239H120.8ZM166.7 231H174.6V239H166.7ZM197.2 231H243.5V239H197.2ZM266.1 231H297V239H266.1ZM120.8 238.7H144V246.6H120.8ZM166.7 238.7H212.9V246.6H166.7ZM227.9 238.7H297V246.6H227.9ZM120.8 246.3H182.3V254.2H120.8ZM227.9 246.3H297V254.2H227.9ZM90.2 253.9H98.1V261.8H90.2ZM105.5 253.9H182.3V261.8H105.5ZM227.9 253.9H304.7V261.8H227.9ZM82.5 261.5H105.8V269.4H82.5ZM120.8 261.5H182.3V269.4H120.8ZM227.9 261.5H304.7V269.4H227.9ZM59.6 269.1H105.8V277H59.6ZM120.8 269.1H189.9V277H120.8ZM220.2 269.1H304.7V277H220.2ZM59.6 276.7H105.8V284.6H59.6ZM120.8 276.7H205.2V284.6H120.8ZM212.6 276.7H251.1V284.6H212.6ZM266.1 276.7H281.7V284.6H266.1ZM51.9 284.3H105.8V292.2H51.9ZM120.8 284.3H243.5V292.2H120.8ZM51.9 291.9H105.8V299.7H51.9ZM120.8 291.9H174.6V299.7H120.8ZM182 291.9H189.9V299.7H182ZM212.6 291.9H235.8V299.7H212.6ZM51.9 299.4H98.1V307.3H51.9ZM120.8 299.4H167V307.3H120.8ZM212.6 299.4H220.5V307.3H212.6ZM51.9 307H98.1V314.9H51.9ZM105.5 307H167V314.9H105.5ZM67.2 314.6H98.1V322.4H67.2ZM105.5 314.6H174.6V322.4H105.5ZM204.9 314.6H212.9V322.4H204.9ZM97.8 322.1H220.5V330H97.8ZM105.5 329.7H228.2V337.6H105.5ZM105.5 337.3H220.5V345.1H105.5ZM105.5 344.8H228.2V352.7H105.5ZM105.5 352.4H220.5V360.2H105.5ZM136.1 359.9H228.2V367.7H136.1ZM136.1 367.4H228.2V375.3H136.1ZM143.7 375H220.5V382.8H143.7ZM174.3 382.5H220.5V390.3H174.3ZM174.3 390H220.5V397.8H174.3ZM174.3 397.5H212.9V405.3H174.3ZM174.3 405H212.9V412.9H174.3ZM174.3 412.6H197.6V420.4H174.3ZM174.3 420.1H197.6V427.9H174.3Z"/><path fill="#800000" d="M182 0H189.9V8.1H182ZM197.2 0H281.7V8.1H197.2ZM204.9 7.8H212.9V15.9H204.9ZM220.2 7.8H251.1V15.9H220.2ZM258.5 7.8H289.4V15.9H258.5ZM304.4 7.8H327.6V15.9H304.4ZM220.2 15.6H251.1V23.6H220.2ZM266.1 15.6H297V23.6H266.1ZM304.4 15.6H327.6V23.6H304.4ZM235.5 23.3H258.8V31.4H235.5ZM273.8 23.3H304.7V31.4H273.8ZM258.5 31.1H266.4V39.1H258.5ZM273.8 31.1H304.7V39.1H273.8ZM266.1 38.8H281.7V46.9H266.1ZM289.1 38.8H312.3V46.9H289.1ZM273.8 46.6H281.7V54.6H273.8ZM289.1 46.6H312.3V54.6H289.1ZM296.7 54.3H304.7V62.4H296.7ZM266.1 85.3H274.1V93.3H266.1ZM266.1 93H274.1V101H266.1ZM189.6 100.7H197.6V108.7H189.6ZM182 108.4H205.2V116.4H182ZM281.4 108.4H297V116.4H281.4ZM182 116.1H220.5V124.1H182ZM281.4 116.1H312.3V124.1H281.4ZM128.4 123.8H151.7V131.8H128.4ZM174.3 123.8H228.2V131.8H174.3ZM281.4 123.8H312.3V131.8H281.4ZM120.8 131.5H235.8V139.5H120.8ZM281.4 131.5H312.3V139.5H281.4ZM120.8 139.2H243.5V147.2H120.8ZM281.4 139.2H312.3V147.2H281.4ZM120.8 146.9H274.1V154.8H120.8ZM281.4 146.9H312.3V154.8H281.4ZM120.8 154.5H281.7V162.5H120.8ZM289.1 154.5H312.3V162.5H289.1ZM128.4 162.2H251.1V170.2H128.4ZM258.5 162.2H327.6V170.2H258.5ZM128.4 169.9H228.2V177.8H128.4ZM235.5 169.9H251.1V177.8H235.5ZM273.8 169.9H312.3V177.8H273.8ZM136.1 177.5H220.5V185.5H136.1ZM266.1 177.5H312.3V185.5H266.1ZM143.7 185.2H235.8V193.2H143.7ZM258.5 185.2H304.7V193.2H258.5ZM143.7 192.9H205.2V200.8H143.7ZM212.6 192.9H235.8V200.8H212.6ZM250.8 192.9H297V200.8H250.8ZM151.3 200.5H174.6V208.4H151.3ZM212.6 200.5H235.8V208.4H212.6ZM250.8 200.5H289.4V208.4H250.8ZM151.3 208.1H167V216.1H151.3ZM243.2 208.1H281.7V216.1H243.2ZM151.3 215.8H167V223.7H151.3ZM243.2 215.8H281.7V223.7H243.2ZM151.3 223.4H167V231.3H151.3ZM243.2 223.4H266.4V231.3H243.2ZM143.7 231H167V239H143.7ZM243.2 231H266.4V239H243.2ZM143.7 238.7H167V246.6H143.7ZM189.6 246.3H205.2V254.2H189.6ZM182 253.9H205.2V261.8H182ZM105.5 261.5H121V269.4H105.5ZM182 261.5H205.2V269.4H182ZM105.5 269.1H121V277H105.5ZM189.6 269.1H205.2V277H189.6ZM105.5 276.7H121V284.6H105.5ZM105.5 284.3H121V292.2H105.5ZM105.5 291.9H121V299.7H105.5ZM174.3 291.9H182.3V299.7H174.3ZM189.6 291.9H212.9V299.7H189.6ZM97.8 299.4H121V307.3H97.8ZM166.7 299.4H212.9V307.3H166.7ZM97.8 307H105.8V314.9H97.8ZM166.7 307H212.9V314.9H166.7ZM97.8 314.6H105.8V322.4H97.8ZM174.3 314.6H205.2V322.4H174.3Z"/><path fill="#00dfff" d="M334.9 0H342.9V8.1H334.9ZM350.2 0H349.3V8.1H350.2ZM327.3 7.8H342.9V15.9H327.3ZM350.2 7.8H349.3V15.9H350.2ZM327.3 15.6H349.3V23.6H327.3ZM334.9 23.3H342.9V31.4H334.9ZM350.2 23.3H349.3V31.4H350.2ZM334.9 31.1H342.9V39.1H334.9ZM350.2 31.1H349.3V39.1H350.2ZM350.2 38.8H349.3V46.9H350.2ZM350.2 46.6H349.3V54.6H350.2ZM304.4 54.3H349.3V62.4H304.4ZM304.4 62.1H349.3V70.1H304.4ZM296.7 69.8H349.3V77.8H296.7ZM289.1 77.5H297V85.6H289.1ZM304.4 77.5H349.3V85.6H304.4ZM82.5 85.3H90.5V93.3H82.5ZM289.1 85.3H297V93.3H289.1ZM304.4 85.3H349.3V93.3H304.4ZM312 93H349.3V101H312ZM90.2 100.7H98.1V108.7H90.2ZM266.1 100.7H274.1V108.7H266.1ZM312 100.7H349.3V108.7H312ZM105.5 108.4H113.4V116.4H105.5ZM266.1 108.4H274.1V116.4H266.1ZM312 108.4H349.3V116.4H312ZM105.5 116.1H113.4V124.1H105.5ZM266.1 116.1H274.1V124.1H266.1ZM312 116.1H349.3V124.1H312ZM105.5 123.8H113.4V131.8H105.5ZM319.7 123.8H349.3V131.8H319.7ZM312 131.5H349.3V139.5H312ZM312 139.2H349.3V147.2H312ZM113.1 146.9H121V154.8H113.1ZM327.3 146.9H349.3V154.8H327.3ZM113.1 154.5H121V162.5H113.1ZM327.3 154.5H349.3V162.5H327.3ZM113.1 162.2H121V170.2H113.1ZM327.3 162.2H349.3V170.2H327.3ZM327.3 169.9H349.3V177.8H327.3ZM319.7 177.5H349.3V185.5H319.7ZM319.7 185.2H349.3V193.2H319.7ZM312 192.9H349.3V200.8H312ZM120.8 200.5H151.7V208.4H120.8ZM312 200.5H349.3V208.4H312ZM120.8 208.1H144V216.1H120.8ZM197.2 208.1H205.2V216.1H197.2ZM304.4 208.1H335.2V216.1H304.4ZM350.2 208.1H349.3V216.1H350.2ZM120.8 215.8H128.7V223.7H120.8ZM174.3 215.8H197.6V223.7H174.3ZM304.4 215.8H335.2V223.7H304.4ZM350.2 215.8H349.3V223.7H350.2ZM174.3 223.4H197.6V231.3H174.3ZM304.4 223.4H335.2V231.3H304.4ZM350.2 223.4H349.3V231.3H350.2ZM174.3 231H197.6V239H174.3ZM296.7 231H349.3V239H296.7ZM212.6 238.7H228.2V246.6H212.6ZM296.7 238.7H349.3V246.6H296.7ZM182 246.3H189.9V254.2H182ZM204.9 246.3H228.2V254.2H204.9ZM296.7 246.3H349.3V254.2H296.7ZM97.8 253.9H105.8V261.8H97.8ZM204.9 253.9H228.2V261.8H204.9ZM304.4 253.9H349.3V261.8H304.4ZM204.9 261.5H228.2V269.4H204.9ZM304.4 261.5H349.3V269.4H304.4ZM204.9 269.1H220.5V277H204.9ZM304.4 269.1H349.3V277H304.4ZM204.9 276.7H212.9V284.6H204.9ZM250.8 276.7H266.4V284.6H250.8ZM281.4 276.7H349.3V284.6H281.4ZM243.2 284.3H349.3V292.2H243.2ZM44.2 291.9H52.2V299.7H44.2ZM235.5 291.9H349.3V299.7H235.5ZM36.6 299.4H52.2V307.3H36.6ZM220.2 299.4H349.3V307.3H220.2ZM29 307H52.2V314.9H29ZM212.6 307H349.3V314.9H212.6ZM21.3 314.6H67.5V322.4H21.3ZM212.6 314.6H349.3V322.4H212.6ZM13.7 322.1H98.1V330H13.7ZM220.2 322.1H349.3V330H220.2ZM6 329.7H105.8V337.6H6ZM227.9 329.7H349.3V337.6H227.9ZM6 337.3H105.8V345.1H6ZM220.2 337.3H349.3V345.1H220.2ZM6 344.8H105.8V352.7H6ZM227.9 344.8H349.3V352.7H227.9ZM6 352.4H105.8V360.2H6ZM220.2 352.4H349.3V360.2H220.2ZM6 359.9H136.4V367.7H6ZM227.9 359.9H349.3V367.7H227.9ZM6 367.4H136.4V375.3H6ZM227.9 367.4H349.3V375.3H227.9ZM6 375H144V382.8H6ZM220.2 375H349.3V382.8H220.2ZM6 382.5H174.6V390.3H6ZM220.2 382.5H349.3V390.3H220.2ZM6 390H174.6V397.8H6ZM220.2 390H349.3V397.8H220.2ZM6 397.5H144V405.3H6ZM166.7 397.5H174.6V405.3H166.7ZM212.6 397.5H349.3V405.3H212.6ZM6 405H144V412.9H6ZM212.6 405H304.7V412.9H212.6ZM312 405H349.3V412.9H312ZM6 412.6H82.8V420.4H6ZM105.5 412.6H136.4V420.4H105.5ZM166.7 412.6H174.6V420.4H166.7ZM197.2 412.6H297V420.4H197.2ZM304.4 412.6H349.3V420.4H304.4ZM6 420.1H75.2V427.9H6ZM97.8 420.1H136.4V427.9H97.8ZM151.3 420.1H174.6V427.9H151.3ZM197.2 420.1H289.4V427.9H197.2ZM296.7 420.1H342.9V427.9H296.7ZM350.2 420.1H349.3V427.9H350.2Z"/><path fill="#00008f" d="M342.6 0H349.3V8.1H342.6ZM342.6 7.8H349.3V15.9H342.6ZM342.6 23.3H349.3V31.4H342.6ZM342.6 31.1H349.3V39.1H342.6ZM296.7 77.5H304.7V85.6H296.7ZM296.7 85.3H304.7V93.3H296.7ZM304.4 93H312.3V101H304.4ZM312 185.2H320V193.2H312ZM143.7 397.5H167V405.3H143.7ZM143.7 405H174.6V412.9H143.7ZM304.4 405H312.3V412.9H304.4ZM82.5 412.6H105.8V420.4H82.5ZM136.1 412.6H167V420.4H136.1ZM296.7 412.6H304.7V420.4H296.7ZM74.9 420.1H98.1V427.9H74.9ZM136.1 420.1H151.7V427.9H136.1ZM289.1 420.1H297V427.9H289.1ZM342.6 420.1H349.3V427.9H342.6Z"/></g><path d="M331.4 3.9 331.1 4.1 327.4 11.7 327.4 19.4 331.1 27 331.4 27.2 331.4 35 338.8 42.5 346.4 42.6 346.7 42.7 346.7 50.5 346.4 50.7 338.8 50.7 331.1 50.7 323.5 50.7 315.8 50.7 308.2 54.4 304.5 58.2 300.8 65.9 300.5 66.2 293.1 73.7 292.9 73.9 285.5 81.4 285.5 89.1 292.9 96.6 300.5 96.7 300.6 96.8 308.2 104.4 308.4 104.6 308.4 112.3 312.1 120 315.8 127.4 316.1 127.7 315.8 127.9 312.1 135.3 312.1 143 315.8 150.5 323.5 150.5 323.7 150.7 323.7 158.4 327.4 166.1 323.7 173.7 323.5 173.9 316.1 181.4 315.8 181.5 308.3 189 308.4 196.7 308.4 204.3 308.2 204.5 300.8 212 300.8 219.6 300.8 227.2 300.5 227.4 293.1 234.8 293.1 242.5 293.1 250.1 300.5 257.5 300.8 257.7 300.8 265.3 300.8 272.9 300.5 273.1 292.9 273.1 285.2 273.1 277.8 280.5 277.6 280.7 269.9 280.7 269.7 280.5 262.3 273.1 254.6 273.1 247.2 280.5 247 280.7 239.6 288.1 239.3 288.3 231.9 295.6 231.7 295.9 224 295.9 216.6 303.2 216.4 303.4 212.7 310.8 209 318.4 216.4 325.7 216.6 325.9 224 333.3 224.3 333.5 224 333.7 216.6 341 224 348.4 224.3 348.6 224 348.8 216.6 356.1 224 363.4 224.3 363.7 224.3 371.2 224 371.4 216.6 378.7 216.6 386.3 216.6 393.8 216.4 394 209 401.3 209 408.8 208.7 409 201.1 409 193.7 416.3 193.7 423.8M269.9 100.8 262.5 104.6 262.5 112.3 262.5 120 269.9 127.4 277.3 120 277.3 112.3 277.3 104.6 269.9 100.8M116.7 127.7 116.7 120 116.7 112.3 109.3 104.8 101.9 112.3M116.9 143.3 120.6 150.7 120.6 158.4 124.3 166.1M124.6 196.9 132.2 196.9 139.9 196.9 147.5 200.6 151.2 204.3 147.5 211.7 147.3 212 139.9 219.4 132.2 219.4 132 219.6 124.6 227M201.1 204.5 193.7 212 193.4 212.2 185.8 212.2 178.1 212.2 170.7 219.6 170.7 227.2 170.7 234.8 178.1 242.2 185.8 242.2 193.4 242.2 200.8 234.8 200.8 227.2 200.8 219.6 201.1 219.4 208.5 212 201.1 204.5M338.8 211.7 338.5 212 338.5 219.6 338.5 227.2 338.8 227.4 346.4 227.4 346.7 227.2 346.7 219.6 346.7 212 346.4 211.7 338.8 211.7M216.4 235.1 209 242.5 208.7 242.7 205 250.1 205 257.7 205 265.3 205 272.9 201.3 280.5 208.7 287.8 216.1 280.5 216.4 280.2 223.8 272.9 224 272.7 231.4 265.3 231.4 257.7 231.4 250.1 231.4 242.5 224 235.1 216.4 235.1M185.8 242.7 178.4 250.1 185.8 253.8 189.5 250.1 185.8 242.7M94.2 257.7 101.6 265.1 109 257.7M55.5 295.6 55.5 303.2 55.5 310.8 55.7 311 63.4 311 70.8 318.4 71 318.6 78.7 318.6 86.3 318.6 94 318.6 101.4 325.9 101.6 326.2 109 333.5 109 341 109 348.6 109 356.1 109.3 356.4 116.9 356.4 124.6 356.4 132.2 356.4 139.6 363.7 139.6 371.2 139.9 371.4 147.3 378.7 147.5 379 155.2 379 162.8 379 170.5 379 177.9 386.3 177.9 393.8 177.9 401.3 178 408.8 177.9 416.3 177.9 423.8" fill="none" stroke="#000" stroke-width="0.8" stroke-linejoin="round"/><text transform="translate(101 103.5) rotate(30)" font-size="13.5" text-anchor="middle" dy="0.35em">2</text><text transform="translate(137.3 202.2) rotate(10)" font-size="13.5" text-anchor="middle" dy="0.35em">2</text><text transform="translate(264.8 81) rotate(-60)" font-size="13.5" text-anchor="middle" dy="0.35em">2</text><text transform="translate(261 124.7) rotate(-60)" font-size="13.5" text-anchor="middle" dy="0.35em">2</text><text transform="translate(321 173.5) rotate(70)" font-size="13.5" text-anchor="middle" dy="0.35em">2</text><text transform="translate(337.3 221) rotate(-80)" font-size="13.5" text-anchor="middle" dy="0.35em">2</text><text transform="translate(168.5 237.2) rotate(60)" font-size="13.5" text-anchor="middle" dy="0.35em">2</text><text transform="translate(177.3 254.7) rotate(50)" font-size="13.5" text-anchor="middle" dy="0.35em">2</text><text transform="translate(201 276) rotate(70)" font-size="13.5" text-anchor="middle" dy="0.35em">2</text><text transform="translate(99.8 268.5) rotate(-40)" font-size="13.5" text-anchor="middle" dy="0.35em">2</text><text transform="translate(294.8 263.5) rotate(70)" font-size="13.5" text-anchor="middle" dy="0.35em">2</text><text transform="translate(319.8 4.7) rotate(20)" font-size="13.5" text-anchor="middle" dy="0.35em">2</text><text transform="translate(293.5 17.2) rotate(20)" font-size="13.5" text-anchor="middle" dy="0.35em">2</text><text transform="translate(84.8 324) rotate(0)" font-size="13.5" text-anchor="middle" dy="0.35em">2</text><text transform="translate(207.3 407.7) rotate(-60)" font-size="13.5" text-anchor="middle" dy="0.35em">2</text>
<use href="#land"/>
<use href="#sites"/>
</g>
<rect x="0" y="0" width="348" height="427.2" fill="none" stroke="#1a1a1a" stroke-width="1.1"/>
<use href="#ticks"/>
<rect x="4" y="20" width="112.6" height="25.5" fill="url(#jet)" stroke="#262626" stroke-width="1"/><text x="2.9" y="7.3" font-size="17.5" text-anchor="middle" fill="#333">0</text><text x="41" y="7.3" font-size="17.5" text-anchor="middle" fill="#333">1</text><text x="78.5" y="7.3" font-size="17.5" text-anchor="middle" fill="#333">2</text><text x="116.3" y="7.3" font-size="17.5" text-anchor="middle" fill="#333">3</text><text x="284.4" y="37.2" font-size="21.6">10 km</text><path d="M305.2 43.4H321.5" stroke="#000" stroke-width="3.4" stroke-linecap="round"/>
<text x="173" y="-12" font-size="20.9" font-weight="bold" text-anchor="middle">Number of Sites (2)</text>
</g>
<g transform="translate(74.7 742)">
<text x="-7.5" y="434.7" font-size="20" text-anchor="end">34°N</text><text x="-7.5" y="293.9" font-size="20" text-anchor="end">35°N</text><text x="-7.5" y="151.4" font-size="20" text-anchor="end">36°N</text><text x="-7.5" y="7.1" font-size="20" text-anchor="end">37°N</text><text x="-7" y="363" font-size="15" text-anchor="end">30'</text><text x="-7" y="221.4" font-size="15" text-anchor="end">30'</text><text x="-7" y="78" font-size="15" text-anchor="end">30'</text><text x="-0.5" y="444.5" font-size="15" text-anchor="middle">30'</text><text x="60" y="448.2" font-size="20" text-anchor="middle">76°W</text><text x="115.5" y="444.5" font-size="15" text-anchor="middle">30'</text><text x="176" y="448.2" font-size="20" text-anchor="middle">75°W</text><text x="231.5" y="444.5" font-size="15" text-anchor="middle">30'</text><text x="292" y="448.2" font-size="20" text-anchor="middle">74°W</text><text x="347.5" y="444.5" font-size="15" text-anchor="middle">30'</text>
<g clip-path="url(#ax)">
<use href="#grid"/>
<g fill="none" stroke-width="2.7" stroke-linecap="round"><path d="M67.6 30.1h.01M68.9 30.2h.01M70.3 30.5h.01M71.6 30.9h.01M72.8 31.3h.01M74 31.9h.01M75.2 32.6h.01M76.3 33.4h.01M77.3 34.2h.01M78.2 35.2h.01M79.1 36.2h.01M79.9 37.3h.01M80.5 38.5h.01M81.1 39.7h.01M81.5 41h.01M81.9 42.3h.01M82.1 43.6h.01M82.2 45h.01M82.2 46.3h.01M82.1 47.6h.01M81.8 49h.01M81.4 50.3h.01M81 51.5h.01M80.4 52.7h.01M79.7 53.9h.01M78.9 55h.01M78.1 56h.01M77.1 56.9h.01M76.1 57.8h.01M75 58.6h.01M68 22.4h.01M70 22.6h.01M72 23h.01M73.9 23.5h.01M75.8 24.2h.01M77.6 25.1h.01M79.4 26.1h.01M81 27.3h.01M82.6 28.6h.01M84 30h.01M85.2 31.6h.01M86.4 33.3h.01M87.4 35h.01M88.2 36.8h.01M88.9 38.7h.01M89.4 40.7h.01M89.7 42.7h.01M89.9 44.7h.01M89.9 46.7h.01M89.7 48.7h.01M89.3 50.7h.01M88.8 52.6h.01M88.1 54.5h.01M87.2 56.3h.01M86.2 58.1h.01M85 59.7h.01M83.7 61.3h.01M82.3 62.7h.01M80.7 63.9h.01M79 65.1h.01M68.4 14.7h.01M71.1 15h.01M73.7 15.5h.01M76.3 16.2h.01M78.8 17.1h.01M81.3 18.3h.01M83.6 19.7h.01M85.8 21.2h.01M87.8 23h.01M89.7 24.9h.01M91.4 27h.01M92.9 29.2h.01M94.2 31.5h.01M95.4 34h.01M96.3 36.5h.01M96.9 39.1h.01M97.4 41.7h.01M97.6 44.4h.01M97.6 47.1h.01M97.3 49.8h.01M96.8 52.4h.01M96.1 55h.01M95.2 57.5h.01M94 60h.01M92.6 62.3h.01M91.1 64.5h.01M89.3 66.5h.01M87.4 68.4h.01M85.3 70.1h.01M83.1 71.6h.01M68.8 7.1h.01M72.2 7.4h.01M75.5 8h.01M78.7 8.9h.01M81.8 10.1h.01M84.9 11.5h.01M87.8 13.2h.01M90.5 15.2h.01M93.1 17.3h.01M95.4 19.7h.01M97.5 22.3h.01M99.4 25.1h.01M101.1 28h.01M102.5 31.1h.01M103.6 34.2h.01M104.5 37.5h.01M105 40.8h.01M105.3 44.2h.01M105.2 47.5h.01M104.9 50.9h.01M104.3 54.2h.01M103.4 57.4h.01M102.2 60.5h.01M100.8 63.6h.01M99.1 66.5h.01M97.1 69.2h.01M95 71.8h.01M92.6 74.1h.01M90 76.2h.01M87.2 78.1h.01M69.2 -0.6h.01M73.2 -0.3h.01M77.2 0.5h.01M81.1 1.6h.01M84.9 3h.01M88.5 4.7h.01M92 6.8h.01M95.2 9.1h.01M98.3 11.7h.01M101.1 14.6h.01M103.7 17.7h.01M106 21h.01M108 24.5h.01M109.6 28.2h.01M111 32h.01M112 35.9h.01M112.7 39.9h.01M113 43.9h.01M112.9 47.9h.01M112.6 51.9h.01M111.8 55.9h.01M110.7 59.8h.01M109.3 63.6h.01M107.6 67.2h.01M105.5 70.7h.01M103.2 73.9h.01M100.6 77h.01M97.7 79.8h.01M94.6 82.4h.01M91.3 84.7h.01M96.2 0.3h.01M100 3h.01M103.6 6.1h.01M106.9 9.4h.01M109.8 13.1h.01M112.5 16.9h.01M114.8 21h.01M116.8 25.3h.01M118.3 29.7h.01M119.5 34.3h.01M120.3 38.9h.01M120.7 43.6h.01M120.6 48.3h.01M120.2 53h.01M119.3 57.6h.01M118.1 62.2h.01M116.4 66.6h.01M114.4 70.8h.01M112 74.9h.01M109.3 78.7h.01M106.2 82.3h.01M102.9 85.6h.01M99.2 88.5h.01M95.4 91.2h.01M108.8 0.4h.01M112.6 4.3h.01M116 8.4h.01M119 12.9h.01M121.7 17.5h.01M123.9 22.4h.01M125.7 27.5h.01M127.1 32.7h.01M127.9 38h.01M128.4 43.4h.01M128.3 48.7h.01M127.8 54.1h.01M126.8 59.4h.01M125.4 64.5h.01M123.5 69.6h.01M121.2 74.4h.01M118.5 79h.01M115.3 83.4h.01M111.9 87.5h.01M108 91.3h.01M103.9 94.7h.01M99.4 97.7h.01M118.3 -0.9h.01M122.1 3.8h.01M125.6 8.8h.01M128.5 14h.01M131.1 19.5h.01M133.1 25.2h.01M134.6 31.1h.01M135.6 37.1h.01M136.1 43.1h.01M136 49.1h.01M135.4 55.1h.01M134.3 61.1h.01M132.7 66.9h.01M130.6 72.6h.01M128 78h.01M124.9 83.2h.01M121.4 88.2h.01M117.5 92.8h.01M113.2 97h.01M108.5 100.8h.01M103.5 104.3h.01M128.3 -0.8h.01M132.1 4.7h.01M135.4 10.5h.01M138.2 16.7h.01M140.4 23h.01M142.1 29.5h.01M143.2 36.1h.01M143.8 42.8h.01M143.7 49.5h.01M143.1 56.2h.01M141.8 62.8h.01M140 69.3h.01M137.7 75.6h.01M134.8 81.6h.01M131.4 87.4h.01M127.5 92.9h.01M123.1 98h.01M118.3 102.7h.01M113.1 107h.01M107.6 110.8h.01M138.6 0.6h.01M142.3 7h.01M145.3 13.8h.01M147.8 20.7h.01M149.6 27.9h.01M150.9 35.2h.01M151.4 42.5h.01M151.4 49.9h.01M150.7 57.3h.01M149.3 64.6h.01M147.4 71.7h.01M144.8 78.6h.01M141.6 85.3h.01M137.8 91.6h.01M133.5 97.6h.01M128.7 103.3h.01M123.5 108.4h.01M117.8 113.1h.01M111.7 117.3h.01M149.1 3.6h.01M152.5 10.9h.01M155.2 18.5h.01M157.2 26.3h.01M158.5 34.2h.01M159.1 42.3h.01M159.1 50.3h.01M158.3 58.4h.01M156.8 66.3h.01M154.7 74.1h.01M151.9 81.6h.01M148.4 88.9h.01M144.3 95.8h.01M139.6 102.4h.01M134.4 108.5h.01M128.6 114.2h.01M122.4 119.3h.01M115.8 123.9h.01M156 0.1h.01M159.6 8h.01M162.5 16.2h.01M164.7 24.7h.01M166.2 33.3h.01M166.8 42h.01M166.8 50.7h.01M165.9 59.4h.01M164.3 68h.01M162 76.4h.01M158.9 84.6h.01M155.2 92.5h.01M150.8 100h.01M145.7 107.1h.01M140 113.8h.01M133.8 119.9h.01M127 125.4h.01M119.8 130.4h.01M166.8 5.1h.01M169.9 14h.01M172.2 23.1h.01M173.8 32.4h.01M174.5 41.7h.01M174.5 51.1h.01M173.6 60.5h.01M171.8 69.7h.01M169.3 78.8h.01M166 87.6h.01M162 96.1h.01M157.2 104.2h.01M151.7 111.9h.01M145.6 119h.01M138.9 125.6h.01M131.7 131.6h.01M123.9 136.9h.01M173.9 2.2h.01M177.3 11.7h.01M179.8 21.5h.01M181.4 31.4h.01M182.2 41.5h.01M182.1 51.5h.01M181.2 61.6h.01M179.3 71.5h.01M176.6 81.2h.01M173.1 90.6h.01M168.8 99.7h.01M163.7 108.4h.01M157.8 116.6h.01M151.3 124.3h.01M144.1 131.3h.01M136.3 137.7h.01M128 143.4h.01M181 -0.7h.01M187.3 19.9h.01M189.1 30.5h.01M189.9 41.2h.01M189.8 51.9h.01M188.8 62.6h.01M186.8 73.2h.01M184 83.6h.01M180.2 93.6h.01M175.6 103.3h.01M170.1 112.6h.01M163.9 121.3h.01M156.9 129.5h.01M149.2 137.1h.01M140.9 143.9h.01M132.1 150h.01M192 7.2h.01M194.8 18.3h.01M196.7 29.5h.01M197.6 40.9h.01M197.5 52.4h.01M196.4 63.7h.01M194.3 74.9h.01M191.3 86h.01M187.3 96.6h.01M182.4 107h.01M176.6 116.8h.01M170 126.1h.01M162.5 134.8h.01M154.4 142.8h.01M145.6 150h.01M136.2 156.5h.01M199.3 5h.01M202.4 16.7h.01M204.4 28.6h.01M205.3 40.7h.01M205.2 52.8h.01M204.1 64.8h.01M198.6 88.3h.01M194.4 99.7h.01M189.2 110.6h.01M183 121h.01M168.2 140h.01M159.5 148.5h.01M150.2 156.2h.01M140.2 163h.01M209.9 15.1h.01M212 27.7h.01M213 40.4h.01M212.9 53.2h.01M211.7 65.9h.01M209.4 78.4h.01M205.9 90.7h.01M201.5 102.7h.01M196 114.2h.01M182.1 135.6h.01M173.8 145.3h.01M164.7 154.2h.01M154.8 162.3h.01M144.3 169.6h.01M214.1 0.5h.01M217.4 13.5h.01M219.7 26.7h.01M220.7 40.1h.01M220.6 53.6h.01M219.3 66.9h.01M216.9 80.1h.01M208.6 105.7h.01M202.8 117.8h.01M188.2 140.3h.01M179.4 150.5h.01M169.8 159.9h.01M159.5 168.5h.01M148.4 176.1h.01M225 11.9h.01M227.3 25.8h.01M228.4 39.9h.01M215.6 108.7h.01M209.6 121.4h.01M202.4 133.6h.01M194.2 145.1h.01M175 165.7h.01M164.1 174.6h.01M152.5 182.6h.01M232.5 10.3h.01M234.9 24.9h.01M236.1 39.6h.01M236 54.4h.01M234.6 69.1h.01M231.9 83.6h.01M216.4 125h.01M208.9 137.8h.01M200.3 149.8h.01M190.7 161h.01M168.7 180.8h.01M240 8.7h.01M243.8 39.3h.01M243.7 54.8h.01M242.2 70.1h.01M239.4 85.3h.01M223.2 128.6h.01M215.3 142h.01M206.4 154.5h.01M196.3 166.3h.01M185.3 177.1h.01M247.6 7.1h.01M250.2 23h.01M251.3 55.2h.01M249.8 71.2h.01M246.9 87.1h.01M242.6 102.6h.01M230 132.3h.01M221.8 146.1h.01M212.4 159.3h.01M202 171.5h.01M255.1 5.5h.01M257.9 22h.01M259.2 38.8h.01M259 55.6h.01M257.4 72.3h.01M207.6 176.8h.01M195.6 188.6h.01M262.6 3.9h.01M265.5 21.1h.01M266.7 56h.01M265.1 73.4h.01M257.2 107.4h.01M243.6 139.5h.01M224.6 168.8h.01M270.2 2.3h.01M274.6 38.2h.01M274.4 56.4h.01M272.7 74.4h.01M264.5 109.7h.01M218.8 187.3h.01M205.9 200h.01M277.7 0.7h.01M280.8 19.2h.01M282.1 56.8h.01M280.3 75.5h.01M271.8 112.1h.01M236.7 178.2h.01M224.5 192.5h.01M211.1 205.7h.01M288.4 18.3h.01M290 37.7h.01M289.8 57.2h.01M287.9 76.6h.01M279.2 114.5h.01M230.1 197.8h.01M216.2 211.4h.01M296.1 17.3h.01M297.7 37.4h.01M297.5 57.6h.01M295.6 77.6h.01M221.4 217.2h.01M305.4 37.2h.01M293.8 119.3h.01M254.9 192.5h.01M241.4 208.3h.01M311.4 15.5h.01M313 36.9h.01M301.1 121.6h.01M261 197.2h.01M231.7 228.6h.01M320.6 58.8h.01M308.5 124h.01M252.6 218.8h.01M328.4 36.4h.01M328.2 59.2h.01M326.1 81.9h.01M315.8 126.4h.01" stroke="#00f"/><path d="M103.5 149.5h.01M104.1 149.4h.01M104.8 149.3h.01M105.5 149.4h.01M106.1 149.5h.01M106.8 149.6h.01M107.4 149.8h.01M108 150.1h.01M108.6 150.4h.01M109.2 150.7h.01M109.7 151.1h.01M110.2 151.6h.01M110.7 152.1h.01M111.1 152.6h.01M111.4 153.2h.01M111.7 153.8h.01M112 154.4h.01M112.2 155h.01M112.3 155.7h.01M112.4 156.3h.01M112.5 157h.01M112.4 157.7h.01M112.3 158.3h.01M112.2 159h.01M112 159.6h.01M111.7 160.2h.01M111.4 160.8h.01M111.1 161.4h.01M110.7 161.9h.01M110.2 162.4h.01M109.7 162.9h.01M109.2 163.3h.01M108.6 163.6h.01M102.1 141.9h.01M103.5 141.8h.01M104.8 141.7h.01M106.1 141.8h.01M107.5 141.9h.01M108.8 142.2h.01M110 142.6h.01M111.3 143.1h.01M112.5 143.7h.01M113.6 144.5h.01M114.6 145.3h.01M115.6 146.2h.01M116.5 147.2h.01M117.3 148.2h.01M118.1 149.3h.01M118.7 150.5h.01M119.2 151.8h.01M119.6 153h.01M119.9 154.3h.01M120 155.7h.01M120.1 157h.01M120 158.3h.01M119.9 159.7h.01M119.6 161h.01M119.2 162.2h.01M118.7 163.5h.01M118.1 164.7h.01M117.3 165.8h.01M116.5 166.8h.01M115.6 167.8h.01M114.6 168.7h.01M113.6 169.5h.01M112.5 170.3h.01M100.8 134.4h.01M102.8 134.1h.01M104.8 134.1h.01M106.8 134.1h.01M108.8 134.4h.01M110.7 134.8h.01M112.6 135.4h.01M114.5 136.2h.01M116.3 137.1h.01M118 138.2h.01M119.6 139.4h.01M121 140.8h.01M122.4 142.2h.01M123.6 143.8h.01M124.7 145.5h.01M125.6 147.3h.01M126.4 149.2h.01M127 151.1h.01M127.4 153h.01M127.7 155h.01M127.8 157h.01M127.7 159h.01M127.4 161h.01M127 162.9h.01M126.4 164.8h.01M125.6 166.7h.01M124.7 168.5h.01M123.6 170.2h.01M122.4 171.8h.01M121 173.2h.01M119.6 174.6h.01M118 175.8h.01M116.3 176.9h.01M99.5 126.9h.01M102.1 126.5h.01M104.8 126.4h.01M107.5 126.5h.01M110.1 126.9h.01M112.7 127.4h.01M115.3 128.2h.01M117.7 129.3h.01M120.1 130.5h.01M122.4 131.9h.01M124.5 133.6h.01M126.4 135.4h.01M128.2 137.3h.01M129.9 139.4h.01M131.3 141.7h.01M132.5 144.1h.01M133.6 146.5h.01M134.4 149.1h.01M134.9 151.7h.01M135.3 154.3h.01M135.4 157h.01M135.3 159.7h.01M134.9 162.3h.01M134.4 164.9h.01M133.6 167.5h.01M132.5 169.9h.01M131.3 172.3h.01M129.9 174.6h.01M128.2 176.7h.01M126.4 178.6h.01M124.5 180.4h.01M122.4 182.1h.01M120.1 183.5h.01M98.2 119.3h.01M101.5 118.9h.01M104.8 118.8h.01M108.1 118.9h.01M111.4 119.3h.01M114.7 120.1h.01M117.9 121.1h.01M121 122.3h.01M123.9 123.9h.01M126.7 125.7h.01M129.4 127.7h.01M131.8 130h.01M134.1 132.4h.01M136.1 135.1h.01M137.9 137.9h.01M139.5 140.8h.01M140.7 143.9h.01M141.7 147.1h.01M142.5 150.4h.01M142.9 153.7h.01M143.1 157h.01M142.9 160.3h.01M142.5 163.6h.01M141.7 166.9h.01M140.7 170.1h.01M139.5 173.2h.01M137.9 176.1h.01M136.1 178.9h.01M134.1 181.6h.01M131.8 184h.01M129.4 186.3h.01M126.7 188.3h.01M123.9 190.1h.01M96.8 111.8h.01M100.8 111.3h.01M104.8 111.1h.01M108.8 111.3h.01M112.8 111.8h.01M116.7 112.7h.01M120.5 113.9h.01M124.2 115.4h.01M127.8 117.2h.01M131.1 119.4h.01M134.3 121.8h.01M137.3 124.5h.01M140 127.5h.01M142.4 130.7h.01M144.6 134.1h.01M146.4 137.6h.01M147.9 141.3h.01M149.1 145.1h.01M150 149h.01M150.5 153h.01M150.7 157h.01M150.5 161h.01M150 165h.01M149.1 168.9h.01M147.9 172.7h.01M146.4 176.4h.01M144.6 179.9h.01M142.4 183.3h.01M140 186.5h.01M137.3 189.5h.01M134.3 192.2h.01M131.1 194.6h.01M127.8 196.8h.01M95.5 104.3h.01M100.1 103.7h.01M104.8 103.4h.01M109.5 103.7h.01M114.1 104.3h.01M118.7 105.3h.01M123.1 106.7h.01M127.4 108.5h.01M131.6 110.6h.01M135.5 113.1h.01M139.2 116h.01M142.7 119.1h.01M145.8 122.6h.01M148.7 126.3h.01M151.2 130.2h.01M153.3 134.4h.01M155.1 138.7h.01M156.5 143.1h.01M157.5 147.7h.01M158.1 152.3h.01M158.3 157h.01M158.1 161.7h.01M157.5 166.3h.01M156.5 170.9h.01M155.1 175.3h.01M153.3 179.6h.01M151.2 183.8h.01M148.7 187.7h.01M145.8 191.4h.01M142.7 194.9h.01M139.2 198h.01M135.5 200.9h.01M131.6 203.4h.01M94.2 96.7h.01M99.5 96h.01M104.8 95.8h.01M110.1 96h.01M115.4 96.7h.01M120.6 97.9h.01M125.7 99.5h.01M130.7 101.5h.01M135.4 104h.01M139.9 106.9h.01M144.1 110.1h.01M148.1 113.7h.01M151.7 117.7h.01M154.9 121.9h.01M157.8 126.4h.01M160.3 131.1h.01M162.3 136.1h.01M163.9 141.2h.01M165.1 146.4h.01M165.8 151.7h.01M166 157h.01M165.8 162.3h.01M165.1 167.6h.01M163.9 172.8h.01M162.3 177.9h.01M160.3 182.9h.01M157.8 187.6h.01M154.9 192.1h.01M151.7 196.3h.01M148.1 200.3h.01M144.1 203.9h.01M139.9 207.1h.01M135.4 210h.01M92.8 89.2h.01M98.8 88.4h.01M104.8 88.1h.01M110.8 88.4h.01M116.8 89.2h.01M122.6 90.5h.01M128.3 92.3h.01M133.9 94.6h.01M139.2 97.4h.01M144.3 100.6h.01M149.1 104.3h.01M153.5 108.3h.01M157.5 112.7h.01M161.2 117.5h.01M164.4 122.6h.01M167.2 127.9h.01M169.5 133.5h.01M171.3 139.2h.01M172.6 145h.01M173.4 151h.01M173.7 157h.01M173.4 163h.01M172.6 169h.01M171.3 174.8h.01M169.5 180.5h.01M167.2 186.1h.01M164.4 191.4h.01M161.2 196.5h.01M157.5 201.3h.01M153.5 205.7h.01M149.1 209.7h.01M144.3 213.4h.01M139.2 216.6h.01M91.5 81.7h.01M98.1 80.8h.01M104.8 80.5h.01M111.5 80.8h.01M118.1 81.7h.01M124.6 83.1h.01M131 85.1h.01M137.1 87.7h.01M143.1 90.7h.01M148.7 94.3h.01M154 98.4h.01M158.9 102.9h.01M163.4 107.8h.01M167.5 113.1h.01M171.1 118.8h.01M174.1 124.7h.01M176.7 130.8h.01M178.7 137.2h.01M180.1 143.7h.01M181 150.3h.01M181.3 157h.01M181 163.7h.01M180.1 170.3h.01M178.7 176.8h.01M176.7 183.2h.01M174.1 189.3h.01M171.1 195.2h.01M167.5 200.9h.01M163.4 206.2h.01M158.9 211.1h.01M154 215.6h.01M148.7 219.7h.01M143.1 223.3h.01M90.2 74.1h.01M97.5 73.2h.01M104.8 72.8h.01M112.1 73.2h.01M119.4 74.1h.01M126.6 75.7h.01M133.6 77.9h.01M140.4 80.7h.01M146.9 84.1h.01M153.1 88.1h.01M158.9 92.5h.01M164.3 97.5h.01M169.3 102.9h.01M173.7 108.7h.01M177.7 114.9h.01M181.1 121.4h.01M183.9 128.2h.01M186.1 135.2h.01M187.7 142.4h.01M188.6 149.7h.01M188.9 157h.01M188.6 164.3h.01M187.7 171.6h.01M186.1 178.8h.01M183.9 185.8h.01M181.1 192.6h.01M177.7 199.1h.01M173.7 205.3h.01M169.3 211.1h.01M164.3 216.5h.01M158.9 221.5h.01M153.1 225.9h.01M146.9 229.9h.01M88.9 66.6h.01M96.8 65.5h.01M104.8 65.2h.01M112.8 65.5h.01M120.7 66.6h.01M128.6 68.3h.01M136.2 70.7h.01M143.6 73.8h.01M150.7 77.5h.01M157.5 81.8h.01M163.8 86.7h.01M169.7 92.1h.01M175.1 98h.01M180 104.3h.01M184.3 111.1h.01M188 118.2h.01M191.1 125.6h.01M193.5 133.2h.01M195.2 141.1h.01M196.3 149h.01M196.6 157h.01M196.3 165h.01M195.2 172.9h.01M193.5 180.8h.01M191.1 188.4h.01M188 195.8h.01M184.3 202.9h.01M180 209.7h.01M175.1 216h.01M169.7 221.9h.01M163.8 227.3h.01M157.5 232.2h.01M150.7 236.5h.01M87.5 59.1h.01M96.1 57.9h.01M104.8 57.5h.01M113.5 57.9h.01M122.1 59.1h.01M130.5 60.9h.01M138.8 63.5h.01M146.8 66.9h.01M154.5 70.9h.01M161.8 75.5h.01M168.7 80.8h.01M175.1 86.7h.01M181 93.1h.01M186.3 100h.01M190.9 107.3h.01M194.9 115h.01M198.3 123h.01M200.9 131.3h.01M202.7 139.7h.01M203.9 148.3h.01M204.2 157h.01M203.9 165.7h.01M202.7 174.3h.01M200.9 182.7h.01M198.3 191h.01M194.9 199h.01M190.9 206.7h.01M186.3 214h.01M181 220.9h.01M175.1 227.3h.01M168.7 233.2h.01M161.8 238.5h.01M154.5 243.1h.01M86.2 51.5h.01M95.5 50.3h.01M104.8 49.9h.01M114.1 50.3h.01M123.4 51.5h.01M132.5 53.5h.01M141.4 56.4h.01M150.1 59.9h.01M158.4 64.2h.01M166.2 69.3h.01M173.6 75h.01M180.5 81.3h.01M186.8 88.2h.01M192.5 95.6h.01M197.6 103.5h.01M201.9 111.7h.01M205.4 120.4h.01M208.3 129.3h.01M210.3 138.4h.01M211.5 147.7h.01M211.9 157h.01M211.5 166.3h.01M210.3 175.6h.01M208.3 184.7h.01M205.4 193.6h.01M201.9 202.3h.01M197.6 210.6h.01M192.5 218.4h.01M186.8 225.8h.01M180.5 232.7h.01M173.6 239h.01M166.2 244.7h.01M158.4 249.8h.01M84.9 44h.01M94.8 42.7h.01M104.8 42.2h.01M114.8 42.7h.01M124.7 44h.01M134.5 46.2h.01M144 49.2h.01M153.3 53h.01M162.2 57.6h.01M170.6 63h.01M178.6 69.1h.01M185.9 75.9h.01M192.7 83.2h.01M198.8 91.2h.01M204.2 99.6h.01M208.8 108.5h.01M212.6 117.8h.01M215.6 127.3h.01M217.8 137.1h.01M219.1 147h.01M219.6 157h.01M219.1 167h.01M217.8 176.9h.01M215.6 186.7h.01M212.6 196.2h.01M208.8 205.5h.01M204.2 214.4h.01M198.8 222.8h.01M192.7 230.8h.01M185.9 238.1h.01M178.6 244.9h.01M170.6 251h.01M162.2 256.4h.01M83.5 36.5h.01M94.1 35.1h.01M104.8 34.6h.01M115.5 35.1h.01M126.1 36.5h.01M136.5 38.8h.01M146.7 42h.01M156.5 46.1h.01M166 51h.01M175 56.7h.01M183.5 63.2h.01M191.3 70.5h.01M198.6 78.3h.01M205.1 86.8h.01M210.8 95.8h.01M219.8 115.1h.01M223 125.3h.01M225.3 135.7h.01M226.7 146.3h.01M227.2 157h.01M226.7 167.7h.01M225.3 178.3h.01M223 188.7h.01M219.8 198.9h.01M215.7 208.7h.01M210.8 218.2h.01M205.1 227.2h.01M198.6 235.7h.01M191.3 243.5h.01M183.5 250.8h.01M175 257.3h.01M166 263h.01M82.2 28.9h.01M93.5 27.4h.01M104.8 26.9h.01M116.1 27.4h.01M127.4 28.9h.01M138.5 31.4h.01M159.8 39.1h.01M169.8 44.4h.01M188.4 57.4h.01M196.8 65h.01M204.4 73.4h.01M211.3 82.4h.01M217.4 92h.01M222.7 102h.01M227 112.5h.01M230.4 123.3h.01M232.9 134.4h.01M234.4 145.7h.01M234.9 157h.01M234.4 168.3h.01M232.9 179.6h.01M230.4 190.7h.01M227 201.5h.01M222.7 212h.01M217.4 222h.01M211.3 231.6h.01M204.4 240.6h.01M196.8 249h.01M188.4 256.6h.01M169.8 269.6h.01M80.9 21.4h.01M92.8 19.8h.01M104.8 19.3h.01M116.8 19.8h.01M128.7 21.4h.01M140.4 24h.01M151.9 27.6h.01M173.7 37.7h.01M183.8 44.2h.01M193.3 51.5h.01M202.2 59.6h.01M210.3 68.5h.01M217.6 78h.01M224.1 88.2h.01M229.6 98.8h.01M234.2 109.9h.01M240.4 133.1h.01M242 145h.01M242.5 157h.01M242 169h.01M240.4 180.9h.01M237.8 192.6h.01M234.2 204.1h.01M229.6 215.2h.01M224.1 225.8h.01M217.6 236h.01M210.3 245.5h.01M202.2 254.4h.01M193.3 262.5h.01M183.8 269.8h.01M173.7 276.3h.01M79.6 13.9h.01M92.1 12.2h.01M104.8 11.7h.01M130 13.9h.01M142.4 16.6h.01M154.5 20.4h.01M166.2 25.3h.01M177.5 31.1h.01M188.2 37.9h.01M198.2 45.7h.01M207.6 54.2h.01M216.1 63.6h.01M223.9 73.6h.01M230.7 84.3h.01M236.5 95.6h.01M241.4 107.3h.01M245.2 119.4h.01M247.9 131.8h.01M249.6 144.3h.01M250.1 157h.01M249.6 169.7h.01M245.2 194.6h.01M241.4 206.7h.01M236.5 218.4h.01M230.7 229.7h.01M223.9 240.4h.01M207.6 259.8h.01M198.2 268.3h.01M188.2 276.1h.01M177.5 282.9h.01M78.2 6.3h.01M91.5 4.6h.01M118.1 4.6h.01M144.4 9.2h.01M157.1 13.2h.01M169.5 18.3h.01M181.3 24.5h.01M192.6 31.7h.01M203.1 39.8h.01M213 48.8h.01M222 58.7h.01M230.1 69.2h.01M243.5 92.3h.01M248.6 104.7h.01M252.6 117.4h.01M255.5 130.4h.01M257.2 143.7h.01M257.2 170.3h.01M255.5 183.6h.01M252.6 196.6h.01M248.6 209.3h.01M243.5 221.7h.01M237.3 233.5h.01M222 255.3h.01M213 265.2h.01M203.1 274.2h.01M192.6 282.3h.01M181.3 289.5h.01M159.7 6h.01M185.1 17.9h.01M196.9 25.4h.01M208.1 33.9h.01M218.4 43.4h.01M227.9 53.7h.01M243.9 76.7h.01M250.4 89.1h.01M260 115.4h.01M263 129.1h.01M264.8 143h.01M265.4 157h.01M264.8 171h.01M260 198.6h.01M255.8 211.9h.01M243.9 237.3h.01M236.4 249.1h.01M227.9 260.3h.01M208.1 280.1h.01M196.9 288.6h.01M185.1 296.1h.01M175.9 4.5h.01M189 11.2h.01M201.3 19.1h.01M223.8 38h.01M233.7 48.8h.01M242.7 60.5h.01M250.6 72.9h.01M257.3 85.9h.01M263 99.4h.01M267.4 113.4h.01M270.5 127.8h.01M272.5 142.3h.01M273.1 157h.01M270.5 186.2h.01M263 214.6h.01M250.6 241.1h.01M233.7 265.2h.01M213 285.9h.01M189 302.8h.01M192.8 4.6h.01M205.7 12.9h.01M217.9 22.2h.01M229.2 32.6h.01M239.6 43.9h.01M248.9 56.1h.01M257.2 69h.01M264.3 82.6h.01M270.1 96.8h.01M274.8 111.5h.01M278.1 126.4h.01M280.1 141.7h.01M280.8 157h.01M278.1 187.6h.01M274.8 202.5h.01M270.1 217.2h.01M257.2 245h.01M239.6 270.1h.01M217.9 291.8h.01M205.7 301.1h.01M192.8 309.4h.01M210.1 6.6h.01M222.8 16.4h.01M234.6 27.2h.01M245.4 39h.01M255.2 51.7h.01M263.8 65.2h.01M271.2 79.4h.01M277.3 94.2h.01M282.1 109.5h.01M285.6 125.1h.01M287.7 141h.01M288.4 157h.01M285.6 188.9h.01M282.1 204.5h.01M277.3 219.8h.01M245.4 275h.01M234.6 286.8h.01M222.8 297.6h.01M210.1 307.4h.01M196.6 316h.01M214.5 0.3h.01M227.7 10.5h.01M240 21.8h.01M251.3 34.1h.01M261.5 47.3h.01M284.5 91.6h.01M289.5 107.5h.01M293.1 123.8h.01M295.3 140.3h.01M296.1 157h.01M293.1 190.2h.01M289.5 206.5h.01M284.5 222.4h.01M270.4 252.6h.01M251.3 279.9h.01M240 292.2h.01M227.7 303.5h.01M200.4 322.6h.01M232.7 4.6h.01M245.4 16.4h.01M257.2 29.1h.01M267.7 42.9h.01M285.1 72.9h.01M291.7 89h.01M296.9 105.5h.01M302.9 139.7h.01M291.7 225h.01M277.1 256.4h.01M245.4 297.6h.01M204.3 329.3h.01M250.9 10.9h.01M263 24.2h.01M274 38.5h.01M292 69.7h.01M298.9 86.4h.01M304.3 103.5h.01M310.6 139h.01M311.4 157h.01M308.2 192.9h.01M304.3 210.5h.01M298.9 227.6h.01M283.7 260.3h.01M263 289.8h.01M250.9 303.1h.01M208.1 335.9h.01M268.9 19.3h.01M280.3 34.1h.01M298.9 66.5h.01M306.1 83.7h.01M311.7 101.6h.01M315.7 119.8h.01M318.2 138.3h.01M315.7 194.2h.01M306.1 230.3h.01M256.3 308.5h.01M261.7 0.1h.01M274.7 14.4h.01M286.5 29.8h.01M305.9 63.2h.01M313.3 81.1h.01M323.3 118.5h.01M326.7 157h.01M323.3 195.5h.01M296.9 267.9h.01M274.7 299.6h.01M215.7 349.1h.01M280.6 9.5h.01M292.8 25.4h.01M320.5 78.5h.01M330.8 117.1h.01M333.4 137h.01M334.3 157h.01M326.5 216.4h.01M320.5 235.5h.01M303.6 271.8h.01M280.6 304.5h.01M219.6 355.8h.01M299.1 21h.01M319.7 56.8h.01M327.6 75.9h.01M333.9 95.6h.01M341 136.3h.01M341.9 157h.01M338.3 198.2h.01M327.6 238.1h.01M223.4 362.4h.01M292.3 -0.4h.01M345.9 114.5h.01M348.7 135.7h.01M334.8 240.7h.01M292.3 314.4h.01M227.2 369h.01M311.6 12.2h.01M348.6 91.7h.01M342 243.3h.01M298.2 319.3h.01M231 375.6h.01M304 324.2h.01" stroke="#f00"/><path d="M115.8 243.2h.01M116.4 243.4h.01M117 243.7h.01M117.6 244h.01M118.1 244.3h.01M118.7 244.7h.01M119.1 245.2h.01M119.6 245.6h.01M120 246.2h.01M120.3 246.7h.01M120.6 247.3h.01M120.9 247.9h.01M121.1 248.5h.01M121.2 249.2h.01M121.3 249.8h.01M121.3 250.5h.01M121.3 251.2h.01M121.2 251.8h.01M121.1 252.5h.01M120.9 253.1h.01M120.6 253.7h.01M120.3 254.3h.01M120 254.8h.01M119.6 255.4h.01M119.1 255.8h.01M118.7 256.3h.01M118.1 256.7h.01M117.6 257h.01M117 257.3h.01M116.4 257.6h.01M115.8 257.8h.01M115.1 257.9h.01M114.5 258h.01M113.8 258.1h.01M113.1 258h.01M112.5 257.9h.01M117.7 235.9h.01M119 236.3h.01M120.2 236.8h.01M121.3 237.4h.01M122.5 238.1h.01M123.5 238.9h.01M124.5 239.8h.01M125.4 240.8h.01M126.2 241.8h.01M126.9 242.9h.01M127.5 244.1h.01M128 245.3h.01M128.4 246.6h.01M128.7 247.9h.01M128.8 249.2h.01M128.9 250.5h.01M128.8 251.8h.01M128.7 253.1h.01M128.4 254.4h.01M128 255.7h.01M127.5 256.9h.01M126.9 258.1h.01M126.2 259.2h.01M125.4 260.2h.01M124.5 261.2h.01M123.5 262.1h.01M122.5 262.9h.01M121.3 263.6h.01M120.2 264.2h.01M119 264.7h.01M117.7 265.1h.01M116.4 265.4h.01M115.1 265.5h.01M113.8 265.6h.01M112.5 265.5h.01M111.2 265.4h.01M119.7 228.6h.01M121.5 229.2h.01M123.4 230h.01M125.1 230.9h.01M126.8 231.9h.01M128.4 233.1h.01M129.8 234.5h.01M131.2 235.9h.01M132.4 237.5h.01M133.4 239.2h.01M134.3 240.9h.01M135.1 242.8h.01M135.7 244.6h.01M136.1 246.6h.01M136.4 248.5h.01M136.4 250.5h.01M136.4 252.5h.01M136.1 254.4h.01M135.7 256.4h.01M135.1 258.2h.01M134.3 260.1h.01M133.4 261.8h.01M132.4 263.5h.01M131.2 265.1h.01M129.8 266.5h.01M128.4 267.9h.01M126.8 269.1h.01M125.1 270.1h.01M123.4 271h.01M121.5 271.8h.01M119.7 272.4h.01M117.7 272.8h.01M115.8 273.1h.01M113.8 273.1h.01M111.8 273.1h.01M109.9 272.8h.01M121.6 221.3h.01M124.1 222.1h.01M126.6 223.1h.01M128.9 224.3h.01M131.1 225.8h.01M133.2 227.4h.01M135.2 229.1h.01M136.9 231.1h.01M138.5 233.2h.01M140 235.4h.01M141.2 237.7h.01M142.2 240.2h.01M143 242.7h.01M143.5 245.3h.01M143.9 247.9h.01M144 250.5h.01M143.9 253.1h.01M143.5 255.7h.01M143 258.3h.01M142.2 260.8h.01M141.2 263.3h.01M140 265.6h.01M138.5 267.8h.01M136.9 269.9h.01M135.2 271.9h.01M133.2 273.6h.01M131.1 275.2h.01M128.9 276.7h.01M126.6 277.9h.01M124.1 278.9h.01M121.6 279.7h.01M119 280.2h.01M116.4 280.6h.01M113.8 280.7h.01M111.2 280.6h.01M108.6 280.2h.01M123.6 214h.01M126.7 215h.01M129.8 216.3h.01M132.7 217.8h.01M135.5 219.6h.01M138.1 221.6h.01M140.5 223.8h.01M142.7 226.2h.01M144.7 228.8h.01M146.5 231.6h.01M148 234.5h.01M149.3 237.6h.01M150.3 240.7h.01M151 243.9h.01M151.4 247.2h.01M151.6 250.5h.01M151.4 253.8h.01M151 257.1h.01M150.3 260.3h.01M149.3 263.4h.01M148 266.5h.01M146.5 269.4h.01M144.7 272.2h.01M142.7 274.8h.01M140.5 277.2h.01M138.1 279.4h.01M135.5 281.4h.01M132.7 283.2h.01M129.8 284.7h.01M126.7 286h.01M123.6 287h.01M120.4 287.7h.01M117.1 288.1h.01M113.8 288.2h.01M110.5 288.1h.01M107.2 287.7h.01M125.5 206.7h.01M129.3 207.9h.01M132.9 209.4h.01M136.4 211.3h.01M139.8 213.4h.01M142.9 215.8h.01M145.8 218.5h.01M148.5 221.4h.01M150.9 224.5h.01M153 227.8h.01M154.9 231.4h.01M156.4 235h.01M157.6 238.8h.01M158.4 242.6h.01M158.9 246.6h.01M159.1 250.5h.01M158.9 254.4h.01M158.4 258.4h.01M157.6 262.2h.01M156.4 266h.01M154.9 269.6h.01M153 273.1h.01M150.9 276.5h.01M148.5 279.6h.01M145.8 282.5h.01M142.9 285.2h.01M139.8 287.6h.01M136.4 289.7h.01M132.9 291.6h.01M129.3 293.1h.01M125.5 294.3h.01M121.7 295.1h.01M117.7 295.6h.01M113.8 295.8h.01M109.9 295.6h.01M105.9 295.1h.01M127.5 199.5h.01M131.9 200.8h.01M136.1 202.6h.01M140.2 204.7h.01M144.1 207.2h.01M147.8 210h.01M151.2 213.1h.01M154.3 216.5h.01M157.1 220.2h.01M159.6 224.1h.01M161.7 228.2h.01M163.5 232.4h.01M164.8 236.8h.01M165.8 241.3h.01M166.4 245.9h.01M166.7 250.5h.01M166.4 255.1h.01M165.8 259.7h.01M164.8 264.2h.01M163.5 268.6h.01M161.7 272.8h.01M159.6 276.9h.01M157.1 280.8h.01M154.3 284.5h.01M151.2 287.9h.01M147.8 291h.01M144.1 293.8h.01M140.2 296.3h.01M136.1 298.4h.01M131.9 300.2h.01M127.5 301.5h.01M123 302.5h.01M118.4 303.1h.01M113.8 303.4h.01M109.2 303.1h.01M104.6 302.5h.01M129.4 192.2h.01M134.5 193.7h.01M139.3 195.8h.01M144 198.2h.01M148.4 201h.01M152.6 204.2h.01M156.5 207.8h.01M160.1 211.7h.01M163.3 215.9h.01M166.1 220.3h.01M168.5 225h.01M170.6 229.8h.01M172.1 234.9h.01M173.3 240h.01M174 245.2h.01M174.2 250.5h.01M174 255.8h.01M173.3 261h.01M172.1 266.1h.01M170.6 271.2h.01M168.5 276h.01M166.1 280.7h.01M163.3 285.1h.01M160.1 289.3h.01M156.5 293.2h.01M152.6 296.8h.01M148.4 300h.01M144 302.8h.01M139.3 305.2h.01M134.5 307.3h.01M129.4 308.8h.01M124.3 310h.01M119.1 310.7h.01M113.8 310.9h.01M108.5 310.7h.01M103.3 310h.01M131.4 184.9h.01M137 186.6h.01M142.5 188.9h.01M147.8 191.7h.01M152.8 194.8h.01M157.5 198.4h.01M161.8 202.5h.01M165.9 206.8h.01M169.5 211.5h.01M172.6 216.5h.01M175.4 221.8h.01M177.7 227.3h.01M179.4 232.9h.01M180.7 238.7h.01M181.5 244.6h.01M181.8 250.5h.01M181.5 256.4h.01M180.7 262.3h.01M179.4 268.1h.01M177.7 273.7h.01M175.4 279.2h.01M172.6 284.5h.01M169.5 289.5h.01M165.9 294.2h.01M161.8 298.5h.01M157.5 302.6h.01M152.8 306.2h.01M147.8 309.3h.01M142.5 312.1h.01M137 314.4h.01M131.4 316.1h.01M125.6 317.4h.01M119.7 318.2h.01M113.8 318.4h.01M107.9 318.2h.01M102 317.4h.01M133.3 177.6h.01M139.6 179.6h.01M145.7 182.1h.01M151.6 185.1h.01M157.1 188.7h.01M162.3 192.7h.01M167.2 197.1h.01M171.6 202h.01M175.6 207.2h.01M179.2 212.8h.01M182.2 218.6h.01M184.7 224.7h.01M186.7 231h.01M188.2 237.4h.01M189 243.9h.01M189.3 250.5h.01M189 257.1h.01M188.2 263.6h.01M186.7 270h.01M184.7 276.3h.01M182.2 282.4h.01M179.2 288.2h.01M175.6 293.8h.01M171.6 299h.01M167.2 303.9h.01M162.3 308.3h.01M157.1 312.3h.01M151.6 315.9h.01M145.7 318.9h.01M139.6 321.4h.01M133.3 323.4h.01M126.9 324.9h.01M120.4 325.7h.01M113.8 326h.01M107.2 325.7h.01M100.7 324.9h.01M135.3 170.3h.01M142.2 172.5h.01M148.9 175.2h.01M155.3 178.6h.01M161.4 182.5h.01M167.2 186.9h.01M172.5 191.8h.01M177.4 197.1h.01M181.8 202.9h.01M185.7 209h.01M189.1 215.4h.01M191.8 222.1h.01M194 229h.01M195.6 236.1h.01M196.5 243.3h.01M196.8 250.5h.01M196.5 257.7h.01M195.6 264.9h.01M194 272h.01M191.8 278.9h.01M189.1 285.6h.01M185.7 292h.01M181.8 298.1h.01M177.4 303.9h.01M172.5 309.2h.01M167.2 314.1h.01M161.4 318.5h.01M155.3 322.4h.01M148.9 325.8h.01M142.2 328.5h.01M135.3 330.7h.01M128.2 332.3h.01M121 333.2h.01M113.8 333.6h.01M106.6 333.2h.01M99.4 332.3h.01M137.2 163h.01M144.8 165.4h.01M152.1 168.4h.01M159.1 172h.01M165.8 176.3h.01M172 181.1h.01M177.9 186.4h.01M183.2 192.3h.01M188 198.5h.01M192.3 205.2h.01M195.9 212.2h.01M198.9 219.5h.01M201.3 227.1h.01M203 234.8h.01M204.1 242.6h.01M204.4 250.5h.01M204.1 258.4h.01M203 266.2h.01M201.3 273.9h.01M198.9 281.5h.01M195.9 288.8h.01M192.3 295.8h.01M188 302.5h.01M183.2 308.7h.01M177.9 314.6h.01M172 319.9h.01M165.8 324.7h.01M159.1 329h.01M152.1 332.6h.01M144.8 335.6h.01M137.2 338h.01M129.5 339.7h.01M121.7 340.8h.01M113.8 341.1h.01M105.9 340.8h.01M98.1 339.7h.01M139.2 155.7h.01M147.4 158.3h.01M155.3 161.5h.01M162.9 165.5h.01M170.1 170.1h.01M176.9 175.3h.01M183.2 181.1h.01M189 187.4h.01M194.2 194.2h.01M198.8 201.4h.01M202.8 209h.01M206 216.9h.01M208.6 225.1h.01M210.5 233.5h.01M211.6 241.9h.01M211.9 250.5h.01M211.6 259.1h.01M210.5 267.5h.01M208.6 275.9h.01M206 284.1h.01M202.8 292h.01M198.8 299.6h.01M194.2 306.8h.01M189 313.6h.01M183.2 319.9h.01M176.9 325.7h.01M170.1 330.9h.01M162.9 335.5h.01M155.3 339.5h.01M147.4 342.7h.01M139.2 345.3h.01M130.8 347.2h.01M122.4 348.3h.01M113.8 348.6h.01M105.2 348.3h.01M96.8 347.2h.01M141.2 148.4h.01M150 151.2h.01M158.5 154.7h.01M166.7 159h.01M174.4 163.9h.01M181.7 169.5h.01M188.5 175.8h.01M194.8 182.6h.01M200.4 189.9h.01M205.3 197.7h.01M209.6 205.8h.01M213.1 214.3h.01M215.9 223.1h.01M217.9 232.1h.01M219.1 241.3h.01M219.5 250.5h.01M219.1 259.7h.01M217.9 268.9h.01M215.9 277.9h.01M213.1 286.7h.01M209.6 295.2h.01M205.3 303.4h.01M200.4 311.1h.01M194.8 318.4h.01M188.5 325.2h.01M181.7 331.5h.01M174.4 337.1h.01M166.7 342h.01M158.5 346.3h.01M150 349.8h.01M141.2 352.6h.01M132.2 354.6h.01M123 355.8h.01M113.8 356.2h.01M104.6 355.8h.01M95.4 354.6h.01M143.1 141.1h.01M152.5 144.1h.01M161.7 147.9h.01M170.4 152.4h.01M178.8 157.7h.01M186.6 163.7h.01M193.9 170.4h.01M200.6 177.7h.01M206.6 185.5h.01M211.9 193.9h.01M216.4 202.6h.01M220.2 211.8h.01M223.2 221.2h.01M225.3 230.8h.01M226.6 240.6h.01M227.1 250.5h.01M226.6 260.4h.01M225.3 270.2h.01M223.2 279.8h.01M220.2 289.2h.01M216.4 298.4h.01M211.9 307.1h.01M206.6 315.5h.01M200.6 323.3h.01M193.9 330.6h.01M186.6 337.3h.01M178.8 343.3h.01M170.4 348.6h.01M161.7 353.1h.01M152.5 356.9h.01M143.1 359.9h.01M133.5 362h.01M123.7 363.3h.01M113.8 363.8h.01M103.9 363.3h.01M94.1 362h.01M145.1 133.8h.01M155.1 137h.01M164.9 141h.01M174.2 145.9h.01M183.1 151.5h.01M191.4 158h.01M199.2 165.1h.01M206.3 172.9h.01M212.8 181.2h.01M218.4 190.1h.01M223.3 199.4h.01M227.3 209.2h.01M230.5 219.2h.01M232.8 229.5h.01M234.1 240h.01M234.6 250.5h.01M234.1 261h.01M232.8 271.5h.01M230.5 281.8h.01M227.3 291.8h.01M223.3 301.6h.01M218.4 310.9h.01M212.8 319.8h.01M206.3 328.1h.01M199.2 335.9h.01M191.4 343h.01M183.1 349.5h.01M174.2 355.1h.01M164.9 360h.01M155.1 364h.01M145.1 367.2h.01M134.8 369.5h.01M124.3 370.8h.01M113.8 371.3h.01M103.3 370.8h.01M92.8 369.5h.01M147 126.5h.01M157.7 129.9h.01M168 134.2h.01M178 139.3h.01M187.4 145.4h.01M196.3 152.2h.01M204.6 159.7h.01M212.1 168h.01M218.9 176.9h.01M225 186.3h.01M230.1 196.3h.01M234.4 206.6h.01M237.8 217.3h.01M240.2 228.2h.01M241.7 239.3h.01M242.1 250.5h.01M241.7 261.7h.01M240.2 272.8h.01M237.8 283.7h.01M234.4 294.4h.01M230.1 304.7h.01M225 314.7h.01M218.9 324.1h.01M212.1 333h.01M204.6 341.3h.01M196.3 348.8h.01M187.4 355.6h.01M178 361.7h.01M168 366.8h.01M157.7 371.1h.01M147 374.5h.01M136.1 376.9h.01M125 378.4h.01M113.8 378.9h.01M102.6 378.4h.01M91.5 376.9h.01M149 119.2h.01M160.3 122.8h.01M171.2 127.3h.01M181.8 132.8h.01M191.7 139.2h.01M201.2 146.4h.01M209.9 154.4h.01M217.9 163.1h.01M225.1 172.6h.01M231.5 182.6h.01M237 193.1h.01M241.5 204h.01M245.1 215.3h.01M247.6 226.9h.01M249.2 238.7h.01M249.7 250.5h.01M249.2 262.3h.01M247.6 274.1h.01M245.1 285.7h.01M241.5 297h.01M237 307.9h.01M231.5 318.4h.01M225.1 328.4h.01M217.9 337.9h.01M209.9 346.6h.01M201.2 354.6h.01M191.7 361.8h.01M181.8 368.2h.01M171.2 373.7h.01M160.3 378.2h.01M149 381.8h.01M137.4 384.3h.01M125.6 385.9h.01M113.8 386.4h.01M102 385.9h.01M90.2 384.3h.01M150.9 111.9h.01M162.9 115.7h.01M174.4 120.5h.01M185.5 126.3h.01M196.1 133h.01M206 140.6h.01M223.7 158.3h.01M231.3 168.2h.01M238 178.8h.01M243.8 189.9h.01M248.6 201.4h.01M252.4 213.4h.01M255.1 225.6h.01M256.7 238h.01M257.2 250.5h.01M256.7 263h.01M255.1 275.4h.01M252.4 287.6h.01M248.6 299.6h.01M243.8 311.1h.01M238 322.2h.01M231.3 332.8h.01M223.7 342.7h.01M215.2 351.9h.01M206 360.4h.01M196.1 368h.01M174.4 380.5h.01M162.9 385.3h.01M150.9 389.1h.01M138.7 391.8h.01M126.3 393.4h.01M113.8 393.9h.01M101.3 393.4h.01M88.9 391.8h.01M165.4 108.6h.01M177.6 113.6h.01M189.3 119.7h.01M210.9 134.8h.01M220.6 143.7h.01M229.5 153.4h.01M237.5 163.9h.01M244.6 175h.01M250.7 186.7h.01M259.7 211.4h.01M262.5 224.3h.01M264.2 237.3h.01M264.8 250.5h.01M264.2 263.7h.01M262.5 276.7h.01M259.7 289.6h.01M255.7 302.1h.01M250.7 314.3h.01M244.6 326h.01M237.5 337.1h.01M229.5 347.6h.01M220.6 357.3h.01M210.9 366.2h.01M200.4 374.2h.01M189.3 381.3h.01M177.6 387.4h.01M165.4 392.4h.01M152.9 396.4h.01M140 399.2h.01M127 400.9h.01M113.8 401.5h.01M100.6 400.9h.01M87.6 399.2h.01M168 101.5h.01M180.8 106.8h.01M193.1 113.2h.01M204.7 120.6h.01M215.7 129h.01M225.9 138.4h.01M235.3 148.6h.01M251.1 171.2h.01M257.5 183.5h.01M262.8 196.3h.01M266.9 209.5h.01M269.9 223h.01M271.7 236.7h.01M272.3 250.5h.01M271.7 264.3h.01M269.9 278h.01M266.9 291.5h.01M262.8 304.7h.01M257.5 317.5h.01M251.1 329.8h.01M243.7 341.4h.01M235.3 352.4h.01M225.9 362.6h.01M215.7 372h.01M204.7 380.4h.01M193.1 387.8h.01M180.8 394.2h.01M168 399.5h.01M154.8 403.6h.01M141.3 406.6h.01M127.6 408.4h.01M113.8 409h.01M100 408.4h.01M86.3 406.6h.01M184 100h.01M196.9 106.7h.01M220.6 123.3h.01M231.3 133h.01M241 143.7h.01M249.9 155.2h.01M257.6 167.5h.01M264.3 180.3h.01M269.9 193.7h.01M274.2 207.5h.01M277.4 221.7h.01M279.3 236h.01M279.9 250.5h.01M279.3 265h.01M277.4 279.3h.01M274.2 293.5h.01M264.3 320.7h.01M257.6 333.5h.01M249.9 345.8h.01M241 357.3h.01M231.3 368h.01M209.1 386.6h.01M196.9 394.3h.01M170.6 406.6h.01M156.8 410.9h.01M142.6 414.1h.01M99.3 416h.01M85 414.1h.01M200.6 100.1h.01M213.4 108.3h.01M225.4 117.5h.01M236.6 127.7h.01M246.8 138.9h.01M256 150.9h.01M264.2 163.7h.01M271.2 177.1h.01M277 191.1h.01M281.5 205.6h.01M284.8 220.3h.01M286.8 235.4h.01M286.8 265.6h.01M284.8 280.7h.01M281.5 295.4h.01M277 309.9h.01M271.2 323.9h.01M264.2 337.3h.01M256 350.1h.01M246.8 362.1h.01M213.4 392.7h.01M200.6 400.9h.01M187.2 407.9h.01M173.2 413.7h.01M158.7 418.2h.01M144 421.5h.01M113.8 424.1h.01M98.7 423.5h.01M83.6 421.5h.01M217.7 102.1h.01M241.9 122.4h.01M262.2 146.6h.01M278 173.9h.01M284.1 188.5h.01M288.8 203.6h.01M294.3 234.7h.01M295 250.5h.01M294.3 266.3h.01M278 327.1h.01M270.7 341.1h.01M262.2 354.4h.01M241.9 378.6h.01M217.7 398.9h.01M204.4 407.4h.01M190.4 414.7h.01M175.8 420.8h.01M160.7 425.5h.01M222.1 95.9h.01M235.1 105.9h.01M247.3 117h.01M258.4 129.2h.01M268.4 142.2h.01M277.3 156.1h.01M296.1 201.6h.01M299.7 217.7h.01M301.8 234h.01M302.6 250.5h.01M301.8 267h.01M299.7 283.3h.01M296.1 299.4h.01M291.2 315.1h.01M284.9 330.3h.01M277.3 344.9h.01M247.3 384h.01M208.2 414h.01M193.6 421.6h.01M240 100.1h.01M264.2 124.3h.01M274.6 137.9h.01M283.8 152.4h.01M291.7 167.5h.01M298.3 183.4h.01M303.4 199.7h.01M307.1 216.4h.01M309.4 233.4h.01M309.4 267.6h.01M307.1 284.6h.01M303.4 301.3h.01M298.3 317.6h.01M291.7 333.5h.01M283.8 348.6h.01M264.2 376.7h.01M252.6 389.3h.01M244.8 94.3h.01M257.9 106.4h.01M270 119.5h.01M290.3 148.6h.01M298.6 164.3h.01M310.7 197.7h.01M314.6 215.1h.01M316.9 232.7h.01M317.6 250.5h.01M316.9 268.3h.01M314.6 285.9h.01M310.7 303.3h.01M298.6 336.7h.01M290.3 352.4h.01M270 381.5h.01M257.9 394.6h.01M249.7 88.6h.01M263.3 101h.01M275.7 114.6h.01M287 129.2h.01M296.9 144.8h.01M305.4 161.2h.01M318 195.8h.01M322 213.8h.01M324.4 232.1h.01M325.2 250.5h.01M324.4 268.9h.01M322 287.2h.01M312.5 322.8h.01M305.4 339.8h.01M296.9 356.2h.01M275.7 386.4h.01M263.3 400h.01M268.6 95.7h.01M281.5 109.8h.01M312.2 158h.01M319.5 175.6h.01M329.4 212.5h.01M332.8 250.5h.01M331.9 269.6h.01M329.4 288.5h.01M325.3 307.2h.01M303.4 360h.01M281.5 391.2h.01M268.6 405.3h.01M259.4 77h.01M274 90.3h.01M310 137.2h.01M326.6 173h.01M332.6 191.9h.01M336.9 211.2h.01M339.4 230.8h.01M336.9 289.8h.01M332.6 309.1h.01M319.1 346.2h.01M310 363.8h.01M287.3 396.1h.01M274 410.7h.01M264.2 71.2h.01M279.3 85h.01M293.1 100.1h.01M305.5 116.3h.01M316.5 133.5h.01M325.9 151.6h.01M339.9 189.9h.01M344.3 209.9h.01M347 230.1h.01M347 270.9h.01M339.9 311.1h.01M333.7 330.5h.01M325.9 349.4h.01M279.3 416h.01M298.9 95.2h.01M311.7 111.9h.01M340.8 167.9h.01M347.2 313h.01M340.8 333.1h.01M284.6 421.3h.01M274 59.6h.01M329.6 125.9h.01M339.6 145.2h.01M278.8 53.9h.01M295.3 69h.01M324.1 103.3h.01M336.1 122.2h.01M346.4 142h.01M346.4 359h.01M310.4 415.5h.01M283.7 48.1h.01M300.7 63.6h.01M316.2 80.6h.01M306 58.3h.01M336.4 94.6h.01" stroke="#0f0"/><path d="M70.1 270.9h.01M70.2 271.6h.01M70.3 272.2h.01M70.3 272.9h.01M70.2 273.5h.01M70.1 274.2h.01M69.9 274.8h.01M69.7 275.4h.01M69.4 276h.01M69.1 276.6h.01M68.7 277.1h.01M68.3 277.6h.01M67.8 278.1h.01M67.3 278.5h.01M66.8 278.9h.01M66.2 279.2h.01M65.6 279.5h.01M65 279.7h.01M64.4 279.8h.01M63.7 279.9h.01M63.1 280h.01M62.4 280h.01M61.8 279.9h.01M77.5 269.4h.01M77.7 270.7h.01M77.8 272h.01M77.8 273.3h.01M77.7 274.6h.01M77.4 275.9h.01M77.1 277.1h.01M72.8 283.6h.01M71.8 284.5h.01M70.7 285.2h.01M69.6 285.9h.01M68.4 286.4h.01M67.2 286.8h.01M65.9 287.2h.01M64.6 287.4h.01M63.3 287.5h.01M62 287.5h.01M60.7 287.4h.01M84.8 267.8h.01M85.1 269.8h.01M85.3 271.7h.01M85.3 273.7h.01M85.1 275.6h.01M84.7 277.6h.01M84.2 279.5h.01M77.9 289.2h.01M76.3 290.5h.01M74.7 291.6h.01M73 292.5h.01M71.2 293.4h.01M69.4 294h.01M67.5 294.5h.01M65.5 294.8h.01M63.6 295h.01M61.6 295h.01M59.7 294.8h.01M92.1 266.3h.01M92.6 268.8h.01M92.8 274.1h.01M92.5 276.7h.01M92 279.2h.01M91.3 281.8h.01M80.9 296.5h.01M78.7 297.9h.01M74 300.3h.01M71.6 301.2h.01M69 301.8h.01M66.5 302.3h.01M63.8 302.5h.01M58.6 302.2h.01M99.5 264.7h.01M100 267.9h.01M100.2 274.5h.01M99.9 277.7h.01M98.5 284.1h.01M85.4 302.4h.01M82.7 304.3h.01M76.8 307.3h.01M73.8 308.4h.01M70.6 309.2h.01M64.1 310h.01M106.8 263.1h.01M107.5 267h.01M107.7 274.9h.01M107.4 278.8h.01M105.6 286.4h.01M86.6 310.7h.01M79.7 314.2h.01M76 315.5h.01M72.2 316.5h.01M64.4 317.5h.01" stroke="#f00"/><path d="M21.4 311h.01M22.3 312h.01M23 313.1h.01M23.7 314.2h.01M24.2 315.4h.01M24.6 316.6h.01M25 317.9h.01M25.2 319.2h.01M25.3 320.5h.01M25.3 321.8h.01M25.2 323.1h.01M24.9 324.4h.01M24.6 325.6h.01M24.1 326.9h.01M23.5 328h.01M22.9 329.2h.01M22.1 330.2h.01M21.3 331.2h.01M20.3 332.1h.01M19.3 333h.01M18.2 333.7h.01M17.1 334.4h.01M15.9 334.9h.01M14.7 335.3h.01M13.4 335.7h.01M12.1 335.9h.01M10.8 336h.01M9.5 336h.01M8.2 335.9h.01M6.9 335.6h.01M5.7 335.3h.01M4.4 334.8h.01M3.3 334.2h.01M2.1 333.6h.01M1.1 332.8h.01M27 305.9h.01M28.3 307.5h.01M29.4 309.1h.01M30.3 310.8h.01M31.2 312.6h.01M31.8 314.4h.01M32.3 316.3h.01M32.6 318.3h.01M32.8 320.2h.01M32.8 322.2h.01M32.6 324.1h.01M32.2 326.1h.01M31.7 328h.01M31 329.8h.01M30.2 331.6h.01M29.2 333.3h.01M28 334.9h.01M26.8 336.3h.01M25.4 337.7h.01M23.8 339h.01M22.2 340.1h.01M20.5 341h.01M18.7 341.9h.01M16.9 342.5h.01M15 343h.01M13 343.3h.01M11.1 343.5h.01M9.1 343.5h.01M7.2 343.3h.01M5.2 342.9h.01M3.3 342.4h.01M1.5 341.7h.01M-0.3 340.9h.01M32.6 300.9h.01M34.3 302.9h.01M35.7 305.1h.01M37 307.4h.01M38.1 309.8h.01M39 312.2h.01M39.6 314.8h.01M40.1 317.3h.01M40.3 320h.01M40.3 322.6h.01M40 325.2h.01M39.5 327.7h.01M38.8 330.3h.01M37.9 332.7h.01M36.8 335.1h.01M35.5 337.3h.01M33.9 339.5h.01M32.2 341.5h.01M30.4 343.3h.01M28.4 345h.01M26.2 346.4h.01M23.9 347.7h.01M21.5 348.8h.01M19.1 349.7h.01M16.5 350.3h.01M14 350.8h.01M11.3 351h.01M8.7 351h.01M6.1 350.7h.01M3.6 350.2h.01M1 349.5h.01M38.2 295.9h.01M40.2 298.4h.01M42.1 301.1h.01M43.7 304h.01M45.1 307h.01M46.2 310h.01M47 313.2h.01M47.5 316.4h.01M47.8 319.7h.01M47.7 323h.01M47.4 326.2h.01M46.8 329.4h.01M46 332.6h.01M44.8 335.7h.01M43.4 338.6h.01M41.8 341.4h.01M39.9 344.1h.01M37.7 346.6h.01M35.4 348.9h.01M32.9 350.9h.01M30.2 352.8h.01M27.3 354.4h.01M24.3 355.8h.01M21.3 356.9h.01M18.1 357.7h.01M14.9 358.2h.01M11.6 358.5h.01M8.3 358.4h.01M5.1 358.1h.01M1.9 357.5h.01M43.7 290.9h.01M46.2 293.9h.01M48.5 297.2h.01M50.4 300.6h.01M52 304.1h.01M53.3 307.8h.01M54.3 311.6h.01M55 315.5h.01M55.3 319.4h.01M55.2 323.4h.01M54.9 327.3h.01M54.1 331.1h.01M53.1 334.9h.01M51.7 338.6h.01M50 342.1h.01M48 345.5h.01M45.8 348.7h.01M43.2 351.7h.01M40.4 354.4h.01M37.4 356.9h.01M34.1 359.2h.01M30.7 361.1h.01M27.2 362.7h.01M23.5 364h.01M19.7 365h.01M15.8 365.7h.01M11.9 366h.01M7.9 365.9h.01M4 365.6h.01M0.2 364.8h.01M49.3 285.9h.01M52.2 289.4h.01M54.8 293.2h.01M57.1 297.2h.01M59 301.3h.01M60.5 305.7h.01M61.7 310.1h.01M62.4 314.6h.01M62.8 319.2h.01M62.7 323.7h.01M62.3 328.3h.01M61.5 332.8h.01M60.2 337.2h.01M58.6 341.5h.01M56.7 345.6h.01M54.3 349.6h.01M51.7 353.3h.01M48.7 356.8h.01M45.4 360h.01M41.9 362.9h.01M38.1 365.5h.01M34.1 367.8h.01M30 369.7h.01M25.6 371.2h.01M21.2 372.4h.01M16.7 373.1h.01M12.1 373.5h.01M7.6 373.4h.01M3 373h.01M54.9 280.9h.01M58.2 284.9h.01M61.2 289.2h.01M63.8 293.8h.01M65.9 298.5h.01M67.7 303.5h.01M69 308.5h.01M69.9 313.7h.01M70.3 318.9h.01M70.2 324.1h.01M69.7 329.4h.01M68.8 334.5h.01M67.4 339.5h.01M65.5 344.4h.01M63.3 349.2h.01M60.6 353.7h.01M57.6 357.9h.01M54.2 361.9h.01M50.4 365.6h.01M46.4 368.9h.01M42.1 371.9h.01M37.5 374.5h.01M32.8 376.6h.01M27.8 378.4h.01M22.8 379.7h.01M17.6 380.6h.01M12.4 381h.01M7.2 380.9h.01M1.9 380.4h.01M60.5 275.8h.01M64.2 280.4h.01M67.5 285.2h.01M70.4 290.4h.01M72.9 295.7h.01M74.9 301.3h.01M76.3 307h.01M77.3 312.8h.01M77.8 318.6h.01M77.7 324.5h.01M77.1 330.4h.01M76.1 336.2h.01M74.5 341.9h.01M72.4 347.4h.01M69.9 352.7h.01M66.9 357.8h.01M63.5 362.6h.01M59.7 367h.01M55.5 371.2h.01M50.9 374.9h.01M46.1 378.2h.01M40.9 381.1h.01M35.6 383.6h.01M30 385.6h.01M24.3 387h.01M18.5 388h.01M12.7 388.5h.01M6.8 388.4h.01M0.9 387.8h.01M66 270.8h.01M70.2 275.9h.01M73.9 281.3h.01M77.1 287h.01M79.8 292.9h.01M82 299.1h.01M83.7 305.4h.01M84.7 311.9h.01M85.3 318.4h.01M85.2 324.9h.01M84.6 331.4h.01M83.4 337.9h.01M81.6 344.2h.01M79.3 350.3h.01M76.5 356.2h.01M73.2 361.8h.01M69.4 367.2h.01M65.2 372.1h.01M60.5 376.7h.01M55.4 380.9h.01M50 384.6h.01M44.3 387.8h.01M38.4 390.5h.01M32.2 392.7h.01M25.9 394.4h.01M19.4 395.4h.01M12.9 396h.01M6.4 395.9h.01M-0.1 395.3h.01M71.6 265.8h.01M76.2 271.4h.01M80.3 277.3h.01M83.8 283.5h.01M86.8 290.1h.01M89.2 296.9h.01M91 303.8h.01M92.2 310.9h.01M92.7 318.1h.01M92.7 325.3h.01M92 332.5h.01M90.7 339.6h.01M88.8 346.5h.01M86.2 353.2h.01M83.1 359.7h.01M79.5 365.9h.01M75.3 371.8h.01M70.6 377.3h.01M65.5 382.3h.01M59.9 386.9h.01M54 391h.01M47.8 394.5h.01M41.2 397.5h.01M34.4 399.9h.01M27.5 401.7h.01M20.4 402.9h.01M13.2 403.4h.01M6 403.4h.01M77.2 260.8h.01M82.2 266.8h.01M86.6 273.3h.01M90.5 280.1h.01M93.7 287.3h.01M96.4 294.7h.01M98.3 302.3h.01M99.6 310h.01M100.2 317.9h.01M100.2 325.7h.01M99.4 333.5h.01M98 341.2h.01M95.9 348.8h.01M93.1 356.2h.01M89.8 363.3h.01M85.8 370h.01M81.2 376.4h.01M76.1 382.4h.01M70.5 387.9h.01M64.5 392.9h.01M58 397.3h.01M51.2 401.2h.01M44 404.4h.01M36.6 407.1h.01M29 409h.01M21.3 410.3h.01M13.4 410.9h.01M5.6 410.9h.01M82.8 255.8h.01M88.2 262.3h.01M93 269.3h.01M97.2 276.7h.01M100.7 284.5h.01M103.5 292.5h.01M105.7 300.7h.01M107.1 309.1h.01M107.7 317.6h.01M107.7 326.1h.01M106.9 334.6h.01M105.3 342.9h.01M103 351.1h.01M100 359.1h.01M96.4 366.8h.01M92.1 374.1h.01M87.1 381h.01M81.6 387.5h.01M75.5 393.5h.01M69 398.9h.01M62 403.7h.01M54.6 407.9h.01M46.8 411.4h.01M38.8 414.2h.01M30.6 416.4h.01M22.2 417.8h.01M13.7 418.4h.01M5.2 418.4h.01M88.3 250.7h.01M94.2 257.8h.01M99.3 265.4h.01M103.9 273.3h.01M107.7 281.7h.01M110.7 290.3h.01M113 299.2h.01M114.5 308.2h.01M115.2 317.3h.01M115.2 326.5h.01M114.3 335.6h.01M112.6 344.6h.01M110.2 353.4h.01M107 362h.01M103 370.3h.01M98.4 378.2h.01M93 385.6h.01M87.1 392.6h.01M80.6 399h.01M73.5 404.9h.01M65.9 410h.01M58 414.6h.01M49.6 418.4h.01M41 421.4h.01M32.1 423.7h.01M23.1 425.2h.01M14 425.9h.01M4.8 425.9h.01M93.9 245.7h.01M100.1 253.3h.01M105.7 261.4h.01M110.5 269.9h.01M114.6 278.9h.01M117.9 288.1h.01M120.3 297.6h.01M122 307.3h.01M122.7 317.1h.01M122.6 326.9h.01M121.7 336.7h.01M119.9 346.3h.01M117.3 355.8h.01M113.9 365h.01M109.6 373.8h.01M104.7 382.3h.01M99 390.3h.01M92.6 397.7h.01M85.6 404.6h.01M78 410.8h.01M69.9 416.4h.01M61.4 421.2h.01M52.4 425.3h.01M99.5 240.7h.01M106.1 248.8h.01M112.1 257.4h.01M117.2 266.5h.01M121.6 276h.01M125.1 285.9h.01M127.7 296.1h.01M129.4 306.4h.01M130.2 316.8h.01M130.1 327.3h.01M129.1 337.7h.01M127.2 348h.01M124.4 358.1h.01M120.8 367.9h.01M116.3 377.3h.01M110.9 386.4h.01M104.9 394.9h.01M98.1 402.8h.01M90.6 410.2h.01M73.9 422.8h.01M64.8 427.9h.01M112.1 244.3h.01M118.4 253.4h.01M123.9 263.1h.01M128.5 273.2h.01M132.2 283.7h.01M135 294.5h.01M136.8 305.5h.01M137.7 316.6h.01M137.6 327.7h.01M136.6 338.7h.01M134.5 349.7h.01M131.6 360.4h.01M127.7 370.8h.01M122.9 380.9h.01M117.2 390.4h.01M110.8 399.5h.01M103.5 408h.01M95.6 415.8h.01M87 422.8h.01M110.6 230.7h.01M118.1 239.8h.01M124.8 249.5h.01M130.6 259.7h.01M135.5 270.4h.01M139.4 281.5h.01M142.3 292.9h.01M144.3 304.5h.01M145.2 316.3h.01M144 339.8h.01M141.8 351.4h.01M138.7 362.7h.01M134.6 373.7h.01M129.5 384.4h.01M123.5 394.5h.01M109 413.1h.01M100.6 421.3h.01M116.2 225.6h.01M124.1 235.2h.01M131.1 245.5h.01M137.3 256.3h.01M142.4 267.6h.01M146.6 279.3h.01M149.7 291.4h.01M151.7 303.6h.01M152.7 316h.01M152.6 328.5h.01M149.1 353.1h.01M145.8 365h.01M141.5 376.7h.01M136.1 387.9h.01M129.8 398.6h.01M114.5 418.2h.01M121.8 220.6h.01M130.1 230.7h.01M137.5 241.5h.01M144 252.9h.01M149.4 264.8h.01M153.7 277.1h.01M160.1 328.9h.01M153 367.4h.01M148.4 379.6h.01M142.7 391.4h.01M136.1 402.7h.01M120 423.3h.01M127.3 215.6h.01M136.1 226.2h.01M143.9 237.5h.01M150.6 249.5h.01M156.3 262h.01M160.9 275h.01M167.7 315.5h.01M167.6 329.2h.01M163.8 356.4h.01M160.1 369.7h.01M155.3 382.5h.01M149.4 394.9h.01M142.4 406.8h.01M132.9 210.6h.01M142.1 221.7h.01M150.2 233.6h.01M157.3 246.1h.01M163.3 259.2h.01M168.1 272.8h.01M175.2 315.2h.01M175.1 329.6h.01M167.2 372h.01M162.2 385.5h.01M156 398.5h.01M148.7 410.9h.01M148.1 217.2h.01M156.6 229.6h.01M164 242.7h.01M170.2 256.4h.01M175.3 270.6h.01M182.6 330h.01M178.4 359.8h.01M174.4 374.3h.01M162.6 402h.01M155 415h.01M162.9 225.6h.01M170.7 239.3h.01M190.1 330.4h.01M185.7 361.5h.01M181.5 376.6h.01M176 391.3h.01M169.2 405.5h.01M161.3 419h.01M160 208.2h.01M169.3 221.6h.01M189.6 266.2h.01M197.5 330.8h.01M193 363.2h.01M188.6 378.9h.01M175.9 409h.01M167.6 423.1h.01M166 203.6h.01M175.7 217.7h.01M196.8 264h.01M205 331.2h.01M200.3 364.9h.01M195.8 381.3h.01M189.8 397.2h.01M182.5 412.5h.01M173.8 427.2h.01M172 199.1h.01M182 213.7h.01M207.6 366.6h.01M202.9 383.6h.01M189.1 416.1h.01M178 194.6h.01M214.9 368.2h.01M210 385.9h.01M203.6 403.1h.01" stroke="#000"/><path d="M80.6 0.4h.01M90.3 0.4h.01M104.7 0.4h.01M106.9 0.4h.01M119.6 0.4h.01M122.4 0.4h.01M124.9 0.4h.01M127.1 0.4h.01M129.1 0.4h.01M132.9 0.4h.01M143.2 0.4h.01M145.4 0.4h.01M151 0.4h.01M163.2 0.4h.01M174.9 0.4h.01M181 0.4h.01M188.7 0.4h.01M191.6 0.4h.01M193.8 0.4h.01M196.3 0.4h.01M204.2 0.4h.01M206.5 0.4h.01M210 0.4h.01M223.6 0.4h.01M227.2 0.4h.01M229.2 0.4h.01M235.6 0.4h.01M240.8 0.4h.01M251.3 0.4h.01M254.3 0.4h.01M259.4 0.4h.01M262.1 0.4h.01M264.1 0.4h.01M275.9 0.4h.01M278.5 0.4h.01M290.4 0.4h.01M295.3 0.4h.01M298.5 0.4h.01M301.9 0.4h.01M307.8 0.4h.01M309.6 0.4h.01M313.6 0.4h.01M315.5 0.4h.01M317.8 0.4h.01M319.8 0.4h.01M323.1 0.4h.01M326.3 0.4h.01M333.8 0.4h.01M340.2 0.4h.01" stroke="#00f"/><path d="M77 0.4h.01M84 0.4h.01M87.2 0.4h.01M93.7 0.4h.01M97.7 0.4h.01M101.7 0.4h.01M110.9 0.4h.01M114.9 0.4h.01M117.8 0.4h.01M136.4 0.4h.01M140.2 0.4h.01M148 0.4h.01M153.2 0.4h.01M157.4 0.4h.01M159.5 0.4h.01M166.5 0.4h.01M169.5 0.4h.01M171.7 0.4h.01M178.2 0.4h.01M184.5 0.4h.01M200 0.4h.01M212.3 0.4h.01M216.5 0.4h.01M220.5 0.4h.01M232.8 0.4h.01M237.8 0.4h.01M244.4 0.4h.01M248.2 0.4h.01M256.5 0.4h.01M267.3 0.4h.01M271.2 0.4h.01M273.5 0.4h.01M280.6 0.4h.01M282.6 0.4h.01M286.1 0.4h.01M288.1 0.4h.01M293.3 0.4h.01M304.6 0.4h.01M329.1 0.4h.01M331.6 0.4h.01M337.8 0.4h.01M342.7 0.4h.01M345.4 0.4h.01" stroke="#f00"/><path d="M347.6 150h.01M347.6 162.6h.01M347.6 172.9h.01M347.6 181.1h.01M347.6 192.6h.01M347.6 202.1h.01M347.6 208.5h.01M347.6 218.1h.01M347.6 225.6h.01M347.6 232.2h.01M347.6 240.3h.01M347.6 254h.01M347.6 265.3h.01M347.6 274.8h.01M347.6 285.5h.01M347.6 294.6h.01M347.6 305.1h.01M347.6 313.2h.01M347.6 326h.01M347.6 338.3h.01M347.6 347.9h.01M347.6 358.3h.01M347.6 367.3h.01M347.6 379.5h.01M347.6 392.2h.01M347.6 405.6h.01M347.6 412.4h.01M347.6 425.7h.01M187 426.8h.01M208.6 426.8h.01M227.5 426.8h.01M247.1 426.8h.01M257.3 426.8h.01M270 426.8h.01M281.5 426.8h.01M294.6 426.8h.01M315 426.8h.01M337 426.8h.01" stroke="#0f0"/><path d="M120 426.8h.01M129.6 426.8h.01M143.3 426.8h.01M160.4 426.8h.01M170 426.8h.01" stroke="#000"/></g>
<use href="#land"/>
<path d="M216.7 0.7 212.9 29.5 208.5 44 204.5 58.3 203.3 64 201 75 198.5 85.6 196.2 103.8 194.5 112 193.2 120.5 194.2 128 193.9 135.6 192.7 146 192.4 153.8 187.9 161.4" fill="none" stroke="#000" stroke-width="0.85" stroke-linejoin="round"/><path d="M194.6 194.4 197.3 202.4 192 207.7 193.3 214.4 190.6 223.7 184 229 176 240 168 253 160.3 265 150.3 273 143.3 281 135.3 286 128.3 294 119.3 302 113.3 313 105.3 325 95.3 334 89.3 342 85.3 350 81.3 355 77 358" fill="none" stroke="#000" stroke-width="0.85" stroke-linejoin="round"/><path d="M56.8 387.2 48.3 397.7 41.3 405.7 34.3 411.7 27.3 420.7 21.3 427.2" fill="none" stroke="#000" stroke-width="0.85" stroke-linejoin="round"/><circle cx="203.6" cy="60.4" r="1.4" fill="none" stroke="#000" stroke-width="0.7"/><text transform="translate(190.8 178.5) rotate(80)" font-size="17.5" text-anchor="middle" dy="0.35em">-100</text><text transform="translate(67.6 372.5) rotate(-56)" font-size="17.5" text-anchor="middle" dy="0.35em">-100</text>
<use href="#sites"/>
</g>
<rect x="0" y="0" width="348" height="427.2" fill="none" stroke="#1a1a1a" stroke-width="1.1"/>
<use href="#ticks"/>
<text x="284.4" y="37.7" font-size="21.6">10 km</text><path d="M305.2 43.9H321.5" stroke="#000" stroke-width="3.4" stroke-linecap="round"/>
<text x="173.5" y="-12.5" font-size="25" font-weight="bold" text-anchor="middle">Radial Grid</text>
</g>
<g transform="translate(458.5 742)">
<text x="-7.5" y="434.7" font-size="20" text-anchor="end">34°N</text><text x="-7.5" y="293.9" font-size="20" text-anchor="end">35°N</text><text x="-7.5" y="151.4" font-size="20" text-anchor="end">36°N</text><text x="-7.5" y="7.1" font-size="20" text-anchor="end">37°N</text><text x="-7" y="363" font-size="15" text-anchor="end">30'</text><text x="-7" y="221.4" font-size="15" text-anchor="end">30'</text><text x="-7" y="78" font-size="15" text-anchor="end">30'</text><text x="-0.5" y="444.5" font-size="15" text-anchor="middle">30'</text><text x="60" y="448.2" font-size="20" text-anchor="middle">76°W</text><text x="115.5" y="444.5" font-size="15" text-anchor="middle">30'</text><text x="176" y="448.2" font-size="20" text-anchor="middle">75°W</text><text x="231.5" y="444.5" font-size="15" text-anchor="middle">30'</text><text x="292" y="448.2" font-size="20" text-anchor="middle">74°W</text><text x="347.5" y="444.5" font-size="15" text-anchor="middle">30'</text>
<g clip-path="url(#ax)">
<use href="#grid"/>
<g shape-rendering="crispEdges"><path fill="#0000cf" d="M67.2 0H82.8V8.1H67.2ZM159 0H167V8.1H159ZM174.3 0H182.3V8.1H174.3ZM327.3 0H335.2V8.1H327.3ZM97.8 7.8H105.8V15.9H97.8ZM113.1 15.6H121V23.6H113.1ZM296.7 15.6H304.7V23.6H296.7ZM82.5 23.3H90.5V31.4H82.5ZM105.5 23.3H121V31.4H105.5ZM189.6 23.3H197.6V31.4H189.6ZM327.3 23.3H335.2V31.4H327.3ZM97.8 31.1H105.8V39.1H97.8ZM143.7 31.1H151.7V39.1H143.7ZM166.7 31.1H189.9V39.1H166.7ZM97.8 38.8H105.8V46.9H97.8ZM120.8 38.8H128.7V46.9H120.8ZM143.7 38.8H151.7V46.9H143.7ZM197.2 38.8H205.2V46.9H197.2ZM128.4 46.6H136.4V54.6H128.4ZM143.7 46.6H159.3V54.6H143.7ZM266.1 46.6H274.1V54.6H266.1ZM82.5 54.3H105.8V62.4H82.5ZM166.7 54.3H174.6V62.4H166.7ZM97.8 62.1H105.8V70.1H97.8ZM166.7 62.1H174.6V70.1H166.7ZM204.9 62.1H212.9V70.1H204.9ZM227.9 62.1H235.8V70.1H227.9ZM97.8 69.8H105.8V77.8H97.8ZM143.7 69.8H151.7V77.8H143.7ZM166.7 69.8H174.6V77.8H166.7ZM189.6 69.8H197.6V77.8H189.6ZM212.6 69.8H220.5V77.8H212.6ZM281.4 69.8H289.4V77.8H281.4ZM105.5 77.5H113.4V85.6H105.5ZM120.8 77.5H128.7V85.6H120.8ZM258.5 77.5H266.4V85.6H258.5ZM90.2 85.3H98.1V93.3H90.2ZM189.6 85.3H197.6V93.3H189.6ZM212.6 85.3H220.5V93.3H212.6ZM227.9 85.3H243.5V93.3H227.9ZM105.5 93H113.4V101H105.5ZM189.6 93H197.6V101H189.6ZM266.1 93H281.7V101H266.1ZM174.3 100.7H189.9V108.7H174.3ZM204.9 100.7H212.9V108.7H204.9ZM243.2 100.7H251.1V108.7H243.2ZM258.5 100.7H266.4V108.7H258.5ZM281.4 100.7H304.7V108.7H281.4ZM97.8 108.4H105.8V116.4H97.8ZM151.3 108.4H159.3V116.4H151.3ZM189.6 108.4H205.2V116.4H189.6ZM296.7 116.1H304.7V124.1H296.7ZM143.7 123.8H151.7V131.8H143.7ZM159 123.8H174.6V131.8H159ZM273.8 123.8H281.7V131.8H273.8ZM182 131.5H189.9V139.5H182ZM273.8 131.5H281.7V139.5H273.8ZM289.1 131.5H297V139.5H289.1ZM143.7 139.2H151.7V147.2H143.7ZM304.4 139.2H312.3V147.2H304.4ZM136.1 146.9H144V154.8H136.1ZM151.3 146.9H159.3V154.8H151.3ZM166.7 146.9H174.6V154.8H166.7ZM304.4 146.9H312.3V154.8H304.4ZM166.7 154.5H174.6V162.5H166.7ZM304.4 154.5H312.3V162.5H304.4ZM319.7 162.2H327.6V170.2H319.7ZM143.7 169.9H151.7V177.8H143.7ZM120.8 185.2H128.7V193.2H120.8ZM151.3 185.2H159.3V193.2H151.3ZM304.4 185.2H312.3V193.2H304.4ZM289.1 200.5H297V208.4H289.1ZM258.5 238.7H266.4V246.6H258.5ZM281.4 246.3H289.4V254.2H281.4ZM289.1 253.9H304.7V261.8H289.1ZM90.2 261.5H98.1V269.4H90.2ZM296.7 261.5H304.7V269.4H296.7ZM67.2 269.1H75.2V277H67.2ZM90.2 269.1H98.1V277H90.2ZM235.5 269.1H243.5V277H235.5ZM67.2 284.3H75.2V292.2H67.2ZM235.5 284.3H243.5V292.2H235.5ZM67.2 307H75.2V314.9H67.2ZM220.2 367.4H228.2V375.3H220.2ZM204.9 375H212.9V382.8H204.9ZM212.6 390H220.5V397.8H212.6ZM197.2 397.5H212.9V405.3H197.2ZM204.9 405H212.9V412.9H204.9Z"/><path fill="#0000ff" d="M82.5 0H90.5V8.1H82.5ZM189.6 0H197.6V8.1H189.6ZM227.9 0H235.8V8.1H227.9ZM304.4 0H312.3V8.1H304.4ZM82.5 7.8H90.5V15.9H82.5ZM113.1 7.8H121V15.9H113.1ZM220.2 7.8H228.2V15.9H220.2ZM74.9 15.6H82.8V23.6H74.9ZM128.4 15.6H136.4V23.6H128.4ZM166.7 15.6H174.6V23.6H166.7ZM289.1 15.6H297V23.6H289.1ZM136.1 23.3H144V31.4H136.1ZM113.1 31.1H121V39.1H113.1ZM204.9 31.1H212.9V39.1H204.9ZM113.1 38.8H121V46.9H113.1ZM159 38.8H167V46.9H159ZM204.9 38.8H212.9V46.9H204.9ZM243.2 38.8H281.7V46.9H243.2ZM220.2 46.6H228.2V54.6H220.2ZM235.5 46.6H251.1V54.6H235.5ZM120.8 54.3H136.4V62.4H120.8ZM174.3 54.3H182.3V62.4H174.3ZM189.6 54.3H197.6V62.4H189.6ZM250.8 54.3H258.8V62.4H250.8ZM281.4 54.3H297V62.4H281.4ZM82.5 62.1H98.1V70.1H82.5ZM182 62.1H197.6V70.1H182ZM250.8 62.1H258.8V70.1H250.8ZM105.5 69.8H113.4V77.8H105.5ZM136.1 69.8H144V77.8H136.1ZM220.2 69.8H228.2V77.8H220.2ZM136.1 77.5H151.7V85.6H136.1ZM105.5 85.3H113.4V93.3H105.5ZM151.3 85.3H159.3V93.3H151.3ZM243.2 85.3H251.1V93.3H243.2ZM273.8 85.3H281.7V93.3H273.8ZM174.3 93H182.3V101H174.3ZM220.2 93H228.2V101H220.2ZM258.5 93H266.4V101H258.5ZM197.2 100.7H205.2V108.7H197.2ZM235.5 100.7H243.5V108.7H235.5ZM273.8 100.7H281.7V108.7H273.8ZM143.7 108.4H151.7V116.4H143.7ZM227.9 108.4H235.8V116.4H227.9ZM243.2 108.4H251.1V116.4H243.2ZM281.4 108.4H289.4V116.4H281.4ZM296.7 108.4H304.7V116.4H296.7ZM189.6 116.1H197.6V124.1H189.6ZM289.1 116.1H297V124.1H289.1ZM136.1 123.8H144V131.8H136.1ZM197.2 123.8H205.2V131.8H197.2ZM250.8 123.8H258.8V131.8H250.8ZM266.1 123.8H274.1V131.8H266.1ZM128.4 131.5H136.4V139.5H128.4ZM159 131.5H167V139.5H159ZM174.3 131.5H182.3V139.5H174.3ZM189.6 131.5H212.9V139.5H189.6ZM235.5 131.5H243.5V139.5H235.5ZM296.7 131.5H304.7V139.5H296.7ZM128.4 139.2H136.4V147.2H128.4ZM151.3 139.2H159.3V147.2H151.3ZM174.3 139.2H182.3V147.2H174.3ZM258.5 139.2H266.4V147.2H258.5ZM273.8 139.2H289.4V147.2H273.8ZM120.8 154.5H136.4V162.5H120.8ZM174.3 154.5H182.3V162.5H174.3ZM281.4 162.2H289.4V170.2H281.4ZM312 162.2H320V170.2H312ZM136.1 169.9H144V177.8H136.1ZM151.3 169.9H159.3V177.8H151.3ZM289.1 169.9H297V177.8H289.1ZM312 169.9H320V177.8H312ZM159 185.2H167V193.2H159ZM120.8 192.9H128.7V200.8H120.8ZM289.1 192.9H297V200.8H289.1ZM304.4 192.9H312.3V200.8H304.4ZM182 200.5H189.9V208.4H182ZM281.4 200.5H289.4V208.4H281.4ZM296.7 215.8H304.7V223.7H296.7ZM258.5 231H266.4V239H258.5ZM266.1 246.3H274.1V254.2H266.1ZM266.1 253.9H274.1V261.8H266.1ZM289.1 261.5H297V269.4H289.1ZM296.7 269.1H304.7V277H296.7ZM82.5 276.7H90.5V284.6H82.5ZM220.2 276.7H228.2V284.6H220.2ZM220.2 284.3H235.8V292.2H220.2ZM51.9 291.9H59.9V299.7H51.9ZM67.2 291.9H75.2V299.7H67.2ZM82.5 291.9H90.5V299.7H82.5ZM59.6 307H67.5V314.9H59.6ZM90.2 307H98.1V314.9H90.2ZM67.2 314.6H82.8V322.4H67.2ZM90.2 314.6H98.1V322.4H90.2ZM212.6 322.1H220.5V330H212.6ZM212.6 344.8H220.5V352.7H212.6ZM105.5 352.4H113.4V360.2H105.5ZM197.2 352.4H212.9V360.2H197.2ZM204.9 359.9H212.9V367.7H204.9ZM220.2 359.9H228.2V367.7H220.2ZM204.9 367.4H212.9V375.3H204.9ZM182 375H189.9V382.8H182ZM212.6 375H220.5V382.8H212.6ZM204.9 382.5H212.9V390.3H204.9ZM182 390H189.9V397.8H182ZM197.2 390H212.9V397.8H197.2ZM182 397.5H189.9V405.3H182ZM182 412.6H197.6V420.4H182ZM189.6 420.1H197.6V427.9H189.6Z"/><path fill="#0000bf" d="M90.2 0H98.1V8.1H90.2ZM105.5 0H113.4V8.1H105.5ZM136.1 15.6H144V23.6H136.1ZM174.3 15.6H182.3V23.6H174.3ZM97.8 23.3H105.8V31.4H97.8ZM182 23.3H189.9V31.4H182ZM136.1 31.1H144V39.1H136.1ZM90.2 38.8H98.1V46.9H90.2ZM151.3 54.3H167V62.4H151.3ZM120.8 62.1H128.7V70.1H120.8ZM120.8 69.8H128.7V77.8H120.8ZM197.2 69.8H205.2V77.8H197.2ZM189.6 77.5H197.6V85.6H189.6ZM266.1 77.5H274.1V85.6H266.1ZM182 85.3H189.9V93.3H182ZM90.2 93H98.1V101H90.2ZM204.9 93H212.9V101H204.9ZM174.3 108.4H182.3V116.4H174.3ZM136.1 116.1H144V124.1H136.1ZM159 116.1H174.6V124.1H159ZM258.5 116.1H266.4V124.1H258.5ZM120.8 123.8H128.7V131.8H120.8ZM151.3 123.8H159.3V131.8H151.3ZM220.2 123.8H228.2V131.8H220.2ZM113.1 139.2H121V147.2H113.1ZM174.3 146.9H182.3V154.8H174.3ZM143.7 154.5H151.7V162.5H143.7ZM120.8 162.2H128.7V170.2H120.8ZM319.7 169.9H327.6V177.8H319.7ZM128.4 177.5H136.4V185.5H128.4ZM151.3 177.5H159.3V185.5H151.3ZM334.9 208.1H349.3V216.1H334.9ZM266.1 238.7H274.1V246.6H266.1ZM289.1 238.7H297V246.6H289.1ZM59.6 269.1H67.5V277H59.6Z"/><path fill="#0000df" d="M97.8 0H105.8V8.1H97.8ZM136.1 0H144V8.1H136.1ZM151.3 0H159.3V8.1H151.3ZM182 0H189.9V8.1H182ZM74.9 7.8H82.8V15.9H74.9ZM120.8 7.8H136.4V15.9H120.8ZM159 7.8H167V15.9H159ZM189.6 7.8H197.6V15.9H189.6ZM120.8 15.6H128.7V23.6H120.8ZM143.7 15.6H151.7V23.6H143.7ZM212.6 15.6H220.5V23.6H212.6ZM74.9 23.3H82.8V31.4H74.9ZM166.7 23.3H182.3V31.4H166.7ZM197.2 23.3H205.2V31.4H197.2ZM90.2 31.1H98.1V39.1H90.2ZM105.5 31.1H113.4V39.1H105.5ZM189.6 31.1H197.6V39.1H189.6ZM319.7 31.1H327.6V39.1H319.7ZM82.5 38.8H90.5V46.9H82.5ZM136.1 38.8H144V46.9H136.1ZM151.3 38.8H159.3V46.9H151.3ZM182 38.8H197.6V46.9H182ZM342.6 38.8H349.3V46.9H342.6ZM97.8 46.6H105.8V54.6H97.8ZM304.4 46.6H312.3V54.6H304.4ZM327.3 46.6H342.9V54.6H327.3ZM105.5 54.3H121V62.4H105.5ZM136.1 54.3H151.7V62.4H136.1ZM220.2 54.3H228.2V62.4H220.2ZM143.7 62.1H151.7V70.1H143.7ZM174.3 62.1H182.3V70.1H174.3ZM212.6 62.1H228.2V70.1H212.6ZM243.2 62.1H251.1V70.1H243.2ZM258.5 62.1H274.1V70.1H258.5ZM296.7 62.1H304.7V70.1H296.7ZM90.2 69.8H98.1V77.8H90.2ZM182 69.8H189.9V77.8H182ZM235.5 69.8H251.1V77.8H235.5ZM273.8 69.8H281.7V77.8H273.8ZM289.1 69.8H297V77.8H289.1ZM97.8 77.5H105.8V85.6H97.8ZM128.4 77.5H136.4V85.6H128.4ZM159 77.5H167V85.6H159ZM220.2 77.5H243.5V85.6H220.2ZM250.8 77.5H258.8V85.6H250.8ZM273.8 77.5H289.4V85.6H273.8ZM120.8 85.3H128.7V93.3H120.8ZM136.1 85.3H151.7V93.3H136.1ZM204.9 85.3H212.9V93.3H204.9ZM250.8 85.3H258.8V93.3H250.8ZM97.8 93H105.8V101H97.8ZM113.1 93H128.7V101H113.1ZM136.1 93H144V101H136.1ZM151.3 93H167V101H151.3ZM182 93H189.9V101H182ZM197.2 93H205.2V101H197.2ZM243.2 93H258.8V101H243.2ZM120.8 100.7H128.7V108.7H120.8ZM151.3 100.7H159.3V108.7H151.3ZM166.7 100.7H174.6V108.7H166.7ZM212.6 100.7H228.2V108.7H212.6ZM304.4 100.7H312.3V108.7H304.4ZM159 108.4H174.6V116.4H159ZM204.9 108.4H212.9V116.4H204.9ZM235.5 108.4H243.5V116.4H235.5ZM258.5 108.4H266.4V116.4H258.5ZM273.8 108.4H281.7V116.4H273.8ZM151.3 116.1H159.3V124.1H151.3ZM197.2 116.1H205.2V124.1H197.2ZM220.2 116.1H228.2V124.1H220.2ZM281.4 116.1H289.4V124.1H281.4ZM113.1 123.8H121V131.8H113.1ZM182 123.8H189.9V131.8H182ZM204.9 123.8H212.9V131.8H204.9ZM227.9 123.8H243.5V131.8H227.9ZM289.1 123.8H304.7V131.8H289.1ZM312 123.8H320V131.8H312ZM120.8 131.5H128.7V139.5H120.8ZM136.1 131.5H144V139.5H136.1ZM304.4 131.5H312.3V139.5H304.4ZM120.8 139.2H128.7V147.2H120.8ZM189.6 139.2H197.6V147.2H189.6ZM289.1 139.2H297V147.2H289.1ZM128.4 146.9H136.4V154.8H128.4ZM189.6 146.9H197.6V154.8H189.6ZM319.7 146.9H327.6V154.8H319.7ZM151.3 154.5H167V162.5H151.3ZM296.7 154.5H304.7V162.5H296.7ZM136.1 162.2H159.3V170.2H136.1ZM166.7 162.2H174.6V170.2H166.7ZM304.4 162.2H312.3V170.2H304.4ZM120.8 169.9H128.7V177.8H120.8ZM304.4 169.9H312.3V177.8H304.4ZM159 177.5H182.3V185.5H159ZM304.4 177.5H320V185.5H304.4ZM143.7 185.2H151.7V193.2H143.7ZM166.7 185.2H174.6V193.2H166.7ZM296.7 185.2H304.7V193.2H296.7ZM166.7 192.9H182.3V200.8H166.7ZM174.3 200.5H182.3V208.4H174.3ZM281.4 208.1H289.4V216.1H281.4ZM281.4 215.8H289.4V223.7H281.4ZM197.2 223.4H205.2V231.3H197.2ZM281.4 253.9H289.4V261.8H281.4ZM227.9 261.5H235.8V269.4H227.9ZM266.1 261.5H274.1V269.4H266.1ZM281.4 261.5H289.4V269.4H281.4ZM281.4 269.1H289.4V277H281.4ZM59.6 276.7H75.2V284.6H59.6ZM235.5 276.7H243.5V284.6H235.5ZM266.1 276.7H281.7V284.6H266.1ZM51.9 284.3H67.5V292.2H51.9ZM59.6 291.9H67.5V299.7H59.6ZM220.2 291.9H228.2V299.7H220.2ZM59.6 299.4H82.8V307.3H59.6ZM90.2 299.4H98.1V307.3H90.2ZM220.2 344.8H228.2V352.7H220.2ZM212.6 352.4H220.5V360.2H212.6ZM212.6 367.4H220.5V375.3H212.6ZM189.6 390H197.6V397.8H189.6ZM174.3 405H197.6V412.9H174.3Z"/><path fill="#0010ff" d="M113.1 0H121V8.1H113.1ZM128.4 0H136.4V8.1H128.4ZM220.2 0H228.2V8.1H220.2ZM243.2 0H266.4V8.1H243.2ZM166.7 7.8H174.6V15.9H166.7ZM197.2 7.8H212.9V15.9H197.2ZM319.7 7.8H327.6V15.9H319.7ZM151.3 15.6H167V23.6H151.3ZM189.6 15.6H197.6V23.6H189.6ZM204.9 15.6H212.9V23.6H204.9ZM243.2 15.6H251.1V23.6H243.2ZM143.7 23.3H151.7V31.4H143.7ZM296.7 23.3H304.7V31.4H296.7ZM312 23.3H320V31.4H312ZM82.5 31.1H90.5V39.1H82.5ZM151.3 31.1H159.3V39.1H151.3ZM235.5 31.1H243.5V39.1H235.5ZM74.9 38.8H82.8V46.9H74.9ZM174.3 38.8H182.3V46.9H174.3ZM220.2 38.8H228.2V46.9H220.2ZM235.5 38.8H243.5V46.9H235.5ZM174.3 46.6H182.3V54.6H174.3ZM197.2 46.6H205.2V54.6H197.2ZM227.9 46.6H235.8V54.6H227.9ZM258.5 46.6H266.4V54.6H258.5ZM319.7 46.6H327.6V54.6H319.7ZM197.2 54.3H205.2V62.4H197.2ZM266.1 54.3H274.1V62.4H266.1ZM128.4 62.1H136.4V70.1H128.4ZM113.1 85.3H121V93.3H113.1ZM258.5 85.3H266.4V93.3H258.5ZM281.4 85.3H289.4V93.3H281.4ZM128.4 93H136.4V101H128.4ZM212.6 93H220.5V101H212.6ZM113.1 100.7H121V108.7H113.1ZM143.7 100.7H151.7V108.7H143.7ZM113.1 116.1H121V124.1H113.1ZM182 116.1H189.9V124.1H182ZM243.2 131.5H251.1V139.5H243.2ZM166.7 139.2H174.6V147.2H166.7ZM197.2 139.2H205.2V147.2H197.2ZM143.7 146.9H151.7V154.8H143.7ZM182 146.9H189.9V154.8H182ZM182 154.5H189.9V162.5H182ZM281.4 154.5H297V162.5H281.4ZM289.1 162.2H297V170.2H289.1ZM143.7 177.5H151.7V185.5H143.7ZM289.1 185.2H297V193.2H289.1ZM143.7 192.9H159.3V200.8H143.7ZM182 208.1H189.9V216.1H182ZM289.1 208.1H297V216.1H289.1ZM204.9 223.4H212.9V231.3H204.9ZM289.1 223.4H304.7V231.3H289.1ZM204.9 231H220.5V239H204.9ZM281.4 231H289.4V239H281.4ZM197.2 238.7H205.2V246.6H197.2ZM235.5 246.3H243.5V254.2H235.5ZM243.2 261.5H258.8V269.4H243.2ZM74.9 269.1H82.8V277H74.9ZM258.5 269.1H266.4V277H258.5ZM212.6 276.7H220.5V284.6H212.6ZM227.9 276.7H235.8V284.6H227.9ZM204.9 284.3H220.5V292.2H204.9ZM74.9 291.9H82.8V299.7H74.9ZM51.9 299.4H59.9V307.3H51.9ZM82.5 307H90.5V314.9H82.5ZM82.5 314.6H90.5V322.4H82.5ZM97.8 322.1H105.8V330H97.8ZM212.6 359.9H220.5V367.7H212.6ZM189.6 367.4H205.2V375.3H189.6ZM189.6 382.5H197.6V390.3H189.6ZM174.3 397.5H182.3V405.3H174.3ZM189.6 397.5H197.6V405.3H189.6ZM197.2 405H205.2V412.9H197.2ZM182 420.1H189.9V427.9H182Z"/><path fill="#0000ef" d="M120.8 0H128.7V8.1H120.8ZM143.7 0H151.7V8.1H143.7ZM166.7 0H174.6V8.1H166.7ZM197.2 0H212.9V8.1H197.2ZM312 0H320V8.1H312ZM136.1 7.8H159.3V15.9H136.1ZM182 7.8H189.9V15.9H182ZM212.6 7.8H220.5V15.9H212.6ZM273.8 7.8H281.7V15.9H273.8ZM90.2 15.6H98.1V23.6H90.2ZM220.2 15.6H235.8V23.6H220.2ZM90.2 23.3H98.1V31.4H90.2ZM120.8 23.3H128.7V31.4H120.8ZM151.3 23.3H167V31.4H151.3ZM120.8 31.1H136.4V39.1H120.8ZM159 31.1H167V39.1H159ZM227.9 31.1H235.8V39.1H227.9ZM296.7 31.1H304.7V39.1H296.7ZM312 31.1H320V39.1H312ZM327.3 31.1H335.2V39.1H327.3ZM212.6 38.8H220.5V46.9H212.6ZM227.9 38.8H235.8V46.9H227.9ZM296.7 38.8H304.7V46.9H296.7ZM327.3 38.8H342.9V46.9H327.3ZM74.9 46.6H98.1V54.6H74.9ZM105.5 46.6H128.7V54.6H105.5ZM136.1 46.6H144V54.6H136.1ZM159 46.6H167V54.6H159ZM182 46.6H197.6V54.6H182ZM250.8 46.6H258.8V54.6H250.8ZM273.8 46.6H281.7V54.6H273.8ZM289.1 46.6H297V54.6H289.1ZM312 46.6H320V54.6H312ZM182 54.3H189.9V62.4H182ZM204.9 54.3H212.9V62.4H204.9ZM227.9 54.3H243.5V62.4H227.9ZM258.5 54.3H266.4V62.4H258.5ZM105.5 62.1H121V70.1H105.5ZM136.1 62.1H144V70.1H136.1ZM159 62.1H167V70.1H159ZM197.2 62.1H205.2V70.1H197.2ZM235.5 62.1H243.5V70.1H235.5ZM273.8 62.1H289.4V70.1H273.8ZM82.5 69.8H90.5V77.8H82.5ZM113.1 69.8H121V77.8H113.1ZM128.4 69.8H136.4V77.8H128.4ZM159 69.8H167V77.8H159ZM174.3 69.8H182.3V77.8H174.3ZM204.9 69.8H212.9V77.8H204.9ZM227.9 69.8H235.8V77.8H227.9ZM90.2 77.5H98.1V85.6H90.2ZM113.1 77.5H121V85.6H113.1ZM151.3 77.5H159.3V85.6H151.3ZM166.7 77.5H174.6V85.6H166.7ZM182 77.5H189.9V85.6H182ZM204.9 77.5H212.9V85.6H204.9ZM243.2 77.5H251.1V85.6H243.2ZM128.4 85.3H136.4V93.3H128.4ZM159 85.3H182.3V93.3H159ZM197.2 85.3H205.2V93.3H197.2ZM220.2 85.3H228.2V93.3H220.2ZM266.1 85.3H274.1V93.3H266.1ZM166.7 93H174.6V101H166.7ZM227.9 93H243.5V101H227.9ZM296.7 93H304.7V101H296.7ZM97.8 100.7H113.4V108.7H97.8ZM128.4 100.7H144V108.7H128.4ZM159 100.7H167V108.7H159ZM189.6 100.7H197.6V108.7H189.6ZM227.9 100.7H235.8V108.7H227.9ZM250.8 100.7H258.8V108.7H250.8ZM113.1 108.4H144V116.4H113.1ZM182 108.4H189.9V116.4H182ZM212.6 108.4H228.2V116.4H212.6ZM250.8 108.4H258.8V116.4H250.8ZM289.1 108.4H297V116.4H289.1ZM304.4 108.4H312.3V116.4H304.4ZM128.4 116.1H136.4V124.1H128.4ZM174.3 116.1H182.3V124.1H174.3ZM212.6 116.1H220.5V124.1H212.6ZM227.9 116.1H258.8V124.1H227.9ZM304.4 116.1H312.3V124.1H304.4ZM128.4 123.8H136.4V131.8H128.4ZM174.3 123.8H182.3V131.8H174.3ZM212.6 123.8H220.5V131.8H212.6ZM243.2 123.8H251.1V131.8H243.2ZM258.5 123.8H266.4V131.8H258.5ZM281.4 123.8H289.4V131.8H281.4ZM304.4 123.8H312.3V131.8H304.4ZM113.1 131.5H121V139.5H113.1ZM143.7 131.5H151.7V139.5H143.7ZM166.7 131.5H174.6V139.5H166.7ZM250.8 131.5H258.8V139.5H250.8ZM266.1 131.5H274.1V139.5H266.1ZM281.4 131.5H289.4V139.5H281.4ZM136.1 139.2H144V147.2H136.1ZM159 139.2H167V147.2H159ZM182 139.2H189.9V147.2H182ZM266.1 139.2H274.1V147.2H266.1ZM296.7 139.2H304.7V147.2H296.7ZM120.8 146.9H128.7V154.8H120.8ZM159 146.9H167V154.8H159ZM281.4 146.9H304.7V154.8H281.4ZM312 146.9H320V154.8H312ZM312 154.5H327.6V162.5H312ZM159 162.2H167V170.2H159ZM128.4 169.9H136.4V177.8H128.4ZM159 169.9H167V177.8H159ZM296.7 169.9H304.7V177.8H296.7ZM120.8 177.5H128.7V185.5H120.8ZM289.1 177.5H304.7V185.5H289.1ZM136.1 185.2H144V193.2H136.1ZM128.4 192.9H136.4V200.8H128.4ZM296.7 200.5H304.7V208.4H296.7ZM296.7 208.1H304.7V216.1H296.7ZM197.2 215.8H205.2V223.7H197.2ZM289.1 215.8H297V223.7H289.1ZM281.4 238.7H289.4V246.6H281.4ZM289.1 246.3H297V254.2H289.1ZM258.5 253.9H266.4V261.8H258.5ZM273.8 253.9H281.7V261.8H273.8ZM258.5 261.5H266.4V269.4H258.5ZM273.8 261.5H281.7V269.4H273.8ZM82.5 269.1H90.5V277H82.5ZM243.2 269.1H258.8V277H243.2ZM266.1 269.1H281.7V277H266.1ZM289.1 269.1H297V277H289.1ZM90.2 276.7H98.1V284.6H90.2ZM243.2 276.7H251.1V284.6H243.2ZM74.9 284.3H90.5V292.2H74.9ZM227.9 291.9H235.8V299.7H227.9ZM212.6 299.4H220.5V307.3H212.6ZM204.9 329.7H212.9V337.6H204.9ZM197.2 359.9H205.2V367.7H197.2ZM189.6 375H205.2V382.8H189.6ZM197.2 382.5H205.2V390.3H197.2ZM212.6 382.5H220.5V390.3H212.6ZM174.3 420.1H182.3V427.9H174.3Z"/><path fill="#0060ff" d="M212.6 0H220.5V8.1H212.6ZM266.1 23.3H274.1V31.4H266.1ZM266.1 31.1H274.1V39.1H266.1ZM342.6 46.6H349.3V54.6H342.6ZM182 162.2H189.9V170.2H182ZM273.8 169.9H281.7V177.8H273.8ZM182 185.2H189.9V193.2H182ZM273.8 185.2H281.7V193.2H273.8ZM189.6 192.9H197.6V200.8H189.6ZM151.3 200.5H159.3V208.4H151.3ZM266.1 215.8H274.1V223.7H266.1ZM212.6 223.4H220.5V231.3H212.6ZM266.1 223.4H274.1V231.3H266.1ZM220.2 231H228.2V239H220.2ZM235.5 231H243.5V239H235.5ZM204.9 238.7H212.9V246.6H204.9ZM243.2 238.7H251.1V246.6H243.2ZM227.9 253.9H235.8V261.8H227.9ZM204.9 299.4H212.9V307.3H204.9ZM204.9 307H212.9V314.9H204.9ZM197.2 314.6H205.2V322.4H197.2ZM105.5 322.1H113.4V330H105.5ZM204.9 322.1H212.9V330H204.9ZM220.2 329.7H228.2V337.6H220.2ZM143.7 375H159.3V382.8H143.7Z"/><path fill="#0020ff" d="M235.5 0H243.5V8.1H235.5ZM273.8 0H281.7V8.1H273.8ZM174.3 7.8H182.3V15.9H174.3ZM235.5 7.8H251.1V15.9H235.5ZM312 7.8H320V15.9H312ZM97.8 15.6H105.8V23.6H97.8ZM197.2 15.6H205.2V23.6H197.2ZM312 15.6H320V23.6H312ZM204.9 23.3H212.9V31.4H204.9ZM235.5 23.3H243.5V31.4H235.5ZM281.4 23.3H289.4V31.4H281.4ZM319.7 23.3H327.6V31.4H319.7ZM220.2 31.1H228.2V39.1H220.2ZM250.8 31.1H258.8V39.1H250.8ZM105.5 38.8H113.4V46.9H105.5ZM166.7 38.8H174.6V46.9H166.7ZM312 38.8H320V46.9H312ZM296.7 46.6H304.7V54.6H296.7ZM289.1 62.1H297V70.1H289.1ZM151.3 69.8H159.3V77.8H151.3ZM82.5 77.5H90.5V85.6H82.5ZM174.3 77.5H182.3V85.6H174.3ZM197.2 77.5H205.2V85.6H197.2ZM143.7 93H151.7V101H143.7ZM281.4 93H297V101H281.4ZM143.7 116.1H151.7V124.1H143.7ZM204.9 116.1H212.9V124.1H204.9ZM273.8 116.1H281.7V124.1H273.8ZM189.6 123.8H197.6V131.8H189.6ZM258.5 131.5H266.4V139.5H258.5ZM197.2 146.9H205.2V154.8H197.2ZM266.1 146.9H274.1V154.8H266.1ZM136.1 154.5H144V162.5H136.1ZM273.8 162.2H281.7V170.2H273.8ZM281.4 185.2H289.4V193.2H281.4ZM281.4 192.9H289.4V200.8H281.4ZM296.7 192.9H304.7V200.8H296.7ZM166.7 200.5H174.6V208.4H166.7ZM304.4 200.5H312.3V208.4H304.4ZM174.3 208.1H182.3V216.1H174.3ZM189.6 208.1H197.6V216.1H189.6ZM204.9 215.8H212.9V223.7H204.9ZM334.9 215.8H349.3V223.7H334.9ZM334.9 223.4H349.3V231.3H334.9ZM197.2 231H205.2V239H197.2ZM289.1 231H297V239H289.1ZM235.5 238.7H243.5V246.6H235.5ZM227.9 246.3H235.8V254.2H227.9ZM258.5 246.3H266.4V254.2H258.5ZM90.2 253.9H98.1V261.8H90.2ZM82.5 261.5H90.5V269.4H82.5ZM220.2 269.1H235.8V277H220.2ZM82.5 299.4H90.5V307.3H82.5ZM74.9 307H82.8V314.9H74.9ZM182 367.4H189.9V375.3H182ZM182 382.5H189.9V390.3H182Z"/><path fill="#009fff" d="M266.1 0H274.1V8.1H266.1ZM281.4 7.8H289.4V15.9H281.4ZM235.5 15.6H243.5V23.6H235.5ZM189.6 162.2H197.6V170.2H189.6ZM258.5 169.9H266.4V177.8H258.5ZM258.5 177.5H274.1V185.5H258.5ZM250.8 185.2H258.8V193.2H250.8ZM250.8 192.9H266.4V200.8H250.8ZM273.8 200.5H281.7V208.4H273.8ZM159 208.1H167V216.1H159ZM212.6 208.1H220.5V216.1H212.6ZM113.1 299.4H121V307.3H113.1ZM113.1 344.8H121V352.7H113.1ZM136.1 359.9H144V367.7H136.1ZM166.7 375H174.6V382.8H166.7Z"/><path fill="#0030ff" d="M281.4 0H289.4V8.1H281.4ZM105.5 15.6H113.4V23.6H105.5ZM304.4 15.6H312.3V23.6H304.4ZM128.4 23.3H136.4V31.4H128.4ZM212.6 23.3H220.5V31.4H212.6ZM304.4 23.3H312.3V31.4H304.4ZM74.9 31.1H82.8V39.1H74.9ZM197.2 31.1H205.2V39.1H197.2ZM258.5 31.1H266.4V39.1H258.5ZM304.4 31.1H312.3V39.1H304.4ZM289.1 38.8H297V46.9H289.1ZM304.4 38.8H312.3V46.9H304.4ZM204.9 46.6H220.5V54.6H204.9ZM281.4 46.6H289.4V54.6H281.4ZM243.2 54.3H251.1V62.4H243.2ZM273.8 54.3H281.7V62.4H273.8ZM296.7 54.3H304.7V62.4H296.7ZM250.8 69.8H266.4V77.8H250.8ZM97.8 85.3H105.8V93.3H97.8ZM120.8 116.1H128.7V124.1H120.8ZM212.6 131.5H228.2V139.5H212.6ZM204.9 139.2H212.9V147.2H204.9ZM250.8 139.2H258.8V147.2H250.8ZM296.7 162.2H304.7V170.2H296.7ZM166.7 169.9H174.6V177.8H166.7ZM136.1 177.5H144V185.5H136.1ZM174.3 185.2H182.3V193.2H174.3ZM136.1 192.9H144V200.8H136.1ZM159 192.9H167V200.8H159ZM189.6 200.5H197.6V208.4H189.6ZM273.8 208.1H281.7V216.1H273.8ZM273.8 223.4H289.4V231.3H273.8ZM266.1 231H281.7V239H266.1ZM189.6 238.7H197.6V246.6H189.6ZM243.2 246.3H258.8V254.2H243.2ZM273.8 246.3H281.7V254.2H273.8ZM235.5 253.9H258.8V261.8H235.5ZM197.2 261.5H205.2V269.4H197.2ZM235.5 261.5H243.5V269.4H235.5ZM105.5 276.7H113.4V284.6H105.5ZM90.2 284.3H105.8V292.2H90.2ZM212.6 291.9H220.5V299.7H212.6ZM97.8 307H105.8V314.9H97.8ZM105.5 329.7H113.4V337.6H105.5ZM204.9 344.8H212.9V352.7H204.9ZM189.6 359.9H197.6V367.7H189.6ZM174.3 390H182.3V397.8H174.3Z"/><path fill="#0040ff" d="M289.1 0H297V8.1H289.1ZM90.2 7.8H98.1V15.9H90.2ZM250.8 7.8H274.1V15.9H250.8ZM289.1 7.8H297V15.9H289.1ZM82.5 15.6H90.5V23.6H82.5ZM250.8 15.6H266.4V23.6H250.8ZM319.7 15.6H327.6V23.6H319.7ZM273.8 23.3H281.7V31.4H273.8ZM289.1 23.3H297V31.4H289.1ZM212.6 31.1H220.5V39.1H212.6ZM273.8 31.1H289.4V39.1H273.8ZM128.4 38.8H136.4V46.9H128.4ZM281.4 38.8H289.4V46.9H281.4ZM319.7 38.8H327.6V46.9H319.7ZM166.7 46.6H174.6V54.6H166.7ZM151.3 62.1H159.3V70.1H151.3ZM212.6 139.2H220.5V147.2H212.6ZM243.2 139.2H251.1V147.2H243.2ZM258.5 146.9H266.4V154.8H258.5ZM273.8 146.9H281.7V154.8H273.8ZM266.1 154.5H281.7V162.5H266.1ZM174.3 169.9H182.3V177.8H174.3ZM182 177.5H189.9V185.5H182ZM204.9 200.5H212.9V208.4H204.9ZM243.2 215.8H251.1V223.7H243.2ZM273.8 215.8H281.7V223.7H273.8ZM197.2 246.3H205.2V254.2H197.2ZM197.2 253.9H205.2V261.8H197.2ZM97.8 261.5H105.8V269.4H97.8ZM74.9 276.7H82.8V284.6H74.9ZM97.8 291.9H105.8V299.7H97.8ZM97.8 299.4H105.8V307.3H97.8ZM97.8 314.6H105.8V322.4H97.8ZM204.9 314.6H212.9V322.4H204.9ZM204.9 337.3H220.5V345.1H204.9ZM189.6 352.4H197.6V360.2H189.6Z"/><path fill="#0080ff" d="M296.7 0H304.7V8.1H296.7ZM319.7 0H327.6V8.1H319.7ZM227.9 23.3H235.8V31.4H227.9ZM243.2 23.3H251.1V31.4H243.2ZM197.2 154.5H205.2V162.5H197.2ZM189.6 169.9H197.6V177.8H189.6ZM189.6 185.2H197.6V193.2H189.6ZM204.9 192.9H212.9V200.8H204.9ZM212.6 200.5H220.5V208.4H212.6ZM250.8 215.8H266.4V223.7H250.8ZM227.9 223.4H235.8V231.3H227.9ZM273.8 238.7H281.7V246.6H273.8ZM113.1 276.7H121V284.6H113.1ZM105.5 284.3H113.4V292.2H105.5ZM105.5 299.4H113.4V307.3H105.5ZM105.5 307H113.4V314.9H105.5ZM182 344.8H189.9V352.7H182Z"/><path fill="#0000af" d="M105.5 7.8H113.4V15.9H105.5ZM128.4 162.2H136.4V170.2H128.4Z"/><path fill="#0050ff" d="M227.9 7.8H235.8V15.9H227.9ZM304.4 7.8H312.3V15.9H304.4ZM182 15.6H189.9V23.6H182ZM266.1 15.6H289.4V23.6H266.1ZM220.2 23.3H228.2V31.4H220.2ZM258.5 23.3H266.4V31.4H258.5ZM212.6 54.3H220.5V62.4H212.6ZM151.3 131.5H159.3V139.5H151.3ZM227.9 131.5H235.8V139.5H227.9ZM227.9 139.2H235.8V147.2H227.9ZM189.6 154.5H197.6V162.5H189.6ZM182 169.9H189.9V177.8H182ZM281.4 169.9H289.4V177.8H281.4ZM273.8 177.5H289.4V185.5H273.8ZM128.4 185.2H136.4V193.2H128.4ZM182 192.9H189.9V200.8H182ZM159 200.5H167V208.4H159ZM197.2 200.5H205.2V208.4H197.2ZM166.7 208.1H174.6V216.1H166.7ZM250.8 223.4H258.8V231.3H250.8ZM243.2 231H251.1V239H243.2ZM182 238.7H189.9V246.6H182ZM227.9 238.7H235.8V246.6H227.9ZM250.8 238.7H258.8V246.6H250.8ZM105.5 269.1H113.4V277H105.5ZM197.2 269.1H205.2V277H197.2ZM97.8 276.7H105.8V284.6H97.8ZM197.2 276.7H205.2V284.6H197.2ZM204.9 291.9H212.9V299.7H204.9ZM51.9 307H59.9V314.9H51.9ZM197.2 329.7H205.2V337.6H197.2ZM189.6 344.8H205.2V352.7H189.6ZM182 352.4H189.9V360.2H182ZM174.3 359.9H189.9V367.7H174.3ZM174.3 367.4H182.3V375.3H174.3ZM174.3 375H182.3V382.8H174.3ZM174.3 382.5H182.3V390.3H174.3ZM174.3 412.6H182.3V420.4H174.3Z"/><path fill="#0070ff" d="M250.8 23.3H258.8V31.4H250.8ZM220.2 139.2H228.2V147.2H220.2ZM235.5 139.2H243.5V147.2H235.5ZM266.1 162.2H274.1V170.2H266.1ZM189.6 177.5H197.6V185.5H189.6ZM197.2 192.9H205.2V200.8H197.2ZM258.5 200.5H266.4V208.4H258.5ZM204.9 208.1H212.9V216.1H204.9ZM250.8 208.1H258.8V216.1H250.8ZM266.1 208.1H274.1V216.1H266.1ZM212.6 215.8H220.5V223.7H212.6ZM243.2 223.4H251.1V231.3H243.2ZM258.5 223.4H266.4V231.3H258.5ZM227.9 231H235.8V239H227.9ZM189.6 246.3H197.6V254.2H189.6ZM105.5 291.9H113.4V299.7H105.5ZM197.2 291.9H205.2V299.7H197.2ZM197.2 307H205.2V314.9H197.2ZM197.2 322.1H205.2V330H197.2ZM105.5 337.3H113.4V345.1H105.5ZM197.2 337.3H205.2V345.1H197.2ZM105.5 344.8H113.4V352.7H105.5ZM113.1 352.4H121V360.2H113.1Z"/><path fill="#00cfff" d="M243.2 31.1H251.1V39.1H243.2ZM250.8 154.5H266.4V162.5H250.8ZM243.2 192.9H251.1V200.8H243.2ZM243.2 200.5H251.1V208.4H243.2ZM151.3 208.1H159.3V216.1H151.3ZM227.9 208.1H235.8V216.1H227.9ZM235.5 215.8H243.5V223.7H235.5ZM166.7 223.4H174.6V231.3H166.7ZM174.3 238.7H182.3V246.6H174.3ZM113.1 269.1H121V277H113.1ZM151.3 276.7H159.3V284.6H151.3ZM166.7 276.7H174.6V284.6H166.7ZM159 284.3H167V292.2H159ZM189.6 291.9H197.6V299.7H189.6ZM128.4 322.1H136.4V330H128.4ZM182 322.1H189.9V330H182ZM136.1 352.4H144V360.2H136.1Z"/><path fill="#008fff" d="M289.1 31.1H297V39.1H289.1ZM212.6 77.5H220.5V85.6H212.6ZM204.9 146.9H212.9V154.8H204.9ZM250.8 146.9H258.8V154.8H250.8ZM174.3 162.2H182.3V170.2H174.3ZM266.1 169.9H274.1V177.8H266.1ZM197.2 185.2H205.2V193.2H197.2ZM258.5 185.2H266.4V193.2H258.5ZM273.8 192.9H281.7V200.8H273.8ZM266.1 200.5H274.1V208.4H266.1ZM235.5 208.1H243.5V216.1H235.5ZM166.7 215.8H174.6V223.7H166.7ZM227.9 215.8H235.8V223.7H227.9ZM220.2 223.4H228.2V231.3H220.2ZM189.6 269.1H197.6V277H189.6ZM197.2 284.3H205.2V292.2H197.2ZM113.1 291.9H121V299.7H113.1ZM105.5 314.6H113.4V322.4H105.5ZM113.1 322.1H121V330H113.1ZM189.6 337.3H197.6V345.1H189.6ZM174.3 352.4H182.3V360.2H174.3ZM143.7 367.4H151.7V375.3H143.7ZM159 375H167V382.8H159Z"/><path fill="#00bfff" d="M212.6 146.9H220.5V154.8H212.6ZM258.5 162.2H266.4V170.2H258.5ZM266.1 192.9H274.1V200.8H266.1ZM220.2 200.5H235.8V208.4H220.2ZM243.2 208.1H251.1V216.1H243.2ZM220.2 215.8H228.2V223.7H220.2ZM166.7 231H174.6V239H166.7ZM143.7 269.1H151.7V277H143.7ZM166.7 269.1H174.6V277H166.7ZM113.1 314.6H121V322.4H113.1ZM189.6 322.1H197.6V330H189.6ZM113.1 329.7H128.7V337.6H113.1ZM174.3 329.7H182.3V337.6H174.3ZM113.1 337.3H121V345.1H113.1ZM174.3 344.8H182.3V352.7H174.3ZM166.7 367.4H174.6V375.3H166.7Z"/><path fill="#40ffbf" d="M220.2 146.9H228.2V154.8H220.2ZM204.9 162.2H212.9V170.2H204.9ZM212.6 177.5H220.5V185.5H212.6ZM220.2 185.2H235.8V193.2H220.2ZM227.9 192.9H235.8V200.8H227.9ZM159 215.8H167V223.7H159ZM166.7 246.3H174.6V254.2H166.7ZM182 253.9H189.9V261.8H182ZM136.1 261.5H144V269.4H136.1ZM120.8 269.1H128.7V277H120.8ZM120.8 276.7H144V284.6H120.8ZM182 276.7H189.9V284.6H182ZM166.7 284.3H174.6V292.2H166.7ZM143.7 291.9H151.7V299.7H143.7ZM159 291.9H174.6V299.7H159ZM182 291.9H189.9V299.7H182ZM182 299.4H189.9V307.3H182ZM159 307H167V314.9H159ZM128.4 314.6H136.4V322.4H128.4ZM166.7 352.4H174.6V360.2H166.7Z"/><path fill="#cfff30" d="M227.9 146.9H235.8V154.8H227.9ZM136.1 253.9H144V261.8H136.1ZM174.3 253.9H182.3V261.8H174.3ZM128.4 261.5H136.4V269.4H128.4ZM128.4 337.3H136.4V345.1H128.4ZM151.3 359.9H159.3V367.7H151.3Z"/><path fill="#10ffef" d="M235.5 146.9H243.5V154.8H235.5ZM197.2 162.2H205.2V170.2H197.2ZM204.9 177.5H212.9V185.5H204.9ZM204.9 185.2H212.9V193.2H204.9ZM220.2 192.9H228.2V200.8H220.2ZM235.5 200.5H243.5V208.4H235.5ZM143.7 261.5H151.7V269.4H143.7ZM159 261.5H167V269.4H159ZM174.3 269.1H182.3V277H174.3ZM174.3 276.7H182.3V284.6H174.3ZM136.1 284.3H144V292.2H136.1ZM166.7 322.1H174.6V330H166.7ZM128.4 329.7H136.4V337.6H128.4ZM166.7 329.7H174.6V337.6H166.7ZM136.1 344.8H144V352.7H136.1ZM151.3 367.4H159.3V375.3H151.3Z"/><path fill="#00dfff" d="M243.2 146.9H251.1V154.8H243.2ZM266.1 185.2H274.1V193.2H266.1ZM250.8 200.5H258.8V208.4H250.8ZM220.2 208.1H228.2V216.1H220.2ZM151.3 261.5H159.3V269.4H151.3ZM182 261.5H197.6V269.4H182ZM189.6 314.6H197.6V322.4H189.6ZM182 329.7H189.9V337.6H182ZM143.7 359.9H151.7V367.7H143.7Z"/><path fill="#20ffdf" d="M204.9 154.5H212.9V162.5H204.9ZM250.8 162.2H258.8V170.2H250.8ZM166.7 238.7H174.6V246.6H166.7ZM189.6 253.9H197.6V261.8H189.6ZM174.3 261.5H182.3V269.4H174.3ZM143.7 276.7H151.7V284.6H143.7ZM120.8 284.3H128.7V292.2H120.8ZM120.8 291.9H128.7V299.7H120.8ZM151.3 291.9H159.3V299.7H151.3ZM151.3 299.4H159.3V307.3H151.3ZM166.7 299.4H174.6V307.3H166.7ZM166.7 314.6H182.3V322.4H166.7ZM174.3 322.1H182.3V330H174.3ZM136.1 337.3H144V345.1H136.1ZM166.7 344.8H174.6V352.7H166.7Z"/><path fill="#ffff00" d="M212.6 154.5H220.5V162.5H212.6ZM212.6 169.9H220.5V177.8H212.6ZM235.5 169.9H243.5V177.8H235.5ZM143.7 215.8H151.7V223.7H143.7ZM120.8 261.5H128.7V269.4H120.8ZM151.3 329.7H159.3V337.6H151.3Z"/><path fill="#ffcf00" d="M220.2 154.5H235.8V162.5H220.2Z"/><path fill="#ffbf00" d="M235.5 154.5H243.5V162.5H235.5ZM136.1 215.8H144V223.7H136.1ZM120.8 231H128.7V239H120.8ZM143.7 238.7H151.7V246.6H143.7ZM120.8 344.8H128.7V352.7H120.8Z"/><path fill="#8fff70" d="M243.2 154.5H251.1V162.5H243.2ZM128.4 223.4H136.4V231.3H128.4ZM159 246.3H167V254.2H159ZM151.3 253.9H159.3V261.8H151.3ZM128.4 284.3H136.4V292.2H128.4ZM128.4 307H136.4V314.9H128.4ZM136.1 329.7H144V337.6H136.1ZM143.7 337.3H151.7V345.1H143.7ZM151.3 344.8H159.3V352.7H151.3ZM159 352.4H167V360.2H159Z"/><path fill="#ff8000" d="M212.6 162.2H220.5V170.2H212.6ZM235.5 162.2H243.5V170.2H235.5ZM136.1 223.4H144V231.3H136.1ZM113.1 253.9H121V261.8H113.1Z"/><path fill="#ff9f00" d="M220.2 162.2H228.2V170.2H220.2ZM151.3 231H159.3V239H151.3ZM128.4 238.7H136.4V246.6H128.4ZM113.1 261.5H121V269.4H113.1Z"/><path fill="#ff4000" d="M227.9 162.2H235.8V170.2H227.9ZM136.1 238.7H144V246.6H136.1Z"/><path fill="#ffaf00" d="M243.2 162.2H251.1V170.2H243.2ZM227.9 169.9H235.8V177.8H227.9ZM143.7 253.9H151.7V261.8H143.7ZM143.7 314.6H151.7V322.4H143.7ZM151.3 337.3H159.3V345.1H151.3Z"/><path fill="#00ffff" d="M197.2 169.9H205.2V177.8H197.2ZM197.2 177.5H205.2V185.5H197.2ZM212.6 185.2H220.5V193.2H212.6ZM235.5 185.2H243.5V193.2H235.5ZM212.6 192.9H220.5V200.8H212.6ZM136.1 269.1H144V277H136.1ZM151.3 269.1H159.3V277H151.3ZM159 276.7H167V284.6H159ZM189.6 284.3H197.6V292.2H189.6ZM120.8 307H128.7V314.9H120.8Z"/><path fill="#60ff9f" d="M204.9 169.9H212.9V177.8H204.9ZM143.7 208.1H151.7V216.1H143.7ZM128.4 215.8H136.4V223.7H128.4ZM166.7 261.5H174.6V269.4H166.7ZM128.4 291.9H136.4V299.7H128.4ZM189.6 299.4H197.6V307.3H189.6ZM143.7 352.4H151.7V360.2H143.7Z"/><path fill="#ffef00" d="M220.2 169.9H228.2V177.8H220.2ZM143.7 307H151.7V314.9H143.7ZM136.1 314.6H144V322.4H136.1ZM143.7 322.1H151.7V330H143.7ZM159 359.9H167V367.7H159Z"/><path fill="#bfff40" d="M243.2 169.9H251.1V177.8H243.2ZM220.2 177.5H228.2V185.5H220.2ZM235.5 177.5H243.5V185.5H235.5ZM120.8 337.3H128.7V345.1H120.8ZM159 337.3H167V345.1H159ZM128.4 344.8H136.4V352.7H128.4ZM159 367.4H167V375.3H159Z"/><path fill="#30ffcf" d="M250.8 169.9H258.8V177.8H250.8ZM105.5 261.5H113.4V269.4H105.5ZM128.4 269.1H136.4V277H128.4ZM143.7 284.3H151.7V292.2H143.7ZM174.3 291.9H182.3V299.7H174.3ZM120.8 299.4H128.7V307.3H120.8ZM182 307H197.6V314.9H182ZM159 314.6H167V322.4H159ZM166.7 337.3H174.6V345.1H166.7ZM128.4 352.4H136.4V360.2H128.4ZM166.7 359.9H174.6V367.7H166.7Z"/><path fill="#efff10" d="M227.9 177.5H235.8V185.5H227.9ZM136.1 299.4H144V307.3H136.1ZM136.1 307H144V314.9H136.1ZM136.1 322.1H144V330H136.1ZM143.7 344.8H151.7V352.7H143.7Z"/><path fill="#50ffaf" d="M243.2 177.5H251.1V185.5H243.2ZM159 238.7H167V246.6H159ZM174.3 246.3H182.3V254.2H174.3ZM151.3 284.3H159.3V292.2H151.3ZM174.3 284.3H182.3V292.2H174.3ZM159 299.4H167V307.3H159ZM174.3 299.4H182.3V307.3H174.3ZM166.7 307H174.6V314.9H166.7ZM120.8 314.6H128.7V322.4H120.8Z"/><path fill="#00afff" d="M250.8 177.5H258.8V185.5H250.8ZM235.5 192.9H243.5V200.8H235.5ZM235.5 223.4H243.5V231.3H235.5ZM159 269.1H167V277H159ZM113.1 284.3H121V292.2H113.1ZM90.2 291.9H98.1V299.7H90.2ZM197.2 299.4H205.2V307.3H197.2ZM113.1 307H121V314.9H113.1ZM189.6 329.7H197.6V337.6H189.6ZM212.6 329.7H220.5V337.6H212.6ZM182 337.3H189.9V345.1H182ZM136.1 367.4H144V375.3H136.1Z"/><path fill="#00efff" d="M243.2 185.2H251.1V193.2H243.2ZM258.5 208.1H266.4V216.1H258.5ZM250.8 231H258.8V239H250.8ZM97.8 269.1H105.8V277H97.8ZM182 269.1H189.9V277H182ZM189.6 276.7H197.6V284.6H189.6ZM120.8 322.1H128.7V330H120.8ZM174.3 337.3H182.3V345.1H174.3ZM120.8 352.4H128.7V360.2H120.8Z"/><path fill="#70ff8f" d="M151.3 215.8H159.3V223.7H151.3ZM159 223.4H167V231.3H159ZM159 253.9H167V261.8H159ZM182 284.3H189.9V292.2H182ZM143.7 299.4H151.7V307.3H143.7ZM151.3 307H159.3V314.9H151.3ZM182 314.6H189.9V322.4H182Z"/><path fill="#80ff80" d="M120.8 223.4H128.7V231.3H120.8ZM159 322.1H167V330H159ZM159 344.8H167V352.7H159Z"/><path fill="#df0000" d="M143.7 223.4H151.7V231.3H143.7ZM120.8 246.3H128.7V254.2H120.8Z"/><path fill="#dfff20" d="M151.3 223.4H159.3V231.3H151.3ZM120.8 238.7H128.7V246.6H120.8ZM136.1 291.9H144V299.7H136.1ZM128.4 299.4H136.4V307.3H128.4Z"/><path fill="#ff3000" d="M128.4 231H136.4V239H128.4Z"/><path fill="#cf0000" d="M136.1 231H144V239H136.1Z"/><path fill="#ff1000" d="M143.7 231H151.7V239H143.7ZM128.4 246.3H136.4V254.2H128.4Z"/><path fill="#9fff60" d="M159 231H167V239H159ZM136.1 246.3H144V254.2H136.1ZM166.7 253.9H174.6V261.8H166.7ZM174.3 307H182.3V314.9H174.3ZM159 329.7H167V337.6H159Z"/><path fill="#ff6000" d="M151.3 238.7H159.3V246.6H151.3Z"/><path fill="#ff5000" d="M143.7 246.3H151.7V254.2H143.7Z"/><path fill="#ffdf00" d="M151.3 246.3H159.3V254.2H151.3ZM128.4 253.9H136.4V261.8H128.4ZM151.3 322.1H159.3V330H151.3Z"/><path fill="#ff8f00" d="M105.5 253.9H113.4V261.8H105.5Z"/><path fill="#ff0000" d="M120.8 253.9H128.7V261.8H120.8Z"/><path fill="#afff50" d="M151.3 314.6H159.3V322.4H151.3ZM151.3 352.4H159.3V360.2H151.3Z"/><path fill="#ff2000" d="M143.7 329.7H151.7V337.6H143.7Z"/></g><path d="M216.4 157.9 215.8 158.4 212.9 166.1 215.9 173.7 216.4 174.1 224 177.5 231.7 181.2 239.3 175.6 240.9 173.7 247 170.9 249.4 166.1 247 162.2 243.1 158.4 239.3 156.2 231.7 153.3 224 156.3 216.4 157.9M109.3 260.7 114 265.3 116.9 267.5 124.6 265.9 127.1 265.3 132.2 262.3 136.8 257.7 138.2 250.1 139.9 248.1 142.1 250.1 141.7 257.7 147.5 260 151.5 257.7 155.2 252.9 158 250.1 159.1 242.5 159.4 234.8 155.2 228.4 154.7 227.2 148.8 219.6 147.5 218.5M137.1 219.6 135.4 227.2 132.2 229.6 124.6 231.5M139.9 308.1 139.6 310.8 138.6 318.4 139.9 324.8 141.1 325.9 142.1 333.5 147.5 338.9 151.4 341 155.2 344.6 160 341 156.4 333.5 157.6 325.9 155.2 322.6 152 318.4 149 310.8 147.5 309.3 139.9 308.1M124.6 343.4 123 348.6 124.6 350.5 129.7 348.6 124.6 343.4M147.5 348.5 147.5 348.6 147.5 348.6 147.6 348.6 147.5 348.5M162.8 362 159.1 363.7 162.8 366.5 163.8 363.7 162.8 362" fill="none" stroke="#000" stroke-width="0.8" stroke-linejoin="round"/><text transform="translate(235.8 179.5) rotate(5)" font-size="13.5" text-anchor="middle" dy="0.35em">30</text><text transform="translate(160.8 226.2) rotate(70)" font-size="13.5" text-anchor="middle" dy="0.35em">30</text><text transform="translate(123.2 270) rotate(-15)" font-size="13.5" text-anchor="middle" dy="0.35em">30</text><text transform="translate(184.5 310.5) rotate(70)" font-size="13.5" text-anchor="middle" dy="0.35em">30</text><text transform="translate(158.2 343) rotate(70)" font-size="13.5" text-anchor="middle" dy="0.35em">30</text><text transform="translate(130.8 353) rotate(75)" font-size="13.5" text-anchor="middle" dy="0.35em">30</text>
<use href="#land"/>
<use href="#sites"/>
</g>
<rect x="0" y="0" width="348" height="427.2" fill="none" stroke="#1a1a1a" stroke-width="1.1"/>
<use href="#ticks"/>
<rect x="4" y="20" width="112.6" height="25.5" fill="url(#jet)" stroke="#262626" stroke-width="1"/><text x="2.9" y="7.3" font-size="17.5" text-anchor="middle" fill="#333">0</text><text x="96.5" y="7.3" font-size="17.5" text-anchor="middle" fill="#333">50</text><text x="59.5" y="-20" font-size="21.7" text-anchor="middle" fill="#2a2a2a">cm/s</text><text x="284.4" y="37.2" font-size="21.6">10 km</text><path d="M305.2 43.4H321.5" stroke="#000" stroke-width="3.4" stroke-linecap="round"/>
<text x="173" y="-12" font-size="20.9" font-weight="bold" text-anchor="middle">FitDif TotalErrors (30)</text>
</g>
<g transform="translate(843.8 742)">
<text x="-7.5" y="434.7" font-size="20" text-anchor="end">34°N</text><text x="-7.5" y="293.9" font-size="20" text-anchor="end">35°N</text><text x="-7.5" y="151.4" font-size="20" text-anchor="end">36°N</text><text x="-7.5" y="7.1" font-size="20" text-anchor="end">37°N</text><text x="-7" y="363" font-size="15" text-anchor="end">30'</text><text x="-7" y="221.4" font-size="15" text-anchor="end">30'</text><text x="-7" y="78" font-size="15" text-anchor="end">30'</text><text x="-0.5" y="444.5" font-size="15" text-anchor="middle">30'</text><text x="60" y="448.2" font-size="20" text-anchor="middle">76°W</text><text x="115.5" y="444.5" font-size="15" text-anchor="middle">30'</text><text x="176" y="448.2" font-size="20" text-anchor="middle">75°W</text><text x="231.5" y="444.5" font-size="15" text-anchor="middle">30'</text><text x="292" y="448.2" font-size="20" text-anchor="middle">74°W</text><text x="347.5" y="444.5" font-size="15" text-anchor="middle">30'</text>
<g clip-path="url(#ax)">
<use href="#grid"/>
<g shape-rendering="crispEdges"><path fill="#0040ff" d="M67.2 0H182.3V8.1H67.2ZM189.6 0H197.6V8.1H189.6ZM281.4 0H349.3V8.1H281.4ZM74.9 7.8H205.2V15.9H74.9ZM212.6 7.8H220.5V15.9H212.6ZM289.1 7.8H304.7V15.9H289.1ZM327.3 7.8H349.3V15.9H327.3ZM74.9 15.6H220.5V23.6H74.9ZM250.8 15.6H258.8V23.6H250.8ZM296.7 15.6H304.7V23.6H296.7ZM327.3 15.6H349.3V23.6H327.3ZM74.9 23.3H235.8V31.4H74.9ZM258.5 23.3H266.4V31.4H258.5ZM304.4 23.3H342.9V31.4H304.4ZM74.9 31.1H258.8V39.1H74.9ZM304.4 31.1H342.9V39.1H304.4ZM74.9 38.8H266.4V46.9H74.9ZM312 38.8H327.6V46.9H312ZM74.9 46.6H274.1V54.6H74.9ZM312 46.6H327.6V54.6H312ZM82.5 54.3H297V62.4H82.5ZM82.5 62.1H304.7V70.1H82.5ZM82.5 69.8H266.4V77.8H82.5ZM82.5 77.5H266.4V85.6H82.5ZM90.2 85.3H266.4V93.3H90.2ZM90.2 93H266.4V101H90.2ZM105.5 100.7H189.9V108.7H105.5ZM197.2 100.7H266.4V108.7H197.2ZM113.1 108.4H182.3V116.4H113.1ZM204.9 108.4H266.4V116.4H204.9ZM113.1 116.1H182.3V124.1H113.1ZM220.2 116.1H266.4V124.1H220.2ZM120.8 123.8H128.7V131.8H120.8ZM151.3 123.8H174.6V131.8H151.3ZM227.9 123.8H281.7V131.8H227.9ZM235.5 131.5H281.7V139.5H235.5ZM243.2 139.2H281.7V147.2H243.2ZM273.8 146.9H281.7V154.8H273.8ZM250.8 162.2H258.8V170.2H250.8Z"/><path fill="#0099ff" d="M182 0H189.9V8.1H182ZM197.2 0H281.7V8.1H197.2ZM204.9 7.8H212.9V15.9H204.9ZM220.2 7.8H251.1V15.9H220.2ZM258.5 7.8H289.4V15.9H258.5ZM304.4 7.8H327.6V15.9H304.4ZM220.2 15.6H251.1V23.6H220.2ZM266.1 15.6H297V23.6H266.1ZM304.4 15.6H327.6V23.6H304.4ZM235.5 23.3H258.8V31.4H235.5ZM273.8 23.3H304.7V31.4H273.8ZM258.5 31.1H266.4V39.1H258.5ZM273.8 31.1H304.7V39.1H273.8ZM266.1 38.8H281.7V46.9H266.1ZM289.1 38.8H312.3V46.9H289.1ZM273.8 46.6H281.7V54.6H273.8ZM289.1 46.6H312.3V54.6H289.1ZM296.7 54.3H304.7V62.4H296.7ZM266.1 85.3H274.1V93.3H266.1ZM266.1 93H274.1V101H266.1ZM189.6 100.7H197.6V108.7H189.6ZM182 108.4H205.2V116.4H182ZM281.4 108.4H297V116.4H281.4ZM182 116.1H220.5V124.1H182ZM281.4 116.1H312.3V124.1H281.4ZM128.4 123.8H151.7V131.8H128.4ZM174.3 123.8H228.2V131.8H174.3ZM281.4 123.8H312.3V131.8H281.4ZM120.8 131.5H235.8V139.5H120.8ZM281.4 131.5H312.3V139.5H281.4ZM120.8 139.2H243.5V147.2H120.8ZM281.4 139.2H312.3V147.2H281.4ZM128.4 146.9H274.1V154.8H128.4ZM281.4 146.9H312.3V154.8H281.4ZM128.4 154.5H281.7V162.5H128.4ZM296.7 154.5H312.3V162.5H296.7ZM128.4 162.2H251.1V170.2H128.4ZM258.5 162.2H281.7V170.2H258.5ZM296.7 162.2H327.6V170.2H296.7ZM143.7 169.9H228.2V177.8H143.7ZM235.5 169.9H251.1V177.8H235.5ZM273.8 169.9H312.3V177.8H273.8ZM143.7 177.5H220.5V185.5H143.7ZM266.1 177.5H312.3V185.5H266.1ZM143.7 185.2H235.8V193.2H143.7ZM258.5 185.2H304.7V193.2H258.5ZM151.3 192.9H205.2V200.8H151.3ZM212.6 192.9H235.8V200.8H212.6ZM250.8 192.9H297V200.8H250.8ZM151.3 200.5H174.6V208.4H151.3ZM212.6 200.5H235.8V208.4H212.6ZM250.8 200.5H289.4V208.4H250.8ZM243.2 208.1H281.7V216.1H243.2ZM243.2 215.8H281.7V223.7H243.2ZM243.2 223.4H266.4V231.3H243.2ZM243.2 231H266.4V239H243.2ZM189.6 246.3H205.2V254.2H189.6Z"/><path fill="#0000c4" d="M350.2 0H349.3V8.1H350.2ZM350.2 7.8H349.3V15.9H350.2ZM350.2 15.6H349.3V23.6H350.2ZM350.2 23.3H349.3V31.4H350.2ZM350.2 31.1H349.3V39.1H350.2ZM350.2 38.8H349.3V46.9H350.2ZM350.2 46.6H349.3V54.6H350.2ZM304.4 54.3H349.3V62.4H304.4ZM304.4 62.1H349.3V70.1H304.4ZM296.7 69.8H349.3V77.8H296.7ZM289.1 77.5H297V85.6H289.1ZM304.4 77.5H349.3V85.6H304.4ZM289.1 85.3H297V93.3H289.1ZM304.4 85.3H349.3V93.3H304.4ZM312 93H349.3V101H312ZM266.1 100.7H274.1V108.7H266.1ZM312 100.7H349.3V108.7H312ZM266.1 108.4H274.1V116.4H266.1ZM312 108.4H349.3V116.4H312ZM266.1 116.1H274.1V124.1H266.1ZM312 116.1H349.3V124.1H312ZM319.7 123.8H349.3V131.8H319.7ZM312 131.5H349.3V139.5H312ZM312 139.2H349.3V147.2H312ZM327.3 146.9H349.3V154.8H327.3ZM327.3 154.5H349.3V162.5H327.3ZM327.3 162.2H349.3V170.2H327.3ZM327.3 169.9H349.3V177.8H327.3ZM319.7 177.5H349.3V185.5H319.7ZM319.7 185.2H349.3V193.2H319.7ZM312 192.9H349.3V200.8H312ZM312 200.5H349.3V208.4H312ZM120.8 208.1H144V216.1H120.8ZM197.2 208.1H205.2V216.1H197.2ZM304.4 208.1H335.2V216.1H304.4ZM350.2 208.1H349.3V216.1H350.2ZM120.8 215.8H128.7V223.7H120.8ZM174.3 215.8H197.6V223.7H174.3ZM304.4 215.8H335.2V223.7H304.4ZM350.2 215.8H349.3V223.7H350.2ZM174.3 223.4H197.6V231.3H174.3ZM304.4 223.4H335.2V231.3H304.4ZM350.2 223.4H349.3V231.3H350.2ZM174.3 231H197.6V239H174.3ZM296.7 231H349.3V239H296.7ZM212.6 238.7H228.2V246.6H212.6ZM296.7 238.7H349.3V246.6H296.7ZM182 246.3H189.9V254.2H182ZM204.9 246.3H228.2V254.2H204.9ZM296.7 246.3H349.3V254.2H296.7ZM204.9 253.9H228.2V261.8H204.9ZM304.4 253.9H349.3V261.8H304.4ZM204.9 261.5H228.2V269.4H204.9ZM304.4 261.5H349.3V269.4H304.4ZM204.9 269.1H220.5V277H204.9ZM304.4 269.1H349.3V277H304.4ZM204.9 276.7H212.9V284.6H204.9ZM250.8 276.7H266.4V284.6H250.8ZM281.4 276.7H349.3V284.6H281.4ZM243.2 284.3H349.3V292.2H243.2ZM235.5 291.9H349.3V299.7H235.5ZM220.2 299.4H349.3V307.3H220.2ZM212.6 307H349.3V314.9H212.6ZM212.6 314.6H349.3V322.4H212.6ZM220.2 322.1H349.3V330H220.2ZM227.9 329.7H349.3V337.6H227.9ZM220.2 337.3H349.3V345.1H220.2ZM227.9 344.8H349.3V352.7H227.9ZM220.2 352.4H349.3V360.2H220.2ZM227.9 359.9H349.3V367.7H227.9ZM227.9 367.4H349.3V375.3H227.9ZM220.2 375H349.3V382.8H220.2ZM220.2 382.5H349.3V390.3H220.2ZM220.2 390H349.3V397.8H220.2ZM212.6 397.5H349.3V405.3H212.6ZM212.6 405H304.7V412.9H212.6ZM312 405H349.3V412.9H312ZM197.2 412.6H297V420.4H197.2ZM304.4 412.6H349.3V420.4H304.4ZM197.2 420.1H289.4V427.9H197.2ZM296.7 420.1H342.9V427.9H296.7ZM350.2 420.1H349.3V427.9H350.2Z"/><path fill="#0060ff" d="M250.8 7.8H258.8V15.9H250.8ZM258.5 15.6H266.4V23.6H258.5ZM266.1 23.3H274.1V31.4H266.1ZM266.1 31.1H274.1V39.1H266.1ZM281.4 38.8H289.4V46.9H281.4ZM327.3 38.8H349.3V46.9H327.3ZM281.4 46.6H289.4V54.6H281.4ZM327.3 46.6H349.3V54.6H327.3ZM312 123.8H320V131.8H312ZM312 146.9H327.6V154.8H312ZM281.4 154.5H297V162.5H281.4ZM312 154.5H327.6V162.5H312ZM281.4 162.2H297V170.2H281.4ZM197.2 253.9H205.2V261.8H197.2Z"/><path fill="#00009f" d="M342.6 23.3H349.3V31.4H342.6ZM342.6 31.1H349.3V39.1H342.6ZM296.7 77.5H304.7V85.6H296.7ZM82.5 85.3H90.5V93.3H82.5ZM296.7 85.3H304.7V93.3H296.7ZM304.4 93H312.3V101H304.4ZM90.2 100.7H105.8V108.7H90.2ZM105.5 123.8H121V131.8H105.5ZM113.1 131.5H121V139.5H113.1ZM113.1 139.2H121V147.2H113.1ZM312 185.2H320V193.2H312ZM143.7 397.5H167V405.3H143.7ZM143.7 405H174.6V412.9H143.7ZM304.4 405H312.3V412.9H304.4ZM82.5 412.6H105.8V420.4H82.5ZM136.1 412.6H167V420.4H136.1ZM296.7 412.6H304.7V420.4H296.7ZM74.9 420.1H98.1V427.9H74.9ZM136.1 420.1H151.7V427.9H136.1ZM289.1 420.1H297V427.9H289.1ZM342.6 420.1H349.3V427.9H342.6Z"/><path fill="#0000ee" d="M266.1 69.8H297V77.8H266.1ZM266.1 77.5H289.4V85.6H266.1ZM273.8 85.3H289.4V93.3H273.8ZM273.8 93H304.7V101H273.8ZM273.8 100.7H312.3V108.7H273.8ZM97.8 108.4H113.4V116.4H97.8ZM273.8 108.4H281.7V116.4H273.8ZM296.7 108.4H312.3V116.4H296.7ZM105.5 116.1H113.4V124.1H105.5ZM273.8 116.1H281.7V124.1H273.8ZM113.1 146.9H128.7V154.8H113.1ZM113.1 154.5H128.7V162.5H113.1ZM113.1 162.2H128.7V170.2H113.1ZM120.8 169.9H144V177.8H120.8ZM227.9 169.9H235.8V177.8H227.9ZM250.8 169.9H274.1V177.8H250.8ZM312 169.9H327.6V177.8H312ZM120.8 177.5H144V185.5H120.8ZM220.2 177.5H266.4V185.5H220.2ZM312 177.5H320V185.5H312ZM120.8 185.2H144V193.2H120.8ZM235.5 185.2H258.8V193.2H235.5ZM304.4 185.2H312.3V193.2H304.4ZM120.8 192.9H151.7V200.8H120.8ZM204.9 192.9H212.9V200.8H204.9ZM235.5 192.9H251.1V200.8H235.5ZM296.7 192.9H312.3V200.8H296.7ZM120.8 200.5H151.7V208.4H120.8ZM174.3 200.5H212.9V208.4H174.3ZM235.5 200.5H251.1V208.4H235.5ZM289.1 200.5H312.3V208.4H289.1ZM166.7 208.1H197.6V216.1H166.7ZM204.9 208.1H243.5V216.1H204.9ZM281.4 208.1H304.7V216.1H281.4ZM334.9 208.1H349.3V216.1H334.9ZM166.7 215.8H174.6V223.7H166.7ZM197.2 215.8H243.5V223.7H197.2ZM281.4 215.8H304.7V223.7H281.4ZM334.9 215.8H349.3V223.7H334.9ZM197.2 223.4H243.5V231.3H197.2ZM266.1 223.4H304.7V231.3H266.1ZM334.9 223.4H349.3V231.3H334.9ZM197.2 231H243.5V239H197.2ZM266.1 231H297V239H266.1ZM182 238.7H212.9V246.6H182ZM227.9 238.7H297V246.6H227.9ZM227.9 246.3H297V254.2H227.9ZM227.9 253.9H304.7V261.8H227.9ZM227.9 261.5H304.7V269.4H227.9ZM182 269.1H189.9V277H182ZM220.2 269.1H304.7V277H220.2ZM212.6 276.7H251.1V284.6H212.6ZM266.1 276.7H281.7V284.6H266.1ZM204.9 284.3H243.5V292.2H204.9ZM212.6 291.9H235.8V299.7H212.6Z"/><path fill="#10ffee" d="M143.7 208.1H151.7V216.1H143.7ZM128.4 215.8H151.7V223.7H128.4ZM120.8 223.4H151.7V231.3H120.8ZM166.7 223.4H174.6V231.3H166.7ZM120.8 231H144V239H120.8ZM166.7 231H174.6V239H166.7ZM120.8 238.7H144V246.6H120.8ZM166.7 238.7H182.3V246.6H166.7ZM120.8 246.3H182.3V254.2H120.8ZM105.5 253.9H182.3V261.8H105.5ZM120.8 261.5H182.3V269.4H120.8ZM120.8 269.1H182.3V277H120.8ZM120.8 276.7H205.2V284.6H120.8ZM120.8 284.3H205.2V292.2H120.8ZM120.8 291.9H174.6V299.7H120.8ZM182 291.9H189.9V299.7H182ZM120.8 299.4H167V307.3H120.8ZM212.6 299.4H220.5V307.3H212.6ZM105.5 307H167V314.9H105.5ZM105.5 314.6H174.6V322.4H105.5ZM204.9 314.6H212.9V322.4H204.9ZM97.8 322.1H220.5V330H97.8ZM105.5 329.7H228.2V337.6H105.5ZM105.5 337.3H220.5V345.1H105.5ZM105.5 344.8H228.2V352.7H105.5ZM105.5 352.4H220.5V360.2H105.5ZM136.1 359.9H228.2V367.7H136.1ZM136.1 367.4H228.2V375.3H136.1ZM143.7 375H220.5V382.8H143.7ZM174.3 382.5H220.5V390.3H174.3ZM174.3 390H220.5V397.8H174.3ZM174.3 397.5H212.9V405.3H174.3ZM174.3 405H212.9V412.9H174.3ZM174.3 412.6H197.6V420.4H174.3ZM174.3 420.1H197.6V427.9H174.3Z"/><path fill="#40ffbe" d="M151.3 208.1H167V216.1H151.3ZM151.3 215.8H167V223.7H151.3ZM151.3 223.4H167V231.3H151.3ZM143.7 231H167V239H143.7ZM143.7 238.7H167V246.6H143.7ZM174.3 291.9H182.3V299.7H174.3ZM189.6 291.9H212.9V299.7H189.6ZM166.7 299.4H212.9V307.3H166.7ZM166.7 307H212.9V314.9H166.7ZM174.3 314.6H205.2V322.4H174.3Z"/><path fill="#c80000" d="M90.2 253.9H98.1V261.8H90.2ZM82.5 261.5H105.8V269.4H82.5ZM59.6 269.1H105.8V277H59.6ZM59.6 276.7H105.8V284.6H59.6ZM51.9 284.3H105.8V292.2H51.9ZM51.9 291.9H105.8V299.7H51.9ZM51.9 299.4H98.1V307.3H51.9ZM51.9 307H98.1V314.9H51.9ZM67.2 314.6H98.1V322.4H67.2Z"/><path fill="#00bfff" d="M97.8 253.9H105.8V261.8H97.8ZM44.2 291.9H52.2V299.7H44.2ZM36.6 299.4H52.2V307.3H36.6ZM29 307H52.2V314.9H29ZM21.3 314.6H67.5V322.4H21.3ZM13.7 322.1H98.1V330H13.7ZM6 329.7H105.8V337.6H6ZM6 337.3H105.8V345.1H6ZM6 344.8H105.8V352.7H6ZM6 352.4H105.8V360.2H6ZM6 359.9H136.4V367.7H6ZM6 367.4H136.4V375.3H6ZM6 375H144V382.8H6ZM6 382.5H174.6V390.3H6ZM6 390H174.6V397.8H6ZM6 397.5H144V405.3H6ZM166.7 397.5H174.6V405.3H166.7ZM6 405H144V412.9H6ZM6 412.6H82.8V420.4H6ZM105.5 412.6H136.4V420.4H105.5ZM166.7 412.6H174.6V420.4H166.7ZM6 420.1H75.2V427.9H6ZM97.8 420.1H136.4V427.9H97.8ZM151.3 420.1H174.6V427.9H151.3Z"/><path fill="#aeff50" d="M182 253.9H197.6V261.8H182ZM182 261.5H205.2V269.4H182ZM189.6 269.1H205.2V277H189.6Z"/><path fill="#880000" d="M105.5 261.5H121V269.4H105.5ZM105.5 269.1H121V277H105.5ZM105.5 276.7H121V284.6H105.5ZM105.5 284.3H121V292.2H105.5ZM105.5 291.9H121V299.7H105.5ZM97.8 299.4H121V307.3H97.8ZM97.8 307H105.8V314.9H97.8ZM97.8 314.6H105.8V322.4H97.8Z"/></g>
<use href="#land"/>
<use href="#sites"/>
</g>
<rect x="0" y="0" width="348" height="427.2" fill="none" stroke="#1a1a1a" stroke-width="1.1"/>
<use href="#ticks"/>
<rect x="4" y="20" width="112.6" height="25.5" fill="url(#jet)" stroke="#262626" stroke-width="1"/><text x="2.9" y="7.3" font-size="17.5" text-anchor="middle" fill="#333">0</text><text x="109.2" y="7.3" font-size="17.5" text-anchor="middle" fill="#333">50</text><text x="284.4" y="37.2" font-size="21.6">10 km</text><path d="M305.2 43.4H321.5" stroke="#000" stroke-width="3.4" stroke-linecap="round"/>
<text x="173" y="-12.5" font-size="25" font-weight="bold" text-anchor="middle">Site Codes</text>
</g>
</svg></body></html>
